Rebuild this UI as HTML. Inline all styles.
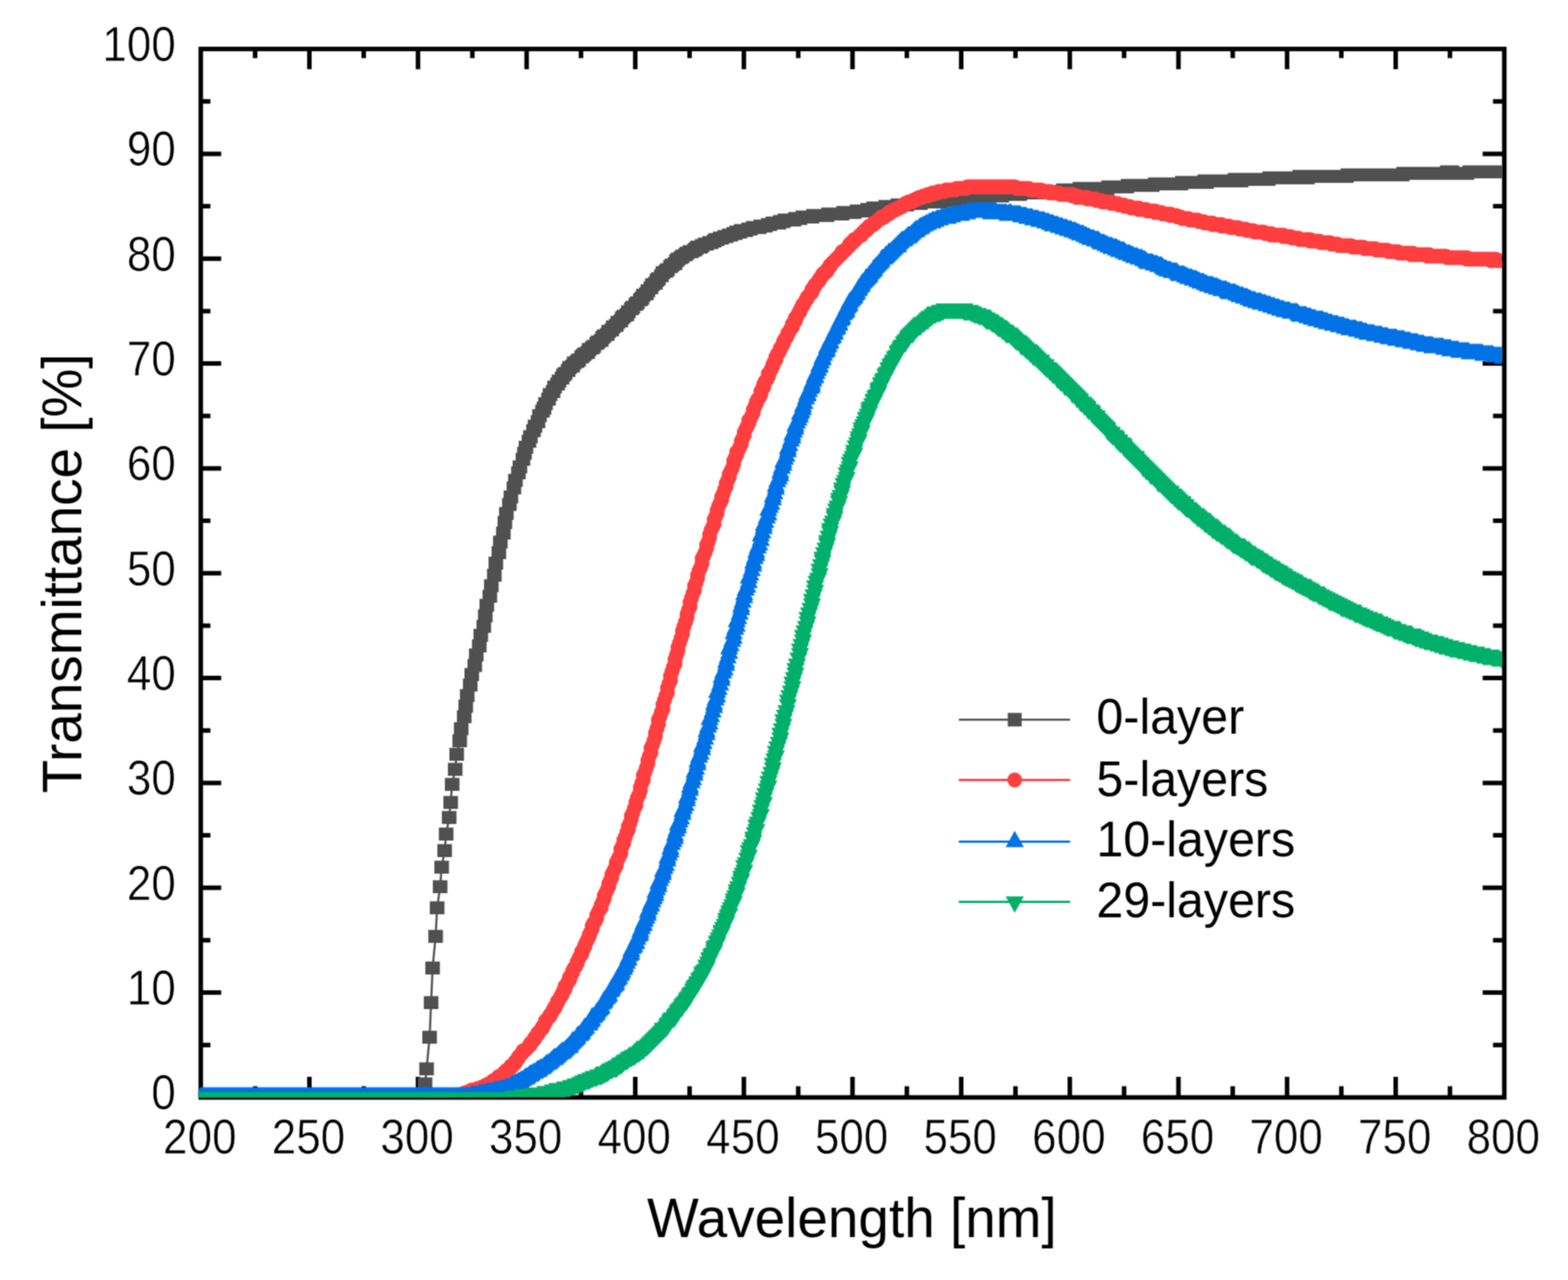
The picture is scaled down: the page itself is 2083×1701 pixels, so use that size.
<!DOCTYPE html>
<html lang="en">
<head>
<meta charset="utf-8">
<title>Transmittance vs Wavelength</title>
<style>
html,body{margin:0;padding:0;background:#fff;}
body{width:2083px;height:1701px;overflow:hidden;}
svg{display:block;}
text{font-family:"Liberation Sans", Arial, Helvetica, sans-serif;fill:#000;}
.tk{font-size:64.6px;stroke:#fff;stroke-width:0.7px;}
.ti{font-size:73.5px;}
.lg{font-size:67px;}
</style>
</head>
<body>
<svg xmlns="http://www.w3.org/2000/svg" width="2083" height="1701" viewBox="0 0 2083 1701">
<defs><clipPath id="pc"><rect x="263.4" y="61.8" width="1731.8" height="1396.4"/></clipPath><filter id="soft" filterUnits="userSpaceOnUse" x="0" y="0" width="2083" height="1701" color-interpolation-filters="sRGB"><feConvolveMatrix order="3" kernelMatrix="1 2 1 2 4 2 1 2 1" edgeMode="duplicate" preserveAlpha="true"/></filter></defs>
<g id="chart" filter="url(#soft)">
<rect x="0" y="0" width="2083" height="1701" fill="#fff"/>
<g id="axes">
<rect x="266.7" y="65.1" width="1731.7" height="1393.3" fill="none" stroke="#000" stroke-width="6.0"/>
<path d="M338.9,1458.4v-14.8M338.9,65.1v12.2M411,1458.4v-27.5M411,65.1v26.8M483.2,1458.4v-14.8M483.2,65.1v12.2M555.3,1458.4v-27.5M555.3,65.1v26.8M627.5,1458.4v-14.8M627.5,65.1v12.2M699.6,1458.4v-27.5M699.6,65.1v26.8M771.8,1458.4v-14.8M771.8,65.1v12.2M843.9,1458.4v-27.5M843.9,65.1v26.8M916.1,1458.4v-14.8M916.1,65.1v12.2M988.2,1458.4v-27.5M988.2,65.1v26.8M1060.4,1458.4v-14.8M1060.4,65.1v12.2M1132.5,1458.4v-27.5M1132.5,65.1v26.8M1204.7,1458.4v-14.8M1204.7,65.1v12.2M1276.9,1458.4v-27.5M1276.9,65.1v26.8M1349,1458.4v-14.8M1349,65.1v12.2M1421.2,1458.4v-27.5M1421.2,65.1v26.8M1493.3,1458.4v-14.8M1493.3,65.1v12.2M1565.5,1458.4v-27.5M1565.5,65.1v26.8M1637.6,1458.4v-14.8M1637.6,65.1v12.2M1709.8,1458.4v-27.5M1709.8,65.1v26.8M1781.9,1458.4v-14.8M1781.9,65.1v12.2M1854.1,1458.4v-27.5M1854.1,65.1v26.8M1926.2,1458.4v-14.8M1926.2,65.1v12.2M266.7,1388.7h12.8M1998.4,1388.7h-15M266.7,1319.1h27.1M1998.4,1319.1h-28.8M266.7,1249.4h12.8M1998.4,1249.4h-15M266.7,1179.7h27.1M1998.4,1179.7h-28.8M266.7,1110.1h12.8M1998.4,1110.1h-15M266.7,1040.4h27.1M1998.4,1040.4h-28.8M266.7,970.7h12.8M1998.4,970.7h-15M266.7,901.1h27.1M1998.4,901.1h-28.8M266.7,831.4h12.8M1998.4,831.4h-15M266.7,761.8h27.1M1998.4,761.8h-28.8M266.7,692.1h12.8M1998.4,692.1h-15M266.7,622.4h27.1M1998.4,622.4h-28.8M266.7,552.8h12.8M1998.4,552.8h-15M266.7,483.1h27.1M1998.4,483.1h-28.8M266.7,413.4h12.8M1998.4,413.4h-15M266.7,343.8h27.1M1998.4,343.8h-28.8M266.7,274.1h12.8M1998.4,274.1h-15M266.7,204.4h27.1M1998.4,204.4h-28.8M266.7,134.8h12.8M1998.4,134.8h-15" fill="none" stroke="#000" stroke-width="6.0"/>
</g>
<g id="curves" clip-path="url(#pc)">
<g fill="#505050" stroke="none"><path d="M266.7,1458.4 268.7,1458.4 272.7,1458.4 274.7,1458.4 278.7,1458.4 280.7,1458.4 284.7,1458.4 286.7,1458.4 290.7,1458.4 292.7,1458.4 294.7,1458.4 298.7,1458.4 300.7,1458.4 304.7,1458.4 306.7,1458.4 310.7,1458.4 312.7,1458.4 316.7,1458.4 318.7,1458.4 320.7,1458.4 324.7,1458.4 326.7,1458.4 330.7,1458.4 332.7,1458.4 336.7,1458.4 338.7,1458.4 342.7,1458.4 344.7,1458.4 346.7,1458.4 350.7,1458.4 352.7,1458.4 356.7,1458.4 358.7,1458.4 362.7,1458.4 364.7,1458.4 368.7,1458.4 370.7,1458.4 372.7,1458.4 376.7,1458.4 378.7,1458.4 382.7,1458.4 384.7,1458.4 388.7,1458.4 390.7,1458.4 392.7,1458.4 396.7,1458.4 398.7,1458.4 402.7,1458.4 404.7,1458.4 408.7,1458.4 410.7,1458.4 414.7,1458.4 416.7,1458.4 418.7,1458.4 422.7,1458.4 424.7,1458.4 428.7,1458.4 430.7,1458.4 434.7,1458.4 436.7,1458.4 440.7,1458.4 442.7,1458.4 444.7,1458.4 448.7,1458.4 450.7,1458.4 454.7,1458.4 456.7,1458.4 460.7,1458.4 462.7,1458.4 466.7,1458.4 468.7,1458.4 470.7,1458.4 474.7,1458.4 476.7,1458.4 480.7,1458.4 482.7,1458.4 486.7,1458.4 488.7,1458.4 492.7,1458.4 494.7,1458.4 496.7,1458.4 500.7,1458.4 502.7,1458.4 506.7,1458.4 508.7,1458.4 512.7,1458.4 514.7,1458.4 518.7,1458.4 520.7,1458.4 522.7,1458.4 526.7,1458.4 528.7,1458.4 532.7,1458.4 534.7,1458.4 538.7,1458.4 540.7,1458.4 544.7,1458.4 546.7,1458.4 548.7,1458.4 552.7,1458.4 554.7,1458.4 558.7,1458.4 560.7,1456.4 564.7,1440.4 566.7,1420.4 570.7,1378.4 572.7,1332.4 574.7,1286.4 578.7,1244.4 580.7,1206.4 584.7,1178.4 586.7,1152.4 590.7,1130.4 592.7,1108.4 596.7,1086.4 598.7,1066.4 600.7,1042.4 604.7,1022.4 606.7,1002.4 610.7,984.4 612.7,968.4 616.7,952.4 618.7,938.4 620.7,924.4 624.7,910.4 626.7,896.4 630.7,884.4 632.7,870.4 636.7,858.4 638.7,844.4 642.7,832.4 644.7,818.4 646.7,804.4 650.7,792.4 652.7,778.4 656.7,764.4 658.7,748.4 662.7,734.4 664.7,720.4 668.7,708.4 670.7,694.4 672.7,682.4 676.7,670.4 678.7,660.4 682.7,648.4 684.7,638.4 688.7,628.4 690.7,620.4 694.7,610.4 696.7,602.4 698.7,594.4 702.7,586.4 704.7,580.4 708.7,572.4 710.7,566.4 714.7,560.4 716.7,552.4 720.7,546.4 722.7,542.4 724.7,536.4 728.7,530.4 730.7,524.4 734.7,520.4 736.7,514.4 740.7,510.4 742.7,506.4 746.7,502.4 748.7,498.4 750.7,496.4 754.7,492.4 756.7,488.4 760.7,486.4 762.7,482.4 766.7,480.4 768.7,478.4 772.7,474.4 774.7,472.4 776.7,470.4 780.7,468.4 782.7,464.4 786.7,462.4 788.7,460.4 792.7,456.4 794.7,454.4 798.7,452.4 800.7,448.4 802.7,446.4 806.7,444.4 808.7,440.4 812.7,438.4 814.7,434.4 818.7,432.4 820.7,428.4 824.7,426.4 826.7,422.4 828.7,420.4 832.7,418.4 834.7,414.4 838.7,410.4 840.7,408.4 844.7,404.4 846.7,402.4 850.7,398.4 852.7,396.4 854.7,392.4 858.7,390.4 860.7,386.4 864.7,382.4 866.7,378.4 870.7,376.4 872.7,372.4 874.7,370.4 878.7,366.4 880.7,362.4 884.7,360.4 886.7,358.4 890.7,354.4 892.7,352.4 896.7,350.4 898.7,346.4 900.7,344.4 904.7,342.4 906.7,340.4 910.7,338.4 912.7,336.4 916.7,334.4 918.7,334.4 922.7,332.4 924.7,330.4 926.7,328.4 930.7,328.4 932.7,326.4 936.7,324.4 938.7,324.4 942.7,322.4 944.7,322.4 948.7,320.4 950.7,318.4 952.7,318.4 956.7,316.4 958.7,316.4 962.7,314.4 964.7,314.4 968.7,312.4 970.7,312.4 974.7,310.4 976.7,310.4 978.7,308.4 982.7,308.4 984.7,306.4 988.7,306.4 990.7,306.4 994.7,304.4 996.7,304.4 1000.7,302.4 1002.7,302.4 1004.7,302.4 1008.7,302.4 1010.7,300.4 1014.7,300.4 1016.7,300.4 1020.7,298.4 1022.7,298.4 1026.7,296.4 1028.7,296.4 1030.7,296.4 1034.7,296.4 1036.7,294.4 1040.7,294.4 1042.7,292.4 1046.7,292.4 1048.7,292.4 1052.7,292.4 1054.7,292.4 1056.7,290.4 1060.7,290.4 1062.7,290.4 1066.7,288.4 1068.7,288.4 1072.7,288.4 1074.7,288.4 1078.7,288.4 1080.7,286.4 1082.7,286.4 1086.7,286.4 1088.7,286.4 1092.7,286.4 1094.7,286.4 1098.7,286.4 1100.7,284.4 1102.7,284.4 1106.7,284.4 1108.7,284.4 1112.7,284.4 1114.7,284.4 1118.7,284.4 1120.7,282.4 1124.7,282.4 1126.7,282.4 1128.7,282.4 1132.7,282.4 1134.7,282.4 1138.7,280.4 1140.7,280.4 1144.7,280.4 1146.7,280.4 1150.7,280.4 1152.7,278.4 1154.7,278.4 1158.7,278.4 1160.7,276.4 1164.7,276.4 1166.7,276.4 1170.7,276.4 1172.7,276.4 1176.7,274.4 1178.7,274.4 1180.7,274.4 1184.7,274.4 1186.7,274.4 1190.7,274.4 1192.7,272.4 1196.7,272.4 1198.7,272.4 1202.7,272.4 1204.7,272.4 1206.7,270.4 1210.7,270.4 1212.7,270.4 1216.7,270.4 1218.7,270.4 1222.7,270.4 1224.7,268.4 1228.7,268.4 1230.7,268.4 1232.7,268.4 1236.7,268.4 1238.7,268.4 1242.7,268.4 1244.7,268.4 1248.7,268.4 1250.7,266.4 1254.7,266.4 1256.7,266.4 1258.7,266.4 1262.7,264.4 1264.7,266.4 1268.7,266.4 1270.7,264.4 1274.7,264.4 1276.7,264.4 1280.7,264.4 1282.7,264.4 1284.7,264.4 1288.7,262.4 1290.7,262.4 1294.7,262.4 1296.7,262.4 1300.7,262.4 1302.7,262.4 1306.7,262.4 1308.7,262.4 1310.7,262.4 1314.7,260.4 1316.7,260.4 1320.7,260.4 1322.7,260.4 1326.7,260.4 1328.7,260.4 1330.7,260.4 1334.7,258.4 1336.7,258.4 1340.7,258.4 1342.7,258.4 1346.7,258.4 1348.7,258.4 1352.7,258.4 1354.7,258.4 1356.7,256.4 1360.7,256.4 1362.7,256.4 1366.7,256.4 1368.7,256.4 1372.7,256.4 1374.7,256.4 1378.7,256.4 1380.7,256.4 1382.7,256.4 1386.7,254.4 1388.7,254.4 1392.7,254.4 1394.7,254.4 1398.7,254.4 1400.7,254.4 1404.7,254.4 1406.7,254.4 1408.7,254.4 1412.7,252.4 1414.7,252.4 1418.7,252.4 1420.7,252.4 1424.7,252.4 1426.7,252.4 1430.7,252.4 1432.7,252.4 1434.7,250.4 1438.7,250.4 1440.7,250.4 1444.7,250.4 1446.7,250.4 1450.7,250.4 1452.7,250.4 1456.7,250.4 1458.7,250.4 1460.7,250.4 1464.7,250.4 1466.7,250.4 1470.7,250.4 1472.7,248.4 1476.7,248.4 1478.7,248.4 1482.7,248.4 1484.7,248.4 1486.7,248.4 1490.7,248.4 1492.7,248.4 1496.7,248.4 1498.7,246.4 1502.7,246.4 1504.7,246.4 1508.7,246.4 1510.7,246.4 1512.7,246.4 1516.7,246.4 1518.7,246.4 1522.7,246.4 1524.7,246.4 1528.7,246.4 1530.7,246.4 1534.7,244.4 1536.7,244.4 1538.7,244.4 1542.7,244.4 1544.7,244.4 1548.7,244.4 1550.7,244.4 1554.7,244.4 1556.7,244.4 1560.7,244.4 1562.7,244.4 1564.7,244.4 1568.7,244.4 1570.7,242.4 1574.7,242.4 1576.7,242.4 1580.7,242.4 1582.7,242.4 1584.7,242.4 1588.7,242.4 1590.7,242.4 1594.7,242.4 1596.7,242.4 1600.7,240.4 1602.7,242.4 1606.7,240.4 1608.7,240.4 1610.7,240.4 1614.7,240.4 1616.7,240.4 1620.7,240.4 1622.7,240.4 1626.7,240.4 1628.7,240.4 1632.7,240.4 1634.7,240.4 1636.7,240.4 1640.7,238.4 1642.7,238.4 1646.7,238.4 1648.7,240.4 1652.7,238.4 1654.7,238.4 1658.7,238.4 1660.7,238.4 1662.7,238.4 1666.7,238.4 1668.7,238.4 1672.7,238.4 1674.7,238.4 1678.7,238.4 1680.7,238.4 1684.7,238.4 1686.7,236.4 1688.7,236.4 1692.7,236.4 1694.7,236.4 1698.7,236.4 1700.7,236.4 1704.7,236.4 1706.7,236.4 1710.7,236.4 1712.7,236.4 1714.7,236.4 1718.7,236.4 1720.7,236.4 1724.7,236.4 1726.7,234.4 1730.7,234.4 1732.7,234.4 1736.7,236.4 1738.7,234.4 1740.7,234.4 1744.7,234.4 1746.7,234.4 1750.7,234.4 1752.7,234.4 1756.7,234.4 1758.7,234.4 1762.7,234.4 1764.7,234.4 1766.7,234.4 1770.7,234.4 1772.7,234.4 1776.7,234.4 1778.7,234.4 1782.7,234.4 1784.7,234.4 1788.7,234.4 1790.7,232.4 1792.7,232.4 1796.7,232.4 1798.7,232.4 1802.7,232.4 1804.7,232.4 1808.7,232.4 1810.7,232.4 1812.7,232.4 1816.7,232.4 1818.7,232.4 1822.7,232.4 1824.7,232.4 1828.7,232.4 1830.7,232.4 1834.7,232.4 1836.7,232.4 1838.7,232.4 1842.7,232.4 1844.7,232.4 1848.7,232.4 1850.7,232.4 1854.7,232.4 1856.7,232.4 1860.7,232.4 1862.7,232.4 1864.7,230.4 1868.7,230.4 1870.7,230.4 1874.7,230.4 1876.7,230.4 1880.7,230.4 1882.7,230.4 1886.7,230.4 1888.7,230.4 1890.7,230.4 1894.7,230.4 1896.7,230.4 1900.7,230.4 1902.7,230.4 1906.7,230.4 1908.7,230.4 1912.7,230.4 1914.7,230.4 1916.7,230.4 1920.7,230.4 1922.7,228.4 1926.7,230.4 1928.7,228.4 1932.7,230.4 1934.7,230.4 1938.7,230.4 1940.7,230.4 1942.7,230.4 1946.7,230.4 1948.7,230.4 1952.7,228.4 1954.7,228.4 1958.7,228.4 1960.7,228.4 1964.7,228.4 1966.7,228.4 1968.7,228.4 1972.7,228.4 1974.7,228.4 1978.7,228.4 1980.7,228.4 1984.7,228.4 1986.7,228.4 1990.7,228.4 1992.7,228.4 1994.7,228.4 1998.7,228.4" fill="none" stroke="#505050" stroke-width="2.8"/><path d="M257,1449.8h19.4v17.2h-19.4zM259,1449.8h19.4v17.2h-19.4zM263,1449.8h19.4v17.2h-19.4zM265,1449.8h19.4v17.2h-19.4zM269,1449.8h19.4v17.2h-19.4zM271,1449.8h19.4v17.2h-19.4zM275,1449.8h19.4v17.2h-19.4zM277,1449.8h19.4v17.2h-19.4zM281,1449.8h19.4v17.2h-19.4zM283,1449.8h19.4v17.2h-19.4zM285,1449.8h19.4v17.2h-19.4zM289,1449.8h19.4v17.2h-19.4zM291,1449.8h19.4v17.2h-19.4zM295,1449.8h19.4v17.2h-19.4zM297,1449.8h19.4v17.2h-19.4zM301,1449.8h19.4v17.2h-19.4zM303,1449.8h19.4v17.2h-19.4zM307,1449.8h19.4v17.2h-19.4zM309,1449.8h19.4v17.2h-19.4zM311,1449.8h19.4v17.2h-19.4zM315,1449.8h19.4v17.2h-19.4zM317,1449.8h19.4v17.2h-19.4zM321,1449.8h19.4v17.2h-19.4zM323,1449.8h19.4v17.2h-19.4zM327,1449.8h19.4v17.2h-19.4zM329,1449.8h19.4v17.2h-19.4zM333,1449.8h19.4v17.2h-19.4zM335,1449.8h19.4v17.2h-19.4zM337,1449.8h19.4v17.2h-19.4zM341,1449.8h19.4v17.2h-19.4zM343,1449.8h19.4v17.2h-19.4zM347,1449.8h19.4v17.2h-19.4zM349,1449.8h19.4v17.2h-19.4zM353,1449.8h19.4v17.2h-19.4zM355,1449.8h19.4v17.2h-19.4zM359,1449.8h19.4v17.2h-19.4zM361,1449.8h19.4v17.2h-19.4zM363,1449.8h19.4v17.2h-19.4zM367,1449.8h19.4v17.2h-19.4zM369,1449.8h19.4v17.2h-19.4zM373,1449.8h19.4v17.2h-19.4zM375,1449.8h19.4v17.2h-19.4zM379,1449.8h19.4v17.2h-19.4zM381,1449.8h19.4v17.2h-19.4zM383,1449.8h19.4v17.2h-19.4zM387,1449.8h19.4v17.2h-19.4zM389,1449.8h19.4v17.2h-19.4zM393,1449.8h19.4v17.2h-19.4zM395,1449.8h19.4v17.2h-19.4zM399,1449.8h19.4v17.2h-19.4zM401,1449.8h19.4v17.2h-19.4zM405,1449.8h19.4v17.2h-19.4zM407,1449.8h19.4v17.2h-19.4zM409,1449.8h19.4v17.2h-19.4zM413,1449.8h19.4v17.2h-19.4zM415,1449.8h19.4v17.2h-19.4zM419,1449.8h19.4v17.2h-19.4zM421,1449.8h19.4v17.2h-19.4zM425,1449.8h19.4v17.2h-19.4zM427,1449.8h19.4v17.2h-19.4zM431,1449.8h19.4v17.2h-19.4zM433,1449.8h19.4v17.2h-19.4zM435,1449.8h19.4v17.2h-19.4zM439,1449.8h19.4v17.2h-19.4zM441,1449.8h19.4v17.2h-19.4zM445,1449.8h19.4v17.2h-19.4zM447,1449.8h19.4v17.2h-19.4zM451,1449.8h19.4v17.2h-19.4zM453,1449.8h19.4v17.2h-19.4zM457,1449.8h19.4v17.2h-19.4zM459,1449.8h19.4v17.2h-19.4zM461,1449.8h19.4v17.2h-19.4zM465,1449.8h19.4v17.2h-19.4zM467,1449.8h19.4v17.2h-19.4zM471,1449.8h19.4v17.2h-19.4zM473,1449.8h19.4v17.2h-19.4zM477,1449.8h19.4v17.2h-19.4zM479,1449.8h19.4v17.2h-19.4zM483,1449.8h19.4v17.2h-19.4zM485,1449.8h19.4v17.2h-19.4zM487,1449.8h19.4v17.2h-19.4zM491,1449.8h19.4v17.2h-19.4zM493,1449.8h19.4v17.2h-19.4zM497,1449.8h19.4v17.2h-19.4zM499,1449.8h19.4v17.2h-19.4zM503,1449.8h19.4v17.2h-19.4zM505,1449.8h19.4v17.2h-19.4zM509,1449.8h19.4v17.2h-19.4zM511,1449.8h19.4v17.2h-19.4zM513,1449.8h19.4v17.2h-19.4zM517,1449.8h19.4v17.2h-19.4zM519,1449.8h19.4v17.2h-19.4zM523,1449.8h19.4v17.2h-19.4zM525,1449.8h19.4v17.2h-19.4zM529,1449.8h19.4v17.2h-19.4zM531,1449.8h19.4v17.2h-19.4zM535,1449.8h19.4v17.2h-19.4zM537,1449.8h19.4v17.2h-19.4zM539,1449.8h19.4v17.2h-19.4zM543,1449.8h19.4v17.2h-19.4zM545,1449.8h19.4v17.2h-19.4zM549,1449.8h19.4v17.2h-19.4zM551,1447.8h19.4v17.2h-19.4zM555,1431.8h19.4v17.2h-19.4zM557,1411.8h19.4v17.2h-19.4zM561,1369.8h19.4v17.2h-19.4zM563,1323.8h19.4v17.2h-19.4zM565,1277.8h19.4v17.2h-19.4zM569,1235.8h19.4v17.2h-19.4zM571,1197.8h19.4v17.2h-19.4zM575,1169.8h19.4v17.2h-19.4zM577,1143.8h19.4v17.2h-19.4zM581,1121.8h19.4v17.2h-19.4zM583,1099.8h19.4v17.2h-19.4zM587,1077.8h19.4v17.2h-19.4zM589,1057.8h19.4v17.2h-19.4zM591,1033.8h19.4v17.2h-19.4zM595,1013.8h19.4v17.2h-19.4zM597,993.8h19.4v17.2h-19.4zM601,975.8h19.4v17.2h-19.4zM603,959.8h19.4v17.2h-19.4zM607,943.8h19.4v17.2h-19.4zM609,929.8h19.4v17.2h-19.4zM611,915.8h19.4v17.2h-19.4zM615,901.8h19.4v17.2h-19.4zM617,887.8h19.4v17.2h-19.4zM621,875.8h19.4v17.2h-19.4zM623,861.8h19.4v17.2h-19.4zM627,849.8h19.4v17.2h-19.4zM629,835.8h19.4v17.2h-19.4zM633,823.8h19.4v17.2h-19.4zM635,809.8h19.4v17.2h-19.4zM637,795.8h19.4v17.2h-19.4zM641,783.8h19.4v17.2h-19.4zM643,769.8h19.4v17.2h-19.4zM647,755.8h19.4v17.2h-19.4zM649,739.8h19.4v17.2h-19.4zM653,725.8h19.4v17.2h-19.4zM655,711.8h19.4v17.2h-19.4zM659,699.8h19.4v17.2h-19.4zM661,685.8h19.4v17.2h-19.4zM663,673.8h19.4v17.2h-19.4zM667,661.8h19.4v17.2h-19.4zM669,651.8h19.4v17.2h-19.4zM673,639.8h19.4v17.2h-19.4zM675,629.8h19.4v17.2h-19.4zM679,619.8h19.4v17.2h-19.4zM681,611.8h19.4v17.2h-19.4zM685,601.8h19.4v17.2h-19.4zM687,593.8h19.4v17.2h-19.4zM689,585.8h19.4v17.2h-19.4zM693,577.8h19.4v17.2h-19.4zM695,571.8h19.4v17.2h-19.4zM699,563.8h19.4v17.2h-19.4zM701,557.8h19.4v17.2h-19.4zM705,551.8h19.4v17.2h-19.4zM707,543.8h19.4v17.2h-19.4zM711,537.8h19.4v17.2h-19.4zM713,533.8h19.4v17.2h-19.4zM715,527.8h19.4v17.2h-19.4zM719,521.8h19.4v17.2h-19.4zM721,515.8h19.4v17.2h-19.4zM725,511.8h19.4v17.2h-19.4zM727,505.8h19.4v17.2h-19.4zM731,501.8h19.4v17.2h-19.4zM733,497.8h19.4v17.2h-19.4zM737,493.8h19.4v17.2h-19.4zM739,489.8h19.4v17.2h-19.4zM741,487.8h19.4v17.2h-19.4zM745,483.8h19.4v17.2h-19.4zM747,479.8h19.4v17.2h-19.4zM751,477.8h19.4v17.2h-19.4zM753,473.8h19.4v17.2h-19.4zM757,471.8h19.4v17.2h-19.4zM759,469.8h19.4v17.2h-19.4zM763,465.8h19.4v17.2h-19.4zM765,463.8h19.4v17.2h-19.4zM767,461.8h19.4v17.2h-19.4zM771,459.8h19.4v17.2h-19.4zM773,455.8h19.4v17.2h-19.4zM777,453.8h19.4v17.2h-19.4zM779,451.8h19.4v17.2h-19.4zM783,447.8h19.4v17.2h-19.4zM785,445.8h19.4v17.2h-19.4zM789,443.8h19.4v17.2h-19.4zM791,439.8h19.4v17.2h-19.4zM793,437.8h19.4v17.2h-19.4zM797,435.8h19.4v17.2h-19.4zM799,431.8h19.4v17.2h-19.4zM803,429.8h19.4v17.2h-19.4zM805,425.8h19.4v17.2h-19.4zM809,423.8h19.4v17.2h-19.4zM811,419.8h19.4v17.2h-19.4zM815,417.8h19.4v17.2h-19.4zM817,413.8h19.4v17.2h-19.4zM819,411.8h19.4v17.2h-19.4zM823,409.8h19.4v17.2h-19.4zM825,405.8h19.4v17.2h-19.4zM829,401.8h19.4v17.2h-19.4zM831,399.8h19.4v17.2h-19.4zM835,395.8h19.4v17.2h-19.4zM837,393.8h19.4v17.2h-19.4zM841,389.8h19.4v17.2h-19.4zM843,387.8h19.4v17.2h-19.4zM845,383.8h19.4v17.2h-19.4zM849,381.8h19.4v17.2h-19.4zM851,377.8h19.4v17.2h-19.4zM855,373.8h19.4v17.2h-19.4zM857,369.8h19.4v17.2h-19.4zM861,367.8h19.4v17.2h-19.4zM863,363.8h19.4v17.2h-19.4zM865,361.8h19.4v17.2h-19.4zM869,357.8h19.4v17.2h-19.4zM871,353.8h19.4v17.2h-19.4zM875,351.8h19.4v17.2h-19.4zM877,349.8h19.4v17.2h-19.4zM881,345.8h19.4v17.2h-19.4zM883,343.8h19.4v17.2h-19.4zM887,341.8h19.4v17.2h-19.4zM889,337.8h19.4v17.2h-19.4zM891,335.8h19.4v17.2h-19.4zM895,333.8h19.4v17.2h-19.4zM897,331.8h19.4v17.2h-19.4zM901,329.8h19.4v17.2h-19.4zM903,327.8h19.4v17.2h-19.4zM907,325.8h19.4v17.2h-19.4zM909,325.8h19.4v17.2h-19.4zM913,323.8h19.4v17.2h-19.4zM915,321.8h19.4v17.2h-19.4zM917,319.8h19.4v17.2h-19.4zM921,319.8h19.4v17.2h-19.4zM923,317.8h19.4v17.2h-19.4zM927,315.8h19.4v17.2h-19.4zM929,315.8h19.4v17.2h-19.4zM933,313.8h19.4v17.2h-19.4zM935,313.8h19.4v17.2h-19.4zM939,311.8h19.4v17.2h-19.4zM941,309.8h19.4v17.2h-19.4zM943,309.8h19.4v17.2h-19.4zM947,307.8h19.4v17.2h-19.4zM949,307.8h19.4v17.2h-19.4zM953,305.8h19.4v17.2h-19.4zM955,305.8h19.4v17.2h-19.4zM959,303.8h19.4v17.2h-19.4zM961,303.8h19.4v17.2h-19.4zM965,301.8h19.4v17.2h-19.4zM967,301.8h19.4v17.2h-19.4zM969,299.8h19.4v17.2h-19.4zM973,299.8h19.4v17.2h-19.4zM975,297.8h19.4v17.2h-19.4zM979,297.8h19.4v17.2h-19.4zM981,297.8h19.4v17.2h-19.4zM985,295.8h19.4v17.2h-19.4zM987,295.8h19.4v17.2h-19.4zM991,293.8h19.4v17.2h-19.4zM993,293.8h19.4v17.2h-19.4zM995,293.8h19.4v17.2h-19.4zM999,293.8h19.4v17.2h-19.4zM1001,291.8h19.4v17.2h-19.4zM1005,291.8h19.4v17.2h-19.4zM1007,291.8h19.4v17.2h-19.4zM1011,289.8h19.4v17.2h-19.4zM1013,289.8h19.4v17.2h-19.4zM1017,287.8h19.4v17.2h-19.4zM1019,287.8h19.4v17.2h-19.4zM1021,287.8h19.4v17.2h-19.4zM1025,287.8h19.4v17.2h-19.4zM1027,285.8h19.4v17.2h-19.4zM1031,285.8h19.4v17.2h-19.4zM1033,283.8h19.4v17.2h-19.4zM1037,283.8h19.4v17.2h-19.4zM1039,283.8h19.4v17.2h-19.4zM1043,283.8h19.4v17.2h-19.4zM1045,283.8h19.4v17.2h-19.4zM1047,281.8h19.4v17.2h-19.4zM1051,281.8h19.4v17.2h-19.4zM1053,281.8h19.4v17.2h-19.4zM1057,279.8h19.4v17.2h-19.4zM1059,279.8h19.4v17.2h-19.4zM1063,279.8h19.4v17.2h-19.4zM1065,279.8h19.4v17.2h-19.4zM1069,279.8h19.4v17.2h-19.4zM1071,277.8h19.4v17.2h-19.4zM1073,277.8h19.4v17.2h-19.4zM1077,277.8h19.4v17.2h-19.4zM1079,277.8h19.4v17.2h-19.4zM1083,277.8h19.4v17.2h-19.4zM1085,277.8h19.4v17.2h-19.4zM1089,277.8h19.4v17.2h-19.4zM1091,275.8h19.4v17.2h-19.4zM1093,275.8h19.4v17.2h-19.4zM1097,275.8h19.4v17.2h-19.4zM1099,275.8h19.4v17.2h-19.4zM1103,275.8h19.4v17.2h-19.4zM1105,275.8h19.4v17.2h-19.4zM1109,275.8h19.4v17.2h-19.4zM1111,273.8h19.4v17.2h-19.4zM1115,273.8h19.4v17.2h-19.4zM1117,273.8h19.4v17.2h-19.4zM1119,273.8h19.4v17.2h-19.4zM1123,273.8h19.4v17.2h-19.4zM1125,273.8h19.4v17.2h-19.4zM1129,271.8h19.4v17.2h-19.4zM1131,271.8h19.4v17.2h-19.4zM1135,271.8h19.4v17.2h-19.4zM1137,271.8h19.4v17.2h-19.4zM1141,271.8h19.4v17.2h-19.4zM1143,269.8h19.4v17.2h-19.4zM1145,269.8h19.4v17.2h-19.4zM1149,269.8h19.4v17.2h-19.4zM1151,267.8h19.4v17.2h-19.4zM1155,267.8h19.4v17.2h-19.4zM1157,267.8h19.4v17.2h-19.4zM1161,267.8h19.4v17.2h-19.4zM1163,267.8h19.4v17.2h-19.4zM1167,265.8h19.4v17.2h-19.4zM1169,265.8h19.4v17.2h-19.4zM1171,265.8h19.4v17.2h-19.4zM1175,265.8h19.4v17.2h-19.4zM1177,265.8h19.4v17.2h-19.4zM1181,265.8h19.4v17.2h-19.4zM1183,263.8h19.4v17.2h-19.4zM1187,263.8h19.4v17.2h-19.4zM1189,263.8h19.4v17.2h-19.4zM1193,263.8h19.4v17.2h-19.4zM1195,263.8h19.4v17.2h-19.4zM1197,261.8h19.4v17.2h-19.4zM1201,261.8h19.4v17.2h-19.4zM1203,261.8h19.4v17.2h-19.4zM1207,261.8h19.4v17.2h-19.4zM1209,261.8h19.4v17.2h-19.4zM1213,261.8h19.4v17.2h-19.4zM1215,259.8h19.4v17.2h-19.4zM1219,259.8h19.4v17.2h-19.4zM1221,259.8h19.4v17.2h-19.4zM1223,259.8h19.4v17.2h-19.4zM1227,259.8h19.4v17.2h-19.4zM1229,259.8h19.4v17.2h-19.4zM1233,259.8h19.4v17.2h-19.4zM1235,259.8h19.4v17.2h-19.4zM1239,259.8h19.4v17.2h-19.4zM1241,257.8h19.4v17.2h-19.4zM1245,257.8h19.4v17.2h-19.4zM1247,257.8h19.4v17.2h-19.4zM1249,257.8h19.4v17.2h-19.4zM1253,255.8h19.4v17.2h-19.4zM1255,257.8h19.4v17.2h-19.4zM1259,257.8h19.4v17.2h-19.4zM1261,255.8h19.4v17.2h-19.4zM1265,255.8h19.4v17.2h-19.4zM1267,255.8h19.4v17.2h-19.4zM1271,255.8h19.4v17.2h-19.4zM1273,255.8h19.4v17.2h-19.4zM1275,255.8h19.4v17.2h-19.4zM1279,253.8h19.4v17.2h-19.4zM1281,253.8h19.4v17.2h-19.4zM1285,253.8h19.4v17.2h-19.4zM1287,253.8h19.4v17.2h-19.4zM1291,253.8h19.4v17.2h-19.4zM1293,253.8h19.4v17.2h-19.4zM1297,253.8h19.4v17.2h-19.4zM1299,253.8h19.4v17.2h-19.4zM1301,253.8h19.4v17.2h-19.4zM1305,251.8h19.4v17.2h-19.4zM1307,251.8h19.4v17.2h-19.4zM1311,251.8h19.4v17.2h-19.4zM1313,251.8h19.4v17.2h-19.4zM1317,251.8h19.4v17.2h-19.4zM1319,251.8h19.4v17.2h-19.4zM1321,251.8h19.4v17.2h-19.4zM1325,249.8h19.4v17.2h-19.4zM1327,249.8h19.4v17.2h-19.4zM1331,249.8h19.4v17.2h-19.4zM1333,249.8h19.4v17.2h-19.4zM1337,249.8h19.4v17.2h-19.4zM1339,249.8h19.4v17.2h-19.4zM1343,249.8h19.4v17.2h-19.4zM1345,249.8h19.4v17.2h-19.4zM1347,247.8h19.4v17.2h-19.4zM1351,247.8h19.4v17.2h-19.4zM1353,247.8h19.4v17.2h-19.4zM1357,247.8h19.4v17.2h-19.4zM1359,247.8h19.4v17.2h-19.4zM1363,247.8h19.4v17.2h-19.4zM1365,247.8h19.4v17.2h-19.4zM1369,247.8h19.4v17.2h-19.4zM1371,247.8h19.4v17.2h-19.4zM1373,247.8h19.4v17.2h-19.4zM1377,245.8h19.4v17.2h-19.4zM1379,245.8h19.4v17.2h-19.4zM1383,245.8h19.4v17.2h-19.4zM1385,245.8h19.4v17.2h-19.4zM1389,245.8h19.4v17.2h-19.4zM1391,245.8h19.4v17.2h-19.4zM1395,245.8h19.4v17.2h-19.4zM1397,245.8h19.4v17.2h-19.4zM1399,245.8h19.4v17.2h-19.4zM1403,243.8h19.4v17.2h-19.4zM1405,243.8h19.4v17.2h-19.4zM1409,243.8h19.4v17.2h-19.4zM1411,243.8h19.4v17.2h-19.4zM1415,243.8h19.4v17.2h-19.4zM1417,243.8h19.4v17.2h-19.4zM1421,243.8h19.4v17.2h-19.4zM1423,243.8h19.4v17.2h-19.4zM1425,241.8h19.4v17.2h-19.4zM1429,241.8h19.4v17.2h-19.4zM1431,241.8h19.4v17.2h-19.4zM1435,241.8h19.4v17.2h-19.4zM1437,241.8h19.4v17.2h-19.4zM1441,241.8h19.4v17.2h-19.4zM1443,241.8h19.4v17.2h-19.4zM1447,241.8h19.4v17.2h-19.4zM1449,241.8h19.4v17.2h-19.4zM1451,241.8h19.4v17.2h-19.4zM1455,241.8h19.4v17.2h-19.4zM1457,241.8h19.4v17.2h-19.4zM1461,241.8h19.4v17.2h-19.4zM1463,239.8h19.4v17.2h-19.4zM1467,239.8h19.4v17.2h-19.4zM1469,239.8h19.4v17.2h-19.4zM1473,239.8h19.4v17.2h-19.4zM1475,239.8h19.4v17.2h-19.4zM1477,239.8h19.4v17.2h-19.4zM1481,239.8h19.4v17.2h-19.4zM1483,239.8h19.4v17.2h-19.4zM1487,239.8h19.4v17.2h-19.4zM1489,237.8h19.4v17.2h-19.4zM1493,237.8h19.4v17.2h-19.4zM1495,237.8h19.4v17.2h-19.4zM1499,237.8h19.4v17.2h-19.4zM1501,237.8h19.4v17.2h-19.4zM1503,237.8h19.4v17.2h-19.4zM1507,237.8h19.4v17.2h-19.4zM1509,237.8h19.4v17.2h-19.4zM1513,237.8h19.4v17.2h-19.4zM1515,237.8h19.4v17.2h-19.4zM1519,237.8h19.4v17.2h-19.4zM1521,237.8h19.4v17.2h-19.4zM1525,235.8h19.4v17.2h-19.4zM1527,235.8h19.4v17.2h-19.4zM1529,235.8h19.4v17.2h-19.4zM1533,235.8h19.4v17.2h-19.4zM1535,235.8h19.4v17.2h-19.4zM1539,235.8h19.4v17.2h-19.4zM1541,235.8h19.4v17.2h-19.4zM1545,235.8h19.4v17.2h-19.4zM1547,235.8h19.4v17.2h-19.4zM1551,235.8h19.4v17.2h-19.4zM1553,235.8h19.4v17.2h-19.4zM1555,235.8h19.4v17.2h-19.4zM1559,235.8h19.4v17.2h-19.4zM1561,233.8h19.4v17.2h-19.4zM1565,233.8h19.4v17.2h-19.4zM1567,233.8h19.4v17.2h-19.4zM1571,233.8h19.4v17.2h-19.4zM1573,233.8h19.4v17.2h-19.4zM1575,233.8h19.4v17.2h-19.4zM1579,233.8h19.4v17.2h-19.4zM1581,233.8h19.4v17.2h-19.4zM1585,233.8h19.4v17.2h-19.4zM1587,233.8h19.4v17.2h-19.4zM1591,231.8h19.4v17.2h-19.4zM1593,233.8h19.4v17.2h-19.4zM1597,231.8h19.4v17.2h-19.4zM1599,231.8h19.4v17.2h-19.4zM1601,231.8h19.4v17.2h-19.4zM1605,231.8h19.4v17.2h-19.4zM1607,231.8h19.4v17.2h-19.4zM1611,231.8h19.4v17.2h-19.4zM1613,231.8h19.4v17.2h-19.4zM1617,231.8h19.4v17.2h-19.4zM1619,231.8h19.4v17.2h-19.4zM1623,231.8h19.4v17.2h-19.4zM1625,231.8h19.4v17.2h-19.4zM1627,231.8h19.4v17.2h-19.4zM1631,229.8h19.4v17.2h-19.4zM1633,229.8h19.4v17.2h-19.4zM1637,229.8h19.4v17.2h-19.4zM1639,231.8h19.4v17.2h-19.4zM1643,229.8h19.4v17.2h-19.4zM1645,229.8h19.4v17.2h-19.4zM1649,229.8h19.4v17.2h-19.4zM1651,229.8h19.4v17.2h-19.4zM1653,229.8h19.4v17.2h-19.4zM1657,229.8h19.4v17.2h-19.4zM1659,229.8h19.4v17.2h-19.4zM1663,229.8h19.4v17.2h-19.4zM1665,229.8h19.4v17.2h-19.4zM1669,229.8h19.4v17.2h-19.4zM1671,229.8h19.4v17.2h-19.4zM1675,229.8h19.4v17.2h-19.4zM1677,227.8h19.4v17.2h-19.4zM1679,227.8h19.4v17.2h-19.4zM1683,227.8h19.4v17.2h-19.4zM1685,227.8h19.4v17.2h-19.4zM1689,227.8h19.4v17.2h-19.4zM1691,227.8h19.4v17.2h-19.4zM1695,227.8h19.4v17.2h-19.4zM1697,227.8h19.4v17.2h-19.4zM1701,227.8h19.4v17.2h-19.4zM1703,227.8h19.4v17.2h-19.4zM1705,227.8h19.4v17.2h-19.4zM1709,227.8h19.4v17.2h-19.4zM1711,227.8h19.4v17.2h-19.4zM1715,227.8h19.4v17.2h-19.4zM1717,225.8h19.4v17.2h-19.4zM1721,225.8h19.4v17.2h-19.4zM1723,225.8h19.4v17.2h-19.4zM1727,227.8h19.4v17.2h-19.4zM1729,225.8h19.4v17.2h-19.4zM1731,225.8h19.4v17.2h-19.4zM1735,225.8h19.4v17.2h-19.4zM1737,225.8h19.4v17.2h-19.4zM1741,225.8h19.4v17.2h-19.4zM1743,225.8h19.4v17.2h-19.4zM1747,225.8h19.4v17.2h-19.4zM1749,225.8h19.4v17.2h-19.4zM1753,225.8h19.4v17.2h-19.4zM1755,225.8h19.4v17.2h-19.4zM1757,225.8h19.4v17.2h-19.4zM1761,225.8h19.4v17.2h-19.4zM1763,225.8h19.4v17.2h-19.4zM1767,225.8h19.4v17.2h-19.4zM1769,225.8h19.4v17.2h-19.4zM1773,225.8h19.4v17.2h-19.4zM1775,225.8h19.4v17.2h-19.4zM1779,225.8h19.4v17.2h-19.4zM1781,223.8h19.4v17.2h-19.4zM1783,223.8h19.4v17.2h-19.4zM1787,223.8h19.4v17.2h-19.4zM1789,223.8h19.4v17.2h-19.4zM1793,223.8h19.4v17.2h-19.4zM1795,223.8h19.4v17.2h-19.4zM1799,223.8h19.4v17.2h-19.4zM1801,223.8h19.4v17.2h-19.4zM1803,223.8h19.4v17.2h-19.4zM1807,223.8h19.4v17.2h-19.4zM1809,223.8h19.4v17.2h-19.4zM1813,223.8h19.4v17.2h-19.4zM1815,223.8h19.4v17.2h-19.4zM1819,223.8h19.4v17.2h-19.4zM1821,223.8h19.4v17.2h-19.4zM1825,223.8h19.4v17.2h-19.4zM1827,223.8h19.4v17.2h-19.4zM1829,223.8h19.4v17.2h-19.4zM1833,223.8h19.4v17.2h-19.4zM1835,223.8h19.4v17.2h-19.4zM1839,223.8h19.4v17.2h-19.4zM1841,223.8h19.4v17.2h-19.4zM1845,223.8h19.4v17.2h-19.4zM1847,223.8h19.4v17.2h-19.4zM1851,223.8h19.4v17.2h-19.4zM1853,223.8h19.4v17.2h-19.4zM1855,221.8h19.4v17.2h-19.4zM1859,221.8h19.4v17.2h-19.4zM1861,221.8h19.4v17.2h-19.4zM1865,221.8h19.4v17.2h-19.4zM1867,221.8h19.4v17.2h-19.4zM1871,221.8h19.4v17.2h-19.4zM1873,221.8h19.4v17.2h-19.4zM1877,221.8h19.4v17.2h-19.4zM1879,221.8h19.4v17.2h-19.4zM1881,221.8h19.4v17.2h-19.4zM1885,221.8h19.4v17.2h-19.4zM1887,221.8h19.4v17.2h-19.4zM1891,221.8h19.4v17.2h-19.4zM1893,221.8h19.4v17.2h-19.4zM1897,221.8h19.4v17.2h-19.4zM1899,221.8h19.4v17.2h-19.4zM1903,221.8h19.4v17.2h-19.4zM1905,221.8h19.4v17.2h-19.4zM1907,221.8h19.4v17.2h-19.4zM1911,221.8h19.4v17.2h-19.4zM1913,219.8h19.4v17.2h-19.4zM1917,221.8h19.4v17.2h-19.4zM1919,219.8h19.4v17.2h-19.4zM1923,221.8h19.4v17.2h-19.4zM1925,221.8h19.4v17.2h-19.4zM1929,221.8h19.4v17.2h-19.4zM1931,221.8h19.4v17.2h-19.4zM1933,221.8h19.4v17.2h-19.4zM1937,221.8h19.4v17.2h-19.4zM1939,221.8h19.4v17.2h-19.4zM1943,219.8h19.4v17.2h-19.4zM1945,219.8h19.4v17.2h-19.4zM1949,219.8h19.4v17.2h-19.4zM1951,219.8h19.4v17.2h-19.4zM1955,219.8h19.4v17.2h-19.4zM1957,219.8h19.4v17.2h-19.4zM1959,219.8h19.4v17.2h-19.4zM1963,219.8h19.4v17.2h-19.4zM1965,219.8h19.4v17.2h-19.4zM1969,219.8h19.4v17.2h-19.4zM1971,219.8h19.4v17.2h-19.4zM1975,219.8h19.4v17.2h-19.4zM1977,219.8h19.4v17.2h-19.4zM1981,219.8h19.4v17.2h-19.4zM1983,219.8h19.4v17.2h-19.4zM1985,219.8h19.4v17.2h-19.4zM1989,219.8h19.4v17.2h-19.4z"/></g>
<g fill="#FE3E3F" stroke="none"><path d="M266.7,1458.4 268.7,1458.4 268.7,1458.4 270.7,1458.4 272.7,1458.4 274.7,1458.4 274.7,1458.4 276.7,1458.4 278.7,1458.4 278.7,1458.4 280.7,1458.4 282.7,1458.4 284.7,1458.4 284.7,1458.4 286.7,1458.4 288.7,1458.4 290.7,1458.4 290.7,1458.4 292.7,1458.4 294.7,1458.4 294.7,1458.4 296.7,1458.4 298.7,1458.4 300.7,1458.4 300.7,1458.4 302.7,1458.4 304.7,1458.4 304.7,1458.4 306.7,1458.4 308.7,1458.4 310.7,1458.4 310.7,1458.4 312.7,1458.4 314.7,1458.4 316.7,1458.4 316.7,1458.4 318.7,1458.4 320.7,1458.4 320.7,1458.4 322.7,1458.4 324.7,1458.4 326.7,1458.4 326.7,1458.4 328.7,1458.4 330.7,1458.4 330.7,1458.4 332.7,1458.4 334.7,1458.4 336.7,1458.4 336.7,1458.4 338.7,1458.4 340.7,1458.4 342.7,1458.4 342.7,1458.4 344.7,1458.4 346.7,1458.4 346.7,1458.4 348.7,1458.4 350.7,1458.4 352.7,1458.4 352.7,1458.4 354.7,1458.4 356.7,1458.4 356.7,1458.4 358.7,1458.4 360.7,1458.4 362.7,1458.4 362.7,1458.4 364.7,1458.4 366.7,1458.4 368.7,1458.4 368.7,1458.4 370.7,1458.4 372.7,1458.4 372.7,1458.4 374.7,1458.4 376.7,1458.4 378.7,1458.4 378.7,1458.4 380.7,1458.4 382.7,1458.4 382.7,1458.4 384.7,1458.4 386.7,1458.4 388.7,1458.4 388.7,1458.4 390.7,1458.4 392.7,1458.4 392.7,1458.4 394.7,1458.4 396.7,1458.4 398.7,1458.4 398.7,1458.4 400.7,1458.4 402.7,1458.4 404.7,1458.4 404.7,1458.4 406.7,1458.4 408.7,1458.4 408.7,1458.4 410.7,1458.4 412.7,1458.4 414.7,1458.4 414.7,1458.4 416.7,1458.4 418.7,1458.4 418.7,1458.4 420.7,1458.4 422.7,1458.4 424.7,1458.4 424.7,1458.4 426.7,1458.4 428.7,1458.4 430.7,1458.4 430.7,1458.4 432.7,1458.4 434.7,1458.4 434.7,1458.4 436.7,1458.4 438.7,1458.4 440.7,1458.4 440.7,1458.4 442.7,1458.4 444.7,1458.4 444.7,1458.4 446.7,1458.4 448.7,1458.4 450.7,1458.4 450.7,1458.4 452.7,1458.4 454.7,1458.4 456.7,1458.4 456.7,1458.4 458.7,1458.4 460.7,1458.4 460.7,1458.4 462.7,1458.4 464.7,1458.4 466.7,1458.4 466.7,1458.4 468.7,1458.4 470.7,1458.4 470.7,1458.4 472.7,1458.4 474.7,1458.4 476.7,1458.4 476.7,1458.4 478.7,1458.4 480.7,1458.4 482.7,1458.4 482.7,1458.4 484.7,1458.4 486.7,1458.4 486.7,1458.4 488.7,1458.4 490.7,1458.4 492.7,1458.4 492.7,1458.4 494.7,1458.4 496.7,1458.4 496.7,1458.4 498.7,1458.4 500.7,1458.4 502.7,1458.4 502.7,1458.4 504.7,1458.4 506.7,1458.4 506.7,1458.4 508.7,1458.4 510.7,1458.4 512.7,1458.4 512.7,1458.4 514.7,1458.4 516.7,1458.4 518.7,1458.4 518.7,1458.4 520.7,1458.4 522.7,1458.4 522.7,1458.4 524.7,1458.4 526.7,1458.4 528.7,1458.4 528.7,1458.4 530.7,1458.4 532.7,1458.4 532.7,1458.4 534.7,1458.4 536.7,1458.4 538.7,1458.4 538.7,1458.4 540.7,1458.4 542.7,1458.4 544.7,1458.4 544.7,1458.4 546.7,1458.4 548.7,1458.4 548.7,1458.4 550.7,1458.4 552.7,1458.4 554.7,1458.4 554.7,1458.4 556.7,1458.4 558.7,1458.4 558.7,1458.4 560.7,1458.4 562.7,1458.4 564.7,1458.4 564.7,1458.4 566.7,1458.4 568.7,1458.4 570.7,1458.4 570.7,1458.4 572.7,1458.4 574.7,1458.4 574.7,1458.4 576.7,1458.4 578.7,1458.4 580.7,1458.4 580.7,1458.4 582.7,1458.4 584.7,1458.4 584.7,1458.4 586.7,1458.4 588.7,1458.4 590.7,1458.4 590.7,1458.4 592.7,1458.4 594.7,1458.4 596.7,1458.4 596.7,1458.4 598.7,1458.4 600.7,1458.4 600.7,1458.4 602.7,1458.4 604.7,1456.4 606.7,1456.4 606.7,1456.4 608.7,1456.4 610.7,1456.4 610.7,1456.4 612.7,1454.4 614.7,1454.4 616.7,1454.4 616.7,1452.4 618.7,1452.4 620.7,1452.4 620.7,1452.4 622.7,1450.4 624.7,1450.4 626.7,1450.4 626.7,1448.4 628.7,1448.4 630.7,1448.4 632.7,1448.4 632.7,1448.4 634.7,1446.4 636.7,1446.4 636.7,1446.4 638.7,1446.4 640.7,1444.4 642.7,1444.4 642.7,1444.4 644.7,1442.4 646.7,1442.4 646.7,1442.4 648.7,1440.4 650.7,1440.4 652.7,1438.4 652.7,1438.4 654.7,1436.4 656.7,1436.4 658.7,1436.4 658.7,1434.4 660.7,1432.4 662.7,1432.4 662.7,1430.4 664.7,1430.4 666.7,1428.4 668.7,1428.4 668.7,1426.4 670.7,1424.4 672.7,1424.4 672.7,1422.4 674.7,1422.4 676.7,1420.4 678.7,1418.4 678.7,1416.4 680.7,1416.4 682.7,1414.4 684.7,1412.4 684.7,1410.4 686.7,1408.4 688.7,1406.4 688.7,1404.4 690.7,1402.4 692.7,1400.4 694.7,1398.4 694.7,1396.4 696.7,1396.4 698.7,1394.4 698.7,1394.4 700.7,1392.4 702.7,1390.4 704.7,1388.4 704.7,1386.4 706.7,1384.4 708.7,1382.4 710.7,1380.4 710.7,1378.4 712.7,1376.4 714.7,1374.4 714.7,1372.4 716.7,1370.4 718.7,1368.4 720.7,1366.4 720.7,1364.4 722.7,1362.4 724.7,1358.4 724.7,1356.4 726.7,1354.4 728.7,1352.4 730.7,1350.4 730.7,1348.4 732.7,1346.4 734.7,1342.4 736.7,1340.4 736.7,1338.4 738.7,1336.4 740.7,1332.4 740.7,1330.4 742.7,1328.4 744.7,1324.4 746.7,1322.4 746.7,1320.4 748.7,1316.4 750.7,1314.4 750.7,1310.4 752.7,1308.4 754.7,1304.4 756.7,1302.4 756.7,1298.4 758.7,1296.4 760.7,1292.4 760.7,1290.4 762.7,1286.4 764.7,1284.4 766.7,1280.4 766.7,1278.4 768.7,1274.4 770.7,1270.4 772.7,1268.4 772.7,1264.4 774.7,1262.4 776.7,1258.4 776.7,1256.4 778.7,1252.4 780.7,1248.4 782.7,1244.4 782.7,1242.4 784.7,1238.4 786.7,1234.4 786.7,1230.4 788.7,1226.4 790.7,1224.4 792.7,1220.4 792.7,1216.4 794.7,1212.4 796.7,1208.4 798.7,1206.4 798.7,1202.4 800.7,1198.4 802.7,1194.4 802.7,1190.4 804.7,1186.4 806.7,1182.4 808.7,1178.4 808.7,1174.4 810.7,1170.4 812.7,1166.4 812.7,1162.4 814.7,1158.4 816.7,1154.4 818.7,1150.4 818.7,1146.4 820.7,1142.4 822.7,1138.4 824.7,1134.4 824.7,1128.4 826.7,1124.4 828.7,1120.4 828.7,1116.4 830.7,1112.4 832.7,1106.4 834.7,1102.4 834.7,1098.4 836.7,1094.4 838.7,1088.4 838.7,1084.4 840.7,1080.4 842.7,1074.4 844.7,1070.4 844.7,1066.4 846.7,1060.4 848.7,1056.4 850.7,1050.4 850.7,1046.4 852.7,1040.4 854.7,1036.4 854.7,1030.4 856.7,1026.4 858.7,1020.4 860.7,1014.4 860.7,1010.4 862.7,1004.4 864.7,1000.4 864.7,994.4 866.7,990.4 868.7,984.4 870.7,978.4 870.7,974.4 872.7,968.4 874.7,962.4 874.7,956.4 876.7,952.4 878.7,946.4 880.7,942.4 880.7,936.4 882.7,930.4 884.7,924.4 886.7,920.4 886.7,914.4 888.7,908.4 890.7,904.4 890.7,898.4 892.7,892.4 894.7,886.4 896.7,882.4 896.7,876.4 898.7,870.4 900.7,864.4 900.7,860.4 902.7,854.4 904.7,848.4 906.7,842.4 906.7,838.4 908.7,832.4 910.7,826.4 912.7,820.4 912.7,816.4 914.7,810.4 916.7,806.4 916.7,800.4 918.7,794.4 920.7,788.4 922.7,784.4 922.7,778.4 924.7,774.4 926.7,768.4 926.7,764.4 928.7,758.4 930.7,754.4 932.7,748.4 932.7,742.4 934.7,738.4 936.7,734.4 938.7,728.4 938.7,724.4 940.7,720.4 942.7,714.4 942.7,710.4 944.7,704.4 946.7,700.4 948.7,696.4 948.7,690.4 950.7,686.4 952.7,682.4 952.7,678.4 954.7,672.4 956.7,668.4 958.7,664.4 958.7,660.4 960.7,656.4 962.7,650.4 964.7,646.4 964.7,642.4 966.7,638.4 968.7,634.4 968.7,630.4 970.7,626.4 972.7,622.4 974.7,616.4 974.7,612.4 976.7,608.4 978.7,604.4 978.7,600.4 980.7,598.4 982.7,594.4 984.7,590.4 984.7,586.4 986.7,582.4 988.7,578.4 988.7,574.4 990.7,570.4 992.7,566.4 994.7,562.4 994.7,558.4 996.7,556.4 998.7,552.4 1000.7,548.4 1000.7,544.4 1002.7,540.4 1004.7,536.4 1004.7,534.4 1006.7,530.4 1008.7,528.4 1010.7,524.4 1010.7,520.4 1012.7,516.4 1014.7,514.4 1014.7,510.4 1016.7,506.4 1018.7,504.4 1020.7,500.4 1020.7,496.4 1022.7,494.4 1024.7,490.4 1026.7,486.4 1026.7,484.4 1028.7,480.4 1030.7,478.4 1030.7,474.4 1032.7,470.4 1034.7,468.4 1036.7,464.4 1036.7,462.4 1038.7,460.4 1040.7,456.4 1040.7,454.4 1042.7,450.4 1044.7,448.4 1046.7,444.4 1046.7,442.4 1048.7,440.4 1050.7,436.4 1052.7,434.4 1052.7,430.4 1054.7,428.4 1056.7,426.4 1056.7,422.4 1058.7,420.4 1060.7,416.4 1062.7,414.4 1062.7,412.4 1064.7,408.4 1066.7,406.4 1066.7,404.4 1068.7,402.4 1070.7,398.4 1072.7,396.4 1072.7,394.4 1074.7,392.4 1076.7,390.4 1078.7,388.4 1078.7,384.4 1080.7,382.4 1082.7,380.4 1082.7,378.4 1084.7,376.4 1086.7,374.4 1088.7,372.4 1088.7,370.4 1090.7,368.4 1092.7,366.4 1092.7,364.4 1094.7,362.4 1096.7,362.4 1098.7,360.4 1098.7,358.4 1100.7,356.4 1102.7,354.4 1102.7,352.4 1104.7,350.4 1106.7,348.4 1108.7,346.4 1108.7,346.4 1110.7,344.4 1112.7,342.4 1114.7,340.4 1114.7,340.4 1116.7,338.4 1118.7,336.4 1118.7,334.4 1120.7,334.4 1122.7,332.4 1124.7,330.4 1124.7,330.4 1126.7,328.4 1128.7,326.4 1128.7,324.4 1130.7,322.4 1132.7,322.4 1134.7,320.4 1134.7,318.4 1136.7,318.4 1138.7,316.4 1140.7,314.4 1140.7,314.4 1142.7,312.4 1144.7,312.4 1144.7,310.4 1146.7,308.4 1148.7,306.4 1150.7,306.4 1150.7,304.4 1152.7,304.4 1154.7,302.4 1154.7,300.4 1156.7,300.4 1158.7,298.4 1160.7,298.4 1160.7,296.4 1162.7,296.4 1164.7,294.4 1166.7,292.4 1166.7,292.4 1168.7,290.4 1170.7,290.4 1170.7,288.4 1172.7,288.4 1174.7,288.4 1176.7,286.4 1176.7,286.4 1178.7,284.4 1180.7,284.4 1180.7,282.4 1182.7,282.4 1184.7,280.4 1186.7,280.4 1186.7,280.4 1188.7,278.4 1190.7,278.4 1192.7,276.4 1192.7,276.4 1194.7,276.4 1196.7,274.4 1196.7,274.4 1198.7,274.4 1200.7,272.4 1202.7,270.4 1202.7,270.4 1204.7,270.4 1206.7,268.4 1206.7,268.4 1208.7,268.4 1210.7,268.4 1212.7,266.4 1212.7,266.4 1214.7,266.4 1216.7,264.4 1216.7,264.4 1218.7,264.4 1220.7,262.4 1222.7,262.4 1222.7,262.4 1224.7,262.4 1226.7,260.4 1228.7,260.4 1228.7,260.4 1230.7,260.4 1232.7,260.4 1232.7,258.4 1234.7,258.4 1236.7,258.4 1238.7,258.4 1238.7,256.4 1240.7,256.4 1242.7,256.4 1242.7,256.4 1244.7,256.4 1246.7,254.4 1248.7,254.4 1248.7,254.4 1250.7,254.4 1252.7,254.4 1254.7,254.4 1254.7,254.4 1256.7,252.4 1258.7,252.4 1258.7,252.4 1260.7,252.4 1262.7,252.4 1264.7,252.4 1264.7,252.4 1266.7,252.4 1268.7,252.4 1268.7,252.4 1270.7,250.4 1272.7,250.4 1274.7,250.4 1274.7,250.4 1276.7,250.4 1278.7,250.4 1280.7,250.4 1280.7,250.4 1282.7,250.4 1284.7,248.4 1284.7,248.4 1286.7,248.4 1288.7,248.4 1290.7,248.4 1290.7,248.4 1292.7,248.4 1294.7,248.4 1294.7,248.4 1296.7,248.4 1298.7,248.4 1300.7,248.4 1300.7,248.4 1302.7,248.4 1304.7,248.4 1306.7,248.4 1306.7,248.4 1308.7,248.4 1310.7,248.4 1310.7,248.4 1312.7,248.4 1314.7,248.4 1316.7,248.4 1316.7,248.4 1318.7,248.4 1320.7,248.4 1320.7,248.4 1322.7,248.4 1324.7,248.4 1326.7,248.4 1326.7,248.4 1328.7,248.4 1330.7,248.4 1330.7,248.4 1332.7,248.4 1334.7,248.4 1336.7,248.4 1336.7,248.4 1338.7,248.4 1340.7,248.4 1342.7,248.4 1342.7,248.4 1344.7,248.4 1346.7,248.4 1346.7,248.4 1348.7,248.4 1350.7,250.4 1352.7,250.4 1352.7,250.4 1354.7,250.4 1356.7,250.4 1356.7,250.4 1358.7,250.4 1360.7,250.4 1362.7,250.4 1362.7,250.4 1364.7,250.4 1366.7,250.4 1368.7,252.4 1368.7,252.4 1370.7,252.4 1372.7,252.4 1372.7,252.4 1374.7,252.4 1376.7,252.4 1378.7,252.4 1378.7,252.4 1380.7,252.4 1382.7,252.4 1382.7,254.4 1384.7,254.4 1386.7,254.4 1388.7,254.4 1388.7,254.4 1390.7,254.4 1392.7,254.4 1394.7,254.4 1394.7,256.4 1396.7,256.4 1398.7,256.4 1398.7,256.4 1400.7,256.4 1402.7,256.4 1404.7,256.4 1404.7,256.4 1406.7,256.4 1408.7,258.4 1408.7,258.4 1410.7,258.4 1412.7,258.4 1414.7,258.4 1414.7,258.4 1416.7,258.4 1418.7,258.4 1420.7,258.4 1420.7,258.4 1422.7,258.4 1424.7,258.4 1424.7,260.4 1426.7,260.4 1428.7,260.4 1430.7,260.4 1430.7,262.4 1432.7,262.4 1434.7,262.4 1434.7,262.4 1436.7,262.4 1438.7,262.4 1440.7,262.4 1440.7,262.4 1442.7,262.4 1444.7,262.4 1444.7,264.4 1446.7,264.4 1448.7,264.4 1450.7,264.4 1450.7,264.4 1452.7,264.4 1454.7,264.4 1456.7,266.4 1456.7,266.4 1458.7,266.4 1460.7,266.4 1460.7,266.4 1462.7,266.4 1464.7,268.4 1466.7,268.4 1466.7,268.4 1468.7,268.4 1470.7,268.4 1470.7,268.4 1472.7,268.4 1474.7,268.4 1476.7,268.4 1476.7,270.4 1478.7,270.4 1480.7,270.4 1482.7,270.4 1482.7,270.4 1484.7,270.4 1486.7,272.4 1486.7,272.4 1488.7,272.4 1490.7,272.4 1492.7,272.4 1492.7,272.4 1494.7,274.4 1496.7,274.4 1496.7,274.4 1498.7,274.4 1500.7,274.4 1502.7,276.4 1502.7,276.4 1504.7,276.4 1506.7,276.4 1508.7,276.4 1508.7,276.4 1510.7,276.4 1512.7,276.4 1512.7,278.4 1514.7,278.4 1516.7,278.4 1518.7,278.4 1518.7,278.4 1520.7,278.4 1522.7,278.4 1522.7,278.4 1524.7,280.4 1526.7,280.4 1528.7,280.4 1528.7,280.4 1530.7,280.4 1532.7,280.4 1534.7,280.4 1534.7,282.4 1536.7,282.4 1538.7,282.4 1538.7,282.4 1540.7,282.4 1542.7,282.4 1544.7,284.4 1544.7,284.4 1546.7,284.4 1548.7,284.4 1548.7,284.4 1550.7,284.4 1552.7,284.4 1554.7,284.4 1554.7,286.4 1556.7,286.4 1558.7,286.4 1560.7,286.4 1560.7,286.4 1562.7,286.4 1564.7,288.4 1564.7,288.4 1566.7,288.4 1568.7,288.4 1570.7,290.4 1570.7,290.4 1572.7,290.4 1574.7,290.4 1574.7,290.4 1576.7,290.4 1578.7,290.4 1580.7,292.4 1580.7,292.4 1582.7,292.4 1584.7,292.4 1584.7,292.4 1586.7,292.4 1588.7,292.4 1590.7,292.4 1590.7,292.4 1592.7,294.4 1594.7,294.4 1596.7,294.4 1596.7,294.4 1598.7,294.4 1600.7,296.4 1600.7,296.4 1602.7,296.4 1604.7,296.4 1606.7,296.4 1606.7,296.4 1608.7,296.4 1610.7,296.4 1610.7,298.4 1612.7,298.4 1614.7,298.4 1616.7,298.4 1616.7,298.4 1618.7,298.4 1620.7,298.4 1622.7,298.4 1622.7,300.4 1624.7,300.4 1626.7,300.4 1626.7,300.4 1628.7,300.4 1630.7,300.4 1632.7,300.4 1632.7,300.4 1634.7,302.4 1636.7,302.4 1636.7,302.4 1638.7,302.4 1640.7,302.4 1642.7,302.4 1642.7,302.4 1644.7,302.4 1646.7,304.4 1648.7,304.4 1648.7,304.4 1650.7,304.4 1652.7,304.4 1652.7,304.4 1654.7,304.4 1656.7,306.4 1658.7,306.4 1658.7,306.4 1660.7,306.4 1662.7,306.4 1662.7,306.4 1664.7,306.4 1666.7,308.4 1668.7,308.4 1668.7,308.4 1670.7,308.4 1672.7,308.4 1674.7,308.4 1674.7,308.4 1676.7,308.4 1678.7,308.4 1678.7,308.4 1680.7,310.4 1682.7,310.4 1684.7,310.4 1684.7,310.4 1686.7,310.4 1688.7,310.4 1688.7,312.4 1690.7,312.4 1692.7,312.4 1694.7,312.4 1694.7,312.4 1696.7,312.4 1698.7,312.4 1698.7,312.4 1700.7,312.4 1702.7,312.4 1704.7,312.4 1704.7,314.4 1706.7,314.4 1708.7,314.4 1710.7,314.4 1710.7,314.4 1712.7,314.4 1714.7,314.4 1714.7,314.4 1716.7,316.4 1718.7,316.4 1720.7,316.4 1720.7,316.4 1722.7,316.4 1724.7,316.4 1724.7,316.4 1726.7,318.4 1728.7,318.4 1730.7,318.4 1730.7,318.4 1732.7,318.4 1734.7,318.4 1736.7,318.4 1736.7,318.4 1738.7,318.4 1740.7,318.4 1740.7,320.4 1742.7,320.4 1744.7,320.4 1746.7,320.4 1746.7,320.4 1748.7,320.4 1750.7,320.4 1750.7,320.4 1752.7,320.4 1754.7,322.4 1756.7,322.4 1756.7,322.4 1758.7,322.4 1760.7,322.4 1762.7,322.4 1762.7,322.4 1764.7,322.4 1766.7,322.4 1766.7,322.4 1768.7,324.4 1770.7,324.4 1772.7,324.4 1772.7,324.4 1774.7,324.4 1776.7,324.4 1776.7,324.4 1778.7,326.4 1780.7,326.4 1782.7,326.4 1782.7,326.4 1784.7,326.4 1786.7,326.4 1788.7,326.4 1788.7,326.4 1790.7,326.4 1792.7,326.4 1792.7,326.4 1794.7,326.4 1796.7,328.4 1798.7,328.4 1798.7,328.4 1800.7,328.4 1802.7,328.4 1802.7,328.4 1804.7,328.4 1806.7,328.4 1808.7,328.4 1808.7,328.4 1810.7,328.4 1812.7,330.4 1812.7,330.4 1814.7,330.4 1816.7,330.4 1818.7,330.4 1818.7,330.4 1820.7,330.4 1822.7,330.4 1824.7,330.4 1824.7,330.4 1826.7,330.4 1828.7,332.4 1828.7,332.4 1830.7,332.4 1832.7,332.4 1834.7,332.4 1834.7,332.4 1836.7,332.4 1838.7,332.4 1838.7,332.4 1840.7,332.4 1842.7,332.4 1844.7,334.4 1844.7,334.4 1846.7,334.4 1848.7,334.4 1850.7,334.4 1850.7,334.4 1852.7,334.4 1854.7,334.4 1854.7,334.4 1856.7,334.4 1858.7,336.4 1860.7,336.4 1860.7,336.4 1862.7,336.4 1864.7,336.4 1864.7,336.4 1866.7,336.4 1868.7,336.4 1870.7,336.4 1870.7,336.4 1872.7,336.4 1874.7,338.4 1876.7,336.4 1876.7,336.4 1878.7,338.4 1880.7,338.4 1880.7,338.4 1882.7,338.4 1884.7,338.4 1886.7,338.4 1886.7,338.4 1888.7,338.4 1890.7,338.4 1890.7,338.4 1892.7,338.4 1894.7,338.4 1896.7,338.4 1896.7,340.4 1898.7,338.4 1900.7,340.4 1902.7,340.4 1902.7,340.4 1904.7,340.4 1906.7,340.4 1906.7,340.4 1908.7,340.4 1910.7,340.4 1912.7,340.4 1912.7,340.4 1914.7,340.4 1916.7,340.4 1916.7,340.4 1918.7,340.4 1920.7,340.4 1922.7,342.4 1922.7,342.4 1924.7,342.4 1926.7,342.4 1926.7,342.4 1928.7,342.4 1930.7,342.4 1932.7,342.4 1932.7,342.4 1934.7,342.4 1936.7,342.4 1938.7,342.4 1938.7,342.4 1940.7,342.4 1942.7,342.4 1942.7,342.4 1944.7,342.4 1946.7,342.4 1948.7,344.4 1948.7,342.4 1950.7,344.4 1952.7,344.4 1952.7,344.4 1954.7,344.4 1956.7,344.4 1958.7,344.4 1958.7,344.4 1960.7,344.4 1962.7,344.4 1964.7,344.4 1964.7,344.4 1966.7,344.4 1968.7,344.4 1968.7,344.4 1970.7,344.4 1972.7,344.4 1974.7,344.4 1974.7,344.4 1976.7,344.4 1978.7,344.4 1978.7,344.4 1980.7,346.4 1982.7,344.4 1984.7,344.4 1984.7,344.4 1986.7,344.4 1988.7,346.4 1990.7,346.4 1990.7,346.4 1992.7,346.4 1994.7,346.4 1994.7,346.4 1996.7,346.4 1998.7,346.4" fill="none" stroke="#FE3E3F" stroke-width="2.8"/><path d="M256.8,1458.4a9.9,9.9 0 1 0 19.8,0a9.9,9.9 0 1 0 -19.8,0zM258.8,1458.4a9.9,9.9 0 1 0 19.8,0a9.9,9.9 0 1 0 -19.8,0zM258.8,1458.4a9.9,9.9 0 1 0 19.8,0a9.9,9.9 0 1 0 -19.8,0zM260.8,1458.4a9.9,9.9 0 1 0 19.8,0a9.9,9.9 0 1 0 -19.8,0zM262.8,1458.4a9.9,9.9 0 1 0 19.8,0a9.9,9.9 0 1 0 -19.8,0zM264.8,1458.4a9.9,9.9 0 1 0 19.8,0a9.9,9.9 0 1 0 -19.8,0zM264.8,1458.4a9.9,9.9 0 1 0 19.8,0a9.9,9.9 0 1 0 -19.8,0zM266.8,1458.4a9.9,9.9 0 1 0 19.8,0a9.9,9.9 0 1 0 -19.8,0zM268.8,1458.4a9.9,9.9 0 1 0 19.8,0a9.9,9.9 0 1 0 -19.8,0zM268.8,1458.4a9.9,9.9 0 1 0 19.8,0a9.9,9.9 0 1 0 -19.8,0zM270.8,1458.4a9.9,9.9 0 1 0 19.8,0a9.9,9.9 0 1 0 -19.8,0zM272.8,1458.4a9.9,9.9 0 1 0 19.8,0a9.9,9.9 0 1 0 -19.8,0zM274.8,1458.4a9.9,9.9 0 1 0 19.8,0a9.9,9.9 0 1 0 -19.8,0zM274.8,1458.4a9.9,9.9 0 1 0 19.8,0a9.9,9.9 0 1 0 -19.8,0zM276.8,1458.4a9.9,9.9 0 1 0 19.8,0a9.9,9.9 0 1 0 -19.8,0zM278.8,1458.4a9.9,9.9 0 1 0 19.8,0a9.9,9.9 0 1 0 -19.8,0zM280.8,1458.4a9.9,9.9 0 1 0 19.8,0a9.9,9.9 0 1 0 -19.8,0zM280.8,1458.4a9.9,9.9 0 1 0 19.8,0a9.9,9.9 0 1 0 -19.8,0zM282.8,1458.4a9.9,9.9 0 1 0 19.8,0a9.9,9.9 0 1 0 -19.8,0zM284.8,1458.4a9.9,9.9 0 1 0 19.8,0a9.9,9.9 0 1 0 -19.8,0zM284.8,1458.4a9.9,9.9 0 1 0 19.8,0a9.9,9.9 0 1 0 -19.8,0zM286.8,1458.4a9.9,9.9 0 1 0 19.8,0a9.9,9.9 0 1 0 -19.8,0zM288.8,1458.4a9.9,9.9 0 1 0 19.8,0a9.9,9.9 0 1 0 -19.8,0zM290.8,1458.4a9.9,9.9 0 1 0 19.8,0a9.9,9.9 0 1 0 -19.8,0zM290.8,1458.4a9.9,9.9 0 1 0 19.8,0a9.9,9.9 0 1 0 -19.8,0zM292.8,1458.4a9.9,9.9 0 1 0 19.8,0a9.9,9.9 0 1 0 -19.8,0zM294.8,1458.4a9.9,9.9 0 1 0 19.8,0a9.9,9.9 0 1 0 -19.8,0zM294.8,1458.4a9.9,9.9 0 1 0 19.8,0a9.9,9.9 0 1 0 -19.8,0zM296.8,1458.4a9.9,9.9 0 1 0 19.8,0a9.9,9.9 0 1 0 -19.8,0zM298.8,1458.4a9.9,9.9 0 1 0 19.8,0a9.9,9.9 0 1 0 -19.8,0zM300.8,1458.4a9.9,9.9 0 1 0 19.8,0a9.9,9.9 0 1 0 -19.8,0zM300.8,1458.4a9.9,9.9 0 1 0 19.8,0a9.9,9.9 0 1 0 -19.8,0zM302.8,1458.4a9.9,9.9 0 1 0 19.8,0a9.9,9.9 0 1 0 -19.8,0zM304.8,1458.4a9.9,9.9 0 1 0 19.8,0a9.9,9.9 0 1 0 -19.8,0zM306.8,1458.4a9.9,9.9 0 1 0 19.8,0a9.9,9.9 0 1 0 -19.8,0zM306.8,1458.4a9.9,9.9 0 1 0 19.8,0a9.9,9.9 0 1 0 -19.8,0zM308.8,1458.4a9.9,9.9 0 1 0 19.8,0a9.9,9.9 0 1 0 -19.8,0zM310.8,1458.4a9.9,9.9 0 1 0 19.8,0a9.9,9.9 0 1 0 -19.8,0zM310.8,1458.4a9.9,9.9 0 1 0 19.8,0a9.9,9.9 0 1 0 -19.8,0zM312.8,1458.4a9.9,9.9 0 1 0 19.8,0a9.9,9.9 0 1 0 -19.8,0zM314.8,1458.4a9.9,9.9 0 1 0 19.8,0a9.9,9.9 0 1 0 -19.8,0zM316.8,1458.4a9.9,9.9 0 1 0 19.8,0a9.9,9.9 0 1 0 -19.8,0zM316.8,1458.4a9.9,9.9 0 1 0 19.8,0a9.9,9.9 0 1 0 -19.8,0zM318.8,1458.4a9.9,9.9 0 1 0 19.8,0a9.9,9.9 0 1 0 -19.8,0zM320.8,1458.4a9.9,9.9 0 1 0 19.8,0a9.9,9.9 0 1 0 -19.8,0zM320.8,1458.4a9.9,9.9 0 1 0 19.8,0a9.9,9.9 0 1 0 -19.8,0zM322.8,1458.4a9.9,9.9 0 1 0 19.8,0a9.9,9.9 0 1 0 -19.8,0zM324.8,1458.4a9.9,9.9 0 1 0 19.8,0a9.9,9.9 0 1 0 -19.8,0zM326.8,1458.4a9.9,9.9 0 1 0 19.8,0a9.9,9.9 0 1 0 -19.8,0zM326.8,1458.4a9.9,9.9 0 1 0 19.8,0a9.9,9.9 0 1 0 -19.8,0zM328.8,1458.4a9.9,9.9 0 1 0 19.8,0a9.9,9.9 0 1 0 -19.8,0zM330.8,1458.4a9.9,9.9 0 1 0 19.8,0a9.9,9.9 0 1 0 -19.8,0zM332.8,1458.4a9.9,9.9 0 1 0 19.8,0a9.9,9.9 0 1 0 -19.8,0zM332.8,1458.4a9.9,9.9 0 1 0 19.8,0a9.9,9.9 0 1 0 -19.8,0zM334.8,1458.4a9.9,9.9 0 1 0 19.8,0a9.9,9.9 0 1 0 -19.8,0zM336.8,1458.4a9.9,9.9 0 1 0 19.8,0a9.9,9.9 0 1 0 -19.8,0zM336.8,1458.4a9.9,9.9 0 1 0 19.8,0a9.9,9.9 0 1 0 -19.8,0zM338.8,1458.4a9.9,9.9 0 1 0 19.8,0a9.9,9.9 0 1 0 -19.8,0zM340.8,1458.4a9.9,9.9 0 1 0 19.8,0a9.9,9.9 0 1 0 -19.8,0zM342.8,1458.4a9.9,9.9 0 1 0 19.8,0a9.9,9.9 0 1 0 -19.8,0zM342.8,1458.4a9.9,9.9 0 1 0 19.8,0a9.9,9.9 0 1 0 -19.8,0zM344.8,1458.4a9.9,9.9 0 1 0 19.8,0a9.9,9.9 0 1 0 -19.8,0zM346.8,1458.4a9.9,9.9 0 1 0 19.8,0a9.9,9.9 0 1 0 -19.8,0zM346.8,1458.4a9.9,9.9 0 1 0 19.8,0a9.9,9.9 0 1 0 -19.8,0zM348.8,1458.4a9.9,9.9 0 1 0 19.8,0a9.9,9.9 0 1 0 -19.8,0zM350.8,1458.4a9.9,9.9 0 1 0 19.8,0a9.9,9.9 0 1 0 -19.8,0zM352.8,1458.4a9.9,9.9 0 1 0 19.8,0a9.9,9.9 0 1 0 -19.8,0zM352.8,1458.4a9.9,9.9 0 1 0 19.8,0a9.9,9.9 0 1 0 -19.8,0zM354.8,1458.4a9.9,9.9 0 1 0 19.8,0a9.9,9.9 0 1 0 -19.8,0zM356.8,1458.4a9.9,9.9 0 1 0 19.8,0a9.9,9.9 0 1 0 -19.8,0zM358.8,1458.4a9.9,9.9 0 1 0 19.8,0a9.9,9.9 0 1 0 -19.8,0zM358.8,1458.4a9.9,9.9 0 1 0 19.8,0a9.9,9.9 0 1 0 -19.8,0zM360.8,1458.4a9.9,9.9 0 1 0 19.8,0a9.9,9.9 0 1 0 -19.8,0zM362.8,1458.4a9.9,9.9 0 1 0 19.8,0a9.9,9.9 0 1 0 -19.8,0zM362.8,1458.4a9.9,9.9 0 1 0 19.8,0a9.9,9.9 0 1 0 -19.8,0zM364.8,1458.4a9.9,9.9 0 1 0 19.8,0a9.9,9.9 0 1 0 -19.8,0zM366.8,1458.4a9.9,9.9 0 1 0 19.8,0a9.9,9.9 0 1 0 -19.8,0zM368.8,1458.4a9.9,9.9 0 1 0 19.8,0a9.9,9.9 0 1 0 -19.8,0zM368.8,1458.4a9.9,9.9 0 1 0 19.8,0a9.9,9.9 0 1 0 -19.8,0zM370.8,1458.4a9.9,9.9 0 1 0 19.8,0a9.9,9.9 0 1 0 -19.8,0zM372.8,1458.4a9.9,9.9 0 1 0 19.8,0a9.9,9.9 0 1 0 -19.8,0zM372.8,1458.4a9.9,9.9 0 1 0 19.8,0a9.9,9.9 0 1 0 -19.8,0zM374.8,1458.4a9.9,9.9 0 1 0 19.8,0a9.9,9.9 0 1 0 -19.8,0zM376.8,1458.4a9.9,9.9 0 1 0 19.8,0a9.9,9.9 0 1 0 -19.8,0zM378.8,1458.4a9.9,9.9 0 1 0 19.8,0a9.9,9.9 0 1 0 -19.8,0zM378.8,1458.4a9.9,9.9 0 1 0 19.8,0a9.9,9.9 0 1 0 -19.8,0zM380.8,1458.4a9.9,9.9 0 1 0 19.8,0a9.9,9.9 0 1 0 -19.8,0zM382.8,1458.4a9.9,9.9 0 1 0 19.8,0a9.9,9.9 0 1 0 -19.8,0zM382.8,1458.4a9.9,9.9 0 1 0 19.8,0a9.9,9.9 0 1 0 -19.8,0zM384.8,1458.4a9.9,9.9 0 1 0 19.8,0a9.9,9.9 0 1 0 -19.8,0zM386.8,1458.4a9.9,9.9 0 1 0 19.8,0a9.9,9.9 0 1 0 -19.8,0zM388.8,1458.4a9.9,9.9 0 1 0 19.8,0a9.9,9.9 0 1 0 -19.8,0zM388.8,1458.4a9.9,9.9 0 1 0 19.8,0a9.9,9.9 0 1 0 -19.8,0zM390.8,1458.4a9.9,9.9 0 1 0 19.8,0a9.9,9.9 0 1 0 -19.8,0zM392.8,1458.4a9.9,9.9 0 1 0 19.8,0a9.9,9.9 0 1 0 -19.8,0zM394.8,1458.4a9.9,9.9 0 1 0 19.8,0a9.9,9.9 0 1 0 -19.8,0zM394.8,1458.4a9.9,9.9 0 1 0 19.8,0a9.9,9.9 0 1 0 -19.8,0zM396.8,1458.4a9.9,9.9 0 1 0 19.8,0a9.9,9.9 0 1 0 -19.8,0zM398.8,1458.4a9.9,9.9 0 1 0 19.8,0a9.9,9.9 0 1 0 -19.8,0zM398.8,1458.4a9.9,9.9 0 1 0 19.8,0a9.9,9.9 0 1 0 -19.8,0zM400.8,1458.4a9.9,9.9 0 1 0 19.8,0a9.9,9.9 0 1 0 -19.8,0zM402.8,1458.4a9.9,9.9 0 1 0 19.8,0a9.9,9.9 0 1 0 -19.8,0zM404.8,1458.4a9.9,9.9 0 1 0 19.8,0a9.9,9.9 0 1 0 -19.8,0zM404.8,1458.4a9.9,9.9 0 1 0 19.8,0a9.9,9.9 0 1 0 -19.8,0zM406.8,1458.4a9.9,9.9 0 1 0 19.8,0a9.9,9.9 0 1 0 -19.8,0zM408.8,1458.4a9.9,9.9 0 1 0 19.8,0a9.9,9.9 0 1 0 -19.8,0zM408.8,1458.4a9.9,9.9 0 1 0 19.8,0a9.9,9.9 0 1 0 -19.8,0zM410.8,1458.4a9.9,9.9 0 1 0 19.8,0a9.9,9.9 0 1 0 -19.8,0zM412.8,1458.4a9.9,9.9 0 1 0 19.8,0a9.9,9.9 0 1 0 -19.8,0zM414.8,1458.4a9.9,9.9 0 1 0 19.8,0a9.9,9.9 0 1 0 -19.8,0zM414.8,1458.4a9.9,9.9 0 1 0 19.8,0a9.9,9.9 0 1 0 -19.8,0zM416.8,1458.4a9.9,9.9 0 1 0 19.8,0a9.9,9.9 0 1 0 -19.8,0zM418.8,1458.4a9.9,9.9 0 1 0 19.8,0a9.9,9.9 0 1 0 -19.8,0zM420.8,1458.4a9.9,9.9 0 1 0 19.8,0a9.9,9.9 0 1 0 -19.8,0zM420.8,1458.4a9.9,9.9 0 1 0 19.8,0a9.9,9.9 0 1 0 -19.8,0zM422.8,1458.4a9.9,9.9 0 1 0 19.8,0a9.9,9.9 0 1 0 -19.8,0zM424.8,1458.4a9.9,9.9 0 1 0 19.8,0a9.9,9.9 0 1 0 -19.8,0zM424.8,1458.4a9.9,9.9 0 1 0 19.8,0a9.9,9.9 0 1 0 -19.8,0zM426.8,1458.4a9.9,9.9 0 1 0 19.8,0a9.9,9.9 0 1 0 -19.8,0zM428.8,1458.4a9.9,9.9 0 1 0 19.8,0a9.9,9.9 0 1 0 -19.8,0zM430.8,1458.4a9.9,9.9 0 1 0 19.8,0a9.9,9.9 0 1 0 -19.8,0zM430.8,1458.4a9.9,9.9 0 1 0 19.8,0a9.9,9.9 0 1 0 -19.8,0zM432.8,1458.4a9.9,9.9 0 1 0 19.8,0a9.9,9.9 0 1 0 -19.8,0zM434.8,1458.4a9.9,9.9 0 1 0 19.8,0a9.9,9.9 0 1 0 -19.8,0zM434.8,1458.4a9.9,9.9 0 1 0 19.8,0a9.9,9.9 0 1 0 -19.8,0zM436.8,1458.4a9.9,9.9 0 1 0 19.8,0a9.9,9.9 0 1 0 -19.8,0zM438.8,1458.4a9.9,9.9 0 1 0 19.8,0a9.9,9.9 0 1 0 -19.8,0zM440.8,1458.4a9.9,9.9 0 1 0 19.8,0a9.9,9.9 0 1 0 -19.8,0zM440.8,1458.4a9.9,9.9 0 1 0 19.8,0a9.9,9.9 0 1 0 -19.8,0zM442.8,1458.4a9.9,9.9 0 1 0 19.8,0a9.9,9.9 0 1 0 -19.8,0zM444.8,1458.4a9.9,9.9 0 1 0 19.8,0a9.9,9.9 0 1 0 -19.8,0zM446.8,1458.4a9.9,9.9 0 1 0 19.8,0a9.9,9.9 0 1 0 -19.8,0zM446.8,1458.4a9.9,9.9 0 1 0 19.8,0a9.9,9.9 0 1 0 -19.8,0zM448.8,1458.4a9.9,9.9 0 1 0 19.8,0a9.9,9.9 0 1 0 -19.8,0zM450.8,1458.4a9.9,9.9 0 1 0 19.8,0a9.9,9.9 0 1 0 -19.8,0zM450.8,1458.4a9.9,9.9 0 1 0 19.8,0a9.9,9.9 0 1 0 -19.8,0zM452.8,1458.4a9.9,9.9 0 1 0 19.8,0a9.9,9.9 0 1 0 -19.8,0zM454.8,1458.4a9.9,9.9 0 1 0 19.8,0a9.9,9.9 0 1 0 -19.8,0zM456.8,1458.4a9.9,9.9 0 1 0 19.8,0a9.9,9.9 0 1 0 -19.8,0zM456.8,1458.4a9.9,9.9 0 1 0 19.8,0a9.9,9.9 0 1 0 -19.8,0zM458.8,1458.4a9.9,9.9 0 1 0 19.8,0a9.9,9.9 0 1 0 -19.8,0zM460.8,1458.4a9.9,9.9 0 1 0 19.8,0a9.9,9.9 0 1 0 -19.8,0zM460.8,1458.4a9.9,9.9 0 1 0 19.8,0a9.9,9.9 0 1 0 -19.8,0zM462.8,1458.4a9.9,9.9 0 1 0 19.8,0a9.9,9.9 0 1 0 -19.8,0zM464.8,1458.4a9.9,9.9 0 1 0 19.8,0a9.9,9.9 0 1 0 -19.8,0zM466.8,1458.4a9.9,9.9 0 1 0 19.8,0a9.9,9.9 0 1 0 -19.8,0zM466.8,1458.4a9.9,9.9 0 1 0 19.8,0a9.9,9.9 0 1 0 -19.8,0zM468.8,1458.4a9.9,9.9 0 1 0 19.8,0a9.9,9.9 0 1 0 -19.8,0zM470.8,1458.4a9.9,9.9 0 1 0 19.8,0a9.9,9.9 0 1 0 -19.8,0zM472.8,1458.4a9.9,9.9 0 1 0 19.8,0a9.9,9.9 0 1 0 -19.8,0zM472.8,1458.4a9.9,9.9 0 1 0 19.8,0a9.9,9.9 0 1 0 -19.8,0zM474.8,1458.4a9.9,9.9 0 1 0 19.8,0a9.9,9.9 0 1 0 -19.8,0zM476.8,1458.4a9.9,9.9 0 1 0 19.8,0a9.9,9.9 0 1 0 -19.8,0zM476.8,1458.4a9.9,9.9 0 1 0 19.8,0a9.9,9.9 0 1 0 -19.8,0zM478.8,1458.4a9.9,9.9 0 1 0 19.8,0a9.9,9.9 0 1 0 -19.8,0zM480.8,1458.4a9.9,9.9 0 1 0 19.8,0a9.9,9.9 0 1 0 -19.8,0zM482.8,1458.4a9.9,9.9 0 1 0 19.8,0a9.9,9.9 0 1 0 -19.8,0zM482.8,1458.4a9.9,9.9 0 1 0 19.8,0a9.9,9.9 0 1 0 -19.8,0zM484.8,1458.4a9.9,9.9 0 1 0 19.8,0a9.9,9.9 0 1 0 -19.8,0zM486.8,1458.4a9.9,9.9 0 1 0 19.8,0a9.9,9.9 0 1 0 -19.8,0zM486.8,1458.4a9.9,9.9 0 1 0 19.8,0a9.9,9.9 0 1 0 -19.8,0zM488.8,1458.4a9.9,9.9 0 1 0 19.8,0a9.9,9.9 0 1 0 -19.8,0zM490.8,1458.4a9.9,9.9 0 1 0 19.8,0a9.9,9.9 0 1 0 -19.8,0zM492.8,1458.4a9.9,9.9 0 1 0 19.8,0a9.9,9.9 0 1 0 -19.8,0zM492.8,1458.4a9.9,9.9 0 1 0 19.8,0a9.9,9.9 0 1 0 -19.8,0zM494.8,1458.4a9.9,9.9 0 1 0 19.8,0a9.9,9.9 0 1 0 -19.8,0zM496.8,1458.4a9.9,9.9 0 1 0 19.8,0a9.9,9.9 0 1 0 -19.8,0zM496.8,1458.4a9.9,9.9 0 1 0 19.8,0a9.9,9.9 0 1 0 -19.8,0zM498.8,1458.4a9.9,9.9 0 1 0 19.8,0a9.9,9.9 0 1 0 -19.8,0zM500.8,1458.4a9.9,9.9 0 1 0 19.8,0a9.9,9.9 0 1 0 -19.8,0zM502.8,1458.4a9.9,9.9 0 1 0 19.8,0a9.9,9.9 0 1 0 -19.8,0zM502.8,1458.4a9.9,9.9 0 1 0 19.8,0a9.9,9.9 0 1 0 -19.8,0zM504.8,1458.4a9.9,9.9 0 1 0 19.8,0a9.9,9.9 0 1 0 -19.8,0zM506.8,1458.4a9.9,9.9 0 1 0 19.8,0a9.9,9.9 0 1 0 -19.8,0zM508.8,1458.4a9.9,9.9 0 1 0 19.8,0a9.9,9.9 0 1 0 -19.8,0zM508.8,1458.4a9.9,9.9 0 1 0 19.8,0a9.9,9.9 0 1 0 -19.8,0zM510.8,1458.4a9.9,9.9 0 1 0 19.8,0a9.9,9.9 0 1 0 -19.8,0zM512.8,1458.4a9.9,9.9 0 1 0 19.8,0a9.9,9.9 0 1 0 -19.8,0zM512.8,1458.4a9.9,9.9 0 1 0 19.8,0a9.9,9.9 0 1 0 -19.8,0zM514.8,1458.4a9.9,9.9 0 1 0 19.8,0a9.9,9.9 0 1 0 -19.8,0zM516.8,1458.4a9.9,9.9 0 1 0 19.8,0a9.9,9.9 0 1 0 -19.8,0zM518.8,1458.4a9.9,9.9 0 1 0 19.8,0a9.9,9.9 0 1 0 -19.8,0zM518.8,1458.4a9.9,9.9 0 1 0 19.8,0a9.9,9.9 0 1 0 -19.8,0zM520.8,1458.4a9.9,9.9 0 1 0 19.8,0a9.9,9.9 0 1 0 -19.8,0zM522.8,1458.4a9.9,9.9 0 1 0 19.8,0a9.9,9.9 0 1 0 -19.8,0zM522.8,1458.4a9.9,9.9 0 1 0 19.8,0a9.9,9.9 0 1 0 -19.8,0zM524.8,1458.4a9.9,9.9 0 1 0 19.8,0a9.9,9.9 0 1 0 -19.8,0zM526.8,1458.4a9.9,9.9 0 1 0 19.8,0a9.9,9.9 0 1 0 -19.8,0zM528.8,1458.4a9.9,9.9 0 1 0 19.8,0a9.9,9.9 0 1 0 -19.8,0zM528.8,1458.4a9.9,9.9 0 1 0 19.8,0a9.9,9.9 0 1 0 -19.8,0zM530.8,1458.4a9.9,9.9 0 1 0 19.8,0a9.9,9.9 0 1 0 -19.8,0zM532.8,1458.4a9.9,9.9 0 1 0 19.8,0a9.9,9.9 0 1 0 -19.8,0zM534.8,1458.4a9.9,9.9 0 1 0 19.8,0a9.9,9.9 0 1 0 -19.8,0zM534.8,1458.4a9.9,9.9 0 1 0 19.8,0a9.9,9.9 0 1 0 -19.8,0zM536.8,1458.4a9.9,9.9 0 1 0 19.8,0a9.9,9.9 0 1 0 -19.8,0zM538.8,1458.4a9.9,9.9 0 1 0 19.8,0a9.9,9.9 0 1 0 -19.8,0zM538.8,1458.4a9.9,9.9 0 1 0 19.8,0a9.9,9.9 0 1 0 -19.8,0zM540.8,1458.4a9.9,9.9 0 1 0 19.8,0a9.9,9.9 0 1 0 -19.8,0zM542.8,1458.4a9.9,9.9 0 1 0 19.8,0a9.9,9.9 0 1 0 -19.8,0zM544.8,1458.4a9.9,9.9 0 1 0 19.8,0a9.9,9.9 0 1 0 -19.8,0zM544.8,1458.4a9.9,9.9 0 1 0 19.8,0a9.9,9.9 0 1 0 -19.8,0zM546.8,1458.4a9.9,9.9 0 1 0 19.8,0a9.9,9.9 0 1 0 -19.8,0zM548.8,1458.4a9.9,9.9 0 1 0 19.8,0a9.9,9.9 0 1 0 -19.8,0zM548.8,1458.4a9.9,9.9 0 1 0 19.8,0a9.9,9.9 0 1 0 -19.8,0zM550.8,1458.4a9.9,9.9 0 1 0 19.8,0a9.9,9.9 0 1 0 -19.8,0zM552.8,1458.4a9.9,9.9 0 1 0 19.8,0a9.9,9.9 0 1 0 -19.8,0zM554.8,1458.4a9.9,9.9 0 1 0 19.8,0a9.9,9.9 0 1 0 -19.8,0zM554.8,1458.4a9.9,9.9 0 1 0 19.8,0a9.9,9.9 0 1 0 -19.8,0zM556.8,1458.4a9.9,9.9 0 1 0 19.8,0a9.9,9.9 0 1 0 -19.8,0zM558.8,1458.4a9.9,9.9 0 1 0 19.8,0a9.9,9.9 0 1 0 -19.8,0zM560.8,1458.4a9.9,9.9 0 1 0 19.8,0a9.9,9.9 0 1 0 -19.8,0zM560.8,1458.4a9.9,9.9 0 1 0 19.8,0a9.9,9.9 0 1 0 -19.8,0zM562.8,1458.4a9.9,9.9 0 1 0 19.8,0a9.9,9.9 0 1 0 -19.8,0zM564.8,1458.4a9.9,9.9 0 1 0 19.8,0a9.9,9.9 0 1 0 -19.8,0zM564.8,1458.4a9.9,9.9 0 1 0 19.8,0a9.9,9.9 0 1 0 -19.8,0zM566.8,1458.4a9.9,9.9 0 1 0 19.8,0a9.9,9.9 0 1 0 -19.8,0zM568.8,1458.4a9.9,9.9 0 1 0 19.8,0a9.9,9.9 0 1 0 -19.8,0zM570.8,1458.4a9.9,9.9 0 1 0 19.8,0a9.9,9.9 0 1 0 -19.8,0zM570.8,1458.4a9.9,9.9 0 1 0 19.8,0a9.9,9.9 0 1 0 -19.8,0zM572.8,1458.4a9.9,9.9 0 1 0 19.8,0a9.9,9.9 0 1 0 -19.8,0zM574.8,1458.4a9.9,9.9 0 1 0 19.8,0a9.9,9.9 0 1 0 -19.8,0zM574.8,1458.4a9.9,9.9 0 1 0 19.8,0a9.9,9.9 0 1 0 -19.8,0zM576.8,1458.4a9.9,9.9 0 1 0 19.8,0a9.9,9.9 0 1 0 -19.8,0zM578.8,1458.4a9.9,9.9 0 1 0 19.8,0a9.9,9.9 0 1 0 -19.8,0zM580.8,1458.4a9.9,9.9 0 1 0 19.8,0a9.9,9.9 0 1 0 -19.8,0zM580.8,1458.4a9.9,9.9 0 1 0 19.8,0a9.9,9.9 0 1 0 -19.8,0zM582.8,1458.4a9.9,9.9 0 1 0 19.8,0a9.9,9.9 0 1 0 -19.8,0zM584.8,1458.4a9.9,9.9 0 1 0 19.8,0a9.9,9.9 0 1 0 -19.8,0zM586.8,1458.4a9.9,9.9 0 1 0 19.8,0a9.9,9.9 0 1 0 -19.8,0zM586.8,1458.4a9.9,9.9 0 1 0 19.8,0a9.9,9.9 0 1 0 -19.8,0zM588.8,1458.4a9.9,9.9 0 1 0 19.8,0a9.9,9.9 0 1 0 -19.8,0zM590.8,1458.4a9.9,9.9 0 1 0 19.8,0a9.9,9.9 0 1 0 -19.8,0zM590.8,1458.4a9.9,9.9 0 1 0 19.8,0a9.9,9.9 0 1 0 -19.8,0zM592.8,1458.4a9.9,9.9 0 1 0 19.8,0a9.9,9.9 0 1 0 -19.8,0zM594.8,1456.4a9.9,9.9 0 1 0 19.8,0a9.9,9.9 0 1 0 -19.8,0zM596.8,1456.4a9.9,9.9 0 1 0 19.8,0a9.9,9.9 0 1 0 -19.8,0zM596.8,1456.4a9.9,9.9 0 1 0 19.8,0a9.9,9.9 0 1 0 -19.8,0zM598.8,1456.4a9.9,9.9 0 1 0 19.8,0a9.9,9.9 0 1 0 -19.8,0zM600.8,1456.4a9.9,9.9 0 1 0 19.8,0a9.9,9.9 0 1 0 -19.8,0zM600.8,1456.4a9.9,9.9 0 1 0 19.8,0a9.9,9.9 0 1 0 -19.8,0zM602.8,1454.4a9.9,9.9 0 1 0 19.8,0a9.9,9.9 0 1 0 -19.8,0zM604.8,1454.4a9.9,9.9 0 1 0 19.8,0a9.9,9.9 0 1 0 -19.8,0zM606.8,1454.4a9.9,9.9 0 1 0 19.8,0a9.9,9.9 0 1 0 -19.8,0zM606.8,1452.4a9.9,9.9 0 1 0 19.8,0a9.9,9.9 0 1 0 -19.8,0zM608.8,1452.4a9.9,9.9 0 1 0 19.8,0a9.9,9.9 0 1 0 -19.8,0zM610.8,1452.4a9.9,9.9 0 1 0 19.8,0a9.9,9.9 0 1 0 -19.8,0zM610.8,1452.4a9.9,9.9 0 1 0 19.8,0a9.9,9.9 0 1 0 -19.8,0zM612.8,1450.4a9.9,9.9 0 1 0 19.8,0a9.9,9.9 0 1 0 -19.8,0zM614.8,1450.4a9.9,9.9 0 1 0 19.8,0a9.9,9.9 0 1 0 -19.8,0zM616.8,1450.4a9.9,9.9 0 1 0 19.8,0a9.9,9.9 0 1 0 -19.8,0zM616.8,1448.4a9.9,9.9 0 1 0 19.8,0a9.9,9.9 0 1 0 -19.8,0zM618.8,1448.4a9.9,9.9 0 1 0 19.8,0a9.9,9.9 0 1 0 -19.8,0zM620.8,1448.4a9.9,9.9 0 1 0 19.8,0a9.9,9.9 0 1 0 -19.8,0zM622.8,1448.4a9.9,9.9 0 1 0 19.8,0a9.9,9.9 0 1 0 -19.8,0zM622.8,1448.4a9.9,9.9 0 1 0 19.8,0a9.9,9.9 0 1 0 -19.8,0zM624.8,1446.4a9.9,9.9 0 1 0 19.8,0a9.9,9.9 0 1 0 -19.8,0zM626.8,1446.4a9.9,9.9 0 1 0 19.8,0a9.9,9.9 0 1 0 -19.8,0zM626.8,1446.4a9.9,9.9 0 1 0 19.8,0a9.9,9.9 0 1 0 -19.8,0zM628.8,1446.4a9.9,9.9 0 1 0 19.8,0a9.9,9.9 0 1 0 -19.8,0zM630.8,1444.4a9.9,9.9 0 1 0 19.8,0a9.9,9.9 0 1 0 -19.8,0zM632.8,1444.4a9.9,9.9 0 1 0 19.8,0a9.9,9.9 0 1 0 -19.8,0zM632.8,1444.4a9.9,9.9 0 1 0 19.8,0a9.9,9.9 0 1 0 -19.8,0zM634.8,1442.4a9.9,9.9 0 1 0 19.8,0a9.9,9.9 0 1 0 -19.8,0zM636.8,1442.4a9.9,9.9 0 1 0 19.8,0a9.9,9.9 0 1 0 -19.8,0zM636.8,1442.4a9.9,9.9 0 1 0 19.8,0a9.9,9.9 0 1 0 -19.8,0zM638.8,1440.4a9.9,9.9 0 1 0 19.8,0a9.9,9.9 0 1 0 -19.8,0zM640.8,1440.4a9.9,9.9 0 1 0 19.8,0a9.9,9.9 0 1 0 -19.8,0zM642.8,1438.4a9.9,9.9 0 1 0 19.8,0a9.9,9.9 0 1 0 -19.8,0zM642.8,1438.4a9.9,9.9 0 1 0 19.8,0a9.9,9.9 0 1 0 -19.8,0zM644.8,1436.4a9.9,9.9 0 1 0 19.8,0a9.9,9.9 0 1 0 -19.8,0zM646.8,1436.4a9.9,9.9 0 1 0 19.8,0a9.9,9.9 0 1 0 -19.8,0zM648.8,1436.4a9.9,9.9 0 1 0 19.8,0a9.9,9.9 0 1 0 -19.8,0zM648.8,1434.4a9.9,9.9 0 1 0 19.8,0a9.9,9.9 0 1 0 -19.8,0zM650.8,1432.4a9.9,9.9 0 1 0 19.8,0a9.9,9.9 0 1 0 -19.8,0zM652.8,1432.4a9.9,9.9 0 1 0 19.8,0a9.9,9.9 0 1 0 -19.8,0zM652.8,1430.4a9.9,9.9 0 1 0 19.8,0a9.9,9.9 0 1 0 -19.8,0zM654.8,1430.4a9.9,9.9 0 1 0 19.8,0a9.9,9.9 0 1 0 -19.8,0zM656.8,1428.4a9.9,9.9 0 1 0 19.8,0a9.9,9.9 0 1 0 -19.8,0zM658.8,1428.4a9.9,9.9 0 1 0 19.8,0a9.9,9.9 0 1 0 -19.8,0zM658.8,1426.4a9.9,9.9 0 1 0 19.8,0a9.9,9.9 0 1 0 -19.8,0zM660.8,1424.4a9.9,9.9 0 1 0 19.8,0a9.9,9.9 0 1 0 -19.8,0zM662.8,1424.4a9.9,9.9 0 1 0 19.8,0a9.9,9.9 0 1 0 -19.8,0zM662.8,1422.4a9.9,9.9 0 1 0 19.8,0a9.9,9.9 0 1 0 -19.8,0zM664.8,1422.4a9.9,9.9 0 1 0 19.8,0a9.9,9.9 0 1 0 -19.8,0zM666.8,1420.4a9.9,9.9 0 1 0 19.8,0a9.9,9.9 0 1 0 -19.8,0zM668.8,1418.4a9.9,9.9 0 1 0 19.8,0a9.9,9.9 0 1 0 -19.8,0zM668.8,1416.4a9.9,9.9 0 1 0 19.8,0a9.9,9.9 0 1 0 -19.8,0zM670.8,1416.4a9.9,9.9 0 1 0 19.8,0a9.9,9.9 0 1 0 -19.8,0zM672.8,1414.4a9.9,9.9 0 1 0 19.8,0a9.9,9.9 0 1 0 -19.8,0zM674.8,1412.4a9.9,9.9 0 1 0 19.8,0a9.9,9.9 0 1 0 -19.8,0zM674.8,1410.4a9.9,9.9 0 1 0 19.8,0a9.9,9.9 0 1 0 -19.8,0zM676.8,1408.4a9.9,9.9 0 1 0 19.8,0a9.9,9.9 0 1 0 -19.8,0zM678.8,1406.4a9.9,9.9 0 1 0 19.8,0a9.9,9.9 0 1 0 -19.8,0zM678.8,1404.4a9.9,9.9 0 1 0 19.8,0a9.9,9.9 0 1 0 -19.8,0zM680.8,1402.4a9.9,9.9 0 1 0 19.8,0a9.9,9.9 0 1 0 -19.8,0zM682.8,1400.4a9.9,9.9 0 1 0 19.8,0a9.9,9.9 0 1 0 -19.8,0zM684.8,1398.4a9.9,9.9 0 1 0 19.8,0a9.9,9.9 0 1 0 -19.8,0zM684.8,1396.4a9.9,9.9 0 1 0 19.8,0a9.9,9.9 0 1 0 -19.8,0zM686.8,1396.4a9.9,9.9 0 1 0 19.8,0a9.9,9.9 0 1 0 -19.8,0zM688.8,1394.4a9.9,9.9 0 1 0 19.8,0a9.9,9.9 0 1 0 -19.8,0zM688.8,1394.4a9.9,9.9 0 1 0 19.8,0a9.9,9.9 0 1 0 -19.8,0zM690.8,1392.4a9.9,9.9 0 1 0 19.8,0a9.9,9.9 0 1 0 -19.8,0zM692.8,1390.4a9.9,9.9 0 1 0 19.8,0a9.9,9.9 0 1 0 -19.8,0zM694.8,1388.4a9.9,9.9 0 1 0 19.8,0a9.9,9.9 0 1 0 -19.8,0zM694.8,1386.4a9.9,9.9 0 1 0 19.8,0a9.9,9.9 0 1 0 -19.8,0zM696.8,1384.4a9.9,9.9 0 1 0 19.8,0a9.9,9.9 0 1 0 -19.8,0zM698.8,1382.4a9.9,9.9 0 1 0 19.8,0a9.9,9.9 0 1 0 -19.8,0zM700.8,1380.4a9.9,9.9 0 1 0 19.8,0a9.9,9.9 0 1 0 -19.8,0zM700.8,1378.4a9.9,9.9 0 1 0 19.8,0a9.9,9.9 0 1 0 -19.8,0zM702.8,1376.4a9.9,9.9 0 1 0 19.8,0a9.9,9.9 0 1 0 -19.8,0zM704.8,1374.4a9.9,9.9 0 1 0 19.8,0a9.9,9.9 0 1 0 -19.8,0zM704.8,1372.4a9.9,9.9 0 1 0 19.8,0a9.9,9.9 0 1 0 -19.8,0zM706.8,1370.4a9.9,9.9 0 1 0 19.8,0a9.9,9.9 0 1 0 -19.8,0zM708.8,1368.4a9.9,9.9 0 1 0 19.8,0a9.9,9.9 0 1 0 -19.8,0zM710.8,1366.4a9.9,9.9 0 1 0 19.8,0a9.9,9.9 0 1 0 -19.8,0zM710.8,1364.4a9.9,9.9 0 1 0 19.8,0a9.9,9.9 0 1 0 -19.8,0zM712.8,1362.4a9.9,9.9 0 1 0 19.8,0a9.9,9.9 0 1 0 -19.8,0zM714.8,1358.4a9.9,9.9 0 1 0 19.8,0a9.9,9.9 0 1 0 -19.8,0zM714.8,1356.4a9.9,9.9 0 1 0 19.8,0a9.9,9.9 0 1 0 -19.8,0zM716.8,1354.4a9.9,9.9 0 1 0 19.8,0a9.9,9.9 0 1 0 -19.8,0zM718.8,1352.4a9.9,9.9 0 1 0 19.8,0a9.9,9.9 0 1 0 -19.8,0zM720.8,1350.4a9.9,9.9 0 1 0 19.8,0a9.9,9.9 0 1 0 -19.8,0zM720.8,1348.4a9.9,9.9 0 1 0 19.8,0a9.9,9.9 0 1 0 -19.8,0zM722.8,1346.4a9.9,9.9 0 1 0 19.8,0a9.9,9.9 0 1 0 -19.8,0zM724.8,1342.4a9.9,9.9 0 1 0 19.8,0a9.9,9.9 0 1 0 -19.8,0zM726.8,1340.4a9.9,9.9 0 1 0 19.8,0a9.9,9.9 0 1 0 -19.8,0zM726.8,1338.4a9.9,9.9 0 1 0 19.8,0a9.9,9.9 0 1 0 -19.8,0zM728.8,1336.4a9.9,9.9 0 1 0 19.8,0a9.9,9.9 0 1 0 -19.8,0zM730.8,1332.4a9.9,9.9 0 1 0 19.8,0a9.9,9.9 0 1 0 -19.8,0zM730.8,1330.4a9.9,9.9 0 1 0 19.8,0a9.9,9.9 0 1 0 -19.8,0zM732.8,1328.4a9.9,9.9 0 1 0 19.8,0a9.9,9.9 0 1 0 -19.8,0zM734.8,1324.4a9.9,9.9 0 1 0 19.8,0a9.9,9.9 0 1 0 -19.8,0zM736.8,1322.4a9.9,9.9 0 1 0 19.8,0a9.9,9.9 0 1 0 -19.8,0zM736.8,1320.4a9.9,9.9 0 1 0 19.8,0a9.9,9.9 0 1 0 -19.8,0zM738.8,1316.4a9.9,9.9 0 1 0 19.8,0a9.9,9.9 0 1 0 -19.8,0zM740.8,1314.4a9.9,9.9 0 1 0 19.8,0a9.9,9.9 0 1 0 -19.8,0zM740.8,1310.4a9.9,9.9 0 1 0 19.8,0a9.9,9.9 0 1 0 -19.8,0zM742.8,1308.4a9.9,9.9 0 1 0 19.8,0a9.9,9.9 0 1 0 -19.8,0zM744.8,1304.4a9.9,9.9 0 1 0 19.8,0a9.9,9.9 0 1 0 -19.8,0zM746.8,1302.4a9.9,9.9 0 1 0 19.8,0a9.9,9.9 0 1 0 -19.8,0zM746.8,1298.4a9.9,9.9 0 1 0 19.8,0a9.9,9.9 0 1 0 -19.8,0zM748.8,1296.4a9.9,9.9 0 1 0 19.8,0a9.9,9.9 0 1 0 -19.8,0zM750.8,1292.4a9.9,9.9 0 1 0 19.8,0a9.9,9.9 0 1 0 -19.8,0zM750.8,1290.4a9.9,9.9 0 1 0 19.8,0a9.9,9.9 0 1 0 -19.8,0zM752.8,1286.4a9.9,9.9 0 1 0 19.8,0a9.9,9.9 0 1 0 -19.8,0zM754.8,1284.4a9.9,9.9 0 1 0 19.8,0a9.9,9.9 0 1 0 -19.8,0zM756.8,1280.4a9.9,9.9 0 1 0 19.8,0a9.9,9.9 0 1 0 -19.8,0zM756.8,1278.4a9.9,9.9 0 1 0 19.8,0a9.9,9.9 0 1 0 -19.8,0zM758.8,1274.4a9.9,9.9 0 1 0 19.8,0a9.9,9.9 0 1 0 -19.8,0zM760.8,1270.4a9.9,9.9 0 1 0 19.8,0a9.9,9.9 0 1 0 -19.8,0zM762.8,1268.4a9.9,9.9 0 1 0 19.8,0a9.9,9.9 0 1 0 -19.8,0zM762.8,1264.4a9.9,9.9 0 1 0 19.8,0a9.9,9.9 0 1 0 -19.8,0zM764.8,1262.4a9.9,9.9 0 1 0 19.8,0a9.9,9.9 0 1 0 -19.8,0zM766.8,1258.4a9.9,9.9 0 1 0 19.8,0a9.9,9.9 0 1 0 -19.8,0zM766.8,1256.4a9.9,9.9 0 1 0 19.8,0a9.9,9.9 0 1 0 -19.8,0zM768.8,1252.4a9.9,9.9 0 1 0 19.8,0a9.9,9.9 0 1 0 -19.8,0zM770.8,1248.4a9.9,9.9 0 1 0 19.8,0a9.9,9.9 0 1 0 -19.8,0zM772.8,1244.4a9.9,9.9 0 1 0 19.8,0a9.9,9.9 0 1 0 -19.8,0zM772.8,1242.4a9.9,9.9 0 1 0 19.8,0a9.9,9.9 0 1 0 -19.8,0zM774.8,1238.4a9.9,9.9 0 1 0 19.8,0a9.9,9.9 0 1 0 -19.8,0zM776.8,1234.4a9.9,9.9 0 1 0 19.8,0a9.9,9.9 0 1 0 -19.8,0zM776.8,1230.4a9.9,9.9 0 1 0 19.8,0a9.9,9.9 0 1 0 -19.8,0zM778.8,1226.4a9.9,9.9 0 1 0 19.8,0a9.9,9.9 0 1 0 -19.8,0zM780.8,1224.4a9.9,9.9 0 1 0 19.8,0a9.9,9.9 0 1 0 -19.8,0zM782.8,1220.4a9.9,9.9 0 1 0 19.8,0a9.9,9.9 0 1 0 -19.8,0zM782.8,1216.4a9.9,9.9 0 1 0 19.8,0a9.9,9.9 0 1 0 -19.8,0zM784.8,1212.4a9.9,9.9 0 1 0 19.8,0a9.9,9.9 0 1 0 -19.8,0zM786.8,1208.4a9.9,9.9 0 1 0 19.8,0a9.9,9.9 0 1 0 -19.8,0zM788.8,1206.4a9.9,9.9 0 1 0 19.8,0a9.9,9.9 0 1 0 -19.8,0zM788.8,1202.4a9.9,9.9 0 1 0 19.8,0a9.9,9.9 0 1 0 -19.8,0zM790.8,1198.4a9.9,9.9 0 1 0 19.8,0a9.9,9.9 0 1 0 -19.8,0zM792.8,1194.4a9.9,9.9 0 1 0 19.8,0a9.9,9.9 0 1 0 -19.8,0zM792.8,1190.4a9.9,9.9 0 1 0 19.8,0a9.9,9.9 0 1 0 -19.8,0zM794.8,1186.4a9.9,9.9 0 1 0 19.8,0a9.9,9.9 0 1 0 -19.8,0zM796.8,1182.4a9.9,9.9 0 1 0 19.8,0a9.9,9.9 0 1 0 -19.8,0zM798.8,1178.4a9.9,9.9 0 1 0 19.8,0a9.9,9.9 0 1 0 -19.8,0zM798.8,1174.4a9.9,9.9 0 1 0 19.8,0a9.9,9.9 0 1 0 -19.8,0zM800.8,1170.4a9.9,9.9 0 1 0 19.8,0a9.9,9.9 0 1 0 -19.8,0zM802.8,1166.4a9.9,9.9 0 1 0 19.8,0a9.9,9.9 0 1 0 -19.8,0zM802.8,1162.4a9.9,9.9 0 1 0 19.8,0a9.9,9.9 0 1 0 -19.8,0zM804.8,1158.4a9.9,9.9 0 1 0 19.8,0a9.9,9.9 0 1 0 -19.8,0zM806.8,1154.4a9.9,9.9 0 1 0 19.8,0a9.9,9.9 0 1 0 -19.8,0zM808.8,1150.4a9.9,9.9 0 1 0 19.8,0a9.9,9.9 0 1 0 -19.8,0zM808.8,1146.4a9.9,9.9 0 1 0 19.8,0a9.9,9.9 0 1 0 -19.8,0zM810.8,1142.4a9.9,9.9 0 1 0 19.8,0a9.9,9.9 0 1 0 -19.8,0zM812.8,1138.4a9.9,9.9 0 1 0 19.8,0a9.9,9.9 0 1 0 -19.8,0zM814.8,1134.4a9.9,9.9 0 1 0 19.8,0a9.9,9.9 0 1 0 -19.8,0zM814.8,1128.4a9.9,9.9 0 1 0 19.8,0a9.9,9.9 0 1 0 -19.8,0zM816.8,1124.4a9.9,9.9 0 1 0 19.8,0a9.9,9.9 0 1 0 -19.8,0zM818.8,1120.4a9.9,9.9 0 1 0 19.8,0a9.9,9.9 0 1 0 -19.8,0zM818.8,1116.4a9.9,9.9 0 1 0 19.8,0a9.9,9.9 0 1 0 -19.8,0zM820.8,1112.4a9.9,9.9 0 1 0 19.8,0a9.9,9.9 0 1 0 -19.8,0zM822.8,1106.4a9.9,9.9 0 1 0 19.8,0a9.9,9.9 0 1 0 -19.8,0zM824.8,1102.4a9.9,9.9 0 1 0 19.8,0a9.9,9.9 0 1 0 -19.8,0zM824.8,1098.4a9.9,9.9 0 1 0 19.8,0a9.9,9.9 0 1 0 -19.8,0zM826.8,1094.4a9.9,9.9 0 1 0 19.8,0a9.9,9.9 0 1 0 -19.8,0zM828.8,1088.4a9.9,9.9 0 1 0 19.8,0a9.9,9.9 0 1 0 -19.8,0zM828.8,1084.4a9.9,9.9 0 1 0 19.8,0a9.9,9.9 0 1 0 -19.8,0zM830.8,1080.4a9.9,9.9 0 1 0 19.8,0a9.9,9.9 0 1 0 -19.8,0zM832.8,1074.4a9.9,9.9 0 1 0 19.8,0a9.9,9.9 0 1 0 -19.8,0zM834.8,1070.4a9.9,9.9 0 1 0 19.8,0a9.9,9.9 0 1 0 -19.8,0zM834.8,1066.4a9.9,9.9 0 1 0 19.8,0a9.9,9.9 0 1 0 -19.8,0zM836.8,1060.4a9.9,9.9 0 1 0 19.8,0a9.9,9.9 0 1 0 -19.8,0zM838.8,1056.4a9.9,9.9 0 1 0 19.8,0a9.9,9.9 0 1 0 -19.8,0zM840.8,1050.4a9.9,9.9 0 1 0 19.8,0a9.9,9.9 0 1 0 -19.8,0zM840.8,1046.4a9.9,9.9 0 1 0 19.8,0a9.9,9.9 0 1 0 -19.8,0zM842.8,1040.4a9.9,9.9 0 1 0 19.8,0a9.9,9.9 0 1 0 -19.8,0zM844.8,1036.4a9.9,9.9 0 1 0 19.8,0a9.9,9.9 0 1 0 -19.8,0zM844.8,1030.4a9.9,9.9 0 1 0 19.8,0a9.9,9.9 0 1 0 -19.8,0zM846.8,1026.4a9.9,9.9 0 1 0 19.8,0a9.9,9.9 0 1 0 -19.8,0zM848.8,1020.4a9.9,9.9 0 1 0 19.8,0a9.9,9.9 0 1 0 -19.8,0zM850.8,1014.4a9.9,9.9 0 1 0 19.8,0a9.9,9.9 0 1 0 -19.8,0zM850.8,1010.4a9.9,9.9 0 1 0 19.8,0a9.9,9.9 0 1 0 -19.8,0zM852.8,1004.4a9.9,9.9 0 1 0 19.8,0a9.9,9.9 0 1 0 -19.8,0zM854.8,1000.4a9.9,9.9 0 1 0 19.8,0a9.9,9.9 0 1 0 -19.8,0zM854.8,994.4a9.9,9.9 0 1 0 19.8,0a9.9,9.9 0 1 0 -19.8,0zM856.8,990.4a9.9,9.9 0 1 0 19.8,0a9.9,9.9 0 1 0 -19.8,0zM858.8,984.4a9.9,9.9 0 1 0 19.8,0a9.9,9.9 0 1 0 -19.8,0zM860.8,978.4a9.9,9.9 0 1 0 19.8,0a9.9,9.9 0 1 0 -19.8,0zM860.8,974.4a9.9,9.9 0 1 0 19.8,0a9.9,9.9 0 1 0 -19.8,0zM862.8,968.4a9.9,9.9 0 1 0 19.8,0a9.9,9.9 0 1 0 -19.8,0zM864.8,962.4a9.9,9.9 0 1 0 19.8,0a9.9,9.9 0 1 0 -19.8,0zM864.8,956.4a9.9,9.9 0 1 0 19.8,0a9.9,9.9 0 1 0 -19.8,0zM866.8,952.4a9.9,9.9 0 1 0 19.8,0a9.9,9.9 0 1 0 -19.8,0zM868.8,946.4a9.9,9.9 0 1 0 19.8,0a9.9,9.9 0 1 0 -19.8,0zM870.8,942.4a9.9,9.9 0 1 0 19.8,0a9.9,9.9 0 1 0 -19.8,0zM870.8,936.4a9.9,9.9 0 1 0 19.8,0a9.9,9.9 0 1 0 -19.8,0zM872.8,930.4a9.9,9.9 0 1 0 19.8,0a9.9,9.9 0 1 0 -19.8,0zM874.8,924.4a9.9,9.9 0 1 0 19.8,0a9.9,9.9 0 1 0 -19.8,0zM876.8,920.4a9.9,9.9 0 1 0 19.8,0a9.9,9.9 0 1 0 -19.8,0zM876.8,914.4a9.9,9.9 0 1 0 19.8,0a9.9,9.9 0 1 0 -19.8,0zM878.8,908.4a9.9,9.9 0 1 0 19.8,0a9.9,9.9 0 1 0 -19.8,0zM880.8,904.4a9.9,9.9 0 1 0 19.8,0a9.9,9.9 0 1 0 -19.8,0zM880.8,898.4a9.9,9.9 0 1 0 19.8,0a9.9,9.9 0 1 0 -19.8,0zM882.8,892.4a9.9,9.9 0 1 0 19.8,0a9.9,9.9 0 1 0 -19.8,0zM884.8,886.4a9.9,9.9 0 1 0 19.8,0a9.9,9.9 0 1 0 -19.8,0zM886.8,882.4a9.9,9.9 0 1 0 19.8,0a9.9,9.9 0 1 0 -19.8,0zM886.8,876.4a9.9,9.9 0 1 0 19.8,0a9.9,9.9 0 1 0 -19.8,0zM888.8,870.4a9.9,9.9 0 1 0 19.8,0a9.9,9.9 0 1 0 -19.8,0zM890.8,864.4a9.9,9.9 0 1 0 19.8,0a9.9,9.9 0 1 0 -19.8,0zM890.8,860.4a9.9,9.9 0 1 0 19.8,0a9.9,9.9 0 1 0 -19.8,0zM892.8,854.4a9.9,9.9 0 1 0 19.8,0a9.9,9.9 0 1 0 -19.8,0zM894.8,848.4a9.9,9.9 0 1 0 19.8,0a9.9,9.9 0 1 0 -19.8,0zM896.8,842.4a9.9,9.9 0 1 0 19.8,0a9.9,9.9 0 1 0 -19.8,0zM896.8,838.4a9.9,9.9 0 1 0 19.8,0a9.9,9.9 0 1 0 -19.8,0zM898.8,832.4a9.9,9.9 0 1 0 19.8,0a9.9,9.9 0 1 0 -19.8,0zM900.8,826.4a9.9,9.9 0 1 0 19.8,0a9.9,9.9 0 1 0 -19.8,0zM902.8,820.4a9.9,9.9 0 1 0 19.8,0a9.9,9.9 0 1 0 -19.8,0zM902.8,816.4a9.9,9.9 0 1 0 19.8,0a9.9,9.9 0 1 0 -19.8,0zM904.8,810.4a9.9,9.9 0 1 0 19.8,0a9.9,9.9 0 1 0 -19.8,0zM906.8,806.4a9.9,9.9 0 1 0 19.8,0a9.9,9.9 0 1 0 -19.8,0zM906.8,800.4a9.9,9.9 0 1 0 19.8,0a9.9,9.9 0 1 0 -19.8,0zM908.8,794.4a9.9,9.9 0 1 0 19.8,0a9.9,9.9 0 1 0 -19.8,0zM910.8,788.4a9.9,9.9 0 1 0 19.8,0a9.9,9.9 0 1 0 -19.8,0zM912.8,784.4a9.9,9.9 0 1 0 19.8,0a9.9,9.9 0 1 0 -19.8,0zM912.8,778.4a9.9,9.9 0 1 0 19.8,0a9.9,9.9 0 1 0 -19.8,0zM914.8,774.4a9.9,9.9 0 1 0 19.8,0a9.9,9.9 0 1 0 -19.8,0zM916.8,768.4a9.9,9.9 0 1 0 19.8,0a9.9,9.9 0 1 0 -19.8,0zM916.8,764.4a9.9,9.9 0 1 0 19.8,0a9.9,9.9 0 1 0 -19.8,0zM918.8,758.4a9.9,9.9 0 1 0 19.8,0a9.9,9.9 0 1 0 -19.8,0zM920.8,754.4a9.9,9.9 0 1 0 19.8,0a9.9,9.9 0 1 0 -19.8,0zM922.8,748.4a9.9,9.9 0 1 0 19.8,0a9.9,9.9 0 1 0 -19.8,0zM922.8,742.4a9.9,9.9 0 1 0 19.8,0a9.9,9.9 0 1 0 -19.8,0zM924.8,738.4a9.9,9.9 0 1 0 19.8,0a9.9,9.9 0 1 0 -19.8,0zM926.8,734.4a9.9,9.9 0 1 0 19.8,0a9.9,9.9 0 1 0 -19.8,0zM928.8,728.4a9.9,9.9 0 1 0 19.8,0a9.9,9.9 0 1 0 -19.8,0zM928.8,724.4a9.9,9.9 0 1 0 19.8,0a9.9,9.9 0 1 0 -19.8,0zM930.8,720.4a9.9,9.9 0 1 0 19.8,0a9.9,9.9 0 1 0 -19.8,0zM932.8,714.4a9.9,9.9 0 1 0 19.8,0a9.9,9.9 0 1 0 -19.8,0zM932.8,710.4a9.9,9.9 0 1 0 19.8,0a9.9,9.9 0 1 0 -19.8,0zM934.8,704.4a9.9,9.9 0 1 0 19.8,0a9.9,9.9 0 1 0 -19.8,0zM936.8,700.4a9.9,9.9 0 1 0 19.8,0a9.9,9.9 0 1 0 -19.8,0zM938.8,696.4a9.9,9.9 0 1 0 19.8,0a9.9,9.9 0 1 0 -19.8,0zM938.8,690.4a9.9,9.9 0 1 0 19.8,0a9.9,9.9 0 1 0 -19.8,0zM940.8,686.4a9.9,9.9 0 1 0 19.8,0a9.9,9.9 0 1 0 -19.8,0zM942.8,682.4a9.9,9.9 0 1 0 19.8,0a9.9,9.9 0 1 0 -19.8,0zM942.8,678.4a9.9,9.9 0 1 0 19.8,0a9.9,9.9 0 1 0 -19.8,0zM944.8,672.4a9.9,9.9 0 1 0 19.8,0a9.9,9.9 0 1 0 -19.8,0zM946.8,668.4a9.9,9.9 0 1 0 19.8,0a9.9,9.9 0 1 0 -19.8,0zM948.8,664.4a9.9,9.9 0 1 0 19.8,0a9.9,9.9 0 1 0 -19.8,0zM948.8,660.4a9.9,9.9 0 1 0 19.8,0a9.9,9.9 0 1 0 -19.8,0zM950.8,656.4a9.9,9.9 0 1 0 19.8,0a9.9,9.9 0 1 0 -19.8,0zM952.8,650.4a9.9,9.9 0 1 0 19.8,0a9.9,9.9 0 1 0 -19.8,0zM954.8,646.4a9.9,9.9 0 1 0 19.8,0a9.9,9.9 0 1 0 -19.8,0zM954.8,642.4a9.9,9.9 0 1 0 19.8,0a9.9,9.9 0 1 0 -19.8,0zM956.8,638.4a9.9,9.9 0 1 0 19.8,0a9.9,9.9 0 1 0 -19.8,0zM958.8,634.4a9.9,9.9 0 1 0 19.8,0a9.9,9.9 0 1 0 -19.8,0zM958.8,630.4a9.9,9.9 0 1 0 19.8,0a9.9,9.9 0 1 0 -19.8,0zM960.8,626.4a9.9,9.9 0 1 0 19.8,0a9.9,9.9 0 1 0 -19.8,0zM962.8,622.4a9.9,9.9 0 1 0 19.8,0a9.9,9.9 0 1 0 -19.8,0zM964.8,616.4a9.9,9.9 0 1 0 19.8,0a9.9,9.9 0 1 0 -19.8,0zM964.8,612.4a9.9,9.9 0 1 0 19.8,0a9.9,9.9 0 1 0 -19.8,0zM966.8,608.4a9.9,9.9 0 1 0 19.8,0a9.9,9.9 0 1 0 -19.8,0zM968.8,604.4a9.9,9.9 0 1 0 19.8,0a9.9,9.9 0 1 0 -19.8,0zM968.8,600.4a9.9,9.9 0 1 0 19.8,0a9.9,9.9 0 1 0 -19.8,0zM970.8,598.4a9.9,9.9 0 1 0 19.8,0a9.9,9.9 0 1 0 -19.8,0zM972.8,594.4a9.9,9.9 0 1 0 19.8,0a9.9,9.9 0 1 0 -19.8,0zM974.8,590.4a9.9,9.9 0 1 0 19.8,0a9.9,9.9 0 1 0 -19.8,0zM974.8,586.4a9.9,9.9 0 1 0 19.8,0a9.9,9.9 0 1 0 -19.8,0zM976.8,582.4a9.9,9.9 0 1 0 19.8,0a9.9,9.9 0 1 0 -19.8,0zM978.8,578.4a9.9,9.9 0 1 0 19.8,0a9.9,9.9 0 1 0 -19.8,0zM978.8,574.4a9.9,9.9 0 1 0 19.8,0a9.9,9.9 0 1 0 -19.8,0zM980.8,570.4a9.9,9.9 0 1 0 19.8,0a9.9,9.9 0 1 0 -19.8,0zM982.8,566.4a9.9,9.9 0 1 0 19.8,0a9.9,9.9 0 1 0 -19.8,0zM984.8,562.4a9.9,9.9 0 1 0 19.8,0a9.9,9.9 0 1 0 -19.8,0zM984.8,558.4a9.9,9.9 0 1 0 19.8,0a9.9,9.9 0 1 0 -19.8,0zM986.8,556.4a9.9,9.9 0 1 0 19.8,0a9.9,9.9 0 1 0 -19.8,0zM988.8,552.4a9.9,9.9 0 1 0 19.8,0a9.9,9.9 0 1 0 -19.8,0zM990.8,548.4a9.9,9.9 0 1 0 19.8,0a9.9,9.9 0 1 0 -19.8,0zM990.8,544.4a9.9,9.9 0 1 0 19.8,0a9.9,9.9 0 1 0 -19.8,0zM992.8,540.4a9.9,9.9 0 1 0 19.8,0a9.9,9.9 0 1 0 -19.8,0zM994.8,536.4a9.9,9.9 0 1 0 19.8,0a9.9,9.9 0 1 0 -19.8,0zM994.8,534.4a9.9,9.9 0 1 0 19.8,0a9.9,9.9 0 1 0 -19.8,0zM996.8,530.4a9.9,9.9 0 1 0 19.8,0a9.9,9.9 0 1 0 -19.8,0zM998.8,528.4a9.9,9.9 0 1 0 19.8,0a9.9,9.9 0 1 0 -19.8,0zM1000.8,524.4a9.9,9.9 0 1 0 19.8,0a9.9,9.9 0 1 0 -19.8,0zM1000.8,520.4a9.9,9.9 0 1 0 19.8,0a9.9,9.9 0 1 0 -19.8,0zM1002.8,516.4a9.9,9.9 0 1 0 19.8,0a9.9,9.9 0 1 0 -19.8,0zM1004.8,514.4a9.9,9.9 0 1 0 19.8,0a9.9,9.9 0 1 0 -19.8,0zM1004.8,510.4a9.9,9.9 0 1 0 19.8,0a9.9,9.9 0 1 0 -19.8,0zM1006.8,506.4a9.9,9.9 0 1 0 19.8,0a9.9,9.9 0 1 0 -19.8,0zM1008.8,504.4a9.9,9.9 0 1 0 19.8,0a9.9,9.9 0 1 0 -19.8,0zM1010.8,500.4a9.9,9.9 0 1 0 19.8,0a9.9,9.9 0 1 0 -19.8,0zM1010.8,496.4a9.9,9.9 0 1 0 19.8,0a9.9,9.9 0 1 0 -19.8,0zM1012.8,494.4a9.9,9.9 0 1 0 19.8,0a9.9,9.9 0 1 0 -19.8,0zM1014.8,490.4a9.9,9.9 0 1 0 19.8,0a9.9,9.9 0 1 0 -19.8,0zM1016.8,486.4a9.9,9.9 0 1 0 19.8,0a9.9,9.9 0 1 0 -19.8,0zM1016.8,484.4a9.9,9.9 0 1 0 19.8,0a9.9,9.9 0 1 0 -19.8,0zM1018.8,480.4a9.9,9.9 0 1 0 19.8,0a9.9,9.9 0 1 0 -19.8,0zM1020.8,478.4a9.9,9.9 0 1 0 19.8,0a9.9,9.9 0 1 0 -19.8,0zM1020.8,474.4a9.9,9.9 0 1 0 19.8,0a9.9,9.9 0 1 0 -19.8,0zM1022.8,470.4a9.9,9.9 0 1 0 19.8,0a9.9,9.9 0 1 0 -19.8,0zM1024.8,468.4a9.9,9.9 0 1 0 19.8,0a9.9,9.9 0 1 0 -19.8,0zM1026.8,464.4a9.9,9.9 0 1 0 19.8,0a9.9,9.9 0 1 0 -19.8,0zM1026.8,462.4a9.9,9.9 0 1 0 19.8,0a9.9,9.9 0 1 0 -19.8,0zM1028.8,460.4a9.9,9.9 0 1 0 19.8,0a9.9,9.9 0 1 0 -19.8,0zM1030.8,456.4a9.9,9.9 0 1 0 19.8,0a9.9,9.9 0 1 0 -19.8,0zM1030.8,454.4a9.9,9.9 0 1 0 19.8,0a9.9,9.9 0 1 0 -19.8,0zM1032.8,450.4a9.9,9.9 0 1 0 19.8,0a9.9,9.9 0 1 0 -19.8,0zM1034.8,448.4a9.9,9.9 0 1 0 19.8,0a9.9,9.9 0 1 0 -19.8,0zM1036.8,444.4a9.9,9.9 0 1 0 19.8,0a9.9,9.9 0 1 0 -19.8,0zM1036.8,442.4a9.9,9.9 0 1 0 19.8,0a9.9,9.9 0 1 0 -19.8,0zM1038.8,440.4a9.9,9.9 0 1 0 19.8,0a9.9,9.9 0 1 0 -19.8,0zM1040.8,436.4a9.9,9.9 0 1 0 19.8,0a9.9,9.9 0 1 0 -19.8,0zM1042.8,434.4a9.9,9.9 0 1 0 19.8,0a9.9,9.9 0 1 0 -19.8,0zM1042.8,430.4a9.9,9.9 0 1 0 19.8,0a9.9,9.9 0 1 0 -19.8,0zM1044.8,428.4a9.9,9.9 0 1 0 19.8,0a9.9,9.9 0 1 0 -19.8,0zM1046.8,426.4a9.9,9.9 0 1 0 19.8,0a9.9,9.9 0 1 0 -19.8,0zM1046.8,422.4a9.9,9.9 0 1 0 19.8,0a9.9,9.9 0 1 0 -19.8,0zM1048.8,420.4a9.9,9.9 0 1 0 19.8,0a9.9,9.9 0 1 0 -19.8,0zM1050.8,416.4a9.9,9.9 0 1 0 19.8,0a9.9,9.9 0 1 0 -19.8,0zM1052.8,414.4a9.9,9.9 0 1 0 19.8,0a9.9,9.9 0 1 0 -19.8,0zM1052.8,412.4a9.9,9.9 0 1 0 19.8,0a9.9,9.9 0 1 0 -19.8,0zM1054.8,408.4a9.9,9.9 0 1 0 19.8,0a9.9,9.9 0 1 0 -19.8,0zM1056.8,406.4a9.9,9.9 0 1 0 19.8,0a9.9,9.9 0 1 0 -19.8,0zM1056.8,404.4a9.9,9.9 0 1 0 19.8,0a9.9,9.9 0 1 0 -19.8,0zM1058.8,402.4a9.9,9.9 0 1 0 19.8,0a9.9,9.9 0 1 0 -19.8,0zM1060.8,398.4a9.9,9.9 0 1 0 19.8,0a9.9,9.9 0 1 0 -19.8,0zM1062.8,396.4a9.9,9.9 0 1 0 19.8,0a9.9,9.9 0 1 0 -19.8,0zM1062.8,394.4a9.9,9.9 0 1 0 19.8,0a9.9,9.9 0 1 0 -19.8,0zM1064.8,392.4a9.9,9.9 0 1 0 19.8,0a9.9,9.9 0 1 0 -19.8,0zM1066.8,390.4a9.9,9.9 0 1 0 19.8,0a9.9,9.9 0 1 0 -19.8,0zM1068.8,388.4a9.9,9.9 0 1 0 19.8,0a9.9,9.9 0 1 0 -19.8,0zM1068.8,384.4a9.9,9.9 0 1 0 19.8,0a9.9,9.9 0 1 0 -19.8,0zM1070.8,382.4a9.9,9.9 0 1 0 19.8,0a9.9,9.9 0 1 0 -19.8,0zM1072.8,380.4a9.9,9.9 0 1 0 19.8,0a9.9,9.9 0 1 0 -19.8,0zM1072.8,378.4a9.9,9.9 0 1 0 19.8,0a9.9,9.9 0 1 0 -19.8,0zM1074.8,376.4a9.9,9.9 0 1 0 19.8,0a9.9,9.9 0 1 0 -19.8,0zM1076.8,374.4a9.9,9.9 0 1 0 19.8,0a9.9,9.9 0 1 0 -19.8,0zM1078.8,372.4a9.9,9.9 0 1 0 19.8,0a9.9,9.9 0 1 0 -19.8,0zM1078.8,370.4a9.9,9.9 0 1 0 19.8,0a9.9,9.9 0 1 0 -19.8,0zM1080.8,368.4a9.9,9.9 0 1 0 19.8,0a9.9,9.9 0 1 0 -19.8,0zM1082.8,366.4a9.9,9.9 0 1 0 19.8,0a9.9,9.9 0 1 0 -19.8,0zM1082.8,364.4a9.9,9.9 0 1 0 19.8,0a9.9,9.9 0 1 0 -19.8,0zM1084.8,362.4a9.9,9.9 0 1 0 19.8,0a9.9,9.9 0 1 0 -19.8,0zM1086.8,362.4a9.9,9.9 0 1 0 19.8,0a9.9,9.9 0 1 0 -19.8,0zM1088.8,360.4a9.9,9.9 0 1 0 19.8,0a9.9,9.9 0 1 0 -19.8,0zM1088.8,358.4a9.9,9.9 0 1 0 19.8,0a9.9,9.9 0 1 0 -19.8,0zM1090.8,356.4a9.9,9.9 0 1 0 19.8,0a9.9,9.9 0 1 0 -19.8,0zM1092.8,354.4a9.9,9.9 0 1 0 19.8,0a9.9,9.9 0 1 0 -19.8,0zM1092.8,352.4a9.9,9.9 0 1 0 19.8,0a9.9,9.9 0 1 0 -19.8,0zM1094.8,350.4a9.9,9.9 0 1 0 19.8,0a9.9,9.9 0 1 0 -19.8,0zM1096.8,348.4a9.9,9.9 0 1 0 19.8,0a9.9,9.9 0 1 0 -19.8,0zM1098.8,346.4a9.9,9.9 0 1 0 19.8,0a9.9,9.9 0 1 0 -19.8,0zM1098.8,346.4a9.9,9.9 0 1 0 19.8,0a9.9,9.9 0 1 0 -19.8,0zM1100.8,344.4a9.9,9.9 0 1 0 19.8,0a9.9,9.9 0 1 0 -19.8,0zM1102.8,342.4a9.9,9.9 0 1 0 19.8,0a9.9,9.9 0 1 0 -19.8,0zM1104.8,340.4a9.9,9.9 0 1 0 19.8,0a9.9,9.9 0 1 0 -19.8,0zM1104.8,340.4a9.9,9.9 0 1 0 19.8,0a9.9,9.9 0 1 0 -19.8,0zM1106.8,338.4a9.9,9.9 0 1 0 19.8,0a9.9,9.9 0 1 0 -19.8,0zM1108.8,336.4a9.9,9.9 0 1 0 19.8,0a9.9,9.9 0 1 0 -19.8,0zM1108.8,334.4a9.9,9.9 0 1 0 19.8,0a9.9,9.9 0 1 0 -19.8,0zM1110.8,334.4a9.9,9.9 0 1 0 19.8,0a9.9,9.9 0 1 0 -19.8,0zM1112.8,332.4a9.9,9.9 0 1 0 19.8,0a9.9,9.9 0 1 0 -19.8,0zM1114.8,330.4a9.9,9.9 0 1 0 19.8,0a9.9,9.9 0 1 0 -19.8,0zM1114.8,330.4a9.9,9.9 0 1 0 19.8,0a9.9,9.9 0 1 0 -19.8,0zM1116.8,328.4a9.9,9.9 0 1 0 19.8,0a9.9,9.9 0 1 0 -19.8,0zM1118.8,326.4a9.9,9.9 0 1 0 19.8,0a9.9,9.9 0 1 0 -19.8,0zM1118.8,324.4a9.9,9.9 0 1 0 19.8,0a9.9,9.9 0 1 0 -19.8,0zM1120.8,322.4a9.9,9.9 0 1 0 19.8,0a9.9,9.9 0 1 0 -19.8,0zM1122.8,322.4a9.9,9.9 0 1 0 19.8,0a9.9,9.9 0 1 0 -19.8,0zM1124.8,320.4a9.9,9.9 0 1 0 19.8,0a9.9,9.9 0 1 0 -19.8,0zM1124.8,318.4a9.9,9.9 0 1 0 19.8,0a9.9,9.9 0 1 0 -19.8,0zM1126.8,318.4a9.9,9.9 0 1 0 19.8,0a9.9,9.9 0 1 0 -19.8,0zM1128.8,316.4a9.9,9.9 0 1 0 19.8,0a9.9,9.9 0 1 0 -19.8,0zM1130.8,314.4a9.9,9.9 0 1 0 19.8,0a9.9,9.9 0 1 0 -19.8,0zM1130.8,314.4a9.9,9.9 0 1 0 19.8,0a9.9,9.9 0 1 0 -19.8,0zM1132.8,312.4a9.9,9.9 0 1 0 19.8,0a9.9,9.9 0 1 0 -19.8,0zM1134.8,312.4a9.9,9.9 0 1 0 19.8,0a9.9,9.9 0 1 0 -19.8,0zM1134.8,310.4a9.9,9.9 0 1 0 19.8,0a9.9,9.9 0 1 0 -19.8,0zM1136.8,308.4a9.9,9.9 0 1 0 19.8,0a9.9,9.9 0 1 0 -19.8,0zM1138.8,306.4a9.9,9.9 0 1 0 19.8,0a9.9,9.9 0 1 0 -19.8,0zM1140.8,306.4a9.9,9.9 0 1 0 19.8,0a9.9,9.9 0 1 0 -19.8,0zM1140.8,304.4a9.9,9.9 0 1 0 19.8,0a9.9,9.9 0 1 0 -19.8,0zM1142.8,304.4a9.9,9.9 0 1 0 19.8,0a9.9,9.9 0 1 0 -19.8,0zM1144.8,302.4a9.9,9.9 0 1 0 19.8,0a9.9,9.9 0 1 0 -19.8,0zM1144.8,300.4a9.9,9.9 0 1 0 19.8,0a9.9,9.9 0 1 0 -19.8,0zM1146.8,300.4a9.9,9.9 0 1 0 19.8,0a9.9,9.9 0 1 0 -19.8,0zM1148.8,298.4a9.9,9.9 0 1 0 19.8,0a9.9,9.9 0 1 0 -19.8,0zM1150.8,298.4a9.9,9.9 0 1 0 19.8,0a9.9,9.9 0 1 0 -19.8,0zM1150.8,296.4a9.9,9.9 0 1 0 19.8,0a9.9,9.9 0 1 0 -19.8,0zM1152.8,296.4a9.9,9.9 0 1 0 19.8,0a9.9,9.9 0 1 0 -19.8,0zM1154.8,294.4a9.9,9.9 0 1 0 19.8,0a9.9,9.9 0 1 0 -19.8,0zM1156.8,292.4a9.9,9.9 0 1 0 19.8,0a9.9,9.9 0 1 0 -19.8,0zM1156.8,292.4a9.9,9.9 0 1 0 19.8,0a9.9,9.9 0 1 0 -19.8,0zM1158.8,290.4a9.9,9.9 0 1 0 19.8,0a9.9,9.9 0 1 0 -19.8,0zM1160.8,290.4a9.9,9.9 0 1 0 19.8,0a9.9,9.9 0 1 0 -19.8,0zM1160.8,288.4a9.9,9.9 0 1 0 19.8,0a9.9,9.9 0 1 0 -19.8,0zM1162.8,288.4a9.9,9.9 0 1 0 19.8,0a9.9,9.9 0 1 0 -19.8,0zM1164.8,288.4a9.9,9.9 0 1 0 19.8,0a9.9,9.9 0 1 0 -19.8,0zM1166.8,286.4a9.9,9.9 0 1 0 19.8,0a9.9,9.9 0 1 0 -19.8,0zM1166.8,286.4a9.9,9.9 0 1 0 19.8,0a9.9,9.9 0 1 0 -19.8,0zM1168.8,284.4a9.9,9.9 0 1 0 19.8,0a9.9,9.9 0 1 0 -19.8,0zM1170.8,284.4a9.9,9.9 0 1 0 19.8,0a9.9,9.9 0 1 0 -19.8,0zM1170.8,282.4a9.9,9.9 0 1 0 19.8,0a9.9,9.9 0 1 0 -19.8,0zM1172.8,282.4a9.9,9.9 0 1 0 19.8,0a9.9,9.9 0 1 0 -19.8,0zM1174.8,280.4a9.9,9.9 0 1 0 19.8,0a9.9,9.9 0 1 0 -19.8,0zM1176.8,280.4a9.9,9.9 0 1 0 19.8,0a9.9,9.9 0 1 0 -19.8,0zM1176.8,280.4a9.9,9.9 0 1 0 19.8,0a9.9,9.9 0 1 0 -19.8,0zM1178.8,278.4a9.9,9.9 0 1 0 19.8,0a9.9,9.9 0 1 0 -19.8,0zM1180.8,278.4a9.9,9.9 0 1 0 19.8,0a9.9,9.9 0 1 0 -19.8,0zM1182.8,276.4a9.9,9.9 0 1 0 19.8,0a9.9,9.9 0 1 0 -19.8,0zM1182.8,276.4a9.9,9.9 0 1 0 19.8,0a9.9,9.9 0 1 0 -19.8,0zM1184.8,276.4a9.9,9.9 0 1 0 19.8,0a9.9,9.9 0 1 0 -19.8,0zM1186.8,274.4a9.9,9.9 0 1 0 19.8,0a9.9,9.9 0 1 0 -19.8,0zM1186.8,274.4a9.9,9.9 0 1 0 19.8,0a9.9,9.9 0 1 0 -19.8,0zM1188.8,274.4a9.9,9.9 0 1 0 19.8,0a9.9,9.9 0 1 0 -19.8,0zM1190.8,272.4a9.9,9.9 0 1 0 19.8,0a9.9,9.9 0 1 0 -19.8,0zM1192.8,270.4a9.9,9.9 0 1 0 19.8,0a9.9,9.9 0 1 0 -19.8,0zM1192.8,270.4a9.9,9.9 0 1 0 19.8,0a9.9,9.9 0 1 0 -19.8,0zM1194.8,270.4a9.9,9.9 0 1 0 19.8,0a9.9,9.9 0 1 0 -19.8,0zM1196.8,268.4a9.9,9.9 0 1 0 19.8,0a9.9,9.9 0 1 0 -19.8,0zM1196.8,268.4a9.9,9.9 0 1 0 19.8,0a9.9,9.9 0 1 0 -19.8,0zM1198.8,268.4a9.9,9.9 0 1 0 19.8,0a9.9,9.9 0 1 0 -19.8,0zM1200.8,268.4a9.9,9.9 0 1 0 19.8,0a9.9,9.9 0 1 0 -19.8,0zM1202.8,266.4a9.9,9.9 0 1 0 19.8,0a9.9,9.9 0 1 0 -19.8,0zM1202.8,266.4a9.9,9.9 0 1 0 19.8,0a9.9,9.9 0 1 0 -19.8,0zM1204.8,266.4a9.9,9.9 0 1 0 19.8,0a9.9,9.9 0 1 0 -19.8,0zM1206.8,264.4a9.9,9.9 0 1 0 19.8,0a9.9,9.9 0 1 0 -19.8,0zM1206.8,264.4a9.9,9.9 0 1 0 19.8,0a9.9,9.9 0 1 0 -19.8,0zM1208.8,264.4a9.9,9.9 0 1 0 19.8,0a9.9,9.9 0 1 0 -19.8,0zM1210.8,262.4a9.9,9.9 0 1 0 19.8,0a9.9,9.9 0 1 0 -19.8,0zM1212.8,262.4a9.9,9.9 0 1 0 19.8,0a9.9,9.9 0 1 0 -19.8,0zM1212.8,262.4a9.9,9.9 0 1 0 19.8,0a9.9,9.9 0 1 0 -19.8,0zM1214.8,262.4a9.9,9.9 0 1 0 19.8,0a9.9,9.9 0 1 0 -19.8,0zM1216.8,260.4a9.9,9.9 0 1 0 19.8,0a9.9,9.9 0 1 0 -19.8,0zM1218.8,260.4a9.9,9.9 0 1 0 19.8,0a9.9,9.9 0 1 0 -19.8,0zM1218.8,260.4a9.9,9.9 0 1 0 19.8,0a9.9,9.9 0 1 0 -19.8,0zM1220.8,260.4a9.9,9.9 0 1 0 19.8,0a9.9,9.9 0 1 0 -19.8,0zM1222.8,260.4a9.9,9.9 0 1 0 19.8,0a9.9,9.9 0 1 0 -19.8,0zM1222.8,258.4a9.9,9.9 0 1 0 19.8,0a9.9,9.9 0 1 0 -19.8,0zM1224.8,258.4a9.9,9.9 0 1 0 19.8,0a9.9,9.9 0 1 0 -19.8,0zM1226.8,258.4a9.9,9.9 0 1 0 19.8,0a9.9,9.9 0 1 0 -19.8,0zM1228.8,258.4a9.9,9.9 0 1 0 19.8,0a9.9,9.9 0 1 0 -19.8,0zM1228.8,256.4a9.9,9.9 0 1 0 19.8,0a9.9,9.9 0 1 0 -19.8,0zM1230.8,256.4a9.9,9.9 0 1 0 19.8,0a9.9,9.9 0 1 0 -19.8,0zM1232.8,256.4a9.9,9.9 0 1 0 19.8,0a9.9,9.9 0 1 0 -19.8,0zM1232.8,256.4a9.9,9.9 0 1 0 19.8,0a9.9,9.9 0 1 0 -19.8,0zM1234.8,256.4a9.9,9.9 0 1 0 19.8,0a9.9,9.9 0 1 0 -19.8,0zM1236.8,254.4a9.9,9.9 0 1 0 19.8,0a9.9,9.9 0 1 0 -19.8,0zM1238.8,254.4a9.9,9.9 0 1 0 19.8,0a9.9,9.9 0 1 0 -19.8,0zM1238.8,254.4a9.9,9.9 0 1 0 19.8,0a9.9,9.9 0 1 0 -19.8,0zM1240.8,254.4a9.9,9.9 0 1 0 19.8,0a9.9,9.9 0 1 0 -19.8,0zM1242.8,254.4a9.9,9.9 0 1 0 19.8,0a9.9,9.9 0 1 0 -19.8,0zM1244.8,254.4a9.9,9.9 0 1 0 19.8,0a9.9,9.9 0 1 0 -19.8,0zM1244.8,254.4a9.9,9.9 0 1 0 19.8,0a9.9,9.9 0 1 0 -19.8,0zM1246.8,252.4a9.9,9.9 0 1 0 19.8,0a9.9,9.9 0 1 0 -19.8,0zM1248.8,252.4a9.9,9.9 0 1 0 19.8,0a9.9,9.9 0 1 0 -19.8,0zM1248.8,252.4a9.9,9.9 0 1 0 19.8,0a9.9,9.9 0 1 0 -19.8,0zM1250.8,252.4a9.9,9.9 0 1 0 19.8,0a9.9,9.9 0 1 0 -19.8,0zM1252.8,252.4a9.9,9.9 0 1 0 19.8,0a9.9,9.9 0 1 0 -19.8,0zM1254.8,252.4a9.9,9.9 0 1 0 19.8,0a9.9,9.9 0 1 0 -19.8,0zM1254.8,252.4a9.9,9.9 0 1 0 19.8,0a9.9,9.9 0 1 0 -19.8,0zM1256.8,252.4a9.9,9.9 0 1 0 19.8,0a9.9,9.9 0 1 0 -19.8,0zM1258.8,252.4a9.9,9.9 0 1 0 19.8,0a9.9,9.9 0 1 0 -19.8,0zM1258.8,252.4a9.9,9.9 0 1 0 19.8,0a9.9,9.9 0 1 0 -19.8,0zM1260.8,250.4a9.9,9.9 0 1 0 19.8,0a9.9,9.9 0 1 0 -19.8,0zM1262.8,250.4a9.9,9.9 0 1 0 19.8,0a9.9,9.9 0 1 0 -19.8,0zM1264.8,250.4a9.9,9.9 0 1 0 19.8,0a9.9,9.9 0 1 0 -19.8,0zM1264.8,250.4a9.9,9.9 0 1 0 19.8,0a9.9,9.9 0 1 0 -19.8,0zM1266.8,250.4a9.9,9.9 0 1 0 19.8,0a9.9,9.9 0 1 0 -19.8,0zM1268.8,250.4a9.9,9.9 0 1 0 19.8,0a9.9,9.9 0 1 0 -19.8,0zM1270.8,250.4a9.9,9.9 0 1 0 19.8,0a9.9,9.9 0 1 0 -19.8,0zM1270.8,250.4a9.9,9.9 0 1 0 19.8,0a9.9,9.9 0 1 0 -19.8,0zM1272.8,250.4a9.9,9.9 0 1 0 19.8,0a9.9,9.9 0 1 0 -19.8,0zM1274.8,248.4a9.9,9.9 0 1 0 19.8,0a9.9,9.9 0 1 0 -19.8,0zM1274.8,248.4a9.9,9.9 0 1 0 19.8,0a9.9,9.9 0 1 0 -19.8,0zM1276.8,248.4a9.9,9.9 0 1 0 19.8,0a9.9,9.9 0 1 0 -19.8,0zM1278.8,248.4a9.9,9.9 0 1 0 19.8,0a9.9,9.9 0 1 0 -19.8,0zM1280.8,248.4a9.9,9.9 0 1 0 19.8,0a9.9,9.9 0 1 0 -19.8,0zM1280.8,248.4a9.9,9.9 0 1 0 19.8,0a9.9,9.9 0 1 0 -19.8,0zM1282.8,248.4a9.9,9.9 0 1 0 19.8,0a9.9,9.9 0 1 0 -19.8,0zM1284.8,248.4a9.9,9.9 0 1 0 19.8,0a9.9,9.9 0 1 0 -19.8,0zM1284.8,248.4a9.9,9.9 0 1 0 19.8,0a9.9,9.9 0 1 0 -19.8,0zM1286.8,248.4a9.9,9.9 0 1 0 19.8,0a9.9,9.9 0 1 0 -19.8,0zM1288.8,248.4a9.9,9.9 0 1 0 19.8,0a9.9,9.9 0 1 0 -19.8,0zM1290.8,248.4a9.9,9.9 0 1 0 19.8,0a9.9,9.9 0 1 0 -19.8,0zM1290.8,248.4a9.9,9.9 0 1 0 19.8,0a9.9,9.9 0 1 0 -19.8,0zM1292.8,248.4a9.9,9.9 0 1 0 19.8,0a9.9,9.9 0 1 0 -19.8,0zM1294.8,248.4a9.9,9.9 0 1 0 19.8,0a9.9,9.9 0 1 0 -19.8,0zM1296.8,248.4a9.9,9.9 0 1 0 19.8,0a9.9,9.9 0 1 0 -19.8,0zM1296.8,248.4a9.9,9.9 0 1 0 19.8,0a9.9,9.9 0 1 0 -19.8,0zM1298.8,248.4a9.9,9.9 0 1 0 19.8,0a9.9,9.9 0 1 0 -19.8,0zM1300.8,248.4a9.9,9.9 0 1 0 19.8,0a9.9,9.9 0 1 0 -19.8,0zM1300.8,248.4a9.9,9.9 0 1 0 19.8,0a9.9,9.9 0 1 0 -19.8,0zM1302.8,248.4a9.9,9.9 0 1 0 19.8,0a9.9,9.9 0 1 0 -19.8,0zM1304.8,248.4a9.9,9.9 0 1 0 19.8,0a9.9,9.9 0 1 0 -19.8,0zM1306.8,248.4a9.9,9.9 0 1 0 19.8,0a9.9,9.9 0 1 0 -19.8,0zM1306.8,248.4a9.9,9.9 0 1 0 19.8,0a9.9,9.9 0 1 0 -19.8,0zM1308.8,248.4a9.9,9.9 0 1 0 19.8,0a9.9,9.9 0 1 0 -19.8,0zM1310.8,248.4a9.9,9.9 0 1 0 19.8,0a9.9,9.9 0 1 0 -19.8,0zM1310.8,248.4a9.9,9.9 0 1 0 19.8,0a9.9,9.9 0 1 0 -19.8,0zM1312.8,248.4a9.9,9.9 0 1 0 19.8,0a9.9,9.9 0 1 0 -19.8,0zM1314.8,248.4a9.9,9.9 0 1 0 19.8,0a9.9,9.9 0 1 0 -19.8,0zM1316.8,248.4a9.9,9.9 0 1 0 19.8,0a9.9,9.9 0 1 0 -19.8,0zM1316.8,248.4a9.9,9.9 0 1 0 19.8,0a9.9,9.9 0 1 0 -19.8,0zM1318.8,248.4a9.9,9.9 0 1 0 19.8,0a9.9,9.9 0 1 0 -19.8,0zM1320.8,248.4a9.9,9.9 0 1 0 19.8,0a9.9,9.9 0 1 0 -19.8,0zM1320.8,248.4a9.9,9.9 0 1 0 19.8,0a9.9,9.9 0 1 0 -19.8,0zM1322.8,248.4a9.9,9.9 0 1 0 19.8,0a9.9,9.9 0 1 0 -19.8,0zM1324.8,248.4a9.9,9.9 0 1 0 19.8,0a9.9,9.9 0 1 0 -19.8,0zM1326.8,248.4a9.9,9.9 0 1 0 19.8,0a9.9,9.9 0 1 0 -19.8,0zM1326.8,248.4a9.9,9.9 0 1 0 19.8,0a9.9,9.9 0 1 0 -19.8,0zM1328.8,248.4a9.9,9.9 0 1 0 19.8,0a9.9,9.9 0 1 0 -19.8,0zM1330.8,248.4a9.9,9.9 0 1 0 19.8,0a9.9,9.9 0 1 0 -19.8,0zM1332.8,248.4a9.9,9.9 0 1 0 19.8,0a9.9,9.9 0 1 0 -19.8,0zM1332.8,248.4a9.9,9.9 0 1 0 19.8,0a9.9,9.9 0 1 0 -19.8,0zM1334.8,248.4a9.9,9.9 0 1 0 19.8,0a9.9,9.9 0 1 0 -19.8,0zM1336.8,248.4a9.9,9.9 0 1 0 19.8,0a9.9,9.9 0 1 0 -19.8,0zM1336.8,248.4a9.9,9.9 0 1 0 19.8,0a9.9,9.9 0 1 0 -19.8,0zM1338.8,248.4a9.9,9.9 0 1 0 19.8,0a9.9,9.9 0 1 0 -19.8,0zM1340.8,250.4a9.9,9.9 0 1 0 19.8,0a9.9,9.9 0 1 0 -19.8,0zM1342.8,250.4a9.9,9.9 0 1 0 19.8,0a9.9,9.9 0 1 0 -19.8,0zM1342.8,250.4a9.9,9.9 0 1 0 19.8,0a9.9,9.9 0 1 0 -19.8,0zM1344.8,250.4a9.9,9.9 0 1 0 19.8,0a9.9,9.9 0 1 0 -19.8,0zM1346.8,250.4a9.9,9.9 0 1 0 19.8,0a9.9,9.9 0 1 0 -19.8,0zM1346.8,250.4a9.9,9.9 0 1 0 19.8,0a9.9,9.9 0 1 0 -19.8,0zM1348.8,250.4a9.9,9.9 0 1 0 19.8,0a9.9,9.9 0 1 0 -19.8,0zM1350.8,250.4a9.9,9.9 0 1 0 19.8,0a9.9,9.9 0 1 0 -19.8,0zM1352.8,250.4a9.9,9.9 0 1 0 19.8,0a9.9,9.9 0 1 0 -19.8,0zM1352.8,250.4a9.9,9.9 0 1 0 19.8,0a9.9,9.9 0 1 0 -19.8,0zM1354.8,250.4a9.9,9.9 0 1 0 19.8,0a9.9,9.9 0 1 0 -19.8,0zM1356.8,250.4a9.9,9.9 0 1 0 19.8,0a9.9,9.9 0 1 0 -19.8,0zM1358.8,252.4a9.9,9.9 0 1 0 19.8,0a9.9,9.9 0 1 0 -19.8,0zM1358.8,252.4a9.9,9.9 0 1 0 19.8,0a9.9,9.9 0 1 0 -19.8,0zM1360.8,252.4a9.9,9.9 0 1 0 19.8,0a9.9,9.9 0 1 0 -19.8,0zM1362.8,252.4a9.9,9.9 0 1 0 19.8,0a9.9,9.9 0 1 0 -19.8,0zM1362.8,252.4a9.9,9.9 0 1 0 19.8,0a9.9,9.9 0 1 0 -19.8,0zM1364.8,252.4a9.9,9.9 0 1 0 19.8,0a9.9,9.9 0 1 0 -19.8,0zM1366.8,252.4a9.9,9.9 0 1 0 19.8,0a9.9,9.9 0 1 0 -19.8,0zM1368.8,252.4a9.9,9.9 0 1 0 19.8,0a9.9,9.9 0 1 0 -19.8,0zM1368.8,252.4a9.9,9.9 0 1 0 19.8,0a9.9,9.9 0 1 0 -19.8,0zM1370.8,252.4a9.9,9.9 0 1 0 19.8,0a9.9,9.9 0 1 0 -19.8,0zM1372.8,252.4a9.9,9.9 0 1 0 19.8,0a9.9,9.9 0 1 0 -19.8,0zM1372.8,254.4a9.9,9.9 0 1 0 19.8,0a9.9,9.9 0 1 0 -19.8,0zM1374.8,254.4a9.9,9.9 0 1 0 19.8,0a9.9,9.9 0 1 0 -19.8,0zM1376.8,254.4a9.9,9.9 0 1 0 19.8,0a9.9,9.9 0 1 0 -19.8,0zM1378.8,254.4a9.9,9.9 0 1 0 19.8,0a9.9,9.9 0 1 0 -19.8,0zM1378.8,254.4a9.9,9.9 0 1 0 19.8,0a9.9,9.9 0 1 0 -19.8,0zM1380.8,254.4a9.9,9.9 0 1 0 19.8,0a9.9,9.9 0 1 0 -19.8,0zM1382.8,254.4a9.9,9.9 0 1 0 19.8,0a9.9,9.9 0 1 0 -19.8,0zM1384.8,254.4a9.9,9.9 0 1 0 19.8,0a9.9,9.9 0 1 0 -19.8,0zM1384.8,256.4a9.9,9.9 0 1 0 19.8,0a9.9,9.9 0 1 0 -19.8,0zM1386.8,256.4a9.9,9.9 0 1 0 19.8,0a9.9,9.9 0 1 0 -19.8,0zM1388.8,256.4a9.9,9.9 0 1 0 19.8,0a9.9,9.9 0 1 0 -19.8,0zM1388.8,256.4a9.9,9.9 0 1 0 19.8,0a9.9,9.9 0 1 0 -19.8,0zM1390.8,256.4a9.9,9.9 0 1 0 19.8,0a9.9,9.9 0 1 0 -19.8,0zM1392.8,256.4a9.9,9.9 0 1 0 19.8,0a9.9,9.9 0 1 0 -19.8,0zM1394.8,256.4a9.9,9.9 0 1 0 19.8,0a9.9,9.9 0 1 0 -19.8,0zM1394.8,256.4a9.9,9.9 0 1 0 19.8,0a9.9,9.9 0 1 0 -19.8,0zM1396.8,256.4a9.9,9.9 0 1 0 19.8,0a9.9,9.9 0 1 0 -19.8,0zM1398.8,258.4a9.9,9.9 0 1 0 19.8,0a9.9,9.9 0 1 0 -19.8,0zM1398.8,258.4a9.9,9.9 0 1 0 19.8,0a9.9,9.9 0 1 0 -19.8,0zM1400.8,258.4a9.9,9.9 0 1 0 19.8,0a9.9,9.9 0 1 0 -19.8,0zM1402.8,258.4a9.9,9.9 0 1 0 19.8,0a9.9,9.9 0 1 0 -19.8,0zM1404.8,258.4a9.9,9.9 0 1 0 19.8,0a9.9,9.9 0 1 0 -19.8,0zM1404.8,258.4a9.9,9.9 0 1 0 19.8,0a9.9,9.9 0 1 0 -19.8,0zM1406.8,258.4a9.9,9.9 0 1 0 19.8,0a9.9,9.9 0 1 0 -19.8,0zM1408.8,258.4a9.9,9.9 0 1 0 19.8,0a9.9,9.9 0 1 0 -19.8,0zM1410.8,258.4a9.9,9.9 0 1 0 19.8,0a9.9,9.9 0 1 0 -19.8,0zM1410.8,258.4a9.9,9.9 0 1 0 19.8,0a9.9,9.9 0 1 0 -19.8,0zM1412.8,258.4a9.9,9.9 0 1 0 19.8,0a9.9,9.9 0 1 0 -19.8,0zM1414.8,258.4a9.9,9.9 0 1 0 19.8,0a9.9,9.9 0 1 0 -19.8,0zM1414.8,260.4a9.9,9.9 0 1 0 19.8,0a9.9,9.9 0 1 0 -19.8,0zM1416.8,260.4a9.9,9.9 0 1 0 19.8,0a9.9,9.9 0 1 0 -19.8,0zM1418.8,260.4a9.9,9.9 0 1 0 19.8,0a9.9,9.9 0 1 0 -19.8,0zM1420.8,260.4a9.9,9.9 0 1 0 19.8,0a9.9,9.9 0 1 0 -19.8,0zM1420.8,262.4a9.9,9.9 0 1 0 19.8,0a9.9,9.9 0 1 0 -19.8,0zM1422.8,262.4a9.9,9.9 0 1 0 19.8,0a9.9,9.9 0 1 0 -19.8,0zM1424.8,262.4a9.9,9.9 0 1 0 19.8,0a9.9,9.9 0 1 0 -19.8,0zM1424.8,262.4a9.9,9.9 0 1 0 19.8,0a9.9,9.9 0 1 0 -19.8,0zM1426.8,262.4a9.9,9.9 0 1 0 19.8,0a9.9,9.9 0 1 0 -19.8,0zM1428.8,262.4a9.9,9.9 0 1 0 19.8,0a9.9,9.9 0 1 0 -19.8,0zM1430.8,262.4a9.9,9.9 0 1 0 19.8,0a9.9,9.9 0 1 0 -19.8,0zM1430.8,262.4a9.9,9.9 0 1 0 19.8,0a9.9,9.9 0 1 0 -19.8,0zM1432.8,262.4a9.9,9.9 0 1 0 19.8,0a9.9,9.9 0 1 0 -19.8,0zM1434.8,262.4a9.9,9.9 0 1 0 19.8,0a9.9,9.9 0 1 0 -19.8,0zM1434.8,264.4a9.9,9.9 0 1 0 19.8,0a9.9,9.9 0 1 0 -19.8,0zM1436.8,264.4a9.9,9.9 0 1 0 19.8,0a9.9,9.9 0 1 0 -19.8,0zM1438.8,264.4a9.9,9.9 0 1 0 19.8,0a9.9,9.9 0 1 0 -19.8,0zM1440.8,264.4a9.9,9.9 0 1 0 19.8,0a9.9,9.9 0 1 0 -19.8,0zM1440.8,264.4a9.9,9.9 0 1 0 19.8,0a9.9,9.9 0 1 0 -19.8,0zM1442.8,264.4a9.9,9.9 0 1 0 19.8,0a9.9,9.9 0 1 0 -19.8,0zM1444.8,264.4a9.9,9.9 0 1 0 19.8,0a9.9,9.9 0 1 0 -19.8,0zM1446.8,266.4a9.9,9.9 0 1 0 19.8,0a9.9,9.9 0 1 0 -19.8,0zM1446.8,266.4a9.9,9.9 0 1 0 19.8,0a9.9,9.9 0 1 0 -19.8,0zM1448.8,266.4a9.9,9.9 0 1 0 19.8,0a9.9,9.9 0 1 0 -19.8,0zM1450.8,266.4a9.9,9.9 0 1 0 19.8,0a9.9,9.9 0 1 0 -19.8,0zM1450.8,266.4a9.9,9.9 0 1 0 19.8,0a9.9,9.9 0 1 0 -19.8,0zM1452.8,266.4a9.9,9.9 0 1 0 19.8,0a9.9,9.9 0 1 0 -19.8,0zM1454.8,268.4a9.9,9.9 0 1 0 19.8,0a9.9,9.9 0 1 0 -19.8,0zM1456.8,268.4a9.9,9.9 0 1 0 19.8,0a9.9,9.9 0 1 0 -19.8,0zM1456.8,268.4a9.9,9.9 0 1 0 19.8,0a9.9,9.9 0 1 0 -19.8,0zM1458.8,268.4a9.9,9.9 0 1 0 19.8,0a9.9,9.9 0 1 0 -19.8,0zM1460.8,268.4a9.9,9.9 0 1 0 19.8,0a9.9,9.9 0 1 0 -19.8,0zM1460.8,268.4a9.9,9.9 0 1 0 19.8,0a9.9,9.9 0 1 0 -19.8,0zM1462.8,268.4a9.9,9.9 0 1 0 19.8,0a9.9,9.9 0 1 0 -19.8,0zM1464.8,268.4a9.9,9.9 0 1 0 19.8,0a9.9,9.9 0 1 0 -19.8,0zM1466.8,268.4a9.9,9.9 0 1 0 19.8,0a9.9,9.9 0 1 0 -19.8,0zM1466.8,270.4a9.9,9.9 0 1 0 19.8,0a9.9,9.9 0 1 0 -19.8,0zM1468.8,270.4a9.9,9.9 0 1 0 19.8,0a9.9,9.9 0 1 0 -19.8,0zM1470.8,270.4a9.9,9.9 0 1 0 19.8,0a9.9,9.9 0 1 0 -19.8,0zM1472.8,270.4a9.9,9.9 0 1 0 19.8,0a9.9,9.9 0 1 0 -19.8,0zM1472.8,270.4a9.9,9.9 0 1 0 19.8,0a9.9,9.9 0 1 0 -19.8,0zM1474.8,270.4a9.9,9.9 0 1 0 19.8,0a9.9,9.9 0 1 0 -19.8,0zM1476.8,272.4a9.9,9.9 0 1 0 19.8,0a9.9,9.9 0 1 0 -19.8,0zM1476.8,272.4a9.9,9.9 0 1 0 19.8,0a9.9,9.9 0 1 0 -19.8,0zM1478.8,272.4a9.9,9.9 0 1 0 19.8,0a9.9,9.9 0 1 0 -19.8,0zM1480.8,272.4a9.9,9.9 0 1 0 19.8,0a9.9,9.9 0 1 0 -19.8,0zM1482.8,272.4a9.9,9.9 0 1 0 19.8,0a9.9,9.9 0 1 0 -19.8,0zM1482.8,272.4a9.9,9.9 0 1 0 19.8,0a9.9,9.9 0 1 0 -19.8,0zM1484.8,274.4a9.9,9.9 0 1 0 19.8,0a9.9,9.9 0 1 0 -19.8,0zM1486.8,274.4a9.9,9.9 0 1 0 19.8,0a9.9,9.9 0 1 0 -19.8,0zM1486.8,274.4a9.9,9.9 0 1 0 19.8,0a9.9,9.9 0 1 0 -19.8,0zM1488.8,274.4a9.9,9.9 0 1 0 19.8,0a9.9,9.9 0 1 0 -19.8,0zM1490.8,274.4a9.9,9.9 0 1 0 19.8,0a9.9,9.9 0 1 0 -19.8,0zM1492.8,276.4a9.9,9.9 0 1 0 19.8,0a9.9,9.9 0 1 0 -19.8,0zM1492.8,276.4a9.9,9.9 0 1 0 19.8,0a9.9,9.9 0 1 0 -19.8,0zM1494.8,276.4a9.9,9.9 0 1 0 19.8,0a9.9,9.9 0 1 0 -19.8,0zM1496.8,276.4a9.9,9.9 0 1 0 19.8,0a9.9,9.9 0 1 0 -19.8,0zM1498.8,276.4a9.9,9.9 0 1 0 19.8,0a9.9,9.9 0 1 0 -19.8,0zM1498.8,276.4a9.9,9.9 0 1 0 19.8,0a9.9,9.9 0 1 0 -19.8,0zM1500.8,276.4a9.9,9.9 0 1 0 19.8,0a9.9,9.9 0 1 0 -19.8,0zM1502.8,276.4a9.9,9.9 0 1 0 19.8,0a9.9,9.9 0 1 0 -19.8,0zM1502.8,278.4a9.9,9.9 0 1 0 19.8,0a9.9,9.9 0 1 0 -19.8,0zM1504.8,278.4a9.9,9.9 0 1 0 19.8,0a9.9,9.9 0 1 0 -19.8,0zM1506.8,278.4a9.9,9.9 0 1 0 19.8,0a9.9,9.9 0 1 0 -19.8,0zM1508.8,278.4a9.9,9.9 0 1 0 19.8,0a9.9,9.9 0 1 0 -19.8,0zM1508.8,278.4a9.9,9.9 0 1 0 19.8,0a9.9,9.9 0 1 0 -19.8,0zM1510.8,278.4a9.9,9.9 0 1 0 19.8,0a9.9,9.9 0 1 0 -19.8,0zM1512.8,278.4a9.9,9.9 0 1 0 19.8,0a9.9,9.9 0 1 0 -19.8,0zM1512.8,278.4a9.9,9.9 0 1 0 19.8,0a9.9,9.9 0 1 0 -19.8,0zM1514.8,280.4a9.9,9.9 0 1 0 19.8,0a9.9,9.9 0 1 0 -19.8,0zM1516.8,280.4a9.9,9.9 0 1 0 19.8,0a9.9,9.9 0 1 0 -19.8,0zM1518.8,280.4a9.9,9.9 0 1 0 19.8,0a9.9,9.9 0 1 0 -19.8,0zM1518.8,280.4a9.9,9.9 0 1 0 19.8,0a9.9,9.9 0 1 0 -19.8,0zM1520.8,280.4a9.9,9.9 0 1 0 19.8,0a9.9,9.9 0 1 0 -19.8,0zM1522.8,280.4a9.9,9.9 0 1 0 19.8,0a9.9,9.9 0 1 0 -19.8,0zM1524.8,280.4a9.9,9.9 0 1 0 19.8,0a9.9,9.9 0 1 0 -19.8,0zM1524.8,282.4a9.9,9.9 0 1 0 19.8,0a9.9,9.9 0 1 0 -19.8,0zM1526.8,282.4a9.9,9.9 0 1 0 19.8,0a9.9,9.9 0 1 0 -19.8,0zM1528.8,282.4a9.9,9.9 0 1 0 19.8,0a9.9,9.9 0 1 0 -19.8,0zM1528.8,282.4a9.9,9.9 0 1 0 19.8,0a9.9,9.9 0 1 0 -19.8,0zM1530.8,282.4a9.9,9.9 0 1 0 19.8,0a9.9,9.9 0 1 0 -19.8,0zM1532.8,282.4a9.9,9.9 0 1 0 19.8,0a9.9,9.9 0 1 0 -19.8,0zM1534.8,284.4a9.9,9.9 0 1 0 19.8,0a9.9,9.9 0 1 0 -19.8,0zM1534.8,284.4a9.9,9.9 0 1 0 19.8,0a9.9,9.9 0 1 0 -19.8,0zM1536.8,284.4a9.9,9.9 0 1 0 19.8,0a9.9,9.9 0 1 0 -19.8,0zM1538.8,284.4a9.9,9.9 0 1 0 19.8,0a9.9,9.9 0 1 0 -19.8,0zM1538.8,284.4a9.9,9.9 0 1 0 19.8,0a9.9,9.9 0 1 0 -19.8,0zM1540.8,284.4a9.9,9.9 0 1 0 19.8,0a9.9,9.9 0 1 0 -19.8,0zM1542.8,284.4a9.9,9.9 0 1 0 19.8,0a9.9,9.9 0 1 0 -19.8,0zM1544.8,284.4a9.9,9.9 0 1 0 19.8,0a9.9,9.9 0 1 0 -19.8,0zM1544.8,286.4a9.9,9.9 0 1 0 19.8,0a9.9,9.9 0 1 0 -19.8,0zM1546.8,286.4a9.9,9.9 0 1 0 19.8,0a9.9,9.9 0 1 0 -19.8,0zM1548.8,286.4a9.9,9.9 0 1 0 19.8,0a9.9,9.9 0 1 0 -19.8,0zM1550.8,286.4a9.9,9.9 0 1 0 19.8,0a9.9,9.9 0 1 0 -19.8,0zM1550.8,286.4a9.9,9.9 0 1 0 19.8,0a9.9,9.9 0 1 0 -19.8,0zM1552.8,286.4a9.9,9.9 0 1 0 19.8,0a9.9,9.9 0 1 0 -19.8,0zM1554.8,288.4a9.9,9.9 0 1 0 19.8,0a9.9,9.9 0 1 0 -19.8,0zM1554.8,288.4a9.9,9.9 0 1 0 19.8,0a9.9,9.9 0 1 0 -19.8,0zM1556.8,288.4a9.9,9.9 0 1 0 19.8,0a9.9,9.9 0 1 0 -19.8,0zM1558.8,288.4a9.9,9.9 0 1 0 19.8,0a9.9,9.9 0 1 0 -19.8,0zM1560.8,290.4a9.9,9.9 0 1 0 19.8,0a9.9,9.9 0 1 0 -19.8,0zM1560.8,290.4a9.9,9.9 0 1 0 19.8,0a9.9,9.9 0 1 0 -19.8,0zM1562.8,290.4a9.9,9.9 0 1 0 19.8,0a9.9,9.9 0 1 0 -19.8,0zM1564.8,290.4a9.9,9.9 0 1 0 19.8,0a9.9,9.9 0 1 0 -19.8,0zM1564.8,290.4a9.9,9.9 0 1 0 19.8,0a9.9,9.9 0 1 0 -19.8,0zM1566.8,290.4a9.9,9.9 0 1 0 19.8,0a9.9,9.9 0 1 0 -19.8,0zM1568.8,290.4a9.9,9.9 0 1 0 19.8,0a9.9,9.9 0 1 0 -19.8,0zM1570.8,292.4a9.9,9.9 0 1 0 19.8,0a9.9,9.9 0 1 0 -19.8,0zM1570.8,292.4a9.9,9.9 0 1 0 19.8,0a9.9,9.9 0 1 0 -19.8,0zM1572.8,292.4a9.9,9.9 0 1 0 19.8,0a9.9,9.9 0 1 0 -19.8,0zM1574.8,292.4a9.9,9.9 0 1 0 19.8,0a9.9,9.9 0 1 0 -19.8,0zM1574.8,292.4a9.9,9.9 0 1 0 19.8,0a9.9,9.9 0 1 0 -19.8,0zM1576.8,292.4a9.9,9.9 0 1 0 19.8,0a9.9,9.9 0 1 0 -19.8,0zM1578.8,292.4a9.9,9.9 0 1 0 19.8,0a9.9,9.9 0 1 0 -19.8,0zM1580.8,292.4a9.9,9.9 0 1 0 19.8,0a9.9,9.9 0 1 0 -19.8,0zM1580.8,292.4a9.9,9.9 0 1 0 19.8,0a9.9,9.9 0 1 0 -19.8,0zM1582.8,294.4a9.9,9.9 0 1 0 19.8,0a9.9,9.9 0 1 0 -19.8,0zM1584.8,294.4a9.9,9.9 0 1 0 19.8,0a9.9,9.9 0 1 0 -19.8,0zM1586.8,294.4a9.9,9.9 0 1 0 19.8,0a9.9,9.9 0 1 0 -19.8,0zM1586.8,294.4a9.9,9.9 0 1 0 19.8,0a9.9,9.9 0 1 0 -19.8,0zM1588.8,294.4a9.9,9.9 0 1 0 19.8,0a9.9,9.9 0 1 0 -19.8,0zM1590.8,296.4a9.9,9.9 0 1 0 19.8,0a9.9,9.9 0 1 0 -19.8,0zM1590.8,296.4a9.9,9.9 0 1 0 19.8,0a9.9,9.9 0 1 0 -19.8,0zM1592.8,296.4a9.9,9.9 0 1 0 19.8,0a9.9,9.9 0 1 0 -19.8,0zM1594.8,296.4a9.9,9.9 0 1 0 19.8,0a9.9,9.9 0 1 0 -19.8,0zM1596.8,296.4a9.9,9.9 0 1 0 19.8,0a9.9,9.9 0 1 0 -19.8,0zM1596.8,296.4a9.9,9.9 0 1 0 19.8,0a9.9,9.9 0 1 0 -19.8,0zM1598.8,296.4a9.9,9.9 0 1 0 19.8,0a9.9,9.9 0 1 0 -19.8,0zM1600.8,296.4a9.9,9.9 0 1 0 19.8,0a9.9,9.9 0 1 0 -19.8,0zM1600.8,298.4a9.9,9.9 0 1 0 19.8,0a9.9,9.9 0 1 0 -19.8,0zM1602.8,298.4a9.9,9.9 0 1 0 19.8,0a9.9,9.9 0 1 0 -19.8,0zM1604.8,298.4a9.9,9.9 0 1 0 19.8,0a9.9,9.9 0 1 0 -19.8,0zM1606.8,298.4a9.9,9.9 0 1 0 19.8,0a9.9,9.9 0 1 0 -19.8,0zM1606.8,298.4a9.9,9.9 0 1 0 19.8,0a9.9,9.9 0 1 0 -19.8,0zM1608.8,298.4a9.9,9.9 0 1 0 19.8,0a9.9,9.9 0 1 0 -19.8,0zM1610.8,298.4a9.9,9.9 0 1 0 19.8,0a9.9,9.9 0 1 0 -19.8,0zM1612.8,298.4a9.9,9.9 0 1 0 19.8,0a9.9,9.9 0 1 0 -19.8,0zM1612.8,300.4a9.9,9.9 0 1 0 19.8,0a9.9,9.9 0 1 0 -19.8,0zM1614.8,300.4a9.9,9.9 0 1 0 19.8,0a9.9,9.9 0 1 0 -19.8,0zM1616.8,300.4a9.9,9.9 0 1 0 19.8,0a9.9,9.9 0 1 0 -19.8,0zM1616.8,300.4a9.9,9.9 0 1 0 19.8,0a9.9,9.9 0 1 0 -19.8,0zM1618.8,300.4a9.9,9.9 0 1 0 19.8,0a9.9,9.9 0 1 0 -19.8,0zM1620.8,300.4a9.9,9.9 0 1 0 19.8,0a9.9,9.9 0 1 0 -19.8,0zM1622.8,300.4a9.9,9.9 0 1 0 19.8,0a9.9,9.9 0 1 0 -19.8,0zM1622.8,300.4a9.9,9.9 0 1 0 19.8,0a9.9,9.9 0 1 0 -19.8,0zM1624.8,302.4a9.9,9.9 0 1 0 19.8,0a9.9,9.9 0 1 0 -19.8,0zM1626.8,302.4a9.9,9.9 0 1 0 19.8,0a9.9,9.9 0 1 0 -19.8,0zM1626.8,302.4a9.9,9.9 0 1 0 19.8,0a9.9,9.9 0 1 0 -19.8,0zM1628.8,302.4a9.9,9.9 0 1 0 19.8,0a9.9,9.9 0 1 0 -19.8,0zM1630.8,302.4a9.9,9.9 0 1 0 19.8,0a9.9,9.9 0 1 0 -19.8,0zM1632.8,302.4a9.9,9.9 0 1 0 19.8,0a9.9,9.9 0 1 0 -19.8,0zM1632.8,302.4a9.9,9.9 0 1 0 19.8,0a9.9,9.9 0 1 0 -19.8,0zM1634.8,302.4a9.9,9.9 0 1 0 19.8,0a9.9,9.9 0 1 0 -19.8,0zM1636.8,304.4a9.9,9.9 0 1 0 19.8,0a9.9,9.9 0 1 0 -19.8,0zM1638.8,304.4a9.9,9.9 0 1 0 19.8,0a9.9,9.9 0 1 0 -19.8,0zM1638.8,304.4a9.9,9.9 0 1 0 19.8,0a9.9,9.9 0 1 0 -19.8,0zM1640.8,304.4a9.9,9.9 0 1 0 19.8,0a9.9,9.9 0 1 0 -19.8,0zM1642.8,304.4a9.9,9.9 0 1 0 19.8,0a9.9,9.9 0 1 0 -19.8,0zM1642.8,304.4a9.9,9.9 0 1 0 19.8,0a9.9,9.9 0 1 0 -19.8,0zM1644.8,304.4a9.9,9.9 0 1 0 19.8,0a9.9,9.9 0 1 0 -19.8,0zM1646.8,306.4a9.9,9.9 0 1 0 19.8,0a9.9,9.9 0 1 0 -19.8,0zM1648.8,306.4a9.9,9.9 0 1 0 19.8,0a9.9,9.9 0 1 0 -19.8,0zM1648.8,306.4a9.9,9.9 0 1 0 19.8,0a9.9,9.9 0 1 0 -19.8,0zM1650.8,306.4a9.9,9.9 0 1 0 19.8,0a9.9,9.9 0 1 0 -19.8,0zM1652.8,306.4a9.9,9.9 0 1 0 19.8,0a9.9,9.9 0 1 0 -19.8,0zM1652.8,306.4a9.9,9.9 0 1 0 19.8,0a9.9,9.9 0 1 0 -19.8,0zM1654.8,306.4a9.9,9.9 0 1 0 19.8,0a9.9,9.9 0 1 0 -19.8,0zM1656.8,308.4a9.9,9.9 0 1 0 19.8,0a9.9,9.9 0 1 0 -19.8,0zM1658.8,308.4a9.9,9.9 0 1 0 19.8,0a9.9,9.9 0 1 0 -19.8,0zM1658.8,308.4a9.9,9.9 0 1 0 19.8,0a9.9,9.9 0 1 0 -19.8,0zM1660.8,308.4a9.9,9.9 0 1 0 19.8,0a9.9,9.9 0 1 0 -19.8,0zM1662.8,308.4a9.9,9.9 0 1 0 19.8,0a9.9,9.9 0 1 0 -19.8,0zM1664.8,308.4a9.9,9.9 0 1 0 19.8,0a9.9,9.9 0 1 0 -19.8,0zM1664.8,308.4a9.9,9.9 0 1 0 19.8,0a9.9,9.9 0 1 0 -19.8,0zM1666.8,308.4a9.9,9.9 0 1 0 19.8,0a9.9,9.9 0 1 0 -19.8,0zM1668.8,308.4a9.9,9.9 0 1 0 19.8,0a9.9,9.9 0 1 0 -19.8,0zM1668.8,308.4a9.9,9.9 0 1 0 19.8,0a9.9,9.9 0 1 0 -19.8,0zM1670.8,310.4a9.9,9.9 0 1 0 19.8,0a9.9,9.9 0 1 0 -19.8,0zM1672.8,310.4a9.9,9.9 0 1 0 19.8,0a9.9,9.9 0 1 0 -19.8,0zM1674.8,310.4a9.9,9.9 0 1 0 19.8,0a9.9,9.9 0 1 0 -19.8,0zM1674.8,310.4a9.9,9.9 0 1 0 19.8,0a9.9,9.9 0 1 0 -19.8,0zM1676.8,310.4a9.9,9.9 0 1 0 19.8,0a9.9,9.9 0 1 0 -19.8,0zM1678.8,310.4a9.9,9.9 0 1 0 19.8,0a9.9,9.9 0 1 0 -19.8,0zM1678.8,312.4a9.9,9.9 0 1 0 19.8,0a9.9,9.9 0 1 0 -19.8,0zM1680.8,312.4a9.9,9.9 0 1 0 19.8,0a9.9,9.9 0 1 0 -19.8,0zM1682.8,312.4a9.9,9.9 0 1 0 19.8,0a9.9,9.9 0 1 0 -19.8,0zM1684.8,312.4a9.9,9.9 0 1 0 19.8,0a9.9,9.9 0 1 0 -19.8,0zM1684.8,312.4a9.9,9.9 0 1 0 19.8,0a9.9,9.9 0 1 0 -19.8,0zM1686.8,312.4a9.9,9.9 0 1 0 19.8,0a9.9,9.9 0 1 0 -19.8,0zM1688.8,312.4a9.9,9.9 0 1 0 19.8,0a9.9,9.9 0 1 0 -19.8,0zM1688.8,312.4a9.9,9.9 0 1 0 19.8,0a9.9,9.9 0 1 0 -19.8,0zM1690.8,312.4a9.9,9.9 0 1 0 19.8,0a9.9,9.9 0 1 0 -19.8,0zM1692.8,312.4a9.9,9.9 0 1 0 19.8,0a9.9,9.9 0 1 0 -19.8,0zM1694.8,312.4a9.9,9.9 0 1 0 19.8,0a9.9,9.9 0 1 0 -19.8,0zM1694.8,314.4a9.9,9.9 0 1 0 19.8,0a9.9,9.9 0 1 0 -19.8,0zM1696.8,314.4a9.9,9.9 0 1 0 19.8,0a9.9,9.9 0 1 0 -19.8,0zM1698.8,314.4a9.9,9.9 0 1 0 19.8,0a9.9,9.9 0 1 0 -19.8,0zM1700.8,314.4a9.9,9.9 0 1 0 19.8,0a9.9,9.9 0 1 0 -19.8,0zM1700.8,314.4a9.9,9.9 0 1 0 19.8,0a9.9,9.9 0 1 0 -19.8,0zM1702.8,314.4a9.9,9.9 0 1 0 19.8,0a9.9,9.9 0 1 0 -19.8,0zM1704.8,314.4a9.9,9.9 0 1 0 19.8,0a9.9,9.9 0 1 0 -19.8,0zM1704.8,314.4a9.9,9.9 0 1 0 19.8,0a9.9,9.9 0 1 0 -19.8,0zM1706.8,316.4a9.9,9.9 0 1 0 19.8,0a9.9,9.9 0 1 0 -19.8,0zM1708.8,316.4a9.9,9.9 0 1 0 19.8,0a9.9,9.9 0 1 0 -19.8,0zM1710.8,316.4a9.9,9.9 0 1 0 19.8,0a9.9,9.9 0 1 0 -19.8,0zM1710.8,316.4a9.9,9.9 0 1 0 19.8,0a9.9,9.9 0 1 0 -19.8,0zM1712.8,316.4a9.9,9.9 0 1 0 19.8,0a9.9,9.9 0 1 0 -19.8,0zM1714.8,316.4a9.9,9.9 0 1 0 19.8,0a9.9,9.9 0 1 0 -19.8,0zM1714.8,316.4a9.9,9.9 0 1 0 19.8,0a9.9,9.9 0 1 0 -19.8,0zM1716.8,318.4a9.9,9.9 0 1 0 19.8,0a9.9,9.9 0 1 0 -19.8,0zM1718.8,318.4a9.9,9.9 0 1 0 19.8,0a9.9,9.9 0 1 0 -19.8,0zM1720.8,318.4a9.9,9.9 0 1 0 19.8,0a9.9,9.9 0 1 0 -19.8,0zM1720.8,318.4a9.9,9.9 0 1 0 19.8,0a9.9,9.9 0 1 0 -19.8,0zM1722.8,318.4a9.9,9.9 0 1 0 19.8,0a9.9,9.9 0 1 0 -19.8,0zM1724.8,318.4a9.9,9.9 0 1 0 19.8,0a9.9,9.9 0 1 0 -19.8,0zM1726.8,318.4a9.9,9.9 0 1 0 19.8,0a9.9,9.9 0 1 0 -19.8,0zM1726.8,318.4a9.9,9.9 0 1 0 19.8,0a9.9,9.9 0 1 0 -19.8,0zM1728.8,318.4a9.9,9.9 0 1 0 19.8,0a9.9,9.9 0 1 0 -19.8,0zM1730.8,318.4a9.9,9.9 0 1 0 19.8,0a9.9,9.9 0 1 0 -19.8,0zM1730.8,320.4a9.9,9.9 0 1 0 19.8,0a9.9,9.9 0 1 0 -19.8,0zM1732.8,320.4a9.9,9.9 0 1 0 19.8,0a9.9,9.9 0 1 0 -19.8,0zM1734.8,320.4a9.9,9.9 0 1 0 19.8,0a9.9,9.9 0 1 0 -19.8,0zM1736.8,320.4a9.9,9.9 0 1 0 19.8,0a9.9,9.9 0 1 0 -19.8,0zM1736.8,320.4a9.9,9.9 0 1 0 19.8,0a9.9,9.9 0 1 0 -19.8,0zM1738.8,320.4a9.9,9.9 0 1 0 19.8,0a9.9,9.9 0 1 0 -19.8,0zM1740.8,320.4a9.9,9.9 0 1 0 19.8,0a9.9,9.9 0 1 0 -19.8,0zM1740.8,320.4a9.9,9.9 0 1 0 19.8,0a9.9,9.9 0 1 0 -19.8,0zM1742.8,320.4a9.9,9.9 0 1 0 19.8,0a9.9,9.9 0 1 0 -19.8,0zM1744.8,322.4a9.9,9.9 0 1 0 19.8,0a9.9,9.9 0 1 0 -19.8,0zM1746.8,322.4a9.9,9.9 0 1 0 19.8,0a9.9,9.9 0 1 0 -19.8,0zM1746.8,322.4a9.9,9.9 0 1 0 19.8,0a9.9,9.9 0 1 0 -19.8,0zM1748.8,322.4a9.9,9.9 0 1 0 19.8,0a9.9,9.9 0 1 0 -19.8,0zM1750.8,322.4a9.9,9.9 0 1 0 19.8,0a9.9,9.9 0 1 0 -19.8,0zM1752.8,322.4a9.9,9.9 0 1 0 19.8,0a9.9,9.9 0 1 0 -19.8,0zM1752.8,322.4a9.9,9.9 0 1 0 19.8,0a9.9,9.9 0 1 0 -19.8,0zM1754.8,322.4a9.9,9.9 0 1 0 19.8,0a9.9,9.9 0 1 0 -19.8,0zM1756.8,322.4a9.9,9.9 0 1 0 19.8,0a9.9,9.9 0 1 0 -19.8,0zM1756.8,322.4a9.9,9.9 0 1 0 19.8,0a9.9,9.9 0 1 0 -19.8,0zM1758.8,324.4a9.9,9.9 0 1 0 19.8,0a9.9,9.9 0 1 0 -19.8,0zM1760.8,324.4a9.9,9.9 0 1 0 19.8,0a9.9,9.9 0 1 0 -19.8,0zM1762.8,324.4a9.9,9.9 0 1 0 19.8,0a9.9,9.9 0 1 0 -19.8,0zM1762.8,324.4a9.9,9.9 0 1 0 19.8,0a9.9,9.9 0 1 0 -19.8,0zM1764.8,324.4a9.9,9.9 0 1 0 19.8,0a9.9,9.9 0 1 0 -19.8,0zM1766.8,324.4a9.9,9.9 0 1 0 19.8,0a9.9,9.9 0 1 0 -19.8,0zM1766.8,324.4a9.9,9.9 0 1 0 19.8,0a9.9,9.9 0 1 0 -19.8,0zM1768.8,326.4a9.9,9.9 0 1 0 19.8,0a9.9,9.9 0 1 0 -19.8,0zM1770.8,326.4a9.9,9.9 0 1 0 19.8,0a9.9,9.9 0 1 0 -19.8,0zM1772.8,326.4a9.9,9.9 0 1 0 19.8,0a9.9,9.9 0 1 0 -19.8,0zM1772.8,326.4a9.9,9.9 0 1 0 19.8,0a9.9,9.9 0 1 0 -19.8,0zM1774.8,326.4a9.9,9.9 0 1 0 19.8,0a9.9,9.9 0 1 0 -19.8,0zM1776.8,326.4a9.9,9.9 0 1 0 19.8,0a9.9,9.9 0 1 0 -19.8,0zM1778.8,326.4a9.9,9.9 0 1 0 19.8,0a9.9,9.9 0 1 0 -19.8,0zM1778.8,326.4a9.9,9.9 0 1 0 19.8,0a9.9,9.9 0 1 0 -19.8,0zM1780.8,326.4a9.9,9.9 0 1 0 19.8,0a9.9,9.9 0 1 0 -19.8,0zM1782.8,326.4a9.9,9.9 0 1 0 19.8,0a9.9,9.9 0 1 0 -19.8,0zM1782.8,326.4a9.9,9.9 0 1 0 19.8,0a9.9,9.9 0 1 0 -19.8,0zM1784.8,326.4a9.9,9.9 0 1 0 19.8,0a9.9,9.9 0 1 0 -19.8,0zM1786.8,328.4a9.9,9.9 0 1 0 19.8,0a9.9,9.9 0 1 0 -19.8,0zM1788.8,328.4a9.9,9.9 0 1 0 19.8,0a9.9,9.9 0 1 0 -19.8,0zM1788.8,328.4a9.9,9.9 0 1 0 19.8,0a9.9,9.9 0 1 0 -19.8,0zM1790.8,328.4a9.9,9.9 0 1 0 19.8,0a9.9,9.9 0 1 0 -19.8,0zM1792.8,328.4a9.9,9.9 0 1 0 19.8,0a9.9,9.9 0 1 0 -19.8,0zM1792.8,328.4a9.9,9.9 0 1 0 19.8,0a9.9,9.9 0 1 0 -19.8,0zM1794.8,328.4a9.9,9.9 0 1 0 19.8,0a9.9,9.9 0 1 0 -19.8,0zM1796.8,328.4a9.9,9.9 0 1 0 19.8,0a9.9,9.9 0 1 0 -19.8,0zM1798.8,328.4a9.9,9.9 0 1 0 19.8,0a9.9,9.9 0 1 0 -19.8,0zM1798.8,328.4a9.9,9.9 0 1 0 19.8,0a9.9,9.9 0 1 0 -19.8,0zM1800.8,328.4a9.9,9.9 0 1 0 19.8,0a9.9,9.9 0 1 0 -19.8,0zM1802.8,330.4a9.9,9.9 0 1 0 19.8,0a9.9,9.9 0 1 0 -19.8,0zM1802.8,330.4a9.9,9.9 0 1 0 19.8,0a9.9,9.9 0 1 0 -19.8,0zM1804.8,330.4a9.9,9.9 0 1 0 19.8,0a9.9,9.9 0 1 0 -19.8,0zM1806.8,330.4a9.9,9.9 0 1 0 19.8,0a9.9,9.9 0 1 0 -19.8,0zM1808.8,330.4a9.9,9.9 0 1 0 19.8,0a9.9,9.9 0 1 0 -19.8,0zM1808.8,330.4a9.9,9.9 0 1 0 19.8,0a9.9,9.9 0 1 0 -19.8,0zM1810.8,330.4a9.9,9.9 0 1 0 19.8,0a9.9,9.9 0 1 0 -19.8,0zM1812.8,330.4a9.9,9.9 0 1 0 19.8,0a9.9,9.9 0 1 0 -19.8,0zM1814.8,330.4a9.9,9.9 0 1 0 19.8,0a9.9,9.9 0 1 0 -19.8,0zM1814.8,330.4a9.9,9.9 0 1 0 19.8,0a9.9,9.9 0 1 0 -19.8,0zM1816.8,330.4a9.9,9.9 0 1 0 19.8,0a9.9,9.9 0 1 0 -19.8,0zM1818.8,332.4a9.9,9.9 0 1 0 19.8,0a9.9,9.9 0 1 0 -19.8,0zM1818.8,332.4a9.9,9.9 0 1 0 19.8,0a9.9,9.9 0 1 0 -19.8,0zM1820.8,332.4a9.9,9.9 0 1 0 19.8,0a9.9,9.9 0 1 0 -19.8,0zM1822.8,332.4a9.9,9.9 0 1 0 19.8,0a9.9,9.9 0 1 0 -19.8,0zM1824.8,332.4a9.9,9.9 0 1 0 19.8,0a9.9,9.9 0 1 0 -19.8,0zM1824.8,332.4a9.9,9.9 0 1 0 19.8,0a9.9,9.9 0 1 0 -19.8,0zM1826.8,332.4a9.9,9.9 0 1 0 19.8,0a9.9,9.9 0 1 0 -19.8,0zM1828.8,332.4a9.9,9.9 0 1 0 19.8,0a9.9,9.9 0 1 0 -19.8,0zM1828.8,332.4a9.9,9.9 0 1 0 19.8,0a9.9,9.9 0 1 0 -19.8,0zM1830.8,332.4a9.9,9.9 0 1 0 19.8,0a9.9,9.9 0 1 0 -19.8,0zM1832.8,332.4a9.9,9.9 0 1 0 19.8,0a9.9,9.9 0 1 0 -19.8,0zM1834.8,334.4a9.9,9.9 0 1 0 19.8,0a9.9,9.9 0 1 0 -19.8,0zM1834.8,334.4a9.9,9.9 0 1 0 19.8,0a9.9,9.9 0 1 0 -19.8,0zM1836.8,334.4a9.9,9.9 0 1 0 19.8,0a9.9,9.9 0 1 0 -19.8,0zM1838.8,334.4a9.9,9.9 0 1 0 19.8,0a9.9,9.9 0 1 0 -19.8,0zM1840.8,334.4a9.9,9.9 0 1 0 19.8,0a9.9,9.9 0 1 0 -19.8,0zM1840.8,334.4a9.9,9.9 0 1 0 19.8,0a9.9,9.9 0 1 0 -19.8,0zM1842.8,334.4a9.9,9.9 0 1 0 19.8,0a9.9,9.9 0 1 0 -19.8,0zM1844.8,334.4a9.9,9.9 0 1 0 19.8,0a9.9,9.9 0 1 0 -19.8,0zM1844.8,334.4a9.9,9.9 0 1 0 19.8,0a9.9,9.9 0 1 0 -19.8,0zM1846.8,334.4a9.9,9.9 0 1 0 19.8,0a9.9,9.9 0 1 0 -19.8,0zM1848.8,336.4a9.9,9.9 0 1 0 19.8,0a9.9,9.9 0 1 0 -19.8,0zM1850.8,336.4a9.9,9.9 0 1 0 19.8,0a9.9,9.9 0 1 0 -19.8,0zM1850.8,336.4a9.9,9.9 0 1 0 19.8,0a9.9,9.9 0 1 0 -19.8,0zM1852.8,336.4a9.9,9.9 0 1 0 19.8,0a9.9,9.9 0 1 0 -19.8,0zM1854.8,336.4a9.9,9.9 0 1 0 19.8,0a9.9,9.9 0 1 0 -19.8,0zM1854.8,336.4a9.9,9.9 0 1 0 19.8,0a9.9,9.9 0 1 0 -19.8,0zM1856.8,336.4a9.9,9.9 0 1 0 19.8,0a9.9,9.9 0 1 0 -19.8,0zM1858.8,336.4a9.9,9.9 0 1 0 19.8,0a9.9,9.9 0 1 0 -19.8,0zM1860.8,336.4a9.9,9.9 0 1 0 19.8,0a9.9,9.9 0 1 0 -19.8,0zM1860.8,336.4a9.9,9.9 0 1 0 19.8,0a9.9,9.9 0 1 0 -19.8,0zM1862.8,336.4a9.9,9.9 0 1 0 19.8,0a9.9,9.9 0 1 0 -19.8,0zM1864.8,338.4a9.9,9.9 0 1 0 19.8,0a9.9,9.9 0 1 0 -19.8,0zM1866.8,336.4a9.9,9.9 0 1 0 19.8,0a9.9,9.9 0 1 0 -19.8,0zM1866.8,336.4a9.9,9.9 0 1 0 19.8,0a9.9,9.9 0 1 0 -19.8,0zM1868.8,338.4a9.9,9.9 0 1 0 19.8,0a9.9,9.9 0 1 0 -19.8,0zM1870.8,338.4a9.9,9.9 0 1 0 19.8,0a9.9,9.9 0 1 0 -19.8,0zM1870.8,338.4a9.9,9.9 0 1 0 19.8,0a9.9,9.9 0 1 0 -19.8,0zM1872.8,338.4a9.9,9.9 0 1 0 19.8,0a9.9,9.9 0 1 0 -19.8,0zM1874.8,338.4a9.9,9.9 0 1 0 19.8,0a9.9,9.9 0 1 0 -19.8,0zM1876.8,338.4a9.9,9.9 0 1 0 19.8,0a9.9,9.9 0 1 0 -19.8,0zM1876.8,338.4a9.9,9.9 0 1 0 19.8,0a9.9,9.9 0 1 0 -19.8,0zM1878.8,338.4a9.9,9.9 0 1 0 19.8,0a9.9,9.9 0 1 0 -19.8,0zM1880.8,338.4a9.9,9.9 0 1 0 19.8,0a9.9,9.9 0 1 0 -19.8,0zM1880.8,338.4a9.9,9.9 0 1 0 19.8,0a9.9,9.9 0 1 0 -19.8,0zM1882.8,338.4a9.9,9.9 0 1 0 19.8,0a9.9,9.9 0 1 0 -19.8,0zM1884.8,338.4a9.9,9.9 0 1 0 19.8,0a9.9,9.9 0 1 0 -19.8,0zM1886.8,338.4a9.9,9.9 0 1 0 19.8,0a9.9,9.9 0 1 0 -19.8,0zM1886.8,340.4a9.9,9.9 0 1 0 19.8,0a9.9,9.9 0 1 0 -19.8,0zM1888.8,338.4a9.9,9.9 0 1 0 19.8,0a9.9,9.9 0 1 0 -19.8,0zM1890.8,340.4a9.9,9.9 0 1 0 19.8,0a9.9,9.9 0 1 0 -19.8,0zM1892.8,340.4a9.9,9.9 0 1 0 19.8,0a9.9,9.9 0 1 0 -19.8,0zM1892.8,340.4a9.9,9.9 0 1 0 19.8,0a9.9,9.9 0 1 0 -19.8,0zM1894.8,340.4a9.9,9.9 0 1 0 19.8,0a9.9,9.9 0 1 0 -19.8,0zM1896.8,340.4a9.9,9.9 0 1 0 19.8,0a9.9,9.9 0 1 0 -19.8,0zM1896.8,340.4a9.9,9.9 0 1 0 19.8,0a9.9,9.9 0 1 0 -19.8,0zM1898.8,340.4a9.9,9.9 0 1 0 19.8,0a9.9,9.9 0 1 0 -19.8,0zM1900.8,340.4a9.9,9.9 0 1 0 19.8,0a9.9,9.9 0 1 0 -19.8,0zM1902.8,340.4a9.9,9.9 0 1 0 19.8,0a9.9,9.9 0 1 0 -19.8,0zM1902.8,340.4a9.9,9.9 0 1 0 19.8,0a9.9,9.9 0 1 0 -19.8,0zM1904.8,340.4a9.9,9.9 0 1 0 19.8,0a9.9,9.9 0 1 0 -19.8,0zM1906.8,340.4a9.9,9.9 0 1 0 19.8,0a9.9,9.9 0 1 0 -19.8,0zM1906.8,340.4a9.9,9.9 0 1 0 19.8,0a9.9,9.9 0 1 0 -19.8,0zM1908.8,340.4a9.9,9.9 0 1 0 19.8,0a9.9,9.9 0 1 0 -19.8,0zM1910.8,340.4a9.9,9.9 0 1 0 19.8,0a9.9,9.9 0 1 0 -19.8,0zM1912.8,342.4a9.9,9.9 0 1 0 19.8,0a9.9,9.9 0 1 0 -19.8,0zM1912.8,342.4a9.9,9.9 0 1 0 19.8,0a9.9,9.9 0 1 0 -19.8,0zM1914.8,342.4a9.9,9.9 0 1 0 19.8,0a9.9,9.9 0 1 0 -19.8,0zM1916.8,342.4a9.9,9.9 0 1 0 19.8,0a9.9,9.9 0 1 0 -19.8,0zM1916.8,342.4a9.9,9.9 0 1 0 19.8,0a9.9,9.9 0 1 0 -19.8,0zM1918.8,342.4a9.9,9.9 0 1 0 19.8,0a9.9,9.9 0 1 0 -19.8,0zM1920.8,342.4a9.9,9.9 0 1 0 19.8,0a9.9,9.9 0 1 0 -19.8,0zM1922.8,342.4a9.9,9.9 0 1 0 19.8,0a9.9,9.9 0 1 0 -19.8,0zM1922.8,342.4a9.9,9.9 0 1 0 19.8,0a9.9,9.9 0 1 0 -19.8,0zM1924.8,342.4a9.9,9.9 0 1 0 19.8,0a9.9,9.9 0 1 0 -19.8,0zM1926.8,342.4a9.9,9.9 0 1 0 19.8,0a9.9,9.9 0 1 0 -19.8,0zM1928.8,342.4a9.9,9.9 0 1 0 19.8,0a9.9,9.9 0 1 0 -19.8,0zM1928.8,342.4a9.9,9.9 0 1 0 19.8,0a9.9,9.9 0 1 0 -19.8,0zM1930.8,342.4a9.9,9.9 0 1 0 19.8,0a9.9,9.9 0 1 0 -19.8,0zM1932.8,342.4a9.9,9.9 0 1 0 19.8,0a9.9,9.9 0 1 0 -19.8,0zM1932.8,342.4a9.9,9.9 0 1 0 19.8,0a9.9,9.9 0 1 0 -19.8,0zM1934.8,342.4a9.9,9.9 0 1 0 19.8,0a9.9,9.9 0 1 0 -19.8,0zM1936.8,342.4a9.9,9.9 0 1 0 19.8,0a9.9,9.9 0 1 0 -19.8,0zM1938.8,344.4a9.9,9.9 0 1 0 19.8,0a9.9,9.9 0 1 0 -19.8,0zM1938.8,342.4a9.9,9.9 0 1 0 19.8,0a9.9,9.9 0 1 0 -19.8,0zM1940.8,344.4a9.9,9.9 0 1 0 19.8,0a9.9,9.9 0 1 0 -19.8,0zM1942.8,344.4a9.9,9.9 0 1 0 19.8,0a9.9,9.9 0 1 0 -19.8,0zM1942.8,344.4a9.9,9.9 0 1 0 19.8,0a9.9,9.9 0 1 0 -19.8,0zM1944.8,344.4a9.9,9.9 0 1 0 19.8,0a9.9,9.9 0 1 0 -19.8,0zM1946.8,344.4a9.9,9.9 0 1 0 19.8,0a9.9,9.9 0 1 0 -19.8,0zM1948.8,344.4a9.9,9.9 0 1 0 19.8,0a9.9,9.9 0 1 0 -19.8,0zM1948.8,344.4a9.9,9.9 0 1 0 19.8,0a9.9,9.9 0 1 0 -19.8,0zM1950.8,344.4a9.9,9.9 0 1 0 19.8,0a9.9,9.9 0 1 0 -19.8,0zM1952.8,344.4a9.9,9.9 0 1 0 19.8,0a9.9,9.9 0 1 0 -19.8,0zM1954.8,344.4a9.9,9.9 0 1 0 19.8,0a9.9,9.9 0 1 0 -19.8,0zM1954.8,344.4a9.9,9.9 0 1 0 19.8,0a9.9,9.9 0 1 0 -19.8,0zM1956.8,344.4a9.9,9.9 0 1 0 19.8,0a9.9,9.9 0 1 0 -19.8,0zM1958.8,344.4a9.9,9.9 0 1 0 19.8,0a9.9,9.9 0 1 0 -19.8,0zM1958.8,344.4a9.9,9.9 0 1 0 19.8,0a9.9,9.9 0 1 0 -19.8,0zM1960.8,344.4a9.9,9.9 0 1 0 19.8,0a9.9,9.9 0 1 0 -19.8,0zM1962.8,344.4a9.9,9.9 0 1 0 19.8,0a9.9,9.9 0 1 0 -19.8,0zM1964.8,344.4a9.9,9.9 0 1 0 19.8,0a9.9,9.9 0 1 0 -19.8,0zM1964.8,344.4a9.9,9.9 0 1 0 19.8,0a9.9,9.9 0 1 0 -19.8,0zM1966.8,344.4a9.9,9.9 0 1 0 19.8,0a9.9,9.9 0 1 0 -19.8,0zM1968.8,344.4a9.9,9.9 0 1 0 19.8,0a9.9,9.9 0 1 0 -19.8,0zM1968.8,344.4a9.9,9.9 0 1 0 19.8,0a9.9,9.9 0 1 0 -19.8,0zM1970.8,346.4a9.9,9.9 0 1 0 19.8,0a9.9,9.9 0 1 0 -19.8,0zM1972.8,344.4a9.9,9.9 0 1 0 19.8,0a9.9,9.9 0 1 0 -19.8,0zM1974.8,344.4a9.9,9.9 0 1 0 19.8,0a9.9,9.9 0 1 0 -19.8,0zM1974.8,344.4a9.9,9.9 0 1 0 19.8,0a9.9,9.9 0 1 0 -19.8,0zM1976.8,344.4a9.9,9.9 0 1 0 19.8,0a9.9,9.9 0 1 0 -19.8,0zM1978.8,346.4a9.9,9.9 0 1 0 19.8,0a9.9,9.9 0 1 0 -19.8,0zM1980.8,346.4a9.9,9.9 0 1 0 19.8,0a9.9,9.9 0 1 0 -19.8,0zM1980.8,346.4a9.9,9.9 0 1 0 19.8,0a9.9,9.9 0 1 0 -19.8,0zM1982.8,346.4a9.9,9.9 0 1 0 19.8,0a9.9,9.9 0 1 0 -19.8,0zM1984.8,346.4a9.9,9.9 0 1 0 19.8,0a9.9,9.9 0 1 0 -19.8,0zM1984.8,346.4a9.9,9.9 0 1 0 19.8,0a9.9,9.9 0 1 0 -19.8,0zM1986.8,346.4a9.9,9.9 0 1 0 19.8,0a9.9,9.9 0 1 0 -19.8,0zM1988.8,346.4a9.9,9.9 0 1 0 19.8,0a9.9,9.9 0 1 0 -19.8,0z"/></g>
<g fill="#0072E6" stroke="none"><path d="M266.7,1458.4 268.7,1458.4 268.7,1458.4 270.7,1458.4 272.7,1458.4 274.7,1458.4 274.7,1458.4 276.7,1458.4 278.7,1458.4 278.7,1458.4 280.7,1458.4 282.7,1458.4 284.7,1458.4 284.7,1458.4 286.7,1458.4 288.7,1458.4 290.7,1458.4 290.7,1458.4 292.7,1458.4 294.7,1458.4 294.7,1458.4 296.7,1458.4 298.7,1458.4 300.7,1458.4 300.7,1458.4 302.7,1458.4 304.7,1458.4 304.7,1458.4 306.7,1458.4 308.7,1458.4 310.7,1458.4 310.7,1458.4 312.7,1458.4 314.7,1458.4 316.7,1458.4 316.7,1458.4 318.7,1458.4 320.7,1458.4 320.7,1458.4 322.7,1458.4 324.7,1458.4 326.7,1458.4 326.7,1458.4 328.7,1458.4 330.7,1458.4 330.7,1458.4 332.7,1458.4 334.7,1458.4 336.7,1458.4 336.7,1458.4 338.7,1458.4 340.7,1458.4 342.7,1458.4 342.7,1458.4 344.7,1458.4 346.7,1458.4 346.7,1458.4 348.7,1458.4 350.7,1458.4 352.7,1458.4 352.7,1458.4 354.7,1458.4 356.7,1458.4 356.7,1458.4 358.7,1458.4 360.7,1458.4 362.7,1458.4 362.7,1458.4 364.7,1458.4 366.7,1458.4 368.7,1458.4 368.7,1458.4 370.7,1458.4 372.7,1458.4 372.7,1458.4 374.7,1458.4 376.7,1458.4 378.7,1458.4 378.7,1458.4 380.7,1458.4 382.7,1458.4 382.7,1458.4 384.7,1458.4 386.7,1458.4 388.7,1458.4 388.7,1458.4 390.7,1458.4 392.7,1458.4 392.7,1458.4 394.7,1458.4 396.7,1458.4 398.7,1458.4 398.7,1458.4 400.7,1458.4 402.7,1458.4 404.7,1458.4 404.7,1458.4 406.7,1458.4 408.7,1458.4 408.7,1458.4 410.7,1458.4 412.7,1458.4 414.7,1458.4 414.7,1458.4 416.7,1458.4 418.7,1458.4 418.7,1458.4 420.7,1458.4 422.7,1458.4 424.7,1458.4 424.7,1458.4 426.7,1458.4 428.7,1458.4 430.7,1458.4 430.7,1458.4 432.7,1458.4 434.7,1458.4 434.7,1458.4 436.7,1458.4 438.7,1458.4 440.7,1458.4 440.7,1458.4 442.7,1458.4 444.7,1458.4 444.7,1458.4 446.7,1458.4 448.7,1458.4 450.7,1458.4 450.7,1458.4 452.7,1458.4 454.7,1458.4 456.7,1458.4 456.7,1458.4 458.7,1458.4 460.7,1458.4 460.7,1458.4 462.7,1458.4 464.7,1458.4 466.7,1458.4 466.7,1458.4 468.7,1458.4 470.7,1458.4 470.7,1458.4 472.7,1458.4 474.7,1458.4 476.7,1458.4 476.7,1458.4 478.7,1458.4 480.7,1458.4 482.7,1458.4 482.7,1458.4 484.7,1458.4 486.7,1458.4 486.7,1458.4 488.7,1458.4 490.7,1458.4 492.7,1458.4 492.7,1458.4 494.7,1458.4 496.7,1458.4 496.7,1458.4 498.7,1458.4 500.7,1458.4 502.7,1458.4 502.7,1458.4 504.7,1458.4 506.7,1458.4 506.7,1458.4 508.7,1458.4 510.7,1458.4 512.7,1458.4 512.7,1458.4 514.7,1458.4 516.7,1458.4 518.7,1458.4 518.7,1458.4 520.7,1458.4 522.7,1458.4 522.7,1458.4 524.7,1458.4 526.7,1458.4 528.7,1458.4 528.7,1458.4 530.7,1458.4 532.7,1458.4 532.7,1458.4 534.7,1458.4 536.7,1458.4 538.7,1458.4 538.7,1458.4 540.7,1458.4 542.7,1458.4 544.7,1458.4 544.7,1458.4 546.7,1458.4 548.7,1458.4 548.7,1458.4 550.7,1458.4 552.7,1458.4 554.7,1458.4 554.7,1458.4 556.7,1458.4 558.7,1458.4 558.7,1458.4 560.7,1458.4 562.7,1458.4 564.7,1458.4 564.7,1458.4 566.7,1458.4 568.7,1458.4 570.7,1458.4 570.7,1458.4 572.7,1458.4 574.7,1458.4 574.7,1458.4 576.7,1458.4 578.7,1458.4 580.7,1458.4 580.7,1458.4 582.7,1458.4 584.7,1458.4 584.7,1458.4 586.7,1458.4 588.7,1458.4 590.7,1458.4 590.7,1458.4 592.7,1458.4 594.7,1458.4 596.7,1458.4 596.7,1458.4 598.7,1458.4 600.7,1458.4 600.7,1458.4 602.7,1458.4 604.7,1458.4 606.7,1458.4 606.7,1458.4 608.7,1458.4 610.7,1458.4 610.7,1458.4 612.7,1458.4 614.7,1458.4 616.7,1458.4 616.7,1458.4 618.7,1458.4 620.7,1458.4 620.7,1458.4 622.7,1458.4 624.7,1458.4 626.7,1458.4 626.7,1456.4 628.7,1456.4 630.7,1456.4 632.7,1456.4 632.7,1456.4 634.7,1456.4 636.7,1454.4 636.7,1454.4 638.7,1454.4 640.7,1454.4 642.7,1454.4 642.7,1454.4 644.7,1454.4 646.7,1452.4 646.7,1452.4 648.7,1452.4 650.7,1452.4 652.7,1452.4 652.7,1452.4 654.7,1452.4 656.7,1450.4 658.7,1450.4 658.7,1450.4 660.7,1450.4 662.7,1450.4 662.7,1450.4 664.7,1448.4 666.7,1448.4 668.7,1448.4 668.7,1448.4 670.7,1448.4 672.7,1446.4 672.7,1446.4 674.7,1446.4 676.7,1446.4 678.7,1444.4 678.7,1444.4 680.7,1442.4 682.7,1442.4 684.7,1442.4 684.7,1440.4 686.7,1440.4 688.7,1438.4 688.7,1438.4 690.7,1438.4 692.7,1436.4 694.7,1436.4 694.7,1436.4 696.7,1434.4 698.7,1434.4 698.7,1432.4 700.7,1432.4 702.7,1430.4 704.7,1430.4 704.7,1428.4 706.7,1428.4 708.7,1426.4 710.7,1426.4 710.7,1426.4 712.7,1424.4 714.7,1424.4 714.7,1422.4 716.7,1422.4 718.7,1420.4 720.7,1420.4 720.7,1420.4 722.7,1418.4 724.7,1416.4 724.7,1416.4 726.7,1414.4 728.7,1414.4 730.7,1412.4 730.7,1412.4 732.7,1410.4 734.7,1408.4 736.7,1408.4 736.7,1406.4 738.7,1406.4 740.7,1404.4 740.7,1404.4 742.7,1402.4 744.7,1400.4 746.7,1400.4 746.7,1398.4 748.7,1398.4 750.7,1396.4 750.7,1396.4 752.7,1394.4 754.7,1392.4 756.7,1392.4 756.7,1390.4 758.7,1388.4 760.7,1386.4 760.7,1384.4 762.7,1384.4 764.7,1382.4 766.7,1380.4 766.7,1378.4 768.7,1376.4 770.7,1376.4 772.7,1374.4 772.7,1372.4 774.7,1370.4 776.7,1368.4 776.7,1366.4 778.7,1366.4 780.7,1362.4 782.7,1362.4 782.7,1360.4 784.7,1358.4 786.7,1356.4 786.7,1352.4 788.7,1352.4 790.7,1350.4 792.7,1348.4 792.7,1346.4 794.7,1344.4 796.7,1342.4 798.7,1340.4 798.7,1338.4 800.7,1334.4 802.7,1332.4 802.7,1330.4 804.7,1328.4 806.7,1326.4 808.7,1324.4 808.7,1322.4 810.7,1318.4 812.7,1316.4 812.7,1314.4 814.7,1312.4 816.7,1310.4 818.7,1308.4 818.7,1304.4 820.7,1302.4 822.7,1300.4 824.7,1296.4 824.7,1294.4 826.7,1292.4 828.7,1288.4 828.7,1286.4 830.7,1284.4 832.7,1280.4 834.7,1276.4 834.7,1274.4 836.7,1270.4 838.7,1268.4 838.7,1264.4 840.7,1260.4 842.7,1258.4 844.7,1254.4 844.7,1252.4 846.7,1248.4 848.7,1244.4 850.7,1242.4 850.7,1238.4 852.7,1234.4 854.7,1230.4 854.7,1228.4 856.7,1224.4 858.7,1220.4 860.7,1216.4 860.7,1212.4 862.7,1208.4 864.7,1204.4 864.7,1202.4 866.7,1198.4 868.7,1194.4 870.7,1190.4 870.7,1186.4 872.7,1182.4 874.7,1178.4 874.7,1174.4 876.7,1170.4 878.7,1166.4 880.7,1162.4 880.7,1158.4 882.7,1154.4 884.7,1150.4 886.7,1144.4 886.7,1140.4 888.7,1136.4 890.7,1132.4 890.7,1128.4 892.7,1122.4 894.7,1118.4 896.7,1114.4 896.7,1110.4 898.7,1104.4 900.7,1100.4 900.7,1096.4 902.7,1092.4 904.7,1088.4 906.7,1082.4 906.7,1078.4 908.7,1074.4 910.7,1070.4 912.7,1064.4 912.7,1060.4 914.7,1056.4 916.7,1050.4 916.7,1046.4 918.7,1040.4 920.7,1036.4 922.7,1030.4 922.7,1026.4 924.7,1022.4 926.7,1016.4 926.7,1012.4 928.7,1006.4 930.7,1002.4 932.7,996.4 932.7,992.4 934.7,988.4 936.7,982.4 938.7,976.4 938.7,972.4 940.7,966.4 942.7,962.4 942.7,956.4 944.7,952.4 946.7,946.4 948.7,940.4 948.7,936.4 950.7,930.4 952.7,926.4 952.7,920.4 954.7,916.4 956.7,910.4 958.7,904.4 958.7,900.4 960.7,894.4 962.7,890.4 964.7,884.4 964.7,880.4 966.7,874.4 968.7,868.4 968.7,862.4 970.7,858.4 972.7,852.4 974.7,848.4 974.7,842.4 976.7,836.4 978.7,832.4 978.7,826.4 980.7,822.4 982.7,816.4 984.7,810.4 984.7,806.4 986.7,800.4 988.7,794.4 988.7,790.4 990.7,784.4 992.7,780.4 994.7,774.4 994.7,768.4 996.7,764.4 998.7,758.4 1000.7,752.4 1000.7,748.4 1002.7,742.4 1004.7,738.4 1004.7,734.4 1006.7,728.4 1008.7,724.4 1010.7,718.4 1010.7,712.4 1012.7,708.4 1014.7,702.4 1014.7,698.4 1016.7,694.4 1018.7,688.4 1020.7,684.4 1020.7,678.4 1022.7,674.4 1024.7,670.4 1026.7,664.4 1026.7,660.4 1028.7,656.4 1030.7,650.4 1030.7,646.4 1032.7,640.4 1034.7,636.4 1036.7,632.4 1036.7,628.4 1038.7,622.4 1040.7,618.4 1040.7,614.4 1042.7,610.4 1044.7,606.4 1046.7,600.4 1046.7,596.4 1048.7,592.4 1050.7,586.4 1052.7,582.4 1052.7,578.4 1054.7,574.4 1056.7,570.4 1056.7,566.4 1058.7,562.4 1060.7,558.4 1062.7,554.4 1062.7,550.4 1064.7,548.4 1066.7,544.4 1066.7,540.4 1068.7,536.4 1070.7,530.4 1072.7,526.4 1072.7,524.4 1074.7,520.4 1076.7,516.4 1078.7,514.4 1078.7,510.4 1080.7,506.4 1082.7,502.4 1082.7,500.4 1084.7,496.4 1086.7,492.4 1088.7,488.4 1088.7,486.4 1090.7,482.4 1092.7,478.4 1092.7,476.4 1094.7,472.4 1096.7,468.4 1098.7,466.4 1098.7,462.4 1100.7,460.4 1102.7,456.4 1102.7,454.4 1104.7,450.4 1106.7,448.4 1108.7,444.4 1108.7,442.4 1110.7,438.4 1112.7,436.4 1114.7,432.4 1114.7,430.4 1116.7,426.4 1118.7,424.4 1118.7,422.4 1120.7,418.4 1122.7,416.4 1124.7,414.4 1124.7,410.4 1126.7,408.4 1128.7,406.4 1128.7,402.4 1130.7,400.4 1132.7,398.4 1134.7,396.4 1134.7,394.4 1136.7,392.4 1138.7,390.4 1140.7,386.4 1140.7,384.4 1142.7,382.4 1144.7,380.4 1144.7,378.4 1146.7,376.4 1148.7,374.4 1150.7,372.4 1150.7,370.4 1152.7,370.4 1154.7,368.4 1154.7,366.4 1156.7,364.4 1158.7,362.4 1160.7,360.4 1160.7,358.4 1162.7,356.4 1164.7,354.4 1166.7,352.4 1166.7,352.4 1168.7,350.4 1170.7,348.4 1170.7,346.4 1172.7,344.4 1174.7,344.4 1176.7,342.4 1176.7,340.4 1178.7,340.4 1180.7,338.4 1180.7,336.4 1182.7,336.4 1184.7,334.4 1186.7,332.4 1186.7,332.4 1188.7,330.4 1190.7,328.4 1192.7,328.4 1192.7,326.4 1194.7,324.4 1196.7,322.4 1196.7,322.4 1198.7,320.4 1200.7,320.4 1202.7,318.4 1202.7,318.4 1204.7,316.4 1206.7,316.4 1206.7,314.4 1208.7,314.4 1210.7,312.4 1212.7,310.4 1212.7,310.4 1214.7,308.4 1216.7,308.4 1216.7,306.4 1218.7,306.4 1220.7,304.4 1222.7,304.4 1222.7,302.4 1224.7,302.4 1226.7,300.4 1228.7,300.4 1228.7,300.4 1230.7,298.4 1232.7,298.4 1232.7,298.4 1234.7,296.4 1236.7,296.4 1238.7,296.4 1238.7,294.4 1240.7,294.4 1242.7,294.4 1242.7,294.4 1244.7,292.4 1246.7,292.4 1248.7,292.4 1248.7,292.4 1250.7,290.4 1252.7,290.4 1254.7,290.4 1254.7,290.4 1256.7,290.4 1258.7,290.4 1258.7,288.4 1260.7,288.4 1262.7,288.4 1264.7,288.4 1264.7,288.4 1266.7,286.4 1268.7,286.4 1268.7,286.4 1270.7,286.4 1272.7,286.4 1274.7,286.4 1274.7,286.4 1276.7,286.4 1278.7,284.4 1280.7,284.4 1280.7,284.4 1282.7,284.4 1284.7,284.4 1284.7,284.4 1286.7,282.4 1288.7,282.4 1290.7,282.4 1290.7,282.4 1292.7,282.4 1294.7,282.4 1294.7,282.4 1296.7,282.4 1298.7,282.4 1300.7,282.4 1300.7,282.4 1302.7,282.4 1304.7,282.4 1306.7,282.4 1306.7,282.4 1308.7,282.4 1310.7,282.4 1310.7,282.4 1312.7,282.4 1314.7,282.4 1316.7,284.4 1316.7,282.4 1318.7,282.4 1320.7,282.4 1320.7,282.4 1322.7,282.4 1324.7,284.4 1326.7,284.4 1326.7,284.4 1328.7,284.4 1330.7,284.4 1330.7,284.4 1332.7,284.4 1334.7,284.4 1336.7,284.4 1336.7,284.4 1338.7,286.4 1340.7,284.4 1342.7,284.4 1342.7,284.4 1344.7,286.4 1346.7,286.4 1346.7,286.4 1348.7,286.4 1350.7,286.4 1352.7,286.4 1352.7,286.4 1354.7,286.4 1356.7,288.4 1356.7,288.4 1358.7,288.4 1360.7,288.4 1362.7,288.4 1362.7,288.4 1364.7,290.4 1366.7,290.4 1368.7,290.4 1368.7,290.4 1370.7,290.4 1372.7,292.4 1372.7,292.4 1374.7,292.4 1376.7,292.4 1378.7,292.4 1378.7,292.4 1380.7,294.4 1382.7,294.4 1382.7,294.4 1384.7,294.4 1386.7,294.4 1388.7,296.4 1388.7,296.4 1390.7,296.4 1392.7,296.4 1394.7,298.4 1394.7,298.4 1396.7,298.4 1398.7,298.4 1398.7,300.4 1400.7,300.4 1402.7,300.4 1404.7,300.4 1404.7,300.4 1406.7,302.4 1408.7,302.4 1408.7,302.4 1410.7,302.4 1412.7,304.4 1414.7,304.4 1414.7,304.4 1416.7,304.4 1418.7,306.4 1420.7,306.4 1420.7,306.4 1422.7,306.4 1424.7,308.4 1424.7,308.4 1426.7,308.4 1428.7,308.4 1430.7,310.4 1430.7,310.4 1432.7,310.4 1434.7,312.4 1434.7,312.4 1436.7,312.4 1438.7,312.4 1440.7,314.4 1440.7,314.4 1442.7,314.4 1444.7,316.4 1444.7,316.4 1446.7,316.4 1448.7,318.4 1450.7,318.4 1450.7,318.4 1452.7,318.4 1454.7,320.4 1456.7,320.4 1456.7,320.4 1458.7,320.4 1460.7,322.4 1460.7,322.4 1462.7,324.4 1464.7,324.4 1466.7,324.4 1466.7,324.4 1468.7,326.4 1470.7,326.4 1470.7,326.4 1472.7,328.4 1474.7,328.4 1476.7,328.4 1476.7,330.4 1478.7,330.4 1480.7,330.4 1482.7,330.4 1482.7,332.4 1484.7,332.4 1486.7,332.4 1486.7,334.4 1488.7,334.4 1490.7,334.4 1492.7,334.4 1492.7,336.4 1494.7,336.4 1496.7,338.4 1496.7,338.4 1498.7,338.4 1500.7,338.4 1502.7,340.4 1502.7,340.4 1504.7,340.4 1506.7,342.4 1508.7,342.4 1508.7,342.4 1510.7,342.4 1512.7,344.4 1512.7,344.4 1514.7,344.4 1516.7,344.4 1518.7,346.4 1518.7,346.4 1520.7,346.4 1522.7,348.4 1522.7,348.4 1524.7,350.4 1526.7,350.4 1528.7,350.4 1528.7,350.4 1530.7,350.4 1532.7,352.4 1534.7,352.4 1534.7,352.4 1536.7,352.4 1538.7,354.4 1538.7,354.4 1540.7,354.4 1542.7,354.4 1544.7,356.4 1544.7,356.4 1546.7,358.4 1548.7,358.4 1548.7,358.4 1550.7,360.4 1552.7,360.4 1554.7,360.4 1554.7,360.4 1556.7,362.4 1558.7,362.4 1560.7,362.4 1560.7,362.4 1562.7,362.4 1564.7,364.4 1564.7,364.4 1566.7,366.4 1568.7,366.4 1570.7,366.4 1570.7,366.4 1572.7,366.4 1574.7,368.4 1574.7,368.4 1576.7,368.4 1578.7,370.4 1580.7,370.4 1580.7,370.4 1582.7,370.4 1584.7,372.4 1584.7,372.4 1586.7,372.4 1588.7,372.4 1590.7,374.4 1590.7,374.4 1592.7,374.4 1594.7,376.4 1596.7,376.4 1596.7,376.4 1598.7,376.4 1600.7,378.4 1600.7,378.4 1602.7,378.4 1604.7,380.4 1606.7,380.4 1606.7,380.4 1608.7,380.4 1610.7,380.4 1610.7,382.4 1612.7,382.4 1614.7,382.4 1616.7,382.4 1616.7,384.4 1618.7,384.4 1620.7,384.4 1622.7,386.4 1622.7,386.4 1624.7,386.4 1626.7,386.4 1626.7,386.4 1628.7,386.4 1630.7,388.4 1632.7,388.4 1632.7,390.4 1634.7,390.4 1636.7,390.4 1636.7,390.4 1638.7,390.4 1640.7,390.4 1642.7,392.4 1642.7,392.4 1644.7,392.4 1646.7,394.4 1648.7,394.4 1648.7,394.4 1650.7,394.4 1652.7,396.4 1652.7,396.4 1654.7,396.4 1656.7,396.4 1658.7,398.4 1658.7,398.4 1660.7,398.4 1662.7,400.4 1662.7,400.4 1664.7,400.4 1666.7,400.4 1668.7,402.4 1668.7,402.4 1670.7,402.4 1672.7,402.4 1674.7,402.4 1674.7,404.4 1676.7,404.4 1678.7,404.4 1678.7,404.4 1680.7,404.4 1682.7,406.4 1684.7,406.4 1684.7,406.4 1686.7,406.4 1688.7,408.4 1688.7,408.4 1690.7,408.4 1692.7,408.4 1694.7,410.4 1694.7,410.4 1696.7,410.4 1698.7,410.4 1698.7,410.4 1700.7,412.4 1702.7,412.4 1704.7,412.4 1704.7,412.4 1706.7,414.4 1708.7,414.4 1710.7,414.4 1710.7,414.4 1712.7,414.4 1714.7,416.4 1714.7,416.4 1716.7,416.4 1718.7,416.4 1720.7,416.4 1720.7,416.4 1722.7,416.4 1724.7,418.4 1724.7,418.4 1726.7,420.4 1728.7,420.4 1730.7,420.4 1730.7,420.4 1732.7,420.4 1734.7,420.4 1736.7,422.4 1736.7,422.4 1738.7,422.4 1740.7,422.4 1740.7,422.4 1742.7,424.4 1744.7,424.4 1746.7,424.4 1746.7,424.4 1748.7,426.4 1750.7,426.4 1750.7,426.4 1752.7,426.4 1754.7,426.4 1756.7,426.4 1756.7,428.4 1758.7,428.4 1760.7,428.4 1762.7,428.4 1762.7,430.4 1764.7,430.4 1766.7,430.4 1766.7,430.4 1768.7,430.4 1770.7,432.4 1772.7,432.4 1772.7,432.4 1774.7,432.4 1776.7,432.4 1776.7,432.4 1778.7,434.4 1780.7,434.4 1782.7,434.4 1782.7,434.4 1784.7,434.4 1786.7,436.4 1788.7,436.4 1788.7,436.4 1790.7,436.4 1792.7,438.4 1792.7,438.4 1794.7,438.4 1796.7,438.4 1798.7,438.4 1798.7,438.4 1800.7,438.4 1802.7,440.4 1802.7,440.4 1804.7,440.4 1806.7,440.4 1808.7,440.4 1808.7,440.4 1810.7,442.4 1812.7,442.4 1812.7,442.4 1814.7,442.4 1816.7,444.4 1818.7,444.4 1818.7,444.4 1820.7,444.4 1822.7,444.4 1824.7,444.4 1824.7,444.4 1826.7,446.4 1828.7,446.4 1828.7,446.4 1830.7,446.4 1832.7,446.4 1834.7,446.4 1834.7,446.4 1836.7,448.4 1838.7,448.4 1838.7,448.4 1840.7,448.4 1842.7,448.4 1844.7,450.4 1844.7,450.4 1846.7,450.4 1848.7,450.4 1850.7,450.4 1850.7,450.4 1852.7,450.4 1854.7,450.4 1854.7,452.4 1856.7,452.4 1858.7,452.4 1860.7,452.4 1860.7,452.4 1862.7,452.4 1864.7,452.4 1864.7,454.4 1866.7,454.4 1868.7,454.4 1870.7,454.4 1870.7,454.4 1872.7,454.4 1874.7,456.4 1876.7,456.4 1876.7,456.4 1878.7,456.4 1880.7,456.4 1880.7,456.4 1882.7,456.4 1884.7,458.4 1886.7,458.4 1886.7,458.4 1888.7,458.4 1890.7,458.4 1890.7,458.4 1892.7,460.4 1894.7,460.4 1896.7,460.4 1896.7,460.4 1898.7,460.4 1900.7,460.4 1902.7,460.4 1902.7,462.4 1904.7,462.4 1906.7,462.4 1906.7,462.4 1908.7,462.4 1910.7,462.4 1912.7,462.4 1912.7,462.4 1914.7,462.4 1916.7,462.4 1916.7,462.4 1918.7,464.4 1920.7,464.4 1922.7,464.4 1922.7,464.4 1924.7,464.4 1926.7,464.4 1926.7,466.4 1928.7,466.4 1930.7,466.4 1932.7,466.4 1932.7,466.4 1934.7,466.4 1936.7,466.4 1938.7,468.4 1938.7,468.4 1940.7,468.4 1942.7,468.4 1942.7,468.4 1944.7,468.4 1946.7,468.4 1948.7,468.4 1948.7,468.4 1950.7,468.4 1952.7,470.4 1952.7,470.4 1954.7,470.4 1956.7,470.4 1958.7,470.4 1958.7,470.4 1960.7,470.4 1962.7,470.4 1964.7,470.4 1964.7,470.4 1966.7,470.4 1968.7,470.4 1968.7,470.4 1970.7,472.4 1972.7,472.4 1974.7,472.4 1974.7,472.4 1976.7,472.4 1978.7,472.4 1978.7,472.4 1980.7,472.4 1982.7,472.4 1984.7,474.4 1984.7,474.4 1986.7,474.4 1988.7,474.4 1990.7,474.4 1990.7,474.4 1992.7,474.4 1994.7,474.4 1994.7,474.4 1996.7,476.4 1998.7,476.4" fill="none" stroke="#0072E6" stroke-width="2.8"/><path d="M266.7,1444l12.1,21.6h-24.2zM268.7,1444l12.1,21.6h-24.2zM268.7,1444l12.1,21.6h-24.2zM270.7,1444l12.1,21.6h-24.2zM272.7,1444l12.1,21.6h-24.2zM274.7,1444l12.1,21.6h-24.2zM274.7,1444l12.1,21.6h-24.2zM276.7,1444l12.1,21.6h-24.2zM278.7,1444l12.1,21.6h-24.2zM278.7,1444l12.1,21.6h-24.2zM280.7,1444l12.1,21.6h-24.2zM282.7,1444l12.1,21.6h-24.2zM284.7,1444l12.1,21.6h-24.2zM284.7,1444l12.1,21.6h-24.2zM286.7,1444l12.1,21.6h-24.2zM288.7,1444l12.1,21.6h-24.2zM290.7,1444l12.1,21.6h-24.2zM290.7,1444l12.1,21.6h-24.2zM292.7,1444l12.1,21.6h-24.2zM294.7,1444l12.1,21.6h-24.2zM294.7,1444l12.1,21.6h-24.2zM296.7,1444l12.1,21.6h-24.2zM298.7,1444l12.1,21.6h-24.2zM300.7,1444l12.1,21.6h-24.2zM300.7,1444l12.1,21.6h-24.2zM302.7,1444l12.1,21.6h-24.2zM304.7,1444l12.1,21.6h-24.2zM304.7,1444l12.1,21.6h-24.2zM306.7,1444l12.1,21.6h-24.2zM308.7,1444l12.1,21.6h-24.2zM310.7,1444l12.1,21.6h-24.2zM310.7,1444l12.1,21.6h-24.2zM312.7,1444l12.1,21.6h-24.2zM314.7,1444l12.1,21.6h-24.2zM316.7,1444l12.1,21.6h-24.2zM316.7,1444l12.1,21.6h-24.2zM318.7,1444l12.1,21.6h-24.2zM320.7,1444l12.1,21.6h-24.2zM320.7,1444l12.1,21.6h-24.2zM322.7,1444l12.1,21.6h-24.2zM324.7,1444l12.1,21.6h-24.2zM326.7,1444l12.1,21.6h-24.2zM326.7,1444l12.1,21.6h-24.2zM328.7,1444l12.1,21.6h-24.2zM330.7,1444l12.1,21.6h-24.2zM330.7,1444l12.1,21.6h-24.2zM332.7,1444l12.1,21.6h-24.2zM334.7,1444l12.1,21.6h-24.2zM336.7,1444l12.1,21.6h-24.2zM336.7,1444l12.1,21.6h-24.2zM338.7,1444l12.1,21.6h-24.2zM340.7,1444l12.1,21.6h-24.2zM342.7,1444l12.1,21.6h-24.2zM342.7,1444l12.1,21.6h-24.2zM344.7,1444l12.1,21.6h-24.2zM346.7,1444l12.1,21.6h-24.2zM346.7,1444l12.1,21.6h-24.2zM348.7,1444l12.1,21.6h-24.2zM350.7,1444l12.1,21.6h-24.2zM352.7,1444l12.1,21.6h-24.2zM352.7,1444l12.1,21.6h-24.2zM354.7,1444l12.1,21.6h-24.2zM356.7,1444l12.1,21.6h-24.2zM356.7,1444l12.1,21.6h-24.2zM358.7,1444l12.1,21.6h-24.2zM360.7,1444l12.1,21.6h-24.2zM362.7,1444l12.1,21.6h-24.2zM362.7,1444l12.1,21.6h-24.2zM364.7,1444l12.1,21.6h-24.2zM366.7,1444l12.1,21.6h-24.2zM368.7,1444l12.1,21.6h-24.2zM368.7,1444l12.1,21.6h-24.2zM370.7,1444l12.1,21.6h-24.2zM372.7,1444l12.1,21.6h-24.2zM372.7,1444l12.1,21.6h-24.2zM374.7,1444l12.1,21.6h-24.2zM376.7,1444l12.1,21.6h-24.2zM378.7,1444l12.1,21.6h-24.2zM378.7,1444l12.1,21.6h-24.2zM380.7,1444l12.1,21.6h-24.2zM382.7,1444l12.1,21.6h-24.2zM382.7,1444l12.1,21.6h-24.2zM384.7,1444l12.1,21.6h-24.2zM386.7,1444l12.1,21.6h-24.2zM388.7,1444l12.1,21.6h-24.2zM388.7,1444l12.1,21.6h-24.2zM390.7,1444l12.1,21.6h-24.2zM392.7,1444l12.1,21.6h-24.2zM392.7,1444l12.1,21.6h-24.2zM394.7,1444l12.1,21.6h-24.2zM396.7,1444l12.1,21.6h-24.2zM398.7,1444l12.1,21.6h-24.2zM398.7,1444l12.1,21.6h-24.2zM400.7,1444l12.1,21.6h-24.2zM402.7,1444l12.1,21.6h-24.2zM404.7,1444l12.1,21.6h-24.2zM404.7,1444l12.1,21.6h-24.2zM406.7,1444l12.1,21.6h-24.2zM408.7,1444l12.1,21.6h-24.2zM408.7,1444l12.1,21.6h-24.2zM410.7,1444l12.1,21.6h-24.2zM412.7,1444l12.1,21.6h-24.2zM414.7,1444l12.1,21.6h-24.2zM414.7,1444l12.1,21.6h-24.2zM416.7,1444l12.1,21.6h-24.2zM418.7,1444l12.1,21.6h-24.2zM418.7,1444l12.1,21.6h-24.2zM420.7,1444l12.1,21.6h-24.2zM422.7,1444l12.1,21.6h-24.2zM424.7,1444l12.1,21.6h-24.2zM424.7,1444l12.1,21.6h-24.2zM426.7,1444l12.1,21.6h-24.2zM428.7,1444l12.1,21.6h-24.2zM430.7,1444l12.1,21.6h-24.2zM430.7,1444l12.1,21.6h-24.2zM432.7,1444l12.1,21.6h-24.2zM434.7,1444l12.1,21.6h-24.2zM434.7,1444l12.1,21.6h-24.2zM436.7,1444l12.1,21.6h-24.2zM438.7,1444l12.1,21.6h-24.2zM440.7,1444l12.1,21.6h-24.2zM440.7,1444l12.1,21.6h-24.2zM442.7,1444l12.1,21.6h-24.2zM444.7,1444l12.1,21.6h-24.2zM444.7,1444l12.1,21.6h-24.2zM446.7,1444l12.1,21.6h-24.2zM448.7,1444l12.1,21.6h-24.2zM450.7,1444l12.1,21.6h-24.2zM450.7,1444l12.1,21.6h-24.2zM452.7,1444l12.1,21.6h-24.2zM454.7,1444l12.1,21.6h-24.2zM456.7,1444l12.1,21.6h-24.2zM456.7,1444l12.1,21.6h-24.2zM458.7,1444l12.1,21.6h-24.2zM460.7,1444l12.1,21.6h-24.2zM460.7,1444l12.1,21.6h-24.2zM462.7,1444l12.1,21.6h-24.2zM464.7,1444l12.1,21.6h-24.2zM466.7,1444l12.1,21.6h-24.2zM466.7,1444l12.1,21.6h-24.2zM468.7,1444l12.1,21.6h-24.2zM470.7,1444l12.1,21.6h-24.2zM470.7,1444l12.1,21.6h-24.2zM472.7,1444l12.1,21.6h-24.2zM474.7,1444l12.1,21.6h-24.2zM476.7,1444l12.1,21.6h-24.2zM476.7,1444l12.1,21.6h-24.2zM478.7,1444l12.1,21.6h-24.2zM480.7,1444l12.1,21.6h-24.2zM482.7,1444l12.1,21.6h-24.2zM482.7,1444l12.1,21.6h-24.2zM484.7,1444l12.1,21.6h-24.2zM486.7,1444l12.1,21.6h-24.2zM486.7,1444l12.1,21.6h-24.2zM488.7,1444l12.1,21.6h-24.2zM490.7,1444l12.1,21.6h-24.2zM492.7,1444l12.1,21.6h-24.2zM492.7,1444l12.1,21.6h-24.2zM494.7,1444l12.1,21.6h-24.2zM496.7,1444l12.1,21.6h-24.2zM496.7,1444l12.1,21.6h-24.2zM498.7,1444l12.1,21.6h-24.2zM500.7,1444l12.1,21.6h-24.2zM502.7,1444l12.1,21.6h-24.2zM502.7,1444l12.1,21.6h-24.2zM504.7,1444l12.1,21.6h-24.2zM506.7,1444l12.1,21.6h-24.2zM506.7,1444l12.1,21.6h-24.2zM508.7,1444l12.1,21.6h-24.2zM510.7,1444l12.1,21.6h-24.2zM512.7,1444l12.1,21.6h-24.2zM512.7,1444l12.1,21.6h-24.2zM514.7,1444l12.1,21.6h-24.2zM516.7,1444l12.1,21.6h-24.2zM518.7,1444l12.1,21.6h-24.2zM518.7,1444l12.1,21.6h-24.2zM520.7,1444l12.1,21.6h-24.2zM522.7,1444l12.1,21.6h-24.2zM522.7,1444l12.1,21.6h-24.2zM524.7,1444l12.1,21.6h-24.2zM526.7,1444l12.1,21.6h-24.2zM528.7,1444l12.1,21.6h-24.2zM528.7,1444l12.1,21.6h-24.2zM530.7,1444l12.1,21.6h-24.2zM532.7,1444l12.1,21.6h-24.2zM532.7,1444l12.1,21.6h-24.2zM534.7,1444l12.1,21.6h-24.2zM536.7,1444l12.1,21.6h-24.2zM538.7,1444l12.1,21.6h-24.2zM538.7,1444l12.1,21.6h-24.2zM540.7,1444l12.1,21.6h-24.2zM542.7,1444l12.1,21.6h-24.2zM544.7,1444l12.1,21.6h-24.2zM544.7,1444l12.1,21.6h-24.2zM546.7,1444l12.1,21.6h-24.2zM548.7,1444l12.1,21.6h-24.2zM548.7,1444l12.1,21.6h-24.2zM550.7,1444l12.1,21.6h-24.2zM552.7,1444l12.1,21.6h-24.2zM554.7,1444l12.1,21.6h-24.2zM554.7,1444l12.1,21.6h-24.2zM556.7,1444l12.1,21.6h-24.2zM558.7,1444l12.1,21.6h-24.2zM558.7,1444l12.1,21.6h-24.2zM560.7,1444l12.1,21.6h-24.2zM562.7,1444l12.1,21.6h-24.2zM564.7,1444l12.1,21.6h-24.2zM564.7,1444l12.1,21.6h-24.2zM566.7,1444l12.1,21.6h-24.2zM568.7,1444l12.1,21.6h-24.2zM570.7,1444l12.1,21.6h-24.2zM570.7,1444l12.1,21.6h-24.2zM572.7,1444l12.1,21.6h-24.2zM574.7,1444l12.1,21.6h-24.2zM574.7,1444l12.1,21.6h-24.2zM576.7,1444l12.1,21.6h-24.2zM578.7,1444l12.1,21.6h-24.2zM580.7,1444l12.1,21.6h-24.2zM580.7,1444l12.1,21.6h-24.2zM582.7,1444l12.1,21.6h-24.2zM584.7,1444l12.1,21.6h-24.2zM584.7,1444l12.1,21.6h-24.2zM586.7,1444l12.1,21.6h-24.2zM588.7,1444l12.1,21.6h-24.2zM590.7,1444l12.1,21.6h-24.2zM590.7,1444l12.1,21.6h-24.2zM592.7,1444l12.1,21.6h-24.2zM594.7,1444l12.1,21.6h-24.2zM596.7,1444l12.1,21.6h-24.2zM596.7,1444l12.1,21.6h-24.2zM598.7,1444l12.1,21.6h-24.2zM600.7,1444l12.1,21.6h-24.2zM600.7,1444l12.1,21.6h-24.2zM602.7,1444l12.1,21.6h-24.2zM604.7,1444l12.1,21.6h-24.2zM606.7,1444l12.1,21.6h-24.2zM606.7,1444l12.1,21.6h-24.2zM608.7,1444l12.1,21.6h-24.2zM610.7,1444l12.1,21.6h-24.2zM610.7,1444l12.1,21.6h-24.2zM612.7,1444l12.1,21.6h-24.2zM614.7,1444l12.1,21.6h-24.2zM616.7,1444l12.1,21.6h-24.2zM616.7,1444l12.1,21.6h-24.2zM618.7,1444l12.1,21.6h-24.2zM620.7,1444l12.1,21.6h-24.2zM620.7,1444l12.1,21.6h-24.2zM622.7,1444l12.1,21.6h-24.2zM624.7,1444l12.1,21.6h-24.2zM626.7,1444l12.1,21.6h-24.2zM626.7,1442l12.1,21.6h-24.2zM628.7,1442l12.1,21.6h-24.2zM630.7,1442l12.1,21.6h-24.2zM632.7,1442l12.1,21.6h-24.2zM632.7,1442l12.1,21.6h-24.2zM634.7,1442l12.1,21.6h-24.2zM636.7,1440l12.1,21.6h-24.2zM636.7,1440l12.1,21.6h-24.2zM638.7,1440l12.1,21.6h-24.2zM640.7,1440l12.1,21.6h-24.2zM642.7,1440l12.1,21.6h-24.2zM642.7,1440l12.1,21.6h-24.2zM644.7,1440l12.1,21.6h-24.2zM646.7,1438l12.1,21.6h-24.2zM646.7,1438l12.1,21.6h-24.2zM648.7,1438l12.1,21.6h-24.2zM650.7,1438l12.1,21.6h-24.2zM652.7,1438l12.1,21.6h-24.2zM652.7,1438l12.1,21.6h-24.2zM654.7,1438l12.1,21.6h-24.2zM656.7,1436l12.1,21.6h-24.2zM658.7,1436l12.1,21.6h-24.2zM658.7,1436l12.1,21.6h-24.2zM660.7,1436l12.1,21.6h-24.2zM662.7,1436l12.1,21.6h-24.2zM662.7,1436l12.1,21.6h-24.2zM664.7,1434l12.1,21.6h-24.2zM666.7,1434l12.1,21.6h-24.2zM668.7,1434l12.1,21.6h-24.2zM668.7,1434l12.1,21.6h-24.2zM670.7,1434l12.1,21.6h-24.2zM672.7,1432l12.1,21.6h-24.2zM672.7,1432l12.1,21.6h-24.2zM674.7,1432l12.1,21.6h-24.2zM676.7,1432l12.1,21.6h-24.2zM678.7,1430l12.1,21.6h-24.2zM678.7,1430l12.1,21.6h-24.2zM680.7,1428l12.1,21.6h-24.2zM682.7,1428l12.1,21.6h-24.2zM684.7,1428l12.1,21.6h-24.2zM684.7,1426l12.1,21.6h-24.2zM686.7,1426l12.1,21.6h-24.2zM688.7,1424l12.1,21.6h-24.2zM688.7,1424l12.1,21.6h-24.2zM690.7,1424l12.1,21.6h-24.2zM692.7,1422l12.1,21.6h-24.2zM694.7,1422l12.1,21.6h-24.2zM694.7,1422l12.1,21.6h-24.2zM696.7,1420l12.1,21.6h-24.2zM698.7,1420l12.1,21.6h-24.2zM698.7,1418l12.1,21.6h-24.2zM700.7,1418l12.1,21.6h-24.2zM702.7,1416l12.1,21.6h-24.2zM704.7,1416l12.1,21.6h-24.2zM704.7,1414l12.1,21.6h-24.2zM706.7,1414l12.1,21.6h-24.2zM708.7,1412l12.1,21.6h-24.2zM710.7,1412l12.1,21.6h-24.2zM710.7,1412l12.1,21.6h-24.2zM712.7,1410l12.1,21.6h-24.2zM714.7,1410l12.1,21.6h-24.2zM714.7,1408l12.1,21.6h-24.2zM716.7,1408l12.1,21.6h-24.2zM718.7,1406l12.1,21.6h-24.2zM720.7,1406l12.1,21.6h-24.2zM720.7,1406l12.1,21.6h-24.2zM722.7,1404l12.1,21.6h-24.2zM724.7,1402l12.1,21.6h-24.2zM724.7,1402l12.1,21.6h-24.2zM726.7,1400l12.1,21.6h-24.2zM728.7,1400l12.1,21.6h-24.2zM730.7,1398l12.1,21.6h-24.2zM730.7,1398l12.1,21.6h-24.2zM732.7,1396l12.1,21.6h-24.2zM734.7,1394l12.1,21.6h-24.2zM736.7,1394l12.1,21.6h-24.2zM736.7,1392l12.1,21.6h-24.2zM738.7,1392l12.1,21.6h-24.2zM740.7,1390l12.1,21.6h-24.2zM740.7,1390l12.1,21.6h-24.2zM742.7,1388l12.1,21.6h-24.2zM744.7,1386l12.1,21.6h-24.2zM746.7,1386l12.1,21.6h-24.2zM746.7,1384l12.1,21.6h-24.2zM748.7,1384l12.1,21.6h-24.2zM750.7,1382l12.1,21.6h-24.2zM750.7,1382l12.1,21.6h-24.2zM752.7,1380l12.1,21.6h-24.2zM754.7,1378l12.1,21.6h-24.2zM756.7,1378l12.1,21.6h-24.2zM756.7,1376l12.1,21.6h-24.2zM758.7,1374l12.1,21.6h-24.2zM760.7,1372l12.1,21.6h-24.2zM760.7,1370l12.1,21.6h-24.2zM762.7,1370l12.1,21.6h-24.2zM764.7,1368l12.1,21.6h-24.2zM766.7,1366l12.1,21.6h-24.2zM766.7,1364l12.1,21.6h-24.2zM768.7,1362l12.1,21.6h-24.2zM770.7,1362l12.1,21.6h-24.2zM772.7,1360l12.1,21.6h-24.2zM772.7,1358l12.1,21.6h-24.2zM774.7,1356l12.1,21.6h-24.2zM776.7,1354l12.1,21.6h-24.2zM776.7,1352l12.1,21.6h-24.2zM778.7,1352l12.1,21.6h-24.2zM780.7,1348l12.1,21.6h-24.2zM782.7,1348l12.1,21.6h-24.2zM782.7,1346l12.1,21.6h-24.2zM784.7,1344l12.1,21.6h-24.2zM786.7,1342l12.1,21.6h-24.2zM786.7,1338l12.1,21.6h-24.2zM788.7,1338l12.1,21.6h-24.2zM790.7,1336l12.1,21.6h-24.2zM792.7,1334l12.1,21.6h-24.2zM792.7,1332l12.1,21.6h-24.2zM794.7,1330l12.1,21.6h-24.2zM796.7,1328l12.1,21.6h-24.2zM798.7,1326l12.1,21.6h-24.2zM798.7,1324l12.1,21.6h-24.2zM800.7,1320l12.1,21.6h-24.2zM802.7,1318l12.1,21.6h-24.2zM802.7,1316l12.1,21.6h-24.2zM804.7,1314l12.1,21.6h-24.2zM806.7,1312l12.1,21.6h-24.2zM808.7,1310l12.1,21.6h-24.2zM808.7,1308l12.1,21.6h-24.2zM810.7,1304l12.1,21.6h-24.2zM812.7,1302l12.1,21.6h-24.2zM812.7,1300l12.1,21.6h-24.2zM814.7,1298l12.1,21.6h-24.2zM816.7,1296l12.1,21.6h-24.2zM818.7,1294l12.1,21.6h-24.2zM818.7,1290l12.1,21.6h-24.2zM820.7,1288l12.1,21.6h-24.2zM822.7,1286l12.1,21.6h-24.2zM824.7,1282l12.1,21.6h-24.2zM824.7,1280l12.1,21.6h-24.2zM826.7,1278l12.1,21.6h-24.2zM828.7,1274l12.1,21.6h-24.2zM828.7,1272l12.1,21.6h-24.2zM830.7,1270l12.1,21.6h-24.2zM832.7,1266l12.1,21.6h-24.2zM834.7,1262l12.1,21.6h-24.2zM834.7,1260l12.1,21.6h-24.2zM836.7,1256l12.1,21.6h-24.2zM838.7,1254l12.1,21.6h-24.2zM838.7,1250l12.1,21.6h-24.2zM840.7,1246l12.1,21.6h-24.2zM842.7,1244l12.1,21.6h-24.2zM844.7,1240l12.1,21.6h-24.2zM844.7,1238l12.1,21.6h-24.2zM846.7,1234l12.1,21.6h-24.2zM848.7,1230l12.1,21.6h-24.2zM850.7,1228l12.1,21.6h-24.2zM850.7,1224l12.1,21.6h-24.2zM852.7,1220l12.1,21.6h-24.2zM854.7,1216l12.1,21.6h-24.2zM854.7,1214l12.1,21.6h-24.2zM856.7,1210l12.1,21.6h-24.2zM858.7,1206l12.1,21.6h-24.2zM860.7,1202l12.1,21.6h-24.2zM860.7,1198l12.1,21.6h-24.2zM862.7,1194l12.1,21.6h-24.2zM864.7,1190l12.1,21.6h-24.2zM864.7,1188l12.1,21.6h-24.2zM866.7,1184l12.1,21.6h-24.2zM868.7,1180l12.1,21.6h-24.2zM870.7,1176l12.1,21.6h-24.2zM870.7,1172l12.1,21.6h-24.2zM872.7,1168l12.1,21.6h-24.2zM874.7,1164l12.1,21.6h-24.2zM874.7,1160l12.1,21.6h-24.2zM876.7,1156l12.1,21.6h-24.2zM878.7,1152l12.1,21.6h-24.2zM880.7,1148l12.1,21.6h-24.2zM880.7,1144l12.1,21.6h-24.2zM882.7,1140l12.1,21.6h-24.2zM884.7,1136l12.1,21.6h-24.2zM886.7,1130l12.1,21.6h-24.2zM886.7,1126l12.1,21.6h-24.2zM888.7,1122l12.1,21.6h-24.2zM890.7,1118l12.1,21.6h-24.2zM890.7,1114l12.1,21.6h-24.2zM892.7,1108l12.1,21.6h-24.2zM894.7,1104l12.1,21.6h-24.2zM896.7,1100l12.1,21.6h-24.2zM896.7,1096l12.1,21.6h-24.2zM898.7,1090l12.1,21.6h-24.2zM900.7,1086l12.1,21.6h-24.2zM900.7,1082l12.1,21.6h-24.2zM902.7,1078l12.1,21.6h-24.2zM904.7,1074l12.1,21.6h-24.2zM906.7,1068l12.1,21.6h-24.2zM906.7,1064l12.1,21.6h-24.2zM908.7,1060l12.1,21.6h-24.2zM910.7,1056l12.1,21.6h-24.2zM912.7,1050l12.1,21.6h-24.2zM912.7,1046l12.1,21.6h-24.2zM914.7,1042l12.1,21.6h-24.2zM916.7,1036l12.1,21.6h-24.2zM916.7,1032l12.1,21.6h-24.2zM918.7,1026l12.1,21.6h-24.2zM920.7,1022l12.1,21.6h-24.2zM922.7,1016l12.1,21.6h-24.2zM922.7,1012l12.1,21.6h-24.2zM924.7,1008l12.1,21.6h-24.2zM926.7,1002l12.1,21.6h-24.2zM926.7,998l12.1,21.6h-24.2zM928.7,992l12.1,21.6h-24.2zM930.7,988l12.1,21.6h-24.2zM932.7,982l12.1,21.6h-24.2zM932.7,978l12.1,21.6h-24.2zM934.7,974l12.1,21.6h-24.2zM936.7,968l12.1,21.6h-24.2zM938.7,962l12.1,21.6h-24.2zM938.7,958l12.1,21.6h-24.2zM940.7,952l12.1,21.6h-24.2zM942.7,948l12.1,21.6h-24.2zM942.7,942l12.1,21.6h-24.2zM944.7,938l12.1,21.6h-24.2zM946.7,932l12.1,21.6h-24.2zM948.7,926l12.1,21.6h-24.2zM948.7,922l12.1,21.6h-24.2zM950.7,916l12.1,21.6h-24.2zM952.7,912l12.1,21.6h-24.2zM952.7,906l12.1,21.6h-24.2zM954.7,902l12.1,21.6h-24.2zM956.7,896l12.1,21.6h-24.2zM958.7,890l12.1,21.6h-24.2zM958.7,886l12.1,21.6h-24.2zM960.7,880l12.1,21.6h-24.2zM962.7,876l12.1,21.6h-24.2zM964.7,870l12.1,21.6h-24.2zM964.7,866l12.1,21.6h-24.2zM966.7,860l12.1,21.6h-24.2zM968.7,854l12.1,21.6h-24.2zM968.7,848l12.1,21.6h-24.2zM970.7,844l12.1,21.6h-24.2zM972.7,838l12.1,21.6h-24.2zM974.7,834l12.1,21.6h-24.2zM974.7,828l12.1,21.6h-24.2zM976.7,822l12.1,21.6h-24.2zM978.7,818l12.1,21.6h-24.2zM978.7,812l12.1,21.6h-24.2zM980.7,808l12.1,21.6h-24.2zM982.7,802l12.1,21.6h-24.2zM984.7,796l12.1,21.6h-24.2zM984.7,792l12.1,21.6h-24.2zM986.7,786l12.1,21.6h-24.2zM988.7,780l12.1,21.6h-24.2zM988.7,776l12.1,21.6h-24.2zM990.7,770l12.1,21.6h-24.2zM992.7,766l12.1,21.6h-24.2zM994.7,760l12.1,21.6h-24.2zM994.7,754l12.1,21.6h-24.2zM996.7,750l12.1,21.6h-24.2zM998.7,744l12.1,21.6h-24.2zM1000.7,738l12.1,21.6h-24.2zM1000.7,734l12.1,21.6h-24.2zM1002.7,728l12.1,21.6h-24.2zM1004.7,724l12.1,21.6h-24.2zM1004.7,720l12.1,21.6h-24.2zM1006.7,714l12.1,21.6h-24.2zM1008.7,710l12.1,21.6h-24.2zM1010.7,704l12.1,21.6h-24.2zM1010.7,698l12.1,21.6h-24.2zM1012.7,694l12.1,21.6h-24.2zM1014.7,688l12.1,21.6h-24.2zM1014.7,684l12.1,21.6h-24.2zM1016.7,680l12.1,21.6h-24.2zM1018.7,674l12.1,21.6h-24.2zM1020.7,670l12.1,21.6h-24.2zM1020.7,664l12.1,21.6h-24.2zM1022.7,660l12.1,21.6h-24.2zM1024.7,656l12.1,21.6h-24.2zM1026.7,650l12.1,21.6h-24.2zM1026.7,646l12.1,21.6h-24.2zM1028.7,642l12.1,21.6h-24.2zM1030.7,636l12.1,21.6h-24.2zM1030.7,632l12.1,21.6h-24.2zM1032.7,626l12.1,21.6h-24.2zM1034.7,622l12.1,21.6h-24.2zM1036.7,618l12.1,21.6h-24.2zM1036.7,614l12.1,21.6h-24.2zM1038.7,608l12.1,21.6h-24.2zM1040.7,604l12.1,21.6h-24.2zM1040.7,600l12.1,21.6h-24.2zM1042.7,596l12.1,21.6h-24.2zM1044.7,592l12.1,21.6h-24.2zM1046.7,586l12.1,21.6h-24.2zM1046.7,582l12.1,21.6h-24.2zM1048.7,578l12.1,21.6h-24.2zM1050.7,572l12.1,21.6h-24.2zM1052.7,568l12.1,21.6h-24.2zM1052.7,564l12.1,21.6h-24.2zM1054.7,560l12.1,21.6h-24.2zM1056.7,556l12.1,21.6h-24.2zM1056.7,552l12.1,21.6h-24.2zM1058.7,548l12.1,21.6h-24.2zM1060.7,544l12.1,21.6h-24.2zM1062.7,540l12.1,21.6h-24.2zM1062.7,536l12.1,21.6h-24.2zM1064.7,534l12.1,21.6h-24.2zM1066.7,530l12.1,21.6h-24.2zM1066.7,526l12.1,21.6h-24.2zM1068.7,522l12.1,21.6h-24.2zM1070.7,516l12.1,21.6h-24.2zM1072.7,512l12.1,21.6h-24.2zM1072.7,510l12.1,21.6h-24.2zM1074.7,506l12.1,21.6h-24.2zM1076.7,502l12.1,21.6h-24.2zM1078.7,500l12.1,21.6h-24.2zM1078.7,496l12.1,21.6h-24.2zM1080.7,492l12.1,21.6h-24.2zM1082.7,488l12.1,21.6h-24.2zM1082.7,486l12.1,21.6h-24.2zM1084.7,482l12.1,21.6h-24.2zM1086.7,478l12.1,21.6h-24.2zM1088.7,474l12.1,21.6h-24.2zM1088.7,472l12.1,21.6h-24.2zM1090.7,468l12.1,21.6h-24.2zM1092.7,464l12.1,21.6h-24.2zM1092.7,462l12.1,21.6h-24.2zM1094.7,458l12.1,21.6h-24.2zM1096.7,454l12.1,21.6h-24.2zM1098.7,452l12.1,21.6h-24.2zM1098.7,448l12.1,21.6h-24.2zM1100.7,446l12.1,21.6h-24.2zM1102.7,442l12.1,21.6h-24.2zM1102.7,440l12.1,21.6h-24.2zM1104.7,436l12.1,21.6h-24.2zM1106.7,434l12.1,21.6h-24.2zM1108.7,430l12.1,21.6h-24.2zM1108.7,428l12.1,21.6h-24.2zM1110.7,424l12.1,21.6h-24.2zM1112.7,422l12.1,21.6h-24.2zM1114.7,418l12.1,21.6h-24.2zM1114.7,416l12.1,21.6h-24.2zM1116.7,412l12.1,21.6h-24.2zM1118.7,410l12.1,21.6h-24.2zM1118.7,408l12.1,21.6h-24.2zM1120.7,404l12.1,21.6h-24.2zM1122.7,402l12.1,21.6h-24.2zM1124.7,400l12.1,21.6h-24.2zM1124.7,396l12.1,21.6h-24.2zM1126.7,394l12.1,21.6h-24.2zM1128.7,392l12.1,21.6h-24.2zM1128.7,388l12.1,21.6h-24.2zM1130.7,386l12.1,21.6h-24.2zM1132.7,384l12.1,21.6h-24.2zM1134.7,382l12.1,21.6h-24.2zM1134.7,380l12.1,21.6h-24.2zM1136.7,378l12.1,21.6h-24.2zM1138.7,376l12.1,21.6h-24.2zM1140.7,372l12.1,21.6h-24.2zM1140.7,370l12.1,21.6h-24.2zM1142.7,368l12.1,21.6h-24.2zM1144.7,366l12.1,21.6h-24.2zM1144.7,364l12.1,21.6h-24.2zM1146.7,362l12.1,21.6h-24.2zM1148.7,360l12.1,21.6h-24.2zM1150.7,358l12.1,21.6h-24.2zM1150.7,356l12.1,21.6h-24.2zM1152.7,356l12.1,21.6h-24.2zM1154.7,354l12.1,21.6h-24.2zM1154.7,352l12.1,21.6h-24.2zM1156.7,350l12.1,21.6h-24.2zM1158.7,348l12.1,21.6h-24.2zM1160.7,346l12.1,21.6h-24.2zM1160.7,344l12.1,21.6h-24.2zM1162.7,342l12.1,21.6h-24.2zM1164.7,340l12.1,21.6h-24.2zM1166.7,338l12.1,21.6h-24.2zM1166.7,338l12.1,21.6h-24.2zM1168.7,336l12.1,21.6h-24.2zM1170.7,334l12.1,21.6h-24.2zM1170.7,332l12.1,21.6h-24.2zM1172.7,330l12.1,21.6h-24.2zM1174.7,330l12.1,21.6h-24.2zM1176.7,328l12.1,21.6h-24.2zM1176.7,326l12.1,21.6h-24.2zM1178.7,326l12.1,21.6h-24.2zM1180.7,324l12.1,21.6h-24.2zM1180.7,322l12.1,21.6h-24.2zM1182.7,322l12.1,21.6h-24.2zM1184.7,320l12.1,21.6h-24.2zM1186.7,318l12.1,21.6h-24.2zM1186.7,318l12.1,21.6h-24.2zM1188.7,316l12.1,21.6h-24.2zM1190.7,314l12.1,21.6h-24.2zM1192.7,314l12.1,21.6h-24.2zM1192.7,312l12.1,21.6h-24.2zM1194.7,310l12.1,21.6h-24.2zM1196.7,308l12.1,21.6h-24.2zM1196.7,308l12.1,21.6h-24.2zM1198.7,306l12.1,21.6h-24.2zM1200.7,306l12.1,21.6h-24.2zM1202.7,304l12.1,21.6h-24.2zM1202.7,304l12.1,21.6h-24.2zM1204.7,302l12.1,21.6h-24.2zM1206.7,302l12.1,21.6h-24.2zM1206.7,300l12.1,21.6h-24.2zM1208.7,300l12.1,21.6h-24.2zM1210.7,298l12.1,21.6h-24.2zM1212.7,296l12.1,21.6h-24.2zM1212.7,296l12.1,21.6h-24.2zM1214.7,294l12.1,21.6h-24.2zM1216.7,294l12.1,21.6h-24.2zM1216.7,292l12.1,21.6h-24.2zM1218.7,292l12.1,21.6h-24.2zM1220.7,290l12.1,21.6h-24.2zM1222.7,290l12.1,21.6h-24.2zM1222.7,288l12.1,21.6h-24.2zM1224.7,288l12.1,21.6h-24.2zM1226.7,286l12.1,21.6h-24.2zM1228.7,286l12.1,21.6h-24.2zM1228.7,286l12.1,21.6h-24.2zM1230.7,284l12.1,21.6h-24.2zM1232.7,284l12.1,21.6h-24.2zM1232.7,284l12.1,21.6h-24.2zM1234.7,282l12.1,21.6h-24.2zM1236.7,282l12.1,21.6h-24.2zM1238.7,282l12.1,21.6h-24.2zM1238.7,280l12.1,21.6h-24.2zM1240.7,280l12.1,21.6h-24.2zM1242.7,280l12.1,21.6h-24.2zM1242.7,280l12.1,21.6h-24.2zM1244.7,278l12.1,21.6h-24.2zM1246.7,278l12.1,21.6h-24.2zM1248.7,278l12.1,21.6h-24.2zM1248.7,278l12.1,21.6h-24.2zM1250.7,276l12.1,21.6h-24.2zM1252.7,276l12.1,21.6h-24.2zM1254.7,276l12.1,21.6h-24.2zM1254.7,276l12.1,21.6h-24.2zM1256.7,276l12.1,21.6h-24.2zM1258.7,276l12.1,21.6h-24.2zM1258.7,274l12.1,21.6h-24.2zM1260.7,274l12.1,21.6h-24.2zM1262.7,274l12.1,21.6h-24.2zM1264.7,274l12.1,21.6h-24.2zM1264.7,274l12.1,21.6h-24.2zM1266.7,272l12.1,21.6h-24.2zM1268.7,272l12.1,21.6h-24.2zM1268.7,272l12.1,21.6h-24.2zM1270.7,272l12.1,21.6h-24.2zM1272.7,272l12.1,21.6h-24.2zM1274.7,272l12.1,21.6h-24.2zM1274.7,272l12.1,21.6h-24.2zM1276.7,272l12.1,21.6h-24.2zM1278.7,270l12.1,21.6h-24.2zM1280.7,270l12.1,21.6h-24.2zM1280.7,270l12.1,21.6h-24.2zM1282.7,270l12.1,21.6h-24.2zM1284.7,270l12.1,21.6h-24.2zM1284.7,270l12.1,21.6h-24.2zM1286.7,268l12.1,21.6h-24.2zM1288.7,268l12.1,21.6h-24.2zM1290.7,268l12.1,21.6h-24.2zM1290.7,268l12.1,21.6h-24.2zM1292.7,268l12.1,21.6h-24.2zM1294.7,268l12.1,21.6h-24.2zM1294.7,268l12.1,21.6h-24.2zM1296.7,268l12.1,21.6h-24.2zM1298.7,268l12.1,21.6h-24.2zM1300.7,268l12.1,21.6h-24.2zM1300.7,268l12.1,21.6h-24.2zM1302.7,268l12.1,21.6h-24.2zM1304.7,268l12.1,21.6h-24.2zM1306.7,268l12.1,21.6h-24.2zM1306.7,268l12.1,21.6h-24.2zM1308.7,268l12.1,21.6h-24.2zM1310.7,268l12.1,21.6h-24.2zM1310.7,268l12.1,21.6h-24.2zM1312.7,268l12.1,21.6h-24.2zM1314.7,268l12.1,21.6h-24.2zM1316.7,270l12.1,21.6h-24.2zM1316.7,268l12.1,21.6h-24.2zM1318.7,268l12.1,21.6h-24.2zM1320.7,268l12.1,21.6h-24.2zM1320.7,268l12.1,21.6h-24.2zM1322.7,268l12.1,21.6h-24.2zM1324.7,270l12.1,21.6h-24.2zM1326.7,270l12.1,21.6h-24.2zM1326.7,270l12.1,21.6h-24.2zM1328.7,270l12.1,21.6h-24.2zM1330.7,270l12.1,21.6h-24.2zM1330.7,270l12.1,21.6h-24.2zM1332.7,270l12.1,21.6h-24.2zM1334.7,270l12.1,21.6h-24.2zM1336.7,270l12.1,21.6h-24.2zM1336.7,270l12.1,21.6h-24.2zM1338.7,272l12.1,21.6h-24.2zM1340.7,270l12.1,21.6h-24.2zM1342.7,270l12.1,21.6h-24.2zM1342.7,270l12.1,21.6h-24.2zM1344.7,272l12.1,21.6h-24.2zM1346.7,272l12.1,21.6h-24.2zM1346.7,272l12.1,21.6h-24.2zM1348.7,272l12.1,21.6h-24.2zM1350.7,272l12.1,21.6h-24.2zM1352.7,272l12.1,21.6h-24.2zM1352.7,272l12.1,21.6h-24.2zM1354.7,272l12.1,21.6h-24.2zM1356.7,274l12.1,21.6h-24.2zM1356.7,274l12.1,21.6h-24.2zM1358.7,274l12.1,21.6h-24.2zM1360.7,274l12.1,21.6h-24.2zM1362.7,274l12.1,21.6h-24.2zM1362.7,274l12.1,21.6h-24.2zM1364.7,276l12.1,21.6h-24.2zM1366.7,276l12.1,21.6h-24.2zM1368.7,276l12.1,21.6h-24.2zM1368.7,276l12.1,21.6h-24.2zM1370.7,276l12.1,21.6h-24.2zM1372.7,278l12.1,21.6h-24.2zM1372.7,278l12.1,21.6h-24.2zM1374.7,278l12.1,21.6h-24.2zM1376.7,278l12.1,21.6h-24.2zM1378.7,278l12.1,21.6h-24.2zM1378.7,278l12.1,21.6h-24.2zM1380.7,280l12.1,21.6h-24.2zM1382.7,280l12.1,21.6h-24.2zM1382.7,280l12.1,21.6h-24.2zM1384.7,280l12.1,21.6h-24.2zM1386.7,280l12.1,21.6h-24.2zM1388.7,282l12.1,21.6h-24.2zM1388.7,282l12.1,21.6h-24.2zM1390.7,282l12.1,21.6h-24.2zM1392.7,282l12.1,21.6h-24.2zM1394.7,284l12.1,21.6h-24.2zM1394.7,284l12.1,21.6h-24.2zM1396.7,284l12.1,21.6h-24.2zM1398.7,284l12.1,21.6h-24.2zM1398.7,286l12.1,21.6h-24.2zM1400.7,286l12.1,21.6h-24.2zM1402.7,286l12.1,21.6h-24.2zM1404.7,286l12.1,21.6h-24.2zM1404.7,286l12.1,21.6h-24.2zM1406.7,288l12.1,21.6h-24.2zM1408.7,288l12.1,21.6h-24.2zM1408.7,288l12.1,21.6h-24.2zM1410.7,288l12.1,21.6h-24.2zM1412.7,290l12.1,21.6h-24.2zM1414.7,290l12.1,21.6h-24.2zM1414.7,290l12.1,21.6h-24.2zM1416.7,290l12.1,21.6h-24.2zM1418.7,292l12.1,21.6h-24.2zM1420.7,292l12.1,21.6h-24.2zM1420.7,292l12.1,21.6h-24.2zM1422.7,292l12.1,21.6h-24.2zM1424.7,294l12.1,21.6h-24.2zM1424.7,294l12.1,21.6h-24.2zM1426.7,294l12.1,21.6h-24.2zM1428.7,294l12.1,21.6h-24.2zM1430.7,296l12.1,21.6h-24.2zM1430.7,296l12.1,21.6h-24.2zM1432.7,296l12.1,21.6h-24.2zM1434.7,298l12.1,21.6h-24.2zM1434.7,298l12.1,21.6h-24.2zM1436.7,298l12.1,21.6h-24.2zM1438.7,298l12.1,21.6h-24.2zM1440.7,300l12.1,21.6h-24.2zM1440.7,300l12.1,21.6h-24.2zM1442.7,300l12.1,21.6h-24.2zM1444.7,302l12.1,21.6h-24.2zM1444.7,302l12.1,21.6h-24.2zM1446.7,302l12.1,21.6h-24.2zM1448.7,304l12.1,21.6h-24.2zM1450.7,304l12.1,21.6h-24.2zM1450.7,304l12.1,21.6h-24.2zM1452.7,304l12.1,21.6h-24.2zM1454.7,306l12.1,21.6h-24.2zM1456.7,306l12.1,21.6h-24.2zM1456.7,306l12.1,21.6h-24.2zM1458.7,306l12.1,21.6h-24.2zM1460.7,308l12.1,21.6h-24.2zM1460.7,308l12.1,21.6h-24.2zM1462.7,310l12.1,21.6h-24.2zM1464.7,310l12.1,21.6h-24.2zM1466.7,310l12.1,21.6h-24.2zM1466.7,310l12.1,21.6h-24.2zM1468.7,312l12.1,21.6h-24.2zM1470.7,312l12.1,21.6h-24.2zM1470.7,312l12.1,21.6h-24.2zM1472.7,314l12.1,21.6h-24.2zM1474.7,314l12.1,21.6h-24.2zM1476.7,314l12.1,21.6h-24.2zM1476.7,316l12.1,21.6h-24.2zM1478.7,316l12.1,21.6h-24.2zM1480.7,316l12.1,21.6h-24.2zM1482.7,316l12.1,21.6h-24.2zM1482.7,318l12.1,21.6h-24.2zM1484.7,318l12.1,21.6h-24.2zM1486.7,318l12.1,21.6h-24.2zM1486.7,320l12.1,21.6h-24.2zM1488.7,320l12.1,21.6h-24.2zM1490.7,320l12.1,21.6h-24.2zM1492.7,320l12.1,21.6h-24.2zM1492.7,322l12.1,21.6h-24.2zM1494.7,322l12.1,21.6h-24.2zM1496.7,324l12.1,21.6h-24.2zM1496.7,324l12.1,21.6h-24.2zM1498.7,324l12.1,21.6h-24.2zM1500.7,324l12.1,21.6h-24.2zM1502.7,326l12.1,21.6h-24.2zM1502.7,326l12.1,21.6h-24.2zM1504.7,326l12.1,21.6h-24.2zM1506.7,328l12.1,21.6h-24.2zM1508.7,328l12.1,21.6h-24.2zM1508.7,328l12.1,21.6h-24.2zM1510.7,328l12.1,21.6h-24.2zM1512.7,330l12.1,21.6h-24.2zM1512.7,330l12.1,21.6h-24.2zM1514.7,330l12.1,21.6h-24.2zM1516.7,330l12.1,21.6h-24.2zM1518.7,332l12.1,21.6h-24.2zM1518.7,332l12.1,21.6h-24.2zM1520.7,332l12.1,21.6h-24.2zM1522.7,334l12.1,21.6h-24.2zM1522.7,334l12.1,21.6h-24.2zM1524.7,336l12.1,21.6h-24.2zM1526.7,336l12.1,21.6h-24.2zM1528.7,336l12.1,21.6h-24.2zM1528.7,336l12.1,21.6h-24.2zM1530.7,336l12.1,21.6h-24.2zM1532.7,338l12.1,21.6h-24.2zM1534.7,338l12.1,21.6h-24.2zM1534.7,338l12.1,21.6h-24.2zM1536.7,338l12.1,21.6h-24.2zM1538.7,340l12.1,21.6h-24.2zM1538.7,340l12.1,21.6h-24.2zM1540.7,340l12.1,21.6h-24.2zM1542.7,340l12.1,21.6h-24.2zM1544.7,342l12.1,21.6h-24.2zM1544.7,342l12.1,21.6h-24.2zM1546.7,344l12.1,21.6h-24.2zM1548.7,344l12.1,21.6h-24.2zM1548.7,344l12.1,21.6h-24.2zM1550.7,346l12.1,21.6h-24.2zM1552.7,346l12.1,21.6h-24.2zM1554.7,346l12.1,21.6h-24.2zM1554.7,346l12.1,21.6h-24.2zM1556.7,348l12.1,21.6h-24.2zM1558.7,348l12.1,21.6h-24.2zM1560.7,348l12.1,21.6h-24.2zM1560.7,348l12.1,21.6h-24.2zM1562.7,348l12.1,21.6h-24.2zM1564.7,350l12.1,21.6h-24.2zM1564.7,350l12.1,21.6h-24.2zM1566.7,352l12.1,21.6h-24.2zM1568.7,352l12.1,21.6h-24.2zM1570.7,352l12.1,21.6h-24.2zM1570.7,352l12.1,21.6h-24.2zM1572.7,352l12.1,21.6h-24.2zM1574.7,354l12.1,21.6h-24.2zM1574.7,354l12.1,21.6h-24.2zM1576.7,354l12.1,21.6h-24.2zM1578.7,356l12.1,21.6h-24.2zM1580.7,356l12.1,21.6h-24.2zM1580.7,356l12.1,21.6h-24.2zM1582.7,356l12.1,21.6h-24.2zM1584.7,358l12.1,21.6h-24.2zM1584.7,358l12.1,21.6h-24.2zM1586.7,358l12.1,21.6h-24.2zM1588.7,358l12.1,21.6h-24.2zM1590.7,360l12.1,21.6h-24.2zM1590.7,360l12.1,21.6h-24.2zM1592.7,360l12.1,21.6h-24.2zM1594.7,362l12.1,21.6h-24.2zM1596.7,362l12.1,21.6h-24.2zM1596.7,362l12.1,21.6h-24.2zM1598.7,362l12.1,21.6h-24.2zM1600.7,364l12.1,21.6h-24.2zM1600.7,364l12.1,21.6h-24.2zM1602.7,364l12.1,21.6h-24.2zM1604.7,366l12.1,21.6h-24.2zM1606.7,366l12.1,21.6h-24.2zM1606.7,366l12.1,21.6h-24.2zM1608.7,366l12.1,21.6h-24.2zM1610.7,366l12.1,21.6h-24.2zM1610.7,368l12.1,21.6h-24.2zM1612.7,368l12.1,21.6h-24.2zM1614.7,368l12.1,21.6h-24.2zM1616.7,368l12.1,21.6h-24.2zM1616.7,370l12.1,21.6h-24.2zM1618.7,370l12.1,21.6h-24.2zM1620.7,370l12.1,21.6h-24.2zM1622.7,372l12.1,21.6h-24.2zM1622.7,372l12.1,21.6h-24.2zM1624.7,372l12.1,21.6h-24.2zM1626.7,372l12.1,21.6h-24.2zM1626.7,372l12.1,21.6h-24.2zM1628.7,372l12.1,21.6h-24.2zM1630.7,374l12.1,21.6h-24.2zM1632.7,374l12.1,21.6h-24.2zM1632.7,376l12.1,21.6h-24.2zM1634.7,376l12.1,21.6h-24.2zM1636.7,376l12.1,21.6h-24.2zM1636.7,376l12.1,21.6h-24.2zM1638.7,376l12.1,21.6h-24.2zM1640.7,376l12.1,21.6h-24.2zM1642.7,378l12.1,21.6h-24.2zM1642.7,378l12.1,21.6h-24.2zM1644.7,378l12.1,21.6h-24.2zM1646.7,380l12.1,21.6h-24.2zM1648.7,380l12.1,21.6h-24.2zM1648.7,380l12.1,21.6h-24.2zM1650.7,380l12.1,21.6h-24.2zM1652.7,382l12.1,21.6h-24.2zM1652.7,382l12.1,21.6h-24.2zM1654.7,382l12.1,21.6h-24.2zM1656.7,382l12.1,21.6h-24.2zM1658.7,384l12.1,21.6h-24.2zM1658.7,384l12.1,21.6h-24.2zM1660.7,384l12.1,21.6h-24.2zM1662.7,386l12.1,21.6h-24.2zM1662.7,386l12.1,21.6h-24.2zM1664.7,386l12.1,21.6h-24.2zM1666.7,386l12.1,21.6h-24.2zM1668.7,388l12.1,21.6h-24.2zM1668.7,388l12.1,21.6h-24.2zM1670.7,388l12.1,21.6h-24.2zM1672.7,388l12.1,21.6h-24.2zM1674.7,388l12.1,21.6h-24.2zM1674.7,390l12.1,21.6h-24.2zM1676.7,390l12.1,21.6h-24.2zM1678.7,390l12.1,21.6h-24.2zM1678.7,390l12.1,21.6h-24.2zM1680.7,390l12.1,21.6h-24.2zM1682.7,392l12.1,21.6h-24.2zM1684.7,392l12.1,21.6h-24.2zM1684.7,392l12.1,21.6h-24.2zM1686.7,392l12.1,21.6h-24.2zM1688.7,394l12.1,21.6h-24.2zM1688.7,394l12.1,21.6h-24.2zM1690.7,394l12.1,21.6h-24.2zM1692.7,394l12.1,21.6h-24.2zM1694.7,396l12.1,21.6h-24.2zM1694.7,396l12.1,21.6h-24.2zM1696.7,396l12.1,21.6h-24.2zM1698.7,396l12.1,21.6h-24.2zM1698.7,396l12.1,21.6h-24.2zM1700.7,398l12.1,21.6h-24.2zM1702.7,398l12.1,21.6h-24.2zM1704.7,398l12.1,21.6h-24.2zM1704.7,398l12.1,21.6h-24.2zM1706.7,400l12.1,21.6h-24.2zM1708.7,400l12.1,21.6h-24.2zM1710.7,400l12.1,21.6h-24.2zM1710.7,400l12.1,21.6h-24.2zM1712.7,400l12.1,21.6h-24.2zM1714.7,402l12.1,21.6h-24.2zM1714.7,402l12.1,21.6h-24.2zM1716.7,402l12.1,21.6h-24.2zM1718.7,402l12.1,21.6h-24.2zM1720.7,402l12.1,21.6h-24.2zM1720.7,402l12.1,21.6h-24.2zM1722.7,402l12.1,21.6h-24.2zM1724.7,404l12.1,21.6h-24.2zM1724.7,404l12.1,21.6h-24.2zM1726.7,406l12.1,21.6h-24.2zM1728.7,406l12.1,21.6h-24.2zM1730.7,406l12.1,21.6h-24.2zM1730.7,406l12.1,21.6h-24.2zM1732.7,406l12.1,21.6h-24.2zM1734.7,406l12.1,21.6h-24.2zM1736.7,408l12.1,21.6h-24.2zM1736.7,408l12.1,21.6h-24.2zM1738.7,408l12.1,21.6h-24.2zM1740.7,408l12.1,21.6h-24.2zM1740.7,408l12.1,21.6h-24.2zM1742.7,410l12.1,21.6h-24.2zM1744.7,410l12.1,21.6h-24.2zM1746.7,410l12.1,21.6h-24.2zM1746.7,410l12.1,21.6h-24.2zM1748.7,412l12.1,21.6h-24.2zM1750.7,412l12.1,21.6h-24.2zM1750.7,412l12.1,21.6h-24.2zM1752.7,412l12.1,21.6h-24.2zM1754.7,412l12.1,21.6h-24.2zM1756.7,412l12.1,21.6h-24.2zM1756.7,414l12.1,21.6h-24.2zM1758.7,414l12.1,21.6h-24.2zM1760.7,414l12.1,21.6h-24.2zM1762.7,414l12.1,21.6h-24.2zM1762.7,416l12.1,21.6h-24.2zM1764.7,416l12.1,21.6h-24.2zM1766.7,416l12.1,21.6h-24.2zM1766.7,416l12.1,21.6h-24.2zM1768.7,416l12.1,21.6h-24.2zM1770.7,418l12.1,21.6h-24.2zM1772.7,418l12.1,21.6h-24.2zM1772.7,418l12.1,21.6h-24.2zM1774.7,418l12.1,21.6h-24.2zM1776.7,418l12.1,21.6h-24.2zM1776.7,418l12.1,21.6h-24.2zM1778.7,420l12.1,21.6h-24.2zM1780.7,420l12.1,21.6h-24.2zM1782.7,420l12.1,21.6h-24.2zM1782.7,420l12.1,21.6h-24.2zM1784.7,420l12.1,21.6h-24.2zM1786.7,422l12.1,21.6h-24.2zM1788.7,422l12.1,21.6h-24.2zM1788.7,422l12.1,21.6h-24.2zM1790.7,422l12.1,21.6h-24.2zM1792.7,424l12.1,21.6h-24.2zM1792.7,424l12.1,21.6h-24.2zM1794.7,424l12.1,21.6h-24.2zM1796.7,424l12.1,21.6h-24.2zM1798.7,424l12.1,21.6h-24.2zM1798.7,424l12.1,21.6h-24.2zM1800.7,424l12.1,21.6h-24.2zM1802.7,426l12.1,21.6h-24.2zM1802.7,426l12.1,21.6h-24.2zM1804.7,426l12.1,21.6h-24.2zM1806.7,426l12.1,21.6h-24.2zM1808.7,426l12.1,21.6h-24.2zM1808.7,426l12.1,21.6h-24.2zM1810.7,428l12.1,21.6h-24.2zM1812.7,428l12.1,21.6h-24.2zM1812.7,428l12.1,21.6h-24.2zM1814.7,428l12.1,21.6h-24.2zM1816.7,430l12.1,21.6h-24.2zM1818.7,430l12.1,21.6h-24.2zM1818.7,430l12.1,21.6h-24.2zM1820.7,430l12.1,21.6h-24.2zM1822.7,430l12.1,21.6h-24.2zM1824.7,430l12.1,21.6h-24.2zM1824.7,430l12.1,21.6h-24.2zM1826.7,432l12.1,21.6h-24.2zM1828.7,432l12.1,21.6h-24.2zM1828.7,432l12.1,21.6h-24.2zM1830.7,432l12.1,21.6h-24.2zM1832.7,432l12.1,21.6h-24.2zM1834.7,432l12.1,21.6h-24.2zM1834.7,432l12.1,21.6h-24.2zM1836.7,434l12.1,21.6h-24.2zM1838.7,434l12.1,21.6h-24.2zM1838.7,434l12.1,21.6h-24.2zM1840.7,434l12.1,21.6h-24.2zM1842.7,434l12.1,21.6h-24.2zM1844.7,436l12.1,21.6h-24.2zM1844.7,436l12.1,21.6h-24.2zM1846.7,436l12.1,21.6h-24.2zM1848.7,436l12.1,21.6h-24.2zM1850.7,436l12.1,21.6h-24.2zM1850.7,436l12.1,21.6h-24.2zM1852.7,436l12.1,21.6h-24.2zM1854.7,436l12.1,21.6h-24.2zM1854.7,438l12.1,21.6h-24.2zM1856.7,438l12.1,21.6h-24.2zM1858.7,438l12.1,21.6h-24.2zM1860.7,438l12.1,21.6h-24.2zM1860.7,438l12.1,21.6h-24.2zM1862.7,438l12.1,21.6h-24.2zM1864.7,438l12.1,21.6h-24.2zM1864.7,440l12.1,21.6h-24.2zM1866.7,440l12.1,21.6h-24.2zM1868.7,440l12.1,21.6h-24.2zM1870.7,440l12.1,21.6h-24.2zM1870.7,440l12.1,21.6h-24.2zM1872.7,440l12.1,21.6h-24.2zM1874.7,442l12.1,21.6h-24.2zM1876.7,442l12.1,21.6h-24.2zM1876.7,442l12.1,21.6h-24.2zM1878.7,442l12.1,21.6h-24.2zM1880.7,442l12.1,21.6h-24.2zM1880.7,442l12.1,21.6h-24.2zM1882.7,442l12.1,21.6h-24.2zM1884.7,444l12.1,21.6h-24.2zM1886.7,444l12.1,21.6h-24.2zM1886.7,444l12.1,21.6h-24.2zM1888.7,444l12.1,21.6h-24.2zM1890.7,444l12.1,21.6h-24.2zM1890.7,444l12.1,21.6h-24.2zM1892.7,446l12.1,21.6h-24.2zM1894.7,446l12.1,21.6h-24.2zM1896.7,446l12.1,21.6h-24.2zM1896.7,446l12.1,21.6h-24.2zM1898.7,446l12.1,21.6h-24.2zM1900.7,446l12.1,21.6h-24.2zM1902.7,446l12.1,21.6h-24.2zM1902.7,448l12.1,21.6h-24.2zM1904.7,448l12.1,21.6h-24.2zM1906.7,448l12.1,21.6h-24.2zM1906.7,448l12.1,21.6h-24.2zM1908.7,448l12.1,21.6h-24.2zM1910.7,448l12.1,21.6h-24.2zM1912.7,448l12.1,21.6h-24.2zM1912.7,448l12.1,21.6h-24.2zM1914.7,448l12.1,21.6h-24.2zM1916.7,448l12.1,21.6h-24.2zM1916.7,448l12.1,21.6h-24.2zM1918.7,450l12.1,21.6h-24.2zM1920.7,450l12.1,21.6h-24.2zM1922.7,450l12.1,21.6h-24.2zM1922.7,450l12.1,21.6h-24.2zM1924.7,450l12.1,21.6h-24.2zM1926.7,450l12.1,21.6h-24.2zM1926.7,452l12.1,21.6h-24.2zM1928.7,452l12.1,21.6h-24.2zM1930.7,452l12.1,21.6h-24.2zM1932.7,452l12.1,21.6h-24.2zM1932.7,452l12.1,21.6h-24.2zM1934.7,452l12.1,21.6h-24.2zM1936.7,452l12.1,21.6h-24.2zM1938.7,454l12.1,21.6h-24.2zM1938.7,454l12.1,21.6h-24.2zM1940.7,454l12.1,21.6h-24.2zM1942.7,454l12.1,21.6h-24.2zM1942.7,454l12.1,21.6h-24.2zM1944.7,454l12.1,21.6h-24.2zM1946.7,454l12.1,21.6h-24.2zM1948.7,454l12.1,21.6h-24.2zM1948.7,454l12.1,21.6h-24.2zM1950.7,454l12.1,21.6h-24.2zM1952.7,456l12.1,21.6h-24.2zM1952.7,456l12.1,21.6h-24.2zM1954.7,456l12.1,21.6h-24.2zM1956.7,456l12.1,21.6h-24.2zM1958.7,456l12.1,21.6h-24.2zM1958.7,456l12.1,21.6h-24.2zM1960.7,456l12.1,21.6h-24.2zM1962.7,456l12.1,21.6h-24.2zM1964.7,456l12.1,21.6h-24.2zM1964.7,456l12.1,21.6h-24.2zM1966.7,456l12.1,21.6h-24.2zM1968.7,456l12.1,21.6h-24.2zM1968.7,456l12.1,21.6h-24.2zM1970.7,458l12.1,21.6h-24.2zM1972.7,458l12.1,21.6h-24.2zM1974.7,458l12.1,21.6h-24.2zM1974.7,458l12.1,21.6h-24.2zM1976.7,458l12.1,21.6h-24.2zM1978.7,458l12.1,21.6h-24.2zM1978.7,458l12.1,21.6h-24.2zM1980.7,458l12.1,21.6h-24.2zM1982.7,458l12.1,21.6h-24.2zM1984.7,460l12.1,21.6h-24.2zM1984.7,460l12.1,21.6h-24.2zM1986.7,460l12.1,21.6h-24.2zM1988.7,460l12.1,21.6h-24.2zM1990.7,460l12.1,21.6h-24.2zM1990.7,460l12.1,21.6h-24.2zM1992.7,460l12.1,21.6h-24.2zM1994.7,460l12.1,21.6h-24.2zM1994.7,460l12.1,21.6h-24.2zM1996.7,462l12.1,21.6h-24.2zM1998.7,462l12.1,21.6h-24.2z"/></g>
<g fill="#00B06A" stroke="none"><path d="M266.7,1458.4 268.7,1458.4 268.7,1458.4 270.7,1458.4 272.7,1458.4 274.7,1458.4 274.7,1458.4 276.7,1458.4 278.7,1458.4 278.7,1458.4 280.7,1458.4 282.7,1458.4 284.7,1458.4 284.7,1458.4 286.7,1458.4 288.7,1458.4 290.7,1458.4 290.7,1458.4 292.7,1458.4 294.7,1458.4 294.7,1458.4 296.7,1458.4 298.7,1458.4 300.7,1458.4 300.7,1458.4 302.7,1458.4 304.7,1458.4 304.7,1458.4 306.7,1458.4 308.7,1458.4 310.7,1458.4 310.7,1458.4 312.7,1458.4 314.7,1458.4 316.7,1458.4 316.7,1458.4 318.7,1458.4 320.7,1458.4 320.7,1458.4 322.7,1458.4 324.7,1458.4 326.7,1458.4 326.7,1458.4 328.7,1458.4 330.7,1458.4 330.7,1458.4 332.7,1458.4 334.7,1458.4 336.7,1458.4 336.7,1458.4 338.7,1458.4 340.7,1458.4 342.7,1458.4 342.7,1458.4 344.7,1458.4 346.7,1458.4 346.7,1458.4 348.7,1458.4 350.7,1458.4 352.7,1458.4 352.7,1458.4 354.7,1458.4 356.7,1458.4 356.7,1458.4 358.7,1458.4 360.7,1458.4 362.7,1458.4 362.7,1458.4 364.7,1458.4 366.7,1458.4 368.7,1458.4 368.7,1458.4 370.7,1458.4 372.7,1458.4 372.7,1458.4 374.7,1458.4 376.7,1458.4 378.7,1458.4 378.7,1458.4 380.7,1458.4 382.7,1458.4 382.7,1458.4 384.7,1458.4 386.7,1458.4 388.7,1458.4 388.7,1458.4 390.7,1458.4 392.7,1458.4 392.7,1458.4 394.7,1458.4 396.7,1458.4 398.7,1458.4 398.7,1458.4 400.7,1458.4 402.7,1458.4 404.7,1458.4 404.7,1458.4 406.7,1458.4 408.7,1458.4 408.7,1458.4 410.7,1458.4 412.7,1458.4 414.7,1458.4 414.7,1458.4 416.7,1458.4 418.7,1458.4 418.7,1458.4 420.7,1458.4 422.7,1458.4 424.7,1458.4 424.7,1458.4 426.7,1458.4 428.7,1458.4 430.7,1458.4 430.7,1458.4 432.7,1458.4 434.7,1458.4 434.7,1458.4 436.7,1458.4 438.7,1458.4 440.7,1458.4 440.7,1458.4 442.7,1458.4 444.7,1458.4 444.7,1458.4 446.7,1458.4 448.7,1458.4 450.7,1458.4 450.7,1458.4 452.7,1458.4 454.7,1458.4 456.7,1458.4 456.7,1458.4 458.7,1458.4 460.7,1458.4 460.7,1458.4 462.7,1458.4 464.7,1458.4 466.7,1458.4 466.7,1458.4 468.7,1458.4 470.7,1458.4 470.7,1458.4 472.7,1458.4 474.7,1458.4 476.7,1458.4 476.7,1458.4 478.7,1458.4 480.7,1458.4 482.7,1458.4 482.7,1458.4 484.7,1458.4 486.7,1458.4 486.7,1458.4 488.7,1458.4 490.7,1458.4 492.7,1458.4 492.7,1458.4 494.7,1458.4 496.7,1458.4 496.7,1458.4 498.7,1458.4 500.7,1458.4 502.7,1458.4 502.7,1458.4 504.7,1458.4 506.7,1458.4 506.7,1458.4 508.7,1458.4 510.7,1458.4 512.7,1458.4 512.7,1458.4 514.7,1458.4 516.7,1458.4 518.7,1458.4 518.7,1458.4 520.7,1458.4 522.7,1458.4 522.7,1458.4 524.7,1458.4 526.7,1458.4 528.7,1458.4 528.7,1458.4 530.7,1458.4 532.7,1458.4 532.7,1458.4 534.7,1458.4 536.7,1458.4 538.7,1458.4 538.7,1458.4 540.7,1458.4 542.7,1458.4 544.7,1458.4 544.7,1458.4 546.7,1458.4 548.7,1458.4 548.7,1458.4 550.7,1458.4 552.7,1458.4 554.7,1458.4 554.7,1458.4 556.7,1458.4 558.7,1458.4 558.7,1458.4 560.7,1458.4 562.7,1458.4 564.7,1458.4 564.7,1458.4 566.7,1458.4 568.7,1458.4 570.7,1458.4 570.7,1458.4 572.7,1458.4 574.7,1458.4 574.7,1458.4 576.7,1458.4 578.7,1458.4 580.7,1458.4 580.7,1458.4 582.7,1458.4 584.7,1458.4 584.7,1458.4 586.7,1458.4 588.7,1458.4 590.7,1458.4 590.7,1458.4 592.7,1458.4 594.7,1458.4 596.7,1458.4 596.7,1458.4 598.7,1458.4 600.7,1458.4 600.7,1458.4 602.7,1458.4 604.7,1458.4 606.7,1458.4 606.7,1458.4 608.7,1458.4 610.7,1458.4 610.7,1458.4 612.7,1458.4 614.7,1458.4 616.7,1458.4 616.7,1458.4 618.7,1458.4 620.7,1458.4 620.7,1458.4 622.7,1458.4 624.7,1458.4 626.7,1458.4 626.7,1458.4 628.7,1458.4 630.7,1458.4 632.7,1458.4 632.7,1458.4 634.7,1458.4 636.7,1458.4 636.7,1458.4 638.7,1458.4 640.7,1458.4 642.7,1458.4 642.7,1458.4 644.7,1458.4 646.7,1458.4 646.7,1458.4 648.7,1458.4 650.7,1458.4 652.7,1458.4 652.7,1458.4 654.7,1458.4 656.7,1458.4 658.7,1458.4 658.7,1458.4 660.7,1458.4 662.7,1458.4 662.7,1458.4 664.7,1458.4 666.7,1458.4 668.7,1458.4 668.7,1458.4 670.7,1458.4 672.7,1458.4 672.7,1458.4 674.7,1458.4 676.7,1458.4 678.7,1458.4 678.7,1458.4 680.7,1458.4 682.7,1456.4 684.7,1456.4 684.7,1456.4 686.7,1456.4 688.7,1456.4 688.7,1456.4 690.7,1456.4 692.7,1456.4 694.7,1454.4 694.7,1454.4 696.7,1454.4 698.7,1454.4 698.7,1454.4 700.7,1454.4 702.7,1454.4 704.7,1454.4 704.7,1454.4 706.7,1454.4 708.7,1452.4 710.7,1452.4 710.7,1454.4 712.7,1452.4 714.7,1452.4 714.7,1452.4 716.7,1452.4 718.7,1452.4 720.7,1452.4 720.7,1452.4 722.7,1452.4 724.7,1452.4 724.7,1450.4 726.7,1450.4 728.7,1450.4 730.7,1450.4 730.7,1450.4 732.7,1450.4 734.7,1448.4 736.7,1448.4 736.7,1448.4 738.7,1448.4 740.7,1446.4 740.7,1446.4 742.7,1446.4 744.7,1446.4 746.7,1446.4 746.7,1446.4 748.7,1446.4 750.7,1444.4 750.7,1444.4 752.7,1444.4 754.7,1444.4 756.7,1444.4 756.7,1444.4 758.7,1442.4 760.7,1442.4 760.7,1442.4 762.7,1442.4 764.7,1440.4 766.7,1440.4 766.7,1440.4 768.7,1440.4 770.7,1438.4 772.7,1438.4 772.7,1438.4 774.7,1436.4 776.7,1436.4 776.7,1436.4 778.7,1434.4 780.7,1434.4 782.7,1434.4 782.7,1434.4 784.7,1432.4 786.7,1432.4 786.7,1432.4 788.7,1430.4 790.7,1430.4 792.7,1430.4 792.7,1430.4 794.7,1428.4 796.7,1428.4 798.7,1428.4 798.7,1428.4 800.7,1426.4 802.7,1426.4 802.7,1424.4 804.7,1424.4 806.7,1424.4 808.7,1422.4 808.7,1422.4 810.7,1420.4 812.7,1420.4 812.7,1420.4 814.7,1418.4 816.7,1418.4 818.7,1418.4 818.7,1416.4 820.7,1416.4 822.7,1414.4 824.7,1414.4 824.7,1412.4 826.7,1412.4 828.7,1410.4 828.7,1410.4 830.7,1408.4 832.7,1408.4 834.7,1406.4 834.7,1406.4 836.7,1404.4 838.7,1404.4 838.7,1404.4 840.7,1402.4 842.7,1402.4 844.7,1400.4 844.7,1400.4 846.7,1398.4 848.7,1398.4 850.7,1396.4 850.7,1396.4 852.7,1394.4 854.7,1394.4 854.7,1392.4 856.7,1390.4 858.7,1390.4 860.7,1388.4 860.7,1388.4 862.7,1386.4 864.7,1384.4 864.7,1384.4 866.7,1382.4 868.7,1380.4 870.7,1378.4 870.7,1378.4 872.7,1376.4 874.7,1374.4 874.7,1374.4 876.7,1372.4 878.7,1370.4 880.7,1368.4 880.7,1366.4 882.7,1366.4 884.7,1364.4 886.7,1362.4 886.7,1360.4 888.7,1358.4 890.7,1356.4 890.7,1354.4 892.7,1352.4 894.7,1352.4 896.7,1350.4 896.7,1348.4 898.7,1346.4 900.7,1344.4 900.7,1342.4 902.7,1340.4 904.7,1338.4 906.7,1336.4 906.7,1334.4 908.7,1332.4 910.7,1330.4 912.7,1328.4 912.7,1326.4 914.7,1324.4 916.7,1322.4 916.7,1320.4 918.7,1318.4 920.7,1314.4 922.7,1312.4 922.7,1310.4 924.7,1308.4 926.7,1306.4 926.7,1304.4 928.7,1300.4 930.7,1298.4 932.7,1296.4 932.7,1292.4 934.7,1290.4 936.7,1288.4 938.7,1284.4 938.7,1282.4 940.7,1278.4 942.7,1274.4 942.7,1272.4 944.7,1268.4 946.7,1266.4 948.7,1262.4 948.7,1258.4 950.7,1256.4 952.7,1252.4 952.7,1250.4 954.7,1246.4 956.7,1242.4 958.7,1238.4 958.7,1236.4 960.7,1232.4 962.7,1228.4 964.7,1224.4 964.7,1220.4 966.7,1216.4 968.7,1214.4 968.7,1210.4 970.7,1206.4 972.7,1202.4 974.7,1198.4 974.7,1194.4 976.7,1190.4 978.7,1186.4 978.7,1182.4 980.7,1178.4 982.7,1172.4 984.7,1168.4 984.7,1164.4 986.7,1160.4 988.7,1156.4 988.7,1150.4 990.7,1146.4 992.7,1140.4 994.7,1136.4 994.7,1130.4 996.7,1126.4 998.7,1122.4 1000.7,1116.4 1000.7,1112.4 1002.7,1106.4 1004.7,1102.4 1004.7,1096.4 1006.7,1092.4 1008.7,1086.4 1010.7,1082.4 1010.7,1076.4 1012.7,1070.4 1014.7,1066.4 1014.7,1060.4 1016.7,1054.4 1018.7,1048.4 1020.7,1044.4 1020.7,1038.4 1022.7,1032.4 1024.7,1026.4 1026.7,1020.4 1026.7,1014.4 1028.7,1008.4 1030.7,1004.4 1030.7,998.4 1032.7,992.4 1034.7,986.4 1036.7,980.4 1036.7,974.4 1038.7,968.4 1040.7,962.4 1040.7,956.4 1042.7,950.4 1044.7,944.4 1046.7,936.4 1046.7,930.4 1048.7,924.4 1050.7,918.4 1052.7,912.4 1052.7,906.4 1054.7,900.4 1056.7,894.4 1056.7,888.4 1058.7,882.4 1060.7,874.4 1062.7,868.4 1062.7,862.4 1064.7,856.4 1066.7,850.4 1066.7,844.4 1068.7,838.4 1070.7,832.4 1072.7,826.4 1072.7,820.4 1074.7,814.4 1076.7,808.4 1078.7,802.4 1078.7,796.4 1080.7,790.4 1082.7,784.4 1082.7,778.4 1084.7,772.4 1086.7,768.4 1088.7,762.4 1088.7,756.4 1090.7,750.4 1092.7,744.4 1092.7,740.4 1094.7,734.4 1096.7,728.4 1098.7,722.4 1098.7,718.4 1100.7,712.4 1102.7,706.4 1102.7,702.4 1104.7,696.4 1106.7,692.4 1108.7,686.4 1108.7,682.4 1110.7,676.4 1112.7,672.4 1114.7,666.4 1114.7,662.4 1116.7,658.4 1118.7,652.4 1118.7,648.4 1120.7,642.4 1122.7,638.4 1124.7,634.4 1124.7,628.4 1126.7,624.4 1128.7,620.4 1128.7,614.4 1130.7,610.4 1132.7,606.4 1134.7,602.4 1134.7,598.4 1136.7,592.4 1138.7,588.4 1140.7,584.4 1140.7,580.4 1142.7,576.4 1144.7,572.4 1144.7,568.4 1146.7,564.4 1148.7,560.4 1150.7,556.4 1150.7,554.4 1152.7,550.4 1154.7,546.4 1154.7,542.4 1156.7,540.4 1158.7,536.4 1160.7,532.4 1160.7,530.4 1162.7,526.4 1164.7,524.4 1166.7,520.4 1166.7,516.4 1168.7,514.4 1170.7,510.4 1170.7,508.4 1172.7,504.4 1174.7,502.4 1176.7,498.4 1176.7,496.4 1178.7,494.4 1180.7,490.4 1180.7,488.4 1182.7,484.4 1184.7,482.4 1186.7,480.4 1186.7,478.4 1188.7,474.4 1190.7,472.4 1192.7,468.4 1192.7,466.4 1194.7,464.4 1196.7,462.4 1196.7,460.4 1198.7,458.4 1200.7,454.4 1202.7,454.4 1202.7,452.4 1204.7,450.4 1206.7,448.4 1206.7,446.4 1208.7,444.4 1210.7,442.4 1212.7,442.4 1212.7,440.4 1214.7,438.4 1216.7,436.4 1216.7,436.4 1218.7,434.4 1220.7,432.4 1222.7,432.4 1222.7,430.4 1224.7,428.4 1226.7,428.4 1228.7,426.4 1228.7,426.4 1230.7,424.4 1232.7,424.4 1232.7,422.4 1234.7,420.4 1236.7,420.4 1238.7,418.4 1238.7,418.4 1240.7,416.4 1242.7,416.4 1242.7,414.4 1244.7,414.4 1246.7,414.4 1248.7,414.4 1248.7,412.4 1250.7,412.4 1252.7,412.4 1254.7,410.4 1254.7,410.4 1256.7,410.4 1258.7,410.4 1258.7,410.4 1260.7,410.4 1262.7,410.4 1264.7,410.4 1264.7,410.4 1266.7,410.4 1268.7,410.4 1268.7,410.4 1270.7,410.4 1272.7,410.4 1274.7,410.4 1274.7,410.4 1276.7,410.4 1278.7,410.4 1280.7,410.4 1280.7,412.4 1282.7,412.4 1284.7,412.4 1284.7,412.4 1286.7,412.4 1288.7,412.4 1290.7,414.4 1290.7,414.4 1292.7,414.4 1294.7,416.4 1294.7,416.4 1296.7,416.4 1298.7,416.4 1300.7,418.4 1300.7,418.4 1302.7,418.4 1304.7,418.4 1306.7,420.4 1306.7,420.4 1308.7,422.4 1310.7,422.4 1310.7,424.4 1312.7,424.4 1314.7,424.4 1316.7,426.4 1316.7,426.4 1318.7,428.4 1320.7,428.4 1320.7,428.4 1322.7,430.4 1324.7,432.4 1326.7,432.4 1326.7,434.4 1328.7,434.4 1330.7,436.4 1330.7,436.4 1332.7,438.4 1334.7,438.4 1336.7,440.4 1336.7,442.4 1338.7,442.4 1340.7,442.4 1342.7,444.4 1342.7,444.4 1344.7,446.4 1346.7,448.4 1346.7,448.4 1348.7,450.4 1350.7,452.4 1352.7,452.4 1352.7,452.4 1354.7,454.4 1356.7,456.4 1356.7,458.4 1358.7,458.4 1360.7,460.4 1362.7,462.4 1362.7,462.4 1364.7,464.4 1366.7,464.4 1368.7,466.4 1368.7,468.4 1370.7,468.4 1372.7,470.4 1372.7,472.4 1374.7,472.4 1376.7,474.4 1378.7,476.4 1378.7,476.4 1380.7,478.4 1382.7,478.4 1382.7,480.4 1384.7,482.4 1386.7,484.4 1388.7,484.4 1388.7,486.4 1390.7,488.4 1392.7,488.4 1394.7,490.4 1394.7,492.4 1396.7,492.4 1398.7,494.4 1398.7,496.4 1400.7,496.4 1402.7,498.4 1404.7,500.4 1404.7,502.4 1406.7,502.4 1408.7,504.4 1408.7,506.4 1410.7,506.4 1412.7,508.4 1414.7,510.4 1414.7,512.4 1416.7,512.4 1418.7,514.4 1420.7,516.4 1420.7,516.4 1422.7,518.4 1424.7,520.4 1424.7,522.4 1426.7,522.4 1428.7,524.4 1430.7,526.4 1430.7,528.4 1432.7,528.4 1434.7,530.4 1434.7,532.4 1436.7,534.4 1438.7,534.4 1440.7,536.4 1440.7,538.4 1442.7,538.4 1444.7,540.4 1444.7,542.4 1446.7,544.4 1448.7,544.4 1450.7,546.4 1450.7,548.4 1452.7,550.4 1454.7,552.4 1456.7,552.4 1456.7,554.4 1458.7,556.4 1460.7,558.4 1460.7,558.4 1462.7,560.4 1464.7,562.4 1466.7,564.4 1466.7,564.4 1468.7,566.4 1470.7,568.4 1470.7,570.4 1472.7,572.4 1474.7,574.4 1476.7,574.4 1476.7,576.4 1478.7,578.4 1480.7,578.4 1482.7,580.4 1482.7,582.4 1484.7,584.4 1486.7,584.4 1486.7,586.4 1488.7,588.4 1490.7,588.4 1492.7,590.4 1492.7,592.4 1494.7,594.4 1496.7,596.4 1496.7,596.4 1498.7,598.4 1500.7,600.4 1502.7,602.4 1502.7,602.4 1504.7,604.4 1506.7,606.4 1508.7,606.4 1508.7,608.4 1510.7,610.4 1512.7,612.4 1512.7,612.4 1514.7,614.4 1516.7,616.4 1518.7,618.4 1518.7,620.4 1520.7,620.4 1522.7,622.4 1522.7,624.4 1524.7,624.4 1526.7,626.4 1528.7,628.4 1528.7,630.4 1530.7,630.4 1532.7,632.4 1534.7,634.4 1534.7,634.4 1536.7,636.4 1538.7,638.4 1538.7,640.4 1540.7,640.4 1542.7,642.4 1544.7,644.4 1544.7,644.4 1546.7,646.4 1548.7,648.4 1548.7,648.4 1550.7,650.4 1552.7,652.4 1554.7,652.4 1554.7,654.4 1556.7,656.4 1558.7,656.4 1560.7,658.4 1560.7,660.4 1562.7,660.4 1564.7,662.4 1564.7,664.4 1566.7,664.4 1568.7,666.4 1570.7,666.4 1570.7,668.4 1572.7,670.4 1574.7,670.4 1574.7,672.4 1576.7,674.4 1578.7,674.4 1580.7,676.4 1580.7,676.4 1582.7,678.4 1584.7,680.4 1584.7,680.4 1586.7,682.4 1588.7,682.4 1590.7,684.4 1590.7,686.4 1592.7,686.4 1594.7,688.4 1596.7,688.4 1596.7,690.4 1598.7,690.4 1600.7,692.4 1600.7,694.4 1602.7,694.4 1604.7,696.4 1606.7,696.4 1606.7,698.4 1608.7,698.4 1610.7,700.4 1610.7,702.4 1612.7,702.4 1614.7,704.4 1616.7,704.4 1616.7,706.4 1618.7,706.4 1620.7,708.4 1622.7,708.4 1622.7,710.4 1624.7,710.4 1626.7,712.4 1626.7,712.4 1628.7,714.4 1630.7,716.4 1632.7,716.4 1632.7,716.4 1634.7,718.4 1636.7,720.4 1636.7,720.4 1638.7,722.4 1640.7,722.4 1642.7,722.4 1642.7,724.4 1644.7,724.4 1646.7,726.4 1648.7,726.4 1648.7,728.4 1650.7,728.4 1652.7,730.4 1652.7,730.4 1654.7,732.4 1656.7,732.4 1658.7,734.4 1658.7,734.4 1660.7,736.4 1662.7,736.4 1662.7,738.4 1664.7,738.4 1666.7,738.4 1668.7,740.4 1668.7,740.4 1670.7,742.4 1672.7,742.4 1674.7,744.4 1674.7,744.4 1676.7,746.4 1678.7,746.4 1678.7,748.4 1680.7,748.4 1682.7,750.4 1684.7,750.4 1684.7,750.4 1686.7,752.4 1688.7,752.4 1688.7,754.4 1690.7,754.4 1692.7,756.4 1694.7,756.4 1694.7,758.4 1696.7,758.4 1698.7,758.4 1698.7,760.4 1700.7,760.4 1702.7,762.4 1704.7,762.4 1704.7,764.4 1706.7,764.4 1708.7,766.4 1710.7,766.4 1710.7,766.4 1712.7,768.4 1714.7,768.4 1714.7,768.4 1716.7,770.4 1718.7,770.4 1720.7,772.4 1720.7,772.4 1722.7,774.4 1724.7,774.4 1724.7,774.4 1726.7,776.4 1728.7,776.4 1730.7,776.4 1730.7,778.4 1732.7,778.4 1734.7,780.4 1736.7,780.4 1736.7,780.4 1738.7,782.4 1740.7,782.4 1740.7,784.4 1742.7,784.4 1744.7,786.4 1746.7,786.4 1746.7,786.4 1748.7,786.4 1750.7,788.4 1750.7,788.4 1752.7,790.4 1754.7,790.4 1756.7,792.4 1756.7,792.4 1758.7,792.4 1760.7,794.4 1762.7,794.4 1762.7,794.4 1764.7,796.4 1766.7,796.4 1766.7,798.4 1768.7,798.4 1770.7,798.4 1772.7,800.4 1772.7,800.4 1774.7,800.4 1776.7,802.4 1776.7,802.4 1778.7,802.4 1780.7,804.4 1782.7,804.4 1782.7,806.4 1784.7,806.4 1786.7,806.4 1788.7,808.4 1788.7,808.4 1790.7,808.4 1792.7,810.4 1792.7,810.4 1794.7,810.4 1796.7,810.4 1798.7,812.4 1798.7,812.4 1800.7,814.4 1802.7,814.4 1802.7,814.4 1804.7,814.4 1806.7,816.4 1808.7,816.4 1808.7,816.4 1810.7,818.4 1812.7,818.4 1812.7,818.4 1814.7,820.4 1816.7,820.4 1818.7,820.4 1818.7,820.4 1820.7,822.4 1822.7,822.4 1824.7,822.4 1824.7,824.4 1826.7,824.4 1828.7,826.4 1828.7,826.4 1830.7,826.4 1832.7,826.4 1834.7,828.4 1834.7,828.4 1836.7,828.4 1838.7,830.4 1838.7,830.4 1840.7,830.4 1842.7,832.4 1844.7,832.4 1844.7,832.4 1846.7,832.4 1848.7,832.4 1850.7,834.4 1850.7,834.4 1852.7,836.4 1854.7,836.4 1854.7,836.4 1856.7,836.4 1858.7,838.4 1860.7,838.4 1860.7,838.4 1862.7,838.4 1864.7,838.4 1864.7,840.4 1866.7,840.4 1868.7,842.4 1870.7,842.4 1870.7,842.4 1872.7,842.4 1874.7,842.4 1876.7,842.4 1876.7,844.4 1878.7,844.4 1880.7,844.4 1880.7,846.4 1882.7,846.4 1884.7,846.4 1886.7,846.4 1886.7,848.4 1888.7,848.4 1890.7,848.4 1890.7,848.4 1892.7,850.4 1894.7,850.4 1896.7,850.4 1896.7,850.4 1898.7,850.4 1900.7,852.4 1902.7,852.4 1902.7,852.4 1904.7,852.4 1906.7,852.4 1906.7,854.4 1908.7,854.4 1910.7,854.4 1912.7,854.4 1912.7,856.4 1914.7,856.4 1916.7,856.4 1916.7,856.4 1918.7,856.4 1920.7,858.4 1922.7,858.4 1922.7,858.4 1924.7,858.4 1926.7,858.4 1926.7,860.4 1928.7,860.4 1930.7,860.4 1932.7,860.4 1932.7,860.4 1934.7,860.4 1936.7,862.4 1938.7,862.4 1938.7,862.4 1940.7,862.4 1942.7,862.4 1942.7,862.4 1944.7,864.4 1946.7,864.4 1948.7,864.4 1948.7,864.4 1950.7,864.4 1952.7,866.4 1952.7,866.4 1954.7,866.4 1956.7,866.4 1958.7,866.4 1958.7,866.4 1960.7,866.4 1962.7,868.4 1964.7,868.4 1964.7,868.4 1966.7,868.4 1968.7,868.4 1968.7,868.4 1970.7,870.4 1972.7,870.4 1974.7,870.4 1974.7,870.4 1976.7,870.4 1978.7,870.4 1978.7,870.4 1980.7,870.4 1982.7,872.4 1984.7,872.4 1984.7,872.4 1986.7,872.4 1988.7,872.4 1990.7,872.4 1990.7,872.4 1992.7,872.4 1994.7,874.4 1994.7,874.4 1996.7,874.4 1998.7,874.4" fill="none" stroke="#00B06A" stroke-width="2.8"/><path d="M266.7,1472.8l12.1,-21.6h-24.2zM268.7,1472.8l12.1,-21.6h-24.2zM268.7,1472.8l12.1,-21.6h-24.2zM270.7,1472.8l12.1,-21.6h-24.2zM272.7,1472.8l12.1,-21.6h-24.2zM274.7,1472.8l12.1,-21.6h-24.2zM274.7,1472.8l12.1,-21.6h-24.2zM276.7,1472.8l12.1,-21.6h-24.2zM278.7,1472.8l12.1,-21.6h-24.2zM278.7,1472.8l12.1,-21.6h-24.2zM280.7,1472.8l12.1,-21.6h-24.2zM282.7,1472.8l12.1,-21.6h-24.2zM284.7,1472.8l12.1,-21.6h-24.2zM284.7,1472.8l12.1,-21.6h-24.2zM286.7,1472.8l12.1,-21.6h-24.2zM288.7,1472.8l12.1,-21.6h-24.2zM290.7,1472.8l12.1,-21.6h-24.2zM290.7,1472.8l12.1,-21.6h-24.2zM292.7,1472.8l12.1,-21.6h-24.2zM294.7,1472.8l12.1,-21.6h-24.2zM294.7,1472.8l12.1,-21.6h-24.2zM296.7,1472.8l12.1,-21.6h-24.2zM298.7,1472.8l12.1,-21.6h-24.2zM300.7,1472.8l12.1,-21.6h-24.2zM300.7,1472.8l12.1,-21.6h-24.2zM302.7,1472.8l12.1,-21.6h-24.2zM304.7,1472.8l12.1,-21.6h-24.2zM304.7,1472.8l12.1,-21.6h-24.2zM306.7,1472.8l12.1,-21.6h-24.2zM308.7,1472.8l12.1,-21.6h-24.2zM310.7,1472.8l12.1,-21.6h-24.2zM310.7,1472.8l12.1,-21.6h-24.2zM312.7,1472.8l12.1,-21.6h-24.2zM314.7,1472.8l12.1,-21.6h-24.2zM316.7,1472.8l12.1,-21.6h-24.2zM316.7,1472.8l12.1,-21.6h-24.2zM318.7,1472.8l12.1,-21.6h-24.2zM320.7,1472.8l12.1,-21.6h-24.2zM320.7,1472.8l12.1,-21.6h-24.2zM322.7,1472.8l12.1,-21.6h-24.2zM324.7,1472.8l12.1,-21.6h-24.2zM326.7,1472.8l12.1,-21.6h-24.2zM326.7,1472.8l12.1,-21.6h-24.2zM328.7,1472.8l12.1,-21.6h-24.2zM330.7,1472.8l12.1,-21.6h-24.2zM330.7,1472.8l12.1,-21.6h-24.2zM332.7,1472.8l12.1,-21.6h-24.2zM334.7,1472.8l12.1,-21.6h-24.2zM336.7,1472.8l12.1,-21.6h-24.2zM336.7,1472.8l12.1,-21.6h-24.2zM338.7,1472.8l12.1,-21.6h-24.2zM340.7,1472.8l12.1,-21.6h-24.2zM342.7,1472.8l12.1,-21.6h-24.2zM342.7,1472.8l12.1,-21.6h-24.2zM344.7,1472.8l12.1,-21.6h-24.2zM346.7,1472.8l12.1,-21.6h-24.2zM346.7,1472.8l12.1,-21.6h-24.2zM348.7,1472.8l12.1,-21.6h-24.2zM350.7,1472.8l12.1,-21.6h-24.2zM352.7,1472.8l12.1,-21.6h-24.2zM352.7,1472.8l12.1,-21.6h-24.2zM354.7,1472.8l12.1,-21.6h-24.2zM356.7,1472.8l12.1,-21.6h-24.2zM356.7,1472.8l12.1,-21.6h-24.2zM358.7,1472.8l12.1,-21.6h-24.2zM360.7,1472.8l12.1,-21.6h-24.2zM362.7,1472.8l12.1,-21.6h-24.2zM362.7,1472.8l12.1,-21.6h-24.2zM364.7,1472.8l12.1,-21.6h-24.2zM366.7,1472.8l12.1,-21.6h-24.2zM368.7,1472.8l12.1,-21.6h-24.2zM368.7,1472.8l12.1,-21.6h-24.2zM370.7,1472.8l12.1,-21.6h-24.2zM372.7,1472.8l12.1,-21.6h-24.2zM372.7,1472.8l12.1,-21.6h-24.2zM374.7,1472.8l12.1,-21.6h-24.2zM376.7,1472.8l12.1,-21.6h-24.2zM378.7,1472.8l12.1,-21.6h-24.2zM378.7,1472.8l12.1,-21.6h-24.2zM380.7,1472.8l12.1,-21.6h-24.2zM382.7,1472.8l12.1,-21.6h-24.2zM382.7,1472.8l12.1,-21.6h-24.2zM384.7,1472.8l12.1,-21.6h-24.2zM386.7,1472.8l12.1,-21.6h-24.2zM388.7,1472.8l12.1,-21.6h-24.2zM388.7,1472.8l12.1,-21.6h-24.2zM390.7,1472.8l12.1,-21.6h-24.2zM392.7,1472.8l12.1,-21.6h-24.2zM392.7,1472.8l12.1,-21.6h-24.2zM394.7,1472.8l12.1,-21.6h-24.2zM396.7,1472.8l12.1,-21.6h-24.2zM398.7,1472.8l12.1,-21.6h-24.2zM398.7,1472.8l12.1,-21.6h-24.2zM400.7,1472.8l12.1,-21.6h-24.2zM402.7,1472.8l12.1,-21.6h-24.2zM404.7,1472.8l12.1,-21.6h-24.2zM404.7,1472.8l12.1,-21.6h-24.2zM406.7,1472.8l12.1,-21.6h-24.2zM408.7,1472.8l12.1,-21.6h-24.2zM408.7,1472.8l12.1,-21.6h-24.2zM410.7,1472.8l12.1,-21.6h-24.2zM412.7,1472.8l12.1,-21.6h-24.2zM414.7,1472.8l12.1,-21.6h-24.2zM414.7,1472.8l12.1,-21.6h-24.2zM416.7,1472.8l12.1,-21.6h-24.2zM418.7,1472.8l12.1,-21.6h-24.2zM418.7,1472.8l12.1,-21.6h-24.2zM420.7,1472.8l12.1,-21.6h-24.2zM422.7,1472.8l12.1,-21.6h-24.2zM424.7,1472.8l12.1,-21.6h-24.2zM424.7,1472.8l12.1,-21.6h-24.2zM426.7,1472.8l12.1,-21.6h-24.2zM428.7,1472.8l12.1,-21.6h-24.2zM430.7,1472.8l12.1,-21.6h-24.2zM430.7,1472.8l12.1,-21.6h-24.2zM432.7,1472.8l12.1,-21.6h-24.2zM434.7,1472.8l12.1,-21.6h-24.2zM434.7,1472.8l12.1,-21.6h-24.2zM436.7,1472.8l12.1,-21.6h-24.2zM438.7,1472.8l12.1,-21.6h-24.2zM440.7,1472.8l12.1,-21.6h-24.2zM440.7,1472.8l12.1,-21.6h-24.2zM442.7,1472.8l12.1,-21.6h-24.2zM444.7,1472.8l12.1,-21.6h-24.2zM444.7,1472.8l12.1,-21.6h-24.2zM446.7,1472.8l12.1,-21.6h-24.2zM448.7,1472.8l12.1,-21.6h-24.2zM450.7,1472.8l12.1,-21.6h-24.2zM450.7,1472.8l12.1,-21.6h-24.2zM452.7,1472.8l12.1,-21.6h-24.2zM454.7,1472.8l12.1,-21.6h-24.2zM456.7,1472.8l12.1,-21.6h-24.2zM456.7,1472.8l12.1,-21.6h-24.2zM458.7,1472.8l12.1,-21.6h-24.2zM460.7,1472.8l12.1,-21.6h-24.2zM460.7,1472.8l12.1,-21.6h-24.2zM462.7,1472.8l12.1,-21.6h-24.2zM464.7,1472.8l12.1,-21.6h-24.2zM466.7,1472.8l12.1,-21.6h-24.2zM466.7,1472.8l12.1,-21.6h-24.2zM468.7,1472.8l12.1,-21.6h-24.2zM470.7,1472.8l12.1,-21.6h-24.2zM470.7,1472.8l12.1,-21.6h-24.2zM472.7,1472.8l12.1,-21.6h-24.2zM474.7,1472.8l12.1,-21.6h-24.2zM476.7,1472.8l12.1,-21.6h-24.2zM476.7,1472.8l12.1,-21.6h-24.2zM478.7,1472.8l12.1,-21.6h-24.2zM480.7,1472.8l12.1,-21.6h-24.2zM482.7,1472.8l12.1,-21.6h-24.2zM482.7,1472.8l12.1,-21.6h-24.2zM484.7,1472.8l12.1,-21.6h-24.2zM486.7,1472.8l12.1,-21.6h-24.2zM486.7,1472.8l12.1,-21.6h-24.2zM488.7,1472.8l12.1,-21.6h-24.2zM490.7,1472.8l12.1,-21.6h-24.2zM492.7,1472.8l12.1,-21.6h-24.2zM492.7,1472.8l12.1,-21.6h-24.2zM494.7,1472.8l12.1,-21.6h-24.2zM496.7,1472.8l12.1,-21.6h-24.2zM496.7,1472.8l12.1,-21.6h-24.2zM498.7,1472.8l12.1,-21.6h-24.2zM500.7,1472.8l12.1,-21.6h-24.2zM502.7,1472.8l12.1,-21.6h-24.2zM502.7,1472.8l12.1,-21.6h-24.2zM504.7,1472.8l12.1,-21.6h-24.2zM506.7,1472.8l12.1,-21.6h-24.2zM506.7,1472.8l12.1,-21.6h-24.2zM508.7,1472.8l12.1,-21.6h-24.2zM510.7,1472.8l12.1,-21.6h-24.2zM512.7,1472.8l12.1,-21.6h-24.2zM512.7,1472.8l12.1,-21.6h-24.2zM514.7,1472.8l12.1,-21.6h-24.2zM516.7,1472.8l12.1,-21.6h-24.2zM518.7,1472.8l12.1,-21.6h-24.2zM518.7,1472.8l12.1,-21.6h-24.2zM520.7,1472.8l12.1,-21.6h-24.2zM522.7,1472.8l12.1,-21.6h-24.2zM522.7,1472.8l12.1,-21.6h-24.2zM524.7,1472.8l12.1,-21.6h-24.2zM526.7,1472.8l12.1,-21.6h-24.2zM528.7,1472.8l12.1,-21.6h-24.2zM528.7,1472.8l12.1,-21.6h-24.2zM530.7,1472.8l12.1,-21.6h-24.2zM532.7,1472.8l12.1,-21.6h-24.2zM532.7,1472.8l12.1,-21.6h-24.2zM534.7,1472.8l12.1,-21.6h-24.2zM536.7,1472.8l12.1,-21.6h-24.2zM538.7,1472.8l12.1,-21.6h-24.2zM538.7,1472.8l12.1,-21.6h-24.2zM540.7,1472.8l12.1,-21.6h-24.2zM542.7,1472.8l12.1,-21.6h-24.2zM544.7,1472.8l12.1,-21.6h-24.2zM544.7,1472.8l12.1,-21.6h-24.2zM546.7,1472.8l12.1,-21.6h-24.2zM548.7,1472.8l12.1,-21.6h-24.2zM548.7,1472.8l12.1,-21.6h-24.2zM550.7,1472.8l12.1,-21.6h-24.2zM552.7,1472.8l12.1,-21.6h-24.2zM554.7,1472.8l12.1,-21.6h-24.2zM554.7,1472.8l12.1,-21.6h-24.2zM556.7,1472.8l12.1,-21.6h-24.2zM558.7,1472.8l12.1,-21.6h-24.2zM558.7,1472.8l12.1,-21.6h-24.2zM560.7,1472.8l12.1,-21.6h-24.2zM562.7,1472.8l12.1,-21.6h-24.2zM564.7,1472.8l12.1,-21.6h-24.2zM564.7,1472.8l12.1,-21.6h-24.2zM566.7,1472.8l12.1,-21.6h-24.2zM568.7,1472.8l12.1,-21.6h-24.2zM570.7,1472.8l12.1,-21.6h-24.2zM570.7,1472.8l12.1,-21.6h-24.2zM572.7,1472.8l12.1,-21.6h-24.2zM574.7,1472.8l12.1,-21.6h-24.2zM574.7,1472.8l12.1,-21.6h-24.2zM576.7,1472.8l12.1,-21.6h-24.2zM578.7,1472.8l12.1,-21.6h-24.2zM580.7,1472.8l12.1,-21.6h-24.2zM580.7,1472.8l12.1,-21.6h-24.2zM582.7,1472.8l12.1,-21.6h-24.2zM584.7,1472.8l12.1,-21.6h-24.2zM584.7,1472.8l12.1,-21.6h-24.2zM586.7,1472.8l12.1,-21.6h-24.2zM588.7,1472.8l12.1,-21.6h-24.2zM590.7,1472.8l12.1,-21.6h-24.2zM590.7,1472.8l12.1,-21.6h-24.2zM592.7,1472.8l12.1,-21.6h-24.2zM594.7,1472.8l12.1,-21.6h-24.2zM596.7,1472.8l12.1,-21.6h-24.2zM596.7,1472.8l12.1,-21.6h-24.2zM598.7,1472.8l12.1,-21.6h-24.2zM600.7,1472.8l12.1,-21.6h-24.2zM600.7,1472.8l12.1,-21.6h-24.2zM602.7,1472.8l12.1,-21.6h-24.2zM604.7,1472.8l12.1,-21.6h-24.2zM606.7,1472.8l12.1,-21.6h-24.2zM606.7,1472.8l12.1,-21.6h-24.2zM608.7,1472.8l12.1,-21.6h-24.2zM610.7,1472.8l12.1,-21.6h-24.2zM610.7,1472.8l12.1,-21.6h-24.2zM612.7,1472.8l12.1,-21.6h-24.2zM614.7,1472.8l12.1,-21.6h-24.2zM616.7,1472.8l12.1,-21.6h-24.2zM616.7,1472.8l12.1,-21.6h-24.2zM618.7,1472.8l12.1,-21.6h-24.2zM620.7,1472.8l12.1,-21.6h-24.2zM620.7,1472.8l12.1,-21.6h-24.2zM622.7,1472.8l12.1,-21.6h-24.2zM624.7,1472.8l12.1,-21.6h-24.2zM626.7,1472.8l12.1,-21.6h-24.2zM626.7,1472.8l12.1,-21.6h-24.2zM628.7,1472.8l12.1,-21.6h-24.2zM630.7,1472.8l12.1,-21.6h-24.2zM632.7,1472.8l12.1,-21.6h-24.2zM632.7,1472.8l12.1,-21.6h-24.2zM634.7,1472.8l12.1,-21.6h-24.2zM636.7,1472.8l12.1,-21.6h-24.2zM636.7,1472.8l12.1,-21.6h-24.2zM638.7,1472.8l12.1,-21.6h-24.2zM640.7,1472.8l12.1,-21.6h-24.2zM642.7,1472.8l12.1,-21.6h-24.2zM642.7,1472.8l12.1,-21.6h-24.2zM644.7,1472.8l12.1,-21.6h-24.2zM646.7,1472.8l12.1,-21.6h-24.2zM646.7,1472.8l12.1,-21.6h-24.2zM648.7,1472.8l12.1,-21.6h-24.2zM650.7,1472.8l12.1,-21.6h-24.2zM652.7,1472.8l12.1,-21.6h-24.2zM652.7,1472.8l12.1,-21.6h-24.2zM654.7,1472.8l12.1,-21.6h-24.2zM656.7,1472.8l12.1,-21.6h-24.2zM658.7,1472.8l12.1,-21.6h-24.2zM658.7,1472.8l12.1,-21.6h-24.2zM660.7,1472.8l12.1,-21.6h-24.2zM662.7,1472.8l12.1,-21.6h-24.2zM662.7,1472.8l12.1,-21.6h-24.2zM664.7,1472.8l12.1,-21.6h-24.2zM666.7,1472.8l12.1,-21.6h-24.2zM668.7,1472.8l12.1,-21.6h-24.2zM668.7,1472.8l12.1,-21.6h-24.2zM670.7,1472.8l12.1,-21.6h-24.2zM672.7,1472.8l12.1,-21.6h-24.2zM672.7,1472.8l12.1,-21.6h-24.2zM674.7,1472.8l12.1,-21.6h-24.2zM676.7,1472.8l12.1,-21.6h-24.2zM678.7,1472.8l12.1,-21.6h-24.2zM678.7,1472.8l12.1,-21.6h-24.2zM680.7,1472.8l12.1,-21.6h-24.2zM682.7,1470.8l12.1,-21.6h-24.2zM684.7,1470.8l12.1,-21.6h-24.2zM684.7,1470.8l12.1,-21.6h-24.2zM686.7,1470.8l12.1,-21.6h-24.2zM688.7,1470.8l12.1,-21.6h-24.2zM688.7,1470.8l12.1,-21.6h-24.2zM690.7,1470.8l12.1,-21.6h-24.2zM692.7,1470.8l12.1,-21.6h-24.2zM694.7,1468.8l12.1,-21.6h-24.2zM694.7,1468.8l12.1,-21.6h-24.2zM696.7,1468.8l12.1,-21.6h-24.2zM698.7,1468.8l12.1,-21.6h-24.2zM698.7,1468.8l12.1,-21.6h-24.2zM700.7,1468.8l12.1,-21.6h-24.2zM702.7,1468.8l12.1,-21.6h-24.2zM704.7,1468.8l12.1,-21.6h-24.2zM704.7,1468.8l12.1,-21.6h-24.2zM706.7,1468.8l12.1,-21.6h-24.2zM708.7,1466.8l12.1,-21.6h-24.2zM710.7,1466.8l12.1,-21.6h-24.2zM710.7,1468.8l12.1,-21.6h-24.2zM712.7,1466.8l12.1,-21.6h-24.2zM714.7,1466.8l12.1,-21.6h-24.2zM714.7,1466.8l12.1,-21.6h-24.2zM716.7,1466.8l12.1,-21.6h-24.2zM718.7,1466.8l12.1,-21.6h-24.2zM720.7,1466.8l12.1,-21.6h-24.2zM720.7,1466.8l12.1,-21.6h-24.2zM722.7,1466.8l12.1,-21.6h-24.2zM724.7,1466.8l12.1,-21.6h-24.2zM724.7,1464.8l12.1,-21.6h-24.2zM726.7,1464.8l12.1,-21.6h-24.2zM728.7,1464.8l12.1,-21.6h-24.2zM730.7,1464.8l12.1,-21.6h-24.2zM730.7,1464.8l12.1,-21.6h-24.2zM732.7,1464.8l12.1,-21.6h-24.2zM734.7,1462.8l12.1,-21.6h-24.2zM736.7,1462.8l12.1,-21.6h-24.2zM736.7,1462.8l12.1,-21.6h-24.2zM738.7,1462.8l12.1,-21.6h-24.2zM740.7,1460.8l12.1,-21.6h-24.2zM740.7,1460.8l12.1,-21.6h-24.2zM742.7,1460.8l12.1,-21.6h-24.2zM744.7,1460.8l12.1,-21.6h-24.2zM746.7,1460.8l12.1,-21.6h-24.2zM746.7,1460.8l12.1,-21.6h-24.2zM748.7,1460.8l12.1,-21.6h-24.2zM750.7,1458.8l12.1,-21.6h-24.2zM750.7,1458.8l12.1,-21.6h-24.2zM752.7,1458.8l12.1,-21.6h-24.2zM754.7,1458.8l12.1,-21.6h-24.2zM756.7,1458.8l12.1,-21.6h-24.2zM756.7,1458.8l12.1,-21.6h-24.2zM758.7,1456.8l12.1,-21.6h-24.2zM760.7,1456.8l12.1,-21.6h-24.2zM760.7,1456.8l12.1,-21.6h-24.2zM762.7,1456.8l12.1,-21.6h-24.2zM764.7,1454.8l12.1,-21.6h-24.2zM766.7,1454.8l12.1,-21.6h-24.2zM766.7,1454.8l12.1,-21.6h-24.2zM768.7,1454.8l12.1,-21.6h-24.2zM770.7,1452.8l12.1,-21.6h-24.2zM772.7,1452.8l12.1,-21.6h-24.2zM772.7,1452.8l12.1,-21.6h-24.2zM774.7,1450.8l12.1,-21.6h-24.2zM776.7,1450.8l12.1,-21.6h-24.2zM776.7,1450.8l12.1,-21.6h-24.2zM778.7,1448.8l12.1,-21.6h-24.2zM780.7,1448.8l12.1,-21.6h-24.2zM782.7,1448.8l12.1,-21.6h-24.2zM782.7,1448.8l12.1,-21.6h-24.2zM784.7,1446.8l12.1,-21.6h-24.2zM786.7,1446.8l12.1,-21.6h-24.2zM786.7,1446.8l12.1,-21.6h-24.2zM788.7,1444.8l12.1,-21.6h-24.2zM790.7,1444.8l12.1,-21.6h-24.2zM792.7,1444.8l12.1,-21.6h-24.2zM792.7,1444.8l12.1,-21.6h-24.2zM794.7,1442.8l12.1,-21.6h-24.2zM796.7,1442.8l12.1,-21.6h-24.2zM798.7,1442.8l12.1,-21.6h-24.2zM798.7,1442.8l12.1,-21.6h-24.2zM800.7,1440.8l12.1,-21.6h-24.2zM802.7,1440.8l12.1,-21.6h-24.2zM802.7,1438.8l12.1,-21.6h-24.2zM804.7,1438.8l12.1,-21.6h-24.2zM806.7,1438.8l12.1,-21.6h-24.2zM808.7,1436.8l12.1,-21.6h-24.2zM808.7,1436.8l12.1,-21.6h-24.2zM810.7,1434.8l12.1,-21.6h-24.2zM812.7,1434.8l12.1,-21.6h-24.2zM812.7,1434.8l12.1,-21.6h-24.2zM814.7,1432.8l12.1,-21.6h-24.2zM816.7,1432.8l12.1,-21.6h-24.2zM818.7,1432.8l12.1,-21.6h-24.2zM818.7,1430.8l12.1,-21.6h-24.2zM820.7,1430.8l12.1,-21.6h-24.2zM822.7,1428.8l12.1,-21.6h-24.2zM824.7,1428.8l12.1,-21.6h-24.2zM824.7,1426.8l12.1,-21.6h-24.2zM826.7,1426.8l12.1,-21.6h-24.2zM828.7,1424.8l12.1,-21.6h-24.2zM828.7,1424.8l12.1,-21.6h-24.2zM830.7,1422.8l12.1,-21.6h-24.2zM832.7,1422.8l12.1,-21.6h-24.2zM834.7,1420.8l12.1,-21.6h-24.2zM834.7,1420.8l12.1,-21.6h-24.2zM836.7,1418.8l12.1,-21.6h-24.2zM838.7,1418.8l12.1,-21.6h-24.2zM838.7,1418.8l12.1,-21.6h-24.2zM840.7,1416.8l12.1,-21.6h-24.2zM842.7,1416.8l12.1,-21.6h-24.2zM844.7,1414.8l12.1,-21.6h-24.2zM844.7,1414.8l12.1,-21.6h-24.2zM846.7,1412.8l12.1,-21.6h-24.2zM848.7,1412.8l12.1,-21.6h-24.2zM850.7,1410.8l12.1,-21.6h-24.2zM850.7,1410.8l12.1,-21.6h-24.2zM852.7,1408.8l12.1,-21.6h-24.2zM854.7,1408.8l12.1,-21.6h-24.2zM854.7,1406.8l12.1,-21.6h-24.2zM856.7,1404.8l12.1,-21.6h-24.2zM858.7,1404.8l12.1,-21.6h-24.2zM860.7,1402.8l12.1,-21.6h-24.2zM860.7,1402.8l12.1,-21.6h-24.2zM862.7,1400.8l12.1,-21.6h-24.2zM864.7,1398.8l12.1,-21.6h-24.2zM864.7,1398.8l12.1,-21.6h-24.2zM866.7,1396.8l12.1,-21.6h-24.2zM868.7,1394.8l12.1,-21.6h-24.2zM870.7,1392.8l12.1,-21.6h-24.2zM870.7,1392.8l12.1,-21.6h-24.2zM872.7,1390.8l12.1,-21.6h-24.2zM874.7,1388.8l12.1,-21.6h-24.2zM874.7,1388.8l12.1,-21.6h-24.2zM876.7,1386.8l12.1,-21.6h-24.2zM878.7,1384.8l12.1,-21.6h-24.2zM880.7,1382.8l12.1,-21.6h-24.2zM880.7,1380.8l12.1,-21.6h-24.2zM882.7,1380.8l12.1,-21.6h-24.2zM884.7,1378.8l12.1,-21.6h-24.2zM886.7,1376.8l12.1,-21.6h-24.2zM886.7,1374.8l12.1,-21.6h-24.2zM888.7,1372.8l12.1,-21.6h-24.2zM890.7,1370.8l12.1,-21.6h-24.2zM890.7,1368.8l12.1,-21.6h-24.2zM892.7,1366.8l12.1,-21.6h-24.2zM894.7,1366.8l12.1,-21.6h-24.2zM896.7,1364.8l12.1,-21.6h-24.2zM896.7,1362.8l12.1,-21.6h-24.2zM898.7,1360.8l12.1,-21.6h-24.2zM900.7,1358.8l12.1,-21.6h-24.2zM900.7,1356.8l12.1,-21.6h-24.2zM902.7,1354.8l12.1,-21.6h-24.2zM904.7,1352.8l12.1,-21.6h-24.2zM906.7,1350.8l12.1,-21.6h-24.2zM906.7,1348.8l12.1,-21.6h-24.2zM908.7,1346.8l12.1,-21.6h-24.2zM910.7,1344.8l12.1,-21.6h-24.2zM912.7,1342.8l12.1,-21.6h-24.2zM912.7,1340.8l12.1,-21.6h-24.2zM914.7,1338.8l12.1,-21.6h-24.2zM916.7,1336.8l12.1,-21.6h-24.2zM916.7,1334.8l12.1,-21.6h-24.2zM918.7,1332.8l12.1,-21.6h-24.2zM920.7,1328.8l12.1,-21.6h-24.2zM922.7,1326.8l12.1,-21.6h-24.2zM922.7,1324.8l12.1,-21.6h-24.2zM924.7,1322.8l12.1,-21.6h-24.2zM926.7,1320.8l12.1,-21.6h-24.2zM926.7,1318.8l12.1,-21.6h-24.2zM928.7,1314.8l12.1,-21.6h-24.2zM930.7,1312.8l12.1,-21.6h-24.2zM932.7,1310.8l12.1,-21.6h-24.2zM932.7,1306.8l12.1,-21.6h-24.2zM934.7,1304.8l12.1,-21.6h-24.2zM936.7,1302.8l12.1,-21.6h-24.2zM938.7,1298.8l12.1,-21.6h-24.2zM938.7,1296.8l12.1,-21.6h-24.2zM940.7,1292.8l12.1,-21.6h-24.2zM942.7,1288.8l12.1,-21.6h-24.2zM942.7,1286.8l12.1,-21.6h-24.2zM944.7,1282.8l12.1,-21.6h-24.2zM946.7,1280.8l12.1,-21.6h-24.2zM948.7,1276.8l12.1,-21.6h-24.2zM948.7,1272.8l12.1,-21.6h-24.2zM950.7,1270.8l12.1,-21.6h-24.2zM952.7,1266.8l12.1,-21.6h-24.2zM952.7,1264.8l12.1,-21.6h-24.2zM954.7,1260.8l12.1,-21.6h-24.2zM956.7,1256.8l12.1,-21.6h-24.2zM958.7,1252.8l12.1,-21.6h-24.2zM958.7,1250.8l12.1,-21.6h-24.2zM960.7,1246.8l12.1,-21.6h-24.2zM962.7,1242.8l12.1,-21.6h-24.2zM964.7,1238.8l12.1,-21.6h-24.2zM964.7,1234.8l12.1,-21.6h-24.2zM966.7,1230.8l12.1,-21.6h-24.2zM968.7,1228.8l12.1,-21.6h-24.2zM968.7,1224.8l12.1,-21.6h-24.2zM970.7,1220.8l12.1,-21.6h-24.2zM972.7,1216.8l12.1,-21.6h-24.2zM974.7,1212.8l12.1,-21.6h-24.2zM974.7,1208.8l12.1,-21.6h-24.2zM976.7,1204.8l12.1,-21.6h-24.2zM978.7,1200.8l12.1,-21.6h-24.2zM978.7,1196.8l12.1,-21.6h-24.2zM980.7,1192.8l12.1,-21.6h-24.2zM982.7,1186.8l12.1,-21.6h-24.2zM984.7,1182.8l12.1,-21.6h-24.2zM984.7,1178.8l12.1,-21.6h-24.2zM986.7,1174.8l12.1,-21.6h-24.2zM988.7,1170.8l12.1,-21.6h-24.2zM988.7,1164.8l12.1,-21.6h-24.2zM990.7,1160.8l12.1,-21.6h-24.2zM992.7,1154.8l12.1,-21.6h-24.2zM994.7,1150.8l12.1,-21.6h-24.2zM994.7,1144.8l12.1,-21.6h-24.2zM996.7,1140.8l12.1,-21.6h-24.2zM998.7,1136.8l12.1,-21.6h-24.2zM1000.7,1130.8l12.1,-21.6h-24.2zM1000.7,1126.8l12.1,-21.6h-24.2zM1002.7,1120.8l12.1,-21.6h-24.2zM1004.7,1116.8l12.1,-21.6h-24.2zM1004.7,1110.8l12.1,-21.6h-24.2zM1006.7,1106.8l12.1,-21.6h-24.2zM1008.7,1100.8l12.1,-21.6h-24.2zM1010.7,1096.8l12.1,-21.6h-24.2zM1010.7,1090.8l12.1,-21.6h-24.2zM1012.7,1084.8l12.1,-21.6h-24.2zM1014.7,1080.8l12.1,-21.6h-24.2zM1014.7,1074.8l12.1,-21.6h-24.2zM1016.7,1068.8l12.1,-21.6h-24.2zM1018.7,1062.8l12.1,-21.6h-24.2zM1020.7,1058.8l12.1,-21.6h-24.2zM1020.7,1052.8l12.1,-21.6h-24.2zM1022.7,1046.8l12.1,-21.6h-24.2zM1024.7,1040.8l12.1,-21.6h-24.2zM1026.7,1034.8l12.1,-21.6h-24.2zM1026.7,1028.8l12.1,-21.6h-24.2zM1028.7,1022.8l12.1,-21.6h-24.2zM1030.7,1018.8l12.1,-21.6h-24.2zM1030.7,1012.8l12.1,-21.6h-24.2zM1032.7,1006.8l12.1,-21.6h-24.2zM1034.7,1000.8l12.1,-21.6h-24.2zM1036.7,994.8l12.1,-21.6h-24.2zM1036.7,988.8l12.1,-21.6h-24.2zM1038.7,982.8l12.1,-21.6h-24.2zM1040.7,976.8l12.1,-21.6h-24.2zM1040.7,970.8l12.1,-21.6h-24.2zM1042.7,964.8l12.1,-21.6h-24.2zM1044.7,958.8l12.1,-21.6h-24.2zM1046.7,950.8l12.1,-21.6h-24.2zM1046.7,944.8l12.1,-21.6h-24.2zM1048.7,938.8l12.1,-21.6h-24.2zM1050.7,932.8l12.1,-21.6h-24.2zM1052.7,926.8l12.1,-21.6h-24.2zM1052.7,920.8l12.1,-21.6h-24.2zM1054.7,914.8l12.1,-21.6h-24.2zM1056.7,908.8l12.1,-21.6h-24.2zM1056.7,902.8l12.1,-21.6h-24.2zM1058.7,896.8l12.1,-21.6h-24.2zM1060.7,888.8l12.1,-21.6h-24.2zM1062.7,882.8l12.1,-21.6h-24.2zM1062.7,876.8l12.1,-21.6h-24.2zM1064.7,870.8l12.1,-21.6h-24.2zM1066.7,864.8l12.1,-21.6h-24.2zM1066.7,858.8l12.1,-21.6h-24.2zM1068.7,852.8l12.1,-21.6h-24.2zM1070.7,846.8l12.1,-21.6h-24.2zM1072.7,840.8l12.1,-21.6h-24.2zM1072.7,834.8l12.1,-21.6h-24.2zM1074.7,828.8l12.1,-21.6h-24.2zM1076.7,822.8l12.1,-21.6h-24.2zM1078.7,816.8l12.1,-21.6h-24.2zM1078.7,810.8l12.1,-21.6h-24.2zM1080.7,804.8l12.1,-21.6h-24.2zM1082.7,798.8l12.1,-21.6h-24.2zM1082.7,792.8l12.1,-21.6h-24.2zM1084.7,786.8l12.1,-21.6h-24.2zM1086.7,782.8l12.1,-21.6h-24.2zM1088.7,776.8l12.1,-21.6h-24.2zM1088.7,770.8l12.1,-21.6h-24.2zM1090.7,764.8l12.1,-21.6h-24.2zM1092.7,758.8l12.1,-21.6h-24.2zM1092.7,754.8l12.1,-21.6h-24.2zM1094.7,748.8l12.1,-21.6h-24.2zM1096.7,742.8l12.1,-21.6h-24.2zM1098.7,736.8l12.1,-21.6h-24.2zM1098.7,732.8l12.1,-21.6h-24.2zM1100.7,726.8l12.1,-21.6h-24.2zM1102.7,720.8l12.1,-21.6h-24.2zM1102.7,716.8l12.1,-21.6h-24.2zM1104.7,710.8l12.1,-21.6h-24.2zM1106.7,706.8l12.1,-21.6h-24.2zM1108.7,700.8l12.1,-21.6h-24.2zM1108.7,696.8l12.1,-21.6h-24.2zM1110.7,690.8l12.1,-21.6h-24.2zM1112.7,686.8l12.1,-21.6h-24.2zM1114.7,680.8l12.1,-21.6h-24.2zM1114.7,676.8l12.1,-21.6h-24.2zM1116.7,672.8l12.1,-21.6h-24.2zM1118.7,666.8l12.1,-21.6h-24.2zM1118.7,662.8l12.1,-21.6h-24.2zM1120.7,656.8l12.1,-21.6h-24.2zM1122.7,652.8l12.1,-21.6h-24.2zM1124.7,648.8l12.1,-21.6h-24.2zM1124.7,642.8l12.1,-21.6h-24.2zM1126.7,638.8l12.1,-21.6h-24.2zM1128.7,634.8l12.1,-21.6h-24.2zM1128.7,628.8l12.1,-21.6h-24.2zM1130.7,624.8l12.1,-21.6h-24.2zM1132.7,620.8l12.1,-21.6h-24.2zM1134.7,616.8l12.1,-21.6h-24.2zM1134.7,612.8l12.1,-21.6h-24.2zM1136.7,606.8l12.1,-21.6h-24.2zM1138.7,602.8l12.1,-21.6h-24.2zM1140.7,598.8l12.1,-21.6h-24.2zM1140.7,594.8l12.1,-21.6h-24.2zM1142.7,590.8l12.1,-21.6h-24.2zM1144.7,586.8l12.1,-21.6h-24.2zM1144.7,582.8l12.1,-21.6h-24.2zM1146.7,578.8l12.1,-21.6h-24.2zM1148.7,574.8l12.1,-21.6h-24.2zM1150.7,570.8l12.1,-21.6h-24.2zM1150.7,568.8l12.1,-21.6h-24.2zM1152.7,564.8l12.1,-21.6h-24.2zM1154.7,560.8l12.1,-21.6h-24.2zM1154.7,556.8l12.1,-21.6h-24.2zM1156.7,554.8l12.1,-21.6h-24.2zM1158.7,550.8l12.1,-21.6h-24.2zM1160.7,546.8l12.1,-21.6h-24.2zM1160.7,544.8l12.1,-21.6h-24.2zM1162.7,540.8l12.1,-21.6h-24.2zM1164.7,538.8l12.1,-21.6h-24.2zM1166.7,534.8l12.1,-21.6h-24.2zM1166.7,530.8l12.1,-21.6h-24.2zM1168.7,528.8l12.1,-21.6h-24.2zM1170.7,524.8l12.1,-21.6h-24.2zM1170.7,522.8l12.1,-21.6h-24.2zM1172.7,518.8l12.1,-21.6h-24.2zM1174.7,516.8l12.1,-21.6h-24.2zM1176.7,512.8l12.1,-21.6h-24.2zM1176.7,510.8l12.1,-21.6h-24.2zM1178.7,508.8l12.1,-21.6h-24.2zM1180.7,504.8l12.1,-21.6h-24.2zM1180.7,502.8l12.1,-21.6h-24.2zM1182.7,498.8l12.1,-21.6h-24.2zM1184.7,496.8l12.1,-21.6h-24.2zM1186.7,494.8l12.1,-21.6h-24.2zM1186.7,492.8l12.1,-21.6h-24.2zM1188.7,488.8l12.1,-21.6h-24.2zM1190.7,486.8l12.1,-21.6h-24.2zM1192.7,482.8l12.1,-21.6h-24.2zM1192.7,480.8l12.1,-21.6h-24.2zM1194.7,478.8l12.1,-21.6h-24.2zM1196.7,476.8l12.1,-21.6h-24.2zM1196.7,474.8l12.1,-21.6h-24.2zM1198.7,472.8l12.1,-21.6h-24.2zM1200.7,468.8l12.1,-21.6h-24.2zM1202.7,468.8l12.1,-21.6h-24.2zM1202.7,466.8l12.1,-21.6h-24.2zM1204.7,464.8l12.1,-21.6h-24.2zM1206.7,462.8l12.1,-21.6h-24.2zM1206.7,460.8l12.1,-21.6h-24.2zM1208.7,458.8l12.1,-21.6h-24.2zM1210.7,456.8l12.1,-21.6h-24.2zM1212.7,456.8l12.1,-21.6h-24.2zM1212.7,454.8l12.1,-21.6h-24.2zM1214.7,452.8l12.1,-21.6h-24.2zM1216.7,450.8l12.1,-21.6h-24.2zM1216.7,450.8l12.1,-21.6h-24.2zM1218.7,448.8l12.1,-21.6h-24.2zM1220.7,446.8l12.1,-21.6h-24.2zM1222.7,446.8l12.1,-21.6h-24.2zM1222.7,444.8l12.1,-21.6h-24.2zM1224.7,442.8l12.1,-21.6h-24.2zM1226.7,442.8l12.1,-21.6h-24.2zM1228.7,440.8l12.1,-21.6h-24.2zM1228.7,440.8l12.1,-21.6h-24.2zM1230.7,438.8l12.1,-21.6h-24.2zM1232.7,438.8l12.1,-21.6h-24.2zM1232.7,436.8l12.1,-21.6h-24.2zM1234.7,434.8l12.1,-21.6h-24.2zM1236.7,434.8l12.1,-21.6h-24.2zM1238.7,432.8l12.1,-21.6h-24.2zM1238.7,432.8l12.1,-21.6h-24.2zM1240.7,430.8l12.1,-21.6h-24.2zM1242.7,430.8l12.1,-21.6h-24.2zM1242.7,428.8l12.1,-21.6h-24.2zM1244.7,428.8l12.1,-21.6h-24.2zM1246.7,428.8l12.1,-21.6h-24.2zM1248.7,428.8l12.1,-21.6h-24.2zM1248.7,426.8l12.1,-21.6h-24.2zM1250.7,426.8l12.1,-21.6h-24.2zM1252.7,426.8l12.1,-21.6h-24.2zM1254.7,424.8l12.1,-21.6h-24.2zM1254.7,424.8l12.1,-21.6h-24.2zM1256.7,424.8l12.1,-21.6h-24.2zM1258.7,424.8l12.1,-21.6h-24.2zM1258.7,424.8l12.1,-21.6h-24.2zM1260.7,424.8l12.1,-21.6h-24.2zM1262.7,424.8l12.1,-21.6h-24.2zM1264.7,424.8l12.1,-21.6h-24.2zM1264.7,424.8l12.1,-21.6h-24.2zM1266.7,424.8l12.1,-21.6h-24.2zM1268.7,424.8l12.1,-21.6h-24.2zM1268.7,424.8l12.1,-21.6h-24.2zM1270.7,424.8l12.1,-21.6h-24.2zM1272.7,424.8l12.1,-21.6h-24.2zM1274.7,424.8l12.1,-21.6h-24.2zM1274.7,424.8l12.1,-21.6h-24.2zM1276.7,424.8l12.1,-21.6h-24.2zM1278.7,424.8l12.1,-21.6h-24.2zM1280.7,424.8l12.1,-21.6h-24.2zM1280.7,426.8l12.1,-21.6h-24.2zM1282.7,426.8l12.1,-21.6h-24.2zM1284.7,426.8l12.1,-21.6h-24.2zM1284.7,426.8l12.1,-21.6h-24.2zM1286.7,426.8l12.1,-21.6h-24.2zM1288.7,426.8l12.1,-21.6h-24.2zM1290.7,428.8l12.1,-21.6h-24.2zM1290.7,428.8l12.1,-21.6h-24.2zM1292.7,428.8l12.1,-21.6h-24.2zM1294.7,430.8l12.1,-21.6h-24.2zM1294.7,430.8l12.1,-21.6h-24.2zM1296.7,430.8l12.1,-21.6h-24.2zM1298.7,430.8l12.1,-21.6h-24.2zM1300.7,432.8l12.1,-21.6h-24.2zM1300.7,432.8l12.1,-21.6h-24.2zM1302.7,432.8l12.1,-21.6h-24.2zM1304.7,432.8l12.1,-21.6h-24.2zM1306.7,434.8l12.1,-21.6h-24.2zM1306.7,434.8l12.1,-21.6h-24.2zM1308.7,436.8l12.1,-21.6h-24.2zM1310.7,436.8l12.1,-21.6h-24.2zM1310.7,438.8l12.1,-21.6h-24.2zM1312.7,438.8l12.1,-21.6h-24.2zM1314.7,438.8l12.1,-21.6h-24.2zM1316.7,440.8l12.1,-21.6h-24.2zM1316.7,440.8l12.1,-21.6h-24.2zM1318.7,442.8l12.1,-21.6h-24.2zM1320.7,442.8l12.1,-21.6h-24.2zM1320.7,442.8l12.1,-21.6h-24.2zM1322.7,444.8l12.1,-21.6h-24.2zM1324.7,446.8l12.1,-21.6h-24.2zM1326.7,446.8l12.1,-21.6h-24.2zM1326.7,448.8l12.1,-21.6h-24.2zM1328.7,448.8l12.1,-21.6h-24.2zM1330.7,450.8l12.1,-21.6h-24.2zM1330.7,450.8l12.1,-21.6h-24.2zM1332.7,452.8l12.1,-21.6h-24.2zM1334.7,452.8l12.1,-21.6h-24.2zM1336.7,454.8l12.1,-21.6h-24.2zM1336.7,456.8l12.1,-21.6h-24.2zM1338.7,456.8l12.1,-21.6h-24.2zM1340.7,456.8l12.1,-21.6h-24.2zM1342.7,458.8l12.1,-21.6h-24.2zM1342.7,458.8l12.1,-21.6h-24.2zM1344.7,460.8l12.1,-21.6h-24.2zM1346.7,462.8l12.1,-21.6h-24.2zM1346.7,462.8l12.1,-21.6h-24.2zM1348.7,464.8l12.1,-21.6h-24.2zM1350.7,466.8l12.1,-21.6h-24.2zM1352.7,466.8l12.1,-21.6h-24.2zM1352.7,466.8l12.1,-21.6h-24.2zM1354.7,468.8l12.1,-21.6h-24.2zM1356.7,470.8l12.1,-21.6h-24.2zM1356.7,472.8l12.1,-21.6h-24.2zM1358.7,472.8l12.1,-21.6h-24.2zM1360.7,474.8l12.1,-21.6h-24.2zM1362.7,476.8l12.1,-21.6h-24.2zM1362.7,476.8l12.1,-21.6h-24.2zM1364.7,478.8l12.1,-21.6h-24.2zM1366.7,478.8l12.1,-21.6h-24.2zM1368.7,480.8l12.1,-21.6h-24.2zM1368.7,482.8l12.1,-21.6h-24.2zM1370.7,482.8l12.1,-21.6h-24.2zM1372.7,484.8l12.1,-21.6h-24.2zM1372.7,486.8l12.1,-21.6h-24.2zM1374.7,486.8l12.1,-21.6h-24.2zM1376.7,488.8l12.1,-21.6h-24.2zM1378.7,490.8l12.1,-21.6h-24.2zM1378.7,490.8l12.1,-21.6h-24.2zM1380.7,492.8l12.1,-21.6h-24.2zM1382.7,492.8l12.1,-21.6h-24.2zM1382.7,494.8l12.1,-21.6h-24.2zM1384.7,496.8l12.1,-21.6h-24.2zM1386.7,498.8l12.1,-21.6h-24.2zM1388.7,498.8l12.1,-21.6h-24.2zM1388.7,500.8l12.1,-21.6h-24.2zM1390.7,502.8l12.1,-21.6h-24.2zM1392.7,502.8l12.1,-21.6h-24.2zM1394.7,504.8l12.1,-21.6h-24.2zM1394.7,506.8l12.1,-21.6h-24.2zM1396.7,506.8l12.1,-21.6h-24.2zM1398.7,508.8l12.1,-21.6h-24.2zM1398.7,510.8l12.1,-21.6h-24.2zM1400.7,510.8l12.1,-21.6h-24.2zM1402.7,512.8l12.1,-21.6h-24.2zM1404.7,514.8l12.1,-21.6h-24.2zM1404.7,516.8l12.1,-21.6h-24.2zM1406.7,516.8l12.1,-21.6h-24.2zM1408.7,518.8l12.1,-21.6h-24.2zM1408.7,520.8l12.1,-21.6h-24.2zM1410.7,520.8l12.1,-21.6h-24.2zM1412.7,522.8l12.1,-21.6h-24.2zM1414.7,524.8l12.1,-21.6h-24.2zM1414.7,526.8l12.1,-21.6h-24.2zM1416.7,526.8l12.1,-21.6h-24.2zM1418.7,528.8l12.1,-21.6h-24.2zM1420.7,530.8l12.1,-21.6h-24.2zM1420.7,530.8l12.1,-21.6h-24.2zM1422.7,532.8l12.1,-21.6h-24.2zM1424.7,534.8l12.1,-21.6h-24.2zM1424.7,536.8l12.1,-21.6h-24.2zM1426.7,536.8l12.1,-21.6h-24.2zM1428.7,538.8l12.1,-21.6h-24.2zM1430.7,540.8l12.1,-21.6h-24.2zM1430.7,542.8l12.1,-21.6h-24.2zM1432.7,542.8l12.1,-21.6h-24.2zM1434.7,544.8l12.1,-21.6h-24.2zM1434.7,546.8l12.1,-21.6h-24.2zM1436.7,548.8l12.1,-21.6h-24.2zM1438.7,548.8l12.1,-21.6h-24.2zM1440.7,550.8l12.1,-21.6h-24.2zM1440.7,552.8l12.1,-21.6h-24.2zM1442.7,552.8l12.1,-21.6h-24.2zM1444.7,554.8l12.1,-21.6h-24.2zM1444.7,556.8l12.1,-21.6h-24.2zM1446.7,558.8l12.1,-21.6h-24.2zM1448.7,558.8l12.1,-21.6h-24.2zM1450.7,560.8l12.1,-21.6h-24.2zM1450.7,562.8l12.1,-21.6h-24.2zM1452.7,564.8l12.1,-21.6h-24.2zM1454.7,566.8l12.1,-21.6h-24.2zM1456.7,566.8l12.1,-21.6h-24.2zM1456.7,568.8l12.1,-21.6h-24.2zM1458.7,570.8l12.1,-21.6h-24.2zM1460.7,572.8l12.1,-21.6h-24.2zM1460.7,572.8l12.1,-21.6h-24.2zM1462.7,574.8l12.1,-21.6h-24.2zM1464.7,576.8l12.1,-21.6h-24.2zM1466.7,578.8l12.1,-21.6h-24.2zM1466.7,578.8l12.1,-21.6h-24.2zM1468.7,580.8l12.1,-21.6h-24.2zM1470.7,582.8l12.1,-21.6h-24.2zM1470.7,584.8l12.1,-21.6h-24.2zM1472.7,586.8l12.1,-21.6h-24.2zM1474.7,588.8l12.1,-21.6h-24.2zM1476.7,588.8l12.1,-21.6h-24.2zM1476.7,590.8l12.1,-21.6h-24.2zM1478.7,592.8l12.1,-21.6h-24.2zM1480.7,592.8l12.1,-21.6h-24.2zM1482.7,594.8l12.1,-21.6h-24.2zM1482.7,596.8l12.1,-21.6h-24.2zM1484.7,598.8l12.1,-21.6h-24.2zM1486.7,598.8l12.1,-21.6h-24.2zM1486.7,600.8l12.1,-21.6h-24.2zM1488.7,602.8l12.1,-21.6h-24.2zM1490.7,602.8l12.1,-21.6h-24.2zM1492.7,604.8l12.1,-21.6h-24.2zM1492.7,606.8l12.1,-21.6h-24.2zM1494.7,608.8l12.1,-21.6h-24.2zM1496.7,610.8l12.1,-21.6h-24.2zM1496.7,610.8l12.1,-21.6h-24.2zM1498.7,612.8l12.1,-21.6h-24.2zM1500.7,614.8l12.1,-21.6h-24.2zM1502.7,616.8l12.1,-21.6h-24.2zM1502.7,616.8l12.1,-21.6h-24.2zM1504.7,618.8l12.1,-21.6h-24.2zM1506.7,620.8l12.1,-21.6h-24.2zM1508.7,620.8l12.1,-21.6h-24.2zM1508.7,622.8l12.1,-21.6h-24.2zM1510.7,624.8l12.1,-21.6h-24.2zM1512.7,626.8l12.1,-21.6h-24.2zM1512.7,626.8l12.1,-21.6h-24.2zM1514.7,628.8l12.1,-21.6h-24.2zM1516.7,630.8l12.1,-21.6h-24.2zM1518.7,632.8l12.1,-21.6h-24.2zM1518.7,634.8l12.1,-21.6h-24.2zM1520.7,634.8l12.1,-21.6h-24.2zM1522.7,636.8l12.1,-21.6h-24.2zM1522.7,638.8l12.1,-21.6h-24.2zM1524.7,638.8l12.1,-21.6h-24.2zM1526.7,640.8l12.1,-21.6h-24.2zM1528.7,642.8l12.1,-21.6h-24.2zM1528.7,644.8l12.1,-21.6h-24.2zM1530.7,644.8l12.1,-21.6h-24.2zM1532.7,646.8l12.1,-21.6h-24.2zM1534.7,648.8l12.1,-21.6h-24.2zM1534.7,648.8l12.1,-21.6h-24.2zM1536.7,650.8l12.1,-21.6h-24.2zM1538.7,652.8l12.1,-21.6h-24.2zM1538.7,654.8l12.1,-21.6h-24.2zM1540.7,654.8l12.1,-21.6h-24.2zM1542.7,656.8l12.1,-21.6h-24.2zM1544.7,658.8l12.1,-21.6h-24.2zM1544.7,658.8l12.1,-21.6h-24.2zM1546.7,660.8l12.1,-21.6h-24.2zM1548.7,662.8l12.1,-21.6h-24.2zM1548.7,662.8l12.1,-21.6h-24.2zM1550.7,664.8l12.1,-21.6h-24.2zM1552.7,666.8l12.1,-21.6h-24.2zM1554.7,666.8l12.1,-21.6h-24.2zM1554.7,668.8l12.1,-21.6h-24.2zM1556.7,670.8l12.1,-21.6h-24.2zM1558.7,670.8l12.1,-21.6h-24.2zM1560.7,672.8l12.1,-21.6h-24.2zM1560.7,674.8l12.1,-21.6h-24.2zM1562.7,674.8l12.1,-21.6h-24.2zM1564.7,676.8l12.1,-21.6h-24.2zM1564.7,678.8l12.1,-21.6h-24.2zM1566.7,678.8l12.1,-21.6h-24.2zM1568.7,680.8l12.1,-21.6h-24.2zM1570.7,680.8l12.1,-21.6h-24.2zM1570.7,682.8l12.1,-21.6h-24.2zM1572.7,684.8l12.1,-21.6h-24.2zM1574.7,684.8l12.1,-21.6h-24.2zM1574.7,686.8l12.1,-21.6h-24.2zM1576.7,688.8l12.1,-21.6h-24.2zM1578.7,688.8l12.1,-21.6h-24.2zM1580.7,690.8l12.1,-21.6h-24.2zM1580.7,690.8l12.1,-21.6h-24.2zM1582.7,692.8l12.1,-21.6h-24.2zM1584.7,694.8l12.1,-21.6h-24.2zM1584.7,694.8l12.1,-21.6h-24.2zM1586.7,696.8l12.1,-21.6h-24.2zM1588.7,696.8l12.1,-21.6h-24.2zM1590.7,698.8l12.1,-21.6h-24.2zM1590.7,700.8l12.1,-21.6h-24.2zM1592.7,700.8l12.1,-21.6h-24.2zM1594.7,702.8l12.1,-21.6h-24.2zM1596.7,702.8l12.1,-21.6h-24.2zM1596.7,704.8l12.1,-21.6h-24.2zM1598.7,704.8l12.1,-21.6h-24.2zM1600.7,706.8l12.1,-21.6h-24.2zM1600.7,708.8l12.1,-21.6h-24.2zM1602.7,708.8l12.1,-21.6h-24.2zM1604.7,710.8l12.1,-21.6h-24.2zM1606.7,710.8l12.1,-21.6h-24.2zM1606.7,712.8l12.1,-21.6h-24.2zM1608.7,712.8l12.1,-21.6h-24.2zM1610.7,714.8l12.1,-21.6h-24.2zM1610.7,716.8l12.1,-21.6h-24.2zM1612.7,716.8l12.1,-21.6h-24.2zM1614.7,718.8l12.1,-21.6h-24.2zM1616.7,718.8l12.1,-21.6h-24.2zM1616.7,720.8l12.1,-21.6h-24.2zM1618.7,720.8l12.1,-21.6h-24.2zM1620.7,722.8l12.1,-21.6h-24.2zM1622.7,722.8l12.1,-21.6h-24.2zM1622.7,724.8l12.1,-21.6h-24.2zM1624.7,724.8l12.1,-21.6h-24.2zM1626.7,726.8l12.1,-21.6h-24.2zM1626.7,726.8l12.1,-21.6h-24.2zM1628.7,728.8l12.1,-21.6h-24.2zM1630.7,730.8l12.1,-21.6h-24.2zM1632.7,730.8l12.1,-21.6h-24.2zM1632.7,730.8l12.1,-21.6h-24.2zM1634.7,732.8l12.1,-21.6h-24.2zM1636.7,734.8l12.1,-21.6h-24.2zM1636.7,734.8l12.1,-21.6h-24.2zM1638.7,736.8l12.1,-21.6h-24.2zM1640.7,736.8l12.1,-21.6h-24.2zM1642.7,736.8l12.1,-21.6h-24.2zM1642.7,738.8l12.1,-21.6h-24.2zM1644.7,738.8l12.1,-21.6h-24.2zM1646.7,740.8l12.1,-21.6h-24.2zM1648.7,740.8l12.1,-21.6h-24.2zM1648.7,742.8l12.1,-21.6h-24.2zM1650.7,742.8l12.1,-21.6h-24.2zM1652.7,744.8l12.1,-21.6h-24.2zM1652.7,744.8l12.1,-21.6h-24.2zM1654.7,746.8l12.1,-21.6h-24.2zM1656.7,746.8l12.1,-21.6h-24.2zM1658.7,748.8l12.1,-21.6h-24.2zM1658.7,748.8l12.1,-21.6h-24.2zM1660.7,750.8l12.1,-21.6h-24.2zM1662.7,750.8l12.1,-21.6h-24.2zM1662.7,752.8l12.1,-21.6h-24.2zM1664.7,752.8l12.1,-21.6h-24.2zM1666.7,752.8l12.1,-21.6h-24.2zM1668.7,754.8l12.1,-21.6h-24.2zM1668.7,754.8l12.1,-21.6h-24.2zM1670.7,756.8l12.1,-21.6h-24.2zM1672.7,756.8l12.1,-21.6h-24.2zM1674.7,758.8l12.1,-21.6h-24.2zM1674.7,758.8l12.1,-21.6h-24.2zM1676.7,760.8l12.1,-21.6h-24.2zM1678.7,760.8l12.1,-21.6h-24.2zM1678.7,762.8l12.1,-21.6h-24.2zM1680.7,762.8l12.1,-21.6h-24.2zM1682.7,764.8l12.1,-21.6h-24.2zM1684.7,764.8l12.1,-21.6h-24.2zM1684.7,764.8l12.1,-21.6h-24.2zM1686.7,766.8l12.1,-21.6h-24.2zM1688.7,766.8l12.1,-21.6h-24.2zM1688.7,768.8l12.1,-21.6h-24.2zM1690.7,768.8l12.1,-21.6h-24.2zM1692.7,770.8l12.1,-21.6h-24.2zM1694.7,770.8l12.1,-21.6h-24.2zM1694.7,772.8l12.1,-21.6h-24.2zM1696.7,772.8l12.1,-21.6h-24.2zM1698.7,772.8l12.1,-21.6h-24.2zM1698.7,774.8l12.1,-21.6h-24.2zM1700.7,774.8l12.1,-21.6h-24.2zM1702.7,776.8l12.1,-21.6h-24.2zM1704.7,776.8l12.1,-21.6h-24.2zM1704.7,778.8l12.1,-21.6h-24.2zM1706.7,778.8l12.1,-21.6h-24.2zM1708.7,780.8l12.1,-21.6h-24.2zM1710.7,780.8l12.1,-21.6h-24.2zM1710.7,780.8l12.1,-21.6h-24.2zM1712.7,782.8l12.1,-21.6h-24.2zM1714.7,782.8l12.1,-21.6h-24.2zM1714.7,782.8l12.1,-21.6h-24.2zM1716.7,784.8l12.1,-21.6h-24.2zM1718.7,784.8l12.1,-21.6h-24.2zM1720.7,786.8l12.1,-21.6h-24.2zM1720.7,786.8l12.1,-21.6h-24.2zM1722.7,788.8l12.1,-21.6h-24.2zM1724.7,788.8l12.1,-21.6h-24.2zM1724.7,788.8l12.1,-21.6h-24.2zM1726.7,790.8l12.1,-21.6h-24.2zM1728.7,790.8l12.1,-21.6h-24.2zM1730.7,790.8l12.1,-21.6h-24.2zM1730.7,792.8l12.1,-21.6h-24.2zM1732.7,792.8l12.1,-21.6h-24.2zM1734.7,794.8l12.1,-21.6h-24.2zM1736.7,794.8l12.1,-21.6h-24.2zM1736.7,794.8l12.1,-21.6h-24.2zM1738.7,796.8l12.1,-21.6h-24.2zM1740.7,796.8l12.1,-21.6h-24.2zM1740.7,798.8l12.1,-21.6h-24.2zM1742.7,798.8l12.1,-21.6h-24.2zM1744.7,800.8l12.1,-21.6h-24.2zM1746.7,800.8l12.1,-21.6h-24.2zM1746.7,800.8l12.1,-21.6h-24.2zM1748.7,800.8l12.1,-21.6h-24.2zM1750.7,802.8l12.1,-21.6h-24.2zM1750.7,802.8l12.1,-21.6h-24.2zM1752.7,804.8l12.1,-21.6h-24.2zM1754.7,804.8l12.1,-21.6h-24.2zM1756.7,806.8l12.1,-21.6h-24.2zM1756.7,806.8l12.1,-21.6h-24.2zM1758.7,806.8l12.1,-21.6h-24.2zM1760.7,808.8l12.1,-21.6h-24.2zM1762.7,808.8l12.1,-21.6h-24.2zM1762.7,808.8l12.1,-21.6h-24.2zM1764.7,810.8l12.1,-21.6h-24.2zM1766.7,810.8l12.1,-21.6h-24.2zM1766.7,812.8l12.1,-21.6h-24.2zM1768.7,812.8l12.1,-21.6h-24.2zM1770.7,812.8l12.1,-21.6h-24.2zM1772.7,814.8l12.1,-21.6h-24.2zM1772.7,814.8l12.1,-21.6h-24.2zM1774.7,814.8l12.1,-21.6h-24.2zM1776.7,816.8l12.1,-21.6h-24.2zM1776.7,816.8l12.1,-21.6h-24.2zM1778.7,816.8l12.1,-21.6h-24.2zM1780.7,818.8l12.1,-21.6h-24.2zM1782.7,818.8l12.1,-21.6h-24.2zM1782.7,820.8l12.1,-21.6h-24.2zM1784.7,820.8l12.1,-21.6h-24.2zM1786.7,820.8l12.1,-21.6h-24.2zM1788.7,822.8l12.1,-21.6h-24.2zM1788.7,822.8l12.1,-21.6h-24.2zM1790.7,822.8l12.1,-21.6h-24.2zM1792.7,824.8l12.1,-21.6h-24.2zM1792.7,824.8l12.1,-21.6h-24.2zM1794.7,824.8l12.1,-21.6h-24.2zM1796.7,824.8l12.1,-21.6h-24.2zM1798.7,826.8l12.1,-21.6h-24.2zM1798.7,826.8l12.1,-21.6h-24.2zM1800.7,828.8l12.1,-21.6h-24.2zM1802.7,828.8l12.1,-21.6h-24.2zM1802.7,828.8l12.1,-21.6h-24.2zM1804.7,828.8l12.1,-21.6h-24.2zM1806.7,830.8l12.1,-21.6h-24.2zM1808.7,830.8l12.1,-21.6h-24.2zM1808.7,830.8l12.1,-21.6h-24.2zM1810.7,832.8l12.1,-21.6h-24.2zM1812.7,832.8l12.1,-21.6h-24.2zM1812.7,832.8l12.1,-21.6h-24.2zM1814.7,834.8l12.1,-21.6h-24.2zM1816.7,834.8l12.1,-21.6h-24.2zM1818.7,834.8l12.1,-21.6h-24.2zM1818.7,834.8l12.1,-21.6h-24.2zM1820.7,836.8l12.1,-21.6h-24.2zM1822.7,836.8l12.1,-21.6h-24.2zM1824.7,836.8l12.1,-21.6h-24.2zM1824.7,838.8l12.1,-21.6h-24.2zM1826.7,838.8l12.1,-21.6h-24.2zM1828.7,840.8l12.1,-21.6h-24.2zM1828.7,840.8l12.1,-21.6h-24.2zM1830.7,840.8l12.1,-21.6h-24.2zM1832.7,840.8l12.1,-21.6h-24.2zM1834.7,842.8l12.1,-21.6h-24.2zM1834.7,842.8l12.1,-21.6h-24.2zM1836.7,842.8l12.1,-21.6h-24.2zM1838.7,844.8l12.1,-21.6h-24.2zM1838.7,844.8l12.1,-21.6h-24.2zM1840.7,844.8l12.1,-21.6h-24.2zM1842.7,846.8l12.1,-21.6h-24.2zM1844.7,846.8l12.1,-21.6h-24.2zM1844.7,846.8l12.1,-21.6h-24.2zM1846.7,846.8l12.1,-21.6h-24.2zM1848.7,846.8l12.1,-21.6h-24.2zM1850.7,848.8l12.1,-21.6h-24.2zM1850.7,848.8l12.1,-21.6h-24.2zM1852.7,850.8l12.1,-21.6h-24.2zM1854.7,850.8l12.1,-21.6h-24.2zM1854.7,850.8l12.1,-21.6h-24.2zM1856.7,850.8l12.1,-21.6h-24.2zM1858.7,852.8l12.1,-21.6h-24.2zM1860.7,852.8l12.1,-21.6h-24.2zM1860.7,852.8l12.1,-21.6h-24.2zM1862.7,852.8l12.1,-21.6h-24.2zM1864.7,852.8l12.1,-21.6h-24.2zM1864.7,854.8l12.1,-21.6h-24.2zM1866.7,854.8l12.1,-21.6h-24.2zM1868.7,856.8l12.1,-21.6h-24.2zM1870.7,856.8l12.1,-21.6h-24.2zM1870.7,856.8l12.1,-21.6h-24.2zM1872.7,856.8l12.1,-21.6h-24.2zM1874.7,856.8l12.1,-21.6h-24.2zM1876.7,856.8l12.1,-21.6h-24.2zM1876.7,858.8l12.1,-21.6h-24.2zM1878.7,858.8l12.1,-21.6h-24.2zM1880.7,858.8l12.1,-21.6h-24.2zM1880.7,860.8l12.1,-21.6h-24.2zM1882.7,860.8l12.1,-21.6h-24.2zM1884.7,860.8l12.1,-21.6h-24.2zM1886.7,860.8l12.1,-21.6h-24.2zM1886.7,862.8l12.1,-21.6h-24.2zM1888.7,862.8l12.1,-21.6h-24.2zM1890.7,862.8l12.1,-21.6h-24.2zM1890.7,862.8l12.1,-21.6h-24.2zM1892.7,864.8l12.1,-21.6h-24.2zM1894.7,864.8l12.1,-21.6h-24.2zM1896.7,864.8l12.1,-21.6h-24.2zM1896.7,864.8l12.1,-21.6h-24.2zM1898.7,864.8l12.1,-21.6h-24.2zM1900.7,866.8l12.1,-21.6h-24.2zM1902.7,866.8l12.1,-21.6h-24.2zM1902.7,866.8l12.1,-21.6h-24.2zM1904.7,866.8l12.1,-21.6h-24.2zM1906.7,866.8l12.1,-21.6h-24.2zM1906.7,868.8l12.1,-21.6h-24.2zM1908.7,868.8l12.1,-21.6h-24.2zM1910.7,868.8l12.1,-21.6h-24.2zM1912.7,868.8l12.1,-21.6h-24.2zM1912.7,870.8l12.1,-21.6h-24.2zM1914.7,870.8l12.1,-21.6h-24.2zM1916.7,870.8l12.1,-21.6h-24.2zM1916.7,870.8l12.1,-21.6h-24.2zM1918.7,870.8l12.1,-21.6h-24.2zM1920.7,872.8l12.1,-21.6h-24.2zM1922.7,872.8l12.1,-21.6h-24.2zM1922.7,872.8l12.1,-21.6h-24.2zM1924.7,872.8l12.1,-21.6h-24.2zM1926.7,872.8l12.1,-21.6h-24.2zM1926.7,874.8l12.1,-21.6h-24.2zM1928.7,874.8l12.1,-21.6h-24.2zM1930.7,874.8l12.1,-21.6h-24.2zM1932.7,874.8l12.1,-21.6h-24.2zM1932.7,874.8l12.1,-21.6h-24.2zM1934.7,874.8l12.1,-21.6h-24.2zM1936.7,876.8l12.1,-21.6h-24.2zM1938.7,876.8l12.1,-21.6h-24.2zM1938.7,876.8l12.1,-21.6h-24.2zM1940.7,876.8l12.1,-21.6h-24.2zM1942.7,876.8l12.1,-21.6h-24.2zM1942.7,876.8l12.1,-21.6h-24.2zM1944.7,878.8l12.1,-21.6h-24.2zM1946.7,878.8l12.1,-21.6h-24.2zM1948.7,878.8l12.1,-21.6h-24.2zM1948.7,878.8l12.1,-21.6h-24.2zM1950.7,878.8l12.1,-21.6h-24.2zM1952.7,880.8l12.1,-21.6h-24.2zM1952.7,880.8l12.1,-21.6h-24.2zM1954.7,880.8l12.1,-21.6h-24.2zM1956.7,880.8l12.1,-21.6h-24.2zM1958.7,880.8l12.1,-21.6h-24.2zM1958.7,880.8l12.1,-21.6h-24.2zM1960.7,880.8l12.1,-21.6h-24.2zM1962.7,882.8l12.1,-21.6h-24.2zM1964.7,882.8l12.1,-21.6h-24.2zM1964.7,882.8l12.1,-21.6h-24.2zM1966.7,882.8l12.1,-21.6h-24.2zM1968.7,882.8l12.1,-21.6h-24.2zM1968.7,882.8l12.1,-21.6h-24.2zM1970.7,884.8l12.1,-21.6h-24.2zM1972.7,884.8l12.1,-21.6h-24.2zM1974.7,884.8l12.1,-21.6h-24.2zM1974.7,884.8l12.1,-21.6h-24.2zM1976.7,884.8l12.1,-21.6h-24.2zM1978.7,884.8l12.1,-21.6h-24.2zM1978.7,884.8l12.1,-21.6h-24.2zM1980.7,884.8l12.1,-21.6h-24.2zM1982.7,886.8l12.1,-21.6h-24.2zM1984.7,886.8l12.1,-21.6h-24.2zM1984.7,886.8l12.1,-21.6h-24.2zM1986.7,886.8l12.1,-21.6h-24.2zM1988.7,886.8l12.1,-21.6h-24.2zM1990.7,886.8l12.1,-21.6h-24.2zM1990.7,886.8l12.1,-21.6h-24.2zM1992.7,886.8l12.1,-21.6h-24.2zM1994.7,888.8l12.1,-21.6h-24.2zM1994.7,888.8l12.1,-21.6h-24.2zM1996.7,888.8l12.1,-21.6h-24.2zM1998.7,888.8l12.1,-21.6h-24.2z"/></g>
</g>
<g id="xticklabels" class="tk" text-anchor="middle">
<text transform="translate(265.4,1532.8) scale(0.906,1)">200</text>
<text transform="translate(409.7,1532.8) scale(0.906,1)">250</text>
<text transform="translate(554,1532.8) scale(0.906,1)">300</text>
<text transform="translate(698.3,1532.8) scale(0.906,1)">350</text>
<text transform="translate(842.6,1532.8) scale(0.906,1)">400</text>
<text transform="translate(986.9,1532.8) scale(0.906,1)">450</text>
<text transform="translate(1131.2,1532.8) scale(0.906,1)">500</text>
<text transform="translate(1275.6,1532.8) scale(0.906,1)">550</text>
<text transform="translate(1419.9,1532.8) scale(0.906,1)">600</text>
<text transform="translate(1564.2,1532.8) scale(0.906,1)">650</text>
<text transform="translate(1708.5,1532.8) scale(0.906,1)">700</text>
<text transform="translate(1852.8,1532.8) scale(0.906,1)">750</text>
<text transform="translate(1997.1,1532.8) scale(0.906,1)">800</text>
</g>
<g id="yticklabels" class="tk" text-anchor="end">
<text transform="translate(233.6,1474.2) scale(0.906,1)">0</text>
<text transform="translate(233.6,1334.9) scale(0.906,1)">10</text>
<text transform="translate(233.6,1195.5) scale(0.906,1)">20</text>
<text transform="translate(233.6,1056.2) scale(0.906,1)">30</text>
<text transform="translate(233.6,916.9) scale(0.906,1)">40</text>
<text transform="translate(233.6,777.5) scale(0.906,1)">50</text>
<text transform="translate(233.6,638.2) scale(0.906,1)">60</text>
<text transform="translate(233.6,498.9) scale(0.906,1)">70</text>
<text transform="translate(233.6,359.6) scale(0.906,1)">80</text>
<text transform="translate(233.6,220.2) scale(0.906,1)">90</text>
<text transform="translate(233.6,80.9) scale(0.906,1)">100</text>
</g>
<text class="ti" text-anchor="middle" transform="translate(1131.6,1643.8) scale(0.992,1)">Wavelength [nm]</text>
<text class="ti" text-anchor="middle" transform="translate(108.2,762) rotate(-90) scale(0.992,1)">Transmittance [%]</text>
<g id="legend">
<path d="M1273.7,956.4H1421.5" stroke="#505050" stroke-width="2.8" fill="none"/><path d="M1338.7,947.4h18.6v18h-18.6z" fill="#505050"/><text class="lg" transform="translate(1456.6,975.4) scale(0.958,1)">0-layer</text>
<path d="M1273.7,1036.5H1421.5" stroke="#FE3E3F" stroke-width="2.8" fill="none"/><path d="M1338.1,1036.5a9.9,9.9 0 1 0 19.8,0a9.9,9.9 0 1 0 -19.8,0z" fill="#FE3E3F"/><text class="lg" transform="translate(1456.6,1057.6) scale(0.958,1)">5-layers</text>
<path d="M1273.7,1118.5H1421.5" stroke="#0072E6" stroke-width="2.8" fill="none"/><path d="M1348,1104.1l12.1,21.6h-24.2z" fill="#0072E6"/><text class="lg" transform="translate(1456.6,1137.9) scale(0.958,1)">10-layers</text>
<path d="M1273.7,1198.5H1421.5" stroke="#00B06A" stroke-width="2.8" fill="none"/><path d="M1348,1212.9l12.1,-21.6h-24.2z" fill="#00B06A"/><text class="lg" transform="translate(1456.6,1218.8) scale(0.958,1)">29-layers</text>
</g>
</g>
</svg>
</body>
</html>
